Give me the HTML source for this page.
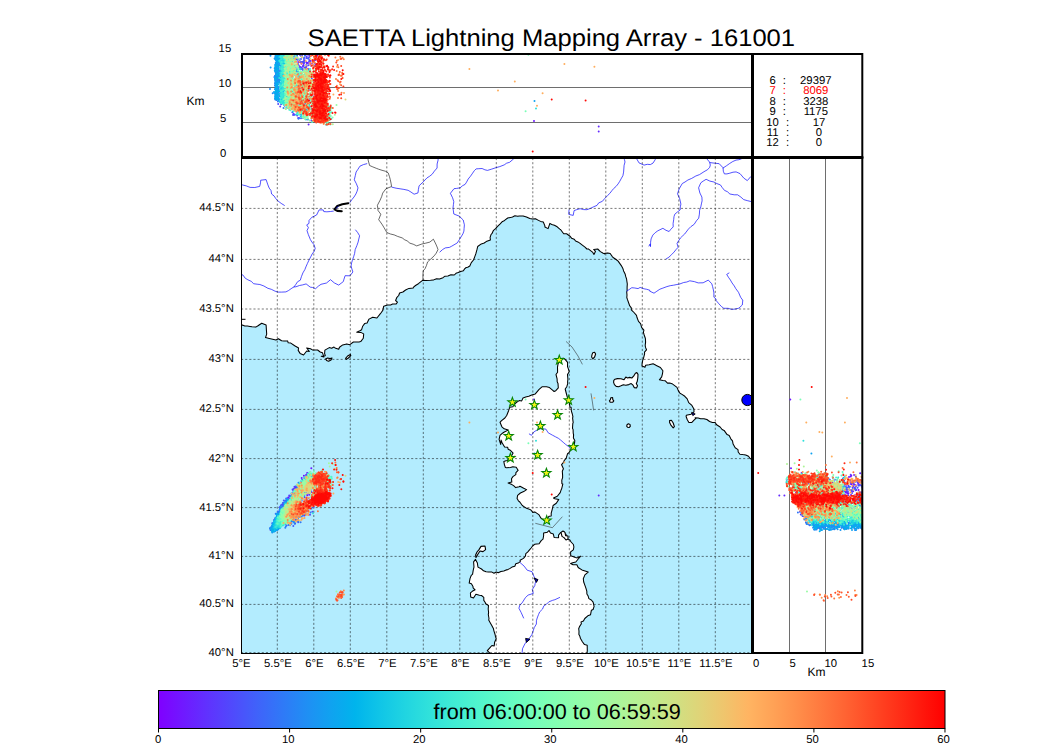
<!DOCTYPE html>
<html><head><meta charset="utf-8"><title>SAETTA Lightning Mapping Array - 161001</title>
<style>html,body{margin:0;padding:0;background:#fff;overflow:hidden}svg{display:block}text{font-family:"Liberation Sans",sans-serif}</style></head>
<body>
<svg width="1050" height="750" viewBox="0 0 1050 750" font-family="Liberation Sans, sans-serif" text-rendering="geometricPrecision">
<defs>
<clipPath id="cm"><rect x="241" y="158" width="511" height="495.5"/></clipPath>
<clipPath id="ct"><rect x="243" y="53.6" width="508" height="103"/></clipPath>
<clipPath id="cr"><rect x="754" y="159" width="108.2" height="493"/></clipPath>
<linearGradient id="rb" x1="0" x2="1" y1="0" y2="0"><stop offset="0" stop-color="#8000ff"/><stop offset="0.03125" stop-color="#7019ff"/><stop offset="0.0625" stop-color="#6032fe"/><stop offset="0.09375" stop-color="#504afc"/><stop offset="0.125" stop-color="#4062fa"/><stop offset="0.15625" stop-color="#3078f7"/><stop offset="0.1875" stop-color="#208ef4"/><stop offset="0.21875" stop-color="#10a2f0"/><stop offset="0.25" stop-color="#00b4ec"/><stop offset="0.28125" stop-color="#10c5e7"/><stop offset="0.3125" stop-color="#20d4e1"/><stop offset="0.34375" stop-color="#30e1db"/><stop offset="0.375" stop-color="#40ecd4"/><stop offset="0.40625" stop-color="#50f4cd"/><stop offset="0.4375" stop-color="#60fac5"/><stop offset="0.46875" stop-color="#70febd"/><stop offset="0.5" stop-color="#80ffb4"/><stop offset="0.53125" stop-color="#8ffeab"/><stop offset="0.5625" stop-color="#9ffaa2"/><stop offset="0.59375" stop-color="#aff498"/><stop offset="0.625" stop-color="#bfec8e"/><stop offset="0.65625" stop-color="#cfe183"/><stop offset="0.6875" stop-color="#dfd478"/><stop offset="0.71875" stop-color="#efc56d"/><stop offset="0.75" stop-color="#ffb462"/><stop offset="0.78125" stop-color="#ffa256"/><stop offset="0.8125" stop-color="#ff8e4a"/><stop offset="0.84375" stop-color="#ff783e"/><stop offset="0.875" stop-color="#ff6232"/><stop offset="0.90625" stop-color="#ff4a25"/><stop offset="0.9375" stop-color="#ff3219"/><stop offset="0.96875" stop-color="#ff190d"/><stop offset="1" stop-color="#ff0000"/></linearGradient>
</defs>
<rect width="1050" height="750" fill="#fff"/>
<g clip-path="url(#cm)">
<rect x="240" y="157" width="513" height="497" fill="#b3ecfe"/>
<g fill="#fff" stroke="#000" stroke-width="1.05" stroke-linejoin="round">
<path d="M238.9 326.2L242.4 325.1L244.8 326L247.4 326.1L250 326.4L252 326.8L255.8 327.1L258 325.8L261.7 323.2L266.1 325L266.4 329.9L266.7 334.1L265.5 337.6L269.3 338.4L271.6 338.9L275.9 340L278.4 338.7L281.6 340.8L284 341L287.6 340.9L288.2 342.8L290.8 343.1L294.7 345.7L298.6 348L298.2 350.4L300.1 353.4L303.6 355L306.7 351L309.4 351.5L306.7 348L310.5 348.7L312.4 349.9L314.7 350.1L317.6 350L320.2 352L322.5 352.8L323.9 356.9L321.2 356.3L325.3 355.7L324.6 353.5L324.9 350.1L329.3 347.6L331.6 348.3L334 347L335 348L338.7 349.3L339.5 347.2L342.7 344.9L346.8 343.9L349.8 344.7L353.4 342L356 341.9L359.1 341.9L360.7 341.6L363.3 338.2L363.7 333.9L360.8 332.4L356.7 332.2L359.9 330.7L361.6 329.7L362.7 326.2L364.6 323.6L367.1 323.1L369 319.1L372.7 317.2L376.9 318L380.4 313.7L381.8 311.8L382.8 310.4L383.7 306.2L387.5 305L390.6 304.9L392.6 304L396.2 303.9L397.4 302.2L395.6 300.5L396.7 297.7L398.7 295.5L399.6 293L402.9 292L405.6 290L408.9 288.4L413.3 288L413.3 287.4L415.5 285.5L418.4 283.7L420.3 282.2L422.9 280.2L425.9 280.4L430.5 280.3L433.4 280.1L434.7 279.4L436.5 278.8L439.5 279.1L443 277.7L445 276.2L447.9 276.1L450.9 274.8L454.3 275L456 273.3L458.2 272.5L460.7 271.4L463.4 270.7L464.6 268.9L466.2 267.5L467.7 267.3L469.8 266L471.3 262.6L473.5 260L474.7 256.9L475.8 253.9L476.2 252.3L476.9 249.9L477.7 246.5L481.3 243.9L484.2 243L486.2 241.6L490.4 240.1L490.1 237.3L491.1 234.4L491.9 233.7L493.5 230.3L495.6 228.7L497.3 226.6L499.9 224.1L502.5 221.4L503.7 221.1L505.5 219.6L507.7 218L511.4 217.3L512.5 216.9L514.9 215.8L517.7 216.3L519.3 216L523.1 215.9L526.5 217L529.8 218.5L532.3 219L535.5 218.8L538 220.1L540.6 221.4L543.3 222L544.9 225.9L544.9 227L548.1 228.6L549.9 223.4L551.7 224.5L554.4 225.2L557.2 226.8L559.8 229.1L560.5 229.5L563.7 233.7L566.6 233.8L570 236.2L571.7 238.3L574.1 239.2L575.6 241L577.9 241.9L580.1 243.4L582 244.9L585 247.2L586.9 249L588.3 248.9L592.8 252.4L594 254.4L595.5 251.3L593.7 249.4L597.7 249L600.4 251.6L603.2 253.2L605 253.9L604.8 253.2L607.8 252.9L610.2 253.5L612.1 256.3L613.5 257.8L616.1 259.5L618.1 261.1L619 262.4L621.3 265.6L623 268.8L623.6 270.9L625.1 273.9L625.7 276.4L626.6 279.2L627 282L627.3 284L627.1 287.1L627.1 290.6L626.7 291.8L627 295.1L626.8 297.5L627.4 299.4L628.8 303.2L629.7 305.8L631.3 307.9L631.3 309.8L634 312.5L636.5 315.3L637 317.5L638.5 321.4L640.6 323.6L641.6 327.4L643.9 330.1L643.4 332.3L644.2 335L645.4 338.5L645.6 342.1L645.2 345.2L645.5 347.4L646.5 349.8L644.5 352.1L644.6 353.8L643.4 358.7L642.8 359.8L642.1 363.6L642 366L645 367.3L645.6 365.2L649.1 364.8L653.1 363.8L655.5 364.9L656.3 365.6L660.4 367.5L662.9 370.8L662.5 373.7L661.7 376.9L659.4 379.8L662.8 380.4L665.1 380.7L667.5 383.1L669.7 383.1L672 383.7L677 387.4L678.3 390.6L680 393.2L682 394.4L684.8 396.3L687.2 398.9L688.7 402.6L691.9 405.4L693.9 409L694 411.9L691.1 414.2L686.3 415.3L686.1 416.5L687.3 419.8L688.9 422.5L691.9 422.4L694 420.2L695.9 418.4L695.1 417.8L698.2 418L700.6 418.7L703.9 418.7L706.9 419.5L709.6 421.5L712.4 422.6L715.2 422.5L716.6 424.7L720.1 427L722.1 429.5L724.1 430.4L727.1 434.6L729.2 435.5L730.8 438.8L732.5 440.8L733.1 444.1L735.2 447.8L738 449.6L738.2 452L739.9 454.2L742.7 454.6L745.7 454.9L748.5 456.2L750.1 458.5L752.5 459.6L756.4 459.3L758.7 459L762 460L770 140L225 140L225 326Z"/>
<path d="M500.7 444.4L499.1 439.4L500 435.4L502.5 433.2L504.3 432L508.2 430.1L504.2 428.8L501.9 426.8L500 422.3L501.3 420.8L504.9 418L506.7 415.5L508.6 410.7L509.3 408.6L509.7 407.3L512.9 406.7L514.5 404L517.3 401.9L519.2 400.6L521.7 400.9L523 398L525.7 397.1L528.8 396.3L531.7 395L535.3 393.9L536.8 392.1L539.1 389.4L542 386.8L546.5 386.7L549.5 387.6L552.8 390.3L554.1 391.5L555.8 390.7L558.3 387.9L558 383.4L557.2 381.8L557.1 378.9L556 374.5L557.6 372.3L557.5 367.2L558.1 363.6L559.6 361.7L560.4 358.5L563.9 358.3L565.3 359.6L567.6 362.4L567.5 366.6L568.2 368.4L569.2 371.7L567.5 374.6L567.7 376.9L567.9 379.2L567.6 381.7L567.7 383.6L566.8 386.7L565.2 389L566.2 393L567.8 398.9L568.4 399.8L569.4 402.9L569.9 407L571.1 407.3L571.4 411.2L572.3 414L572.9 416.7L572.6 418.1L573.2 422.6L572.8 423.5L572.5 428.3L573.1 429.6L573.2 433.1L573.6 434.8L573.4 437.9L574.8 440.6L574.5 443.4L573.8 447.4L573.3 447.3L571.9 448.4L570.1 450.7L568.9 452.8L567.5 453.8L566.2 458.1L563.9 461L563.9 461.9L561.6 464.7L562.3 466.3L563.4 468.7L562.3 471.3L562.6 475.1L562.6 477.6L561.8 480.1L561.9 483.8L562.8 484.1L561.7 488.6L561.2 489.7L560.2 492.6L557.3 496.3L553.5 498L554.8 498.7L558.8 499.4L556.3 503.2L553.1 505.5L552.1 509.8L551.2 513.1L551.2 516.1L549 516.3L545.5 520.4L543.7 520.2L541 518.2L538.8 514.6L534.8 511.9L532.8 512.4L530.9 510L528.6 508.9L526.5 508.3L524.7 507.1L522.3 505.5L519.8 502L518.4 500.8L517.1 498.4L517.6 495.4L520.4 493L523.7 491.6L526.6 489.6L523.7 488.2L520 486.2L519.2 486.7L515.7 487.6L513.6 485.6L511.9 484.6L508.1 483L511.8 482.1L511.5 478.8L512.9 476.6L515.8 474.6L515.9 472.7L518.1 470.3L516.2 467.2L512.8 466.7L510.5 467.4L506.6 467.8L505.4 467.6L504.4 464.6L503.8 461.4L506 460.8L507.6 460.4L509 457.5L511.2 456.4L513.1 453.1L510.2 450.2L508.2 449.3L507.7 447.3L504.6 446.9L502.1 442.8L501.1 440.1Z"/>
<path d="M475.5 559.4L477.4 563L477.5 564.1L478 567.1L481.5 569L483.5 570.8L486.1 571.8L488.4 571.9L491.5 571.9L494 573.2L496.2 572L498.2 572.8L500.9 571.5L503.8 571L506.7 569.7L507.2 569.9L510.1 568.4L512 567.1L514.8 566.2L515.8 563.8L518.2 563.1L520.3 561.6L520.1 560.3L523.5 558.4L525.5 556L525.8 553.6L527.6 552.1L529.5 549.9L531.1 548L532.6 546L534.6 544.3L539.1 543.7L541.2 540.6L543 539.2L543.6 536L543.6 533L547.4 532.2L549 530.5L550.5 533.1L553.3 533.9L554.1 537.4L558.6 537.8L558.5 535.1L560.6 532.6L564.2 531.9L563.8 533.6L566 534.3L566.9 536.9L567.9 539.4L569.7 539.7L571.1 542L573.4 544.5L573.9 547L573.3 549.8L570.6 551.8L570.7 555.7L572.8 556.5L575.4 557.5L577.2 557.9L580.7 556.2L578.2 559L575.8 562L572.7 562.8L570.6 563.6L573 564.7L576.9 564.7L578 567.2L578.5 567.8L581.9 569.9L588.2 572.1L584.9 574.9L583.3 578.7L583.7 582L585.1 585.9L585.9 588.2L586.8 591.1L586.9 594L588 595.7L588.9 598.6L591.3 600L593.1 602.2L594.1 606.3L593.1 609.5L591.4 610.2L590.5 614.8L587.8 615.8L584.8 618.5L583.4 621.1L581 622L581.4 623.8L579.5 626.6L578.7 628.8L579 631.2L578.9 634.5L579.8 636.1L580.5 638.5L581.7 640.6L582.2 641.5L584.5 644.6L587.2 645.2L587.3 650.8L587 652.9L586.1 654L587.3 658.5L586.7 659.8L587 661.7L587 664L584.8 664L582.6 664L580.4 664L578.2 664L576 664L573.8 664L571.6 664L569.4 664L567.2 664L565 664L562.8 664L560.5 664L558.3 664L556.1 664L553.9 664L551.7 664L549.5 664L547.3 664L545.1 664L542.9 664L540.7 664L538.5 664L536.3 664L534.1 664L531.9 664L529.7 664L527.5 664L525.3 664L523.1 664L520.9 664L518.7 664L516.5 664L514.2 664L512 664L509.8 664L507.6 664L505.4 664L503.2 664L501 664L498.8 664L496.6 664L494.4 664L492.2 664L490 664L490 661.7L489.4 660.2L489.7 656.9L488.8 654.6L490.1 653.4L487.3 650.6L489.8 647.8L491.9 645.5L494.2 646L494.6 642.2L496.2 638.7L495.5 636.7L495.1 634.5L493.9 630.8L493.4 628.4L491.5 624.9L490.2 622.7L488.7 620.1L489 618.5L488.3 614.5L488.6 612.5L488.2 609L488.5 605.5L485.7 603.8L485.1 602.2L483.8 600.4L483.8 597.3L481.5 595.5L479.4 595.2L475.9 594.2L473.5 598L470.7 597.1L470.4 592.8L472.3 591.3L475.1 589.8L473.1 587.8L473 586.6L471.4 583.7L469.2 583.1L470 578.6L471.2 575.5L472.6 574.1L473.2 570.4L473.6 568.5L474 567.2L473.6 561.8Z"/>
</g>
<g fill="#fff" stroke="#000" stroke-width="1.1" stroke-linejoin="round">
<path d="M481 546.4L485 546L485.6 549.6L483 551.6L480 551L478 554L476 557.6L475.6 555L477 552L479 549.6Z"/>
<path d="M613.8 380.4L615 379.2L617.4 378.6L621 378.8L624 379.8L625.8 377.1L627.6 378L629.6 377.4L631.8 378L633.6 376.2L635.4 373.2L636.8 372.6L638 374.4L637.8 378L637.2 381.6L636.3 383.4L637.5 385.8L636.6 387.9L634.2 387.6L633 385.2L631.2 383.6L628.8 384.6L625.8 385.2L623.4 384.8L621 385.8L618.6 386.7L616.2 386.4L614.4 384.6L613.6 382.4Z"/>
<path d="M592.8 352.8L594.6 352.2L595.6 354L594.6 357L592.8 358.8L591.6 357L592 354.6Z"/>
<path d="M610.8 397.8L612.6 397.5L612.8 399.6L613.8 400.8L612.6 402.3L610.2 402.3L609.4 400.8L610.4 399.6Z"/>
<path d="M627 424.8L628.4 423.8L630 424.4L630.3 426.3L629.1 427.5L627.5 427.3L626.7 426.1Z"/>
<path d="M669.6 420.6L671.4 420.3L673.2 423L674.4 426.6L673.2 427.8L671.1 425.4L669.6 422.4Z"/>
<path d="M325.6 359L327.6 358L330 358.6L332 358L331 360L328.6 361.2L326.6 360.4Z"/>
<path d="M345.6 358.4L347.6 356L350.4 354.4L350.8 355.6L348.4 358L346.4 359.4Z"/>
<path d="M561 532.4L563 531L565 532.4L565.6 535.6L568 536L568 539L566 540L564 537.6L562 536.4Z"/>
</g>
<g fill="none" stroke="#1010ff" stroke-width="0.72" stroke-linejoin="round" stroke-linecap="round">
<path d="M241 184.3L242.7 185L246.3 185.9L250.1 187.4L254.8 187.5L259.7 186.4L260.5 182.9L260.7 180.2L266.1 179.6L267.9 184.9L269.2 188.1L271 190.5L271.6 194L274 195.9L275.8 198.6L277.9 200.9L281.2 203.4L284.4 205.4"/>
<path d="M366.8 163.7L363.4 164.6L359.9 166.2L358 169.2L356.1 172L355.3 175.6L354.3 179.8L356.4 183.8L358 187.9L357.1 191.2L355.9 194L354 197L351.9 199.6L350 202.4"/>
<path d="M333.4 211.1L330.4 211.5L326.9 211.8L323.8 211.6L323.2 209.9L319.1 209.9L316.6 215L311.8 217.3L309 220.5L309 223.4L306.7 224.9L308.4 227.6L307 230.6L308.3 234.5L310.4 239.6L311.9 242L314 244.7L315.2 248.4L314.1 251.4L312.2 253.9L310.7 256.9L309 260.1L307.4 263.5L305.9 266.9L304.9 269.5L302.9 272.9L301.4 276.7L300.3 280.2L297.6 281.7L295.9 284.3L294 287"/>
<path d="M239.9 273.8L243 275.1L245.2 278.2L247.9 279.8L251.4 281.4L253.5 283.7L257.1 284.2L259.9 284.5L263.9 286L267.9 288.3L271.3 289.3L275.1 291.2L278.2 292.1L281.7 292.1L285.9 291.9L288.6 290.5L291.1 288.7L293.9 286.9L295.9 286.8L299.4 285.5L302.7 284.9L306.1 283.9L310.2 287.1L312.7 287.5L315.6 288.7L318.3 286.2L321 284.3L326.5 283L330.5 279.7L334.3 282.9L338.7 285.1L343.3 281.6L344 279.1L345.1 275.7L349.9 275.8L352.9 272L351.9 269L351.1 265.9L351.6 262.9L352.4 260.3L353.6 256.8L354.6 253.5L355.2 249.6L356.9 245.5L358.1 242.1L358.8 239L359.6 235.8L357.7 232.6L355.6 230"/>
<path d="M391.9 187.2L396.1 188.2L400.1 188.8L403.9 189.4L408.1 190.3L410.9 192L414.1 194.2L418 192.9L418.4 189.5L419.1 185.8L422.9 182.2L427 177.9L429.7 176.2L432.2 174.2L434.4 171.1L437.1 168L437.1 164L438.1 160.1L438 156"/>
<path d="M439.9 252L442.5 249.6L445.3 247.9L449.4 247.4L451.7 246.2L457.3 242.9L459.5 239.4L462.9 233.9L463.9 231.1L464.1 228.4L464.4 224.8L463.2 220L459.2 216.1L453.8 214L453.4 210.9L453 208.1L453.4 204.7L453.8 201.7L452.6 197.8L450.4 193.3L454 188.7L456.7 188.4L460.1 187.8L462.6 185.7L465.1 184.4L466.5 182.2L468.2 179L470.5 176.2L472.1 173.9L474.3 170.7L476.1 168.9L478.8 168.7L482.1 168.5L484.9 169.8L487.5 170.4L491.7 169.1L495.9 167.7L499.8 166.6L504.2 164.9L506.6 163.2L509.6 162.3L513.8 158.7L514.4 156"/>
<path d="M625.5 155.9L624.4 159.3L625 162L624.1 165.3L623.9 168L623.6 172.1L622.9 175.7L621.5 178.1L619.7 181.4L618.1 183.9L616.1 186.4L613.7 188.5L612.1 190.4L609.8 193.4L607.6 195.5L604.8 198.4L602.4 201.3L598.7 202.9L597 205.4L593.8 206.7L590.6 208.3L587 209.7L583.7 209.6L580.1 208.7L576.6 209.7L574.1 210.6L573.2 215.4L568.8 214.4L569 210"/>
<path d="M637.2 156.2L636.8 159L639 162.9L644.1 165.1L647.3 164.3L650.3 164.6L653 163.1L655.2 159.7L655.6 156"/>
<path d="M626.9 291.1L631.8 287.7L634.8 288L638.1 288.6L640.1 287.4L644 288.8L646.8 289.3L649.9 290.3L649.6 291.1L654 293.2L656.9 291.2L659.9 289.2L662.9 288.1L666.9 286.6L670.2 285.7L673.6 285.2L676.9 284.5L679.7 284L683.7 282.5L686.8 282L689.8 280.8L694.3 281.6L698.2 282.9L703.1 282.8L708.3 280.1L711.8 283.8L712.6 286.6L713.4 290L713.9 292.9L713.9 297.2L716.2 299.1L715.8 300.1L718.9 303.8L721.5 306.6L723.8 308.3L728.1 308.3L731.8 309.4L735.4 309L738.8 308.2L742.3 305L742.8 300L742.5 299.9L740.6 297.2L738.5 292.3L735.7 288.5L734.3 286L732.1 283L730.4 280L728.4 277.2L726.7 274.4L729 273"/>
<path d="M707 155.5L706.7 158.7L709.6 162.1L710.3 165.1L709.6 167.6L707.2 169.9L704 171.7L699.5 174.6L695.8 176L691.7 178.4L687.9 180L685 182L682.3 183.5L679.2 188.8L677.5 193.8L679.7 198.7L680.9 204.1L680.3 206.9L680.1 210L677.4 212L674.8 214.2L674 216.6L673.7 219.7L673.1 223.4L673.2 226.9L670.9 229.2L669.1 231.5L666 230.3L662.9 228.3L657.8 230.8L655.2 232.7L652.8 235.1L651.1 238.9L650.6 242.2L650.5 246.6L650 244.1L649 246"/>
<path d="M710 162.6L714.8 163.2L719.2 163.7L723.1 167.8L723.3 171.2L724.4 173.9L726.9 173.9L729.8 173.2L733 172.2L736.1 171.9L740 173.6L743.8 178.1L747.3 180.6L750.7 176.7L754 175"/>
<path d="M723.1 168L726.4 165.8L729.8 163.4L732.8 161.5L736 160.1L738.9 159.7L741.6 158.8L744 156"/>
<path d="M753.6 202.3L750.9 201.5L747.2 200.6L743.7 199.6L740.9 197.1L737.6 194.8L734.2 194.8L729.9 194L727.4 191.7L724.5 190.4L722.2 187.5L720.4 184.9L716.9 183.6L713.9 182L709.9 181.1L706.1 179.3L703.2 181.1L700.8 182.8L698.6 187.8L699.9 193L701.9 197.1L702.1 200.8L701.4 203.9L700.8 206.9L699.6 210.2L699.4 214.1L698.7 218.2L696.4 220.8L694.2 224.3L690.8 226.7L688.4 229.1L684.6 234.1L682.8 235.7L680.4 238L677 243.3L678.1 247.3L676 249.6L674 252.1L671.6 254.6L668.9 257.2L666 259"/>
<path d="M529.3 434L531.5 435.3L533.8 432L537 430L540.9 428.7L545.9 429.1L548.2 432.8L552.7 435.3L555.5 436.8L558.4 438.3L560.7 440.1L563.2 442.3L565.6 444.4L568.7 446.7L570.7 448.4"/>
<path d="M520.1 562.6L524.1 566.1L527.2 570.2L532 571.7L534.2 576.9L536.4 579.9L535.2 583.3L534.8 585.6L532.3 589.6L533.3 593.4L528.1 595.1L525.5 597.5L523.9 600L522.1 602.9L519.9 605L518.9 608.2L521.2 612.6L523.6 618"/>
<path d="M559.6 597.5L554.9 599.7L552.7 600.3L548.9 601.8L546.6 604.1L543.9 605.8L542.5 609.1L539.7 611.9L538.5 614.6L537.2 618L536.4 620.8L536.4 624L534.3 627.5L532.7 632.2L531.9 634.7L529.5 638L527.6 640.2L524.8 644L522.5 648.7L522 654"/>
</g>
<path d="M367.8 155.9L368.1 160L369.6 165.5L372.8 166.9L376.3 168.3L378.6 169.2L382 170.3L385.3 171.2L388.2 172.9L389.4 176.4L390.3 179.7L391 183.1L391.6 186.5L385.9 188.8L382.7 193.1L381.7 196.5L380.1 200.2L377.4 205.3L378.1 210.6L380.8 214.2L378.7 219.7L380.4 222L382.4 224.9L384.2 227.9L386.9 232.6L390.5 234L394.2 234.9L397.6 236.4L402.2 237.9L404.7 239.8L407.2 240.9L409.9 243.2L413.2 244.2L416.7 245.9L421.9 244L425.6 243.2L429.8 242.1L433.4 239.2L435.8 244L437.1 247L438 249.6L436.2 253.2L434.2 255.8L431 258.8L427.6 261.9L426.5 265.4L425.1 268.6L423.2 270.9L423 274.1L422.9 276.4L423 280" fill="none" stroke="#000" stroke-width="0.62" stroke-linejoin="round" opacity="0.95"/>
<g fill="none" stroke="#222" stroke-width="0.55">
<path d="M566 341.4L572 347L578 356L582.4 364.4"/>
<path d="M591 393.4L592.4 402L593.6 410.4"/>
<path d="M535.3 523.3L552.4 527.7L562.4 516.7"/>
</g>
<path d="M348.3 203.2L342.3 204.3L337.3 205.9L334.5 209.3L337.3 210.9L341.7 211.2" fill="none" stroke="#000" stroke-width="2.1" stroke-linejoin="round" stroke-linecap="round"/>
<path d="M335.6 208.6L338.5 206.2" fill="none" stroke="#0000d0" stroke-width="0.9"/>
<path d="M534 578L538 579.6L536.4 582.4Z" fill="#0000c0" stroke="#000" stroke-width="0.9" stroke-linejoin="round"/>
<path d="M525.6 638.4L530 639.2L526.4 642.4Z" fill="#0000c0" stroke="#000" stroke-width="0.9" stroke-linejoin="round"/>
<path d="M691.6 412.4L695.2 414L692.8 415.6Z" fill="#0000c0" stroke="#000" stroke-width="0.9" stroke-linejoin="round"/>
<circle cx="747.4" cy="400" r="5.6" fill="#0000ff" stroke="#000" stroke-width="1"/>
<g stroke="#000" stroke-width="0.7" stroke-dasharray="2.1 2.05" opacity="0.75" fill="none">
<path d="M277.3 158V653.5"/>
<path d="M313.8 158V653.5"/>
<path d="M350.3 158V653.5"/>
<path d="M386.8 158V653.5"/>
<path d="M423.3 158V653.5"/>
<path d="M459.8 158V653.5"/>
<path d="M496.3 158V653.5"/>
<path d="M532.8 158V653.5"/>
<path d="M569.3 158V653.5"/>
<path d="M605.8 158V653.5"/>
<path d="M642.3 158V653.5"/>
<path d="M678.8 158V653.5"/>
<path d="M715.3 158V653.5"/>
<path d="M241 208.4H752"/>
<path d="M241 259.4H752"/>
<path d="M241 309H752"/>
<path d="M241 359.4H752"/>
<path d="M241 409.4H752"/>
<path d="M241 458.6H752"/>
<path d="M241 507.6H752"/>
<path d="M241 556.4H752"/>
<path d="M241 604.4H752"/>
<path d="M241 652.6H752"/>
</g>
<g fill="none" stroke-width="2.0" stroke-linecap="round">
<path stroke="#7a08ff" d="M306.7 483.2h0m-18.4 14.2h0m-6.9 14h0m15.9-23.3h0m-7.2 20.9h0m-1.9-5.7h0m-7.1 15h0m17.5-33.9h0m-7.8 19.6h0m9.5-8.2h0m-10.4 8.6h0m8.3-2.4h0m7.3-19.9h0m-18.7 20.7h0m17.8-9.9h0m3.4-8.6h0m7.7-0.4h0m-40.1 36.7h0m28.3-44.9h0m-22.8 34.5h0m9.9-4h0m14.9-18.9h0m1.3-14.3h0m-7.1 10.7h0m4.2-3.4h0m-11.5 16.2h0m11.6-13.6h0m-19.6 26.8h0m13.6-10.9h0m7.3-20.4h0m-4.7 13.8h0m12.9-9.7h0m-16.2 5.9h0m5.4 0.1h0m9.1-11.9h0m-1.7 13.3h0m-15.3 7.3h0m5.2-13.7h0m3.5 1h0m-11.7 10.9h0m0.5 0.2h0m2.6-2.2h0m0.2 5.9h0m-0.7-7.7h0m-4.9 8h0m2.7-10.1h0m9.1 4.3h0m-14.9 21h0m22-26.4h0m-5.5-5.1h0m-15.8 20.7h0m19.3-24h0m-0.3 4.7h0m-1.3 6.7h0m-22 19.4h0m24.7-23.6h0m-0.6 8.1h0m-22.4 12.7h0m-7.2 14.8h0m13.7-20h0m11.4-13.7h0m7.3-1h0m3.5-5h0m-13.7 0.9h0m-14.3 25.2h0m10.8-13.1h0m13.9-21.7h0"/>
<path stroke="#7019ff" d="M306.7 500.2h0m-0.6-21.7h0m11.1 4.3h0m-18.2 18.1h0m2.9-14.8h0m9.3-10.5h0m-9.4 16h0m-1.4 0.8h0m0-3.6h0m15.7-11.7h0m-4.8 14.8h0m-16.6 8.3h0m6.8-17.9h0m0.2-4.3h0m-7.5 10.4h0m-2.2 18.5h0m17.1-13.4h0m-10.9 1.5h0m-18.7 18.3h0m36.2-28.5h0m-22.2 7.3h0m7-3.8h0m5-4.4h0m-20.7 23.4h0m28.1-19.6h0m-15.3 11.4h0m9.2-18.5h0m3 2.2h0m-8.3 10.3h0m-6.2-0.3h0m8.6-9h0m3.4 1.6h0m4.1 0.6h0m-22.4 22.5h0m0.3-6.7h0m6.4-8.3h0m14.3-11h0m-30.7 38.7h0m17.9-28.7h0m-4.6 7.7h0m-9.3 12.8h0m0.3-6.7h0m16.7-3.7h0m5.2-11h0m5.8-23.4h0m222.7-68.8h0m-247.8 112.5h0m13.4-15.9h0m-5.4 8.8h0m-0.8-3.3h0m11.6-18.5h0m-0.2 4.3h0m-10.8 1.4h0m2.8 4.8h0m-4.9 0.9h0m11.8 0.6h0m-15.2 10h0m12.6-6.6h0m-15.9 7.7h0m18.5-15.9h0m5.8-9.1h0m-11.7 13h0m1.9-5.4h0m-0.9-0.4h0m4.7 5.1h0m-15.5 6.5h0m19.7-17.2h0m7.9-7.8h0m-29.6 32.2h0m20.4-16.2h0m8.4-10.8h0m-5.8 0.2h0m-26.9 35.5h0m20.6-22.3h0m-13 5.9h0m5.5 5h0m3.9-11.7h0m-16.8 14.6h0m13.2-20h0m-8.4 11.2h0m12.3-12h0m7.1 2.9h0m-2.5-8.3h0"/>
<path stroke="#652afe" d="M299.7 494h0m6.2-4.7h0m-3.3 4.2h0m-4.1-0.5h0m4.1-1.4h0m7.1 1h0m3.1-9.4h0m-2.1 8.1h0m-12.2 6.2h0m-10 7.7h0m18.2-22.7h0m-14.1 15.1h0m10.1 0.9h0m-15.3 3.5h0m12.6-9.5h0m1.1-4.1h0m-19 16h0m18.5-18.9h0m6.9-7.1h0m1.8 16.3h0m-13 5.8h0m-2.4-5.7h0m20.9-10.2h0m-16.6 1.4h0m-11.9 16.6h0m2.1-1.7h0m4-5.8h0m3.3-1h0m-3.2 5.9h0m23-15.7h0m-35.3 28.6h0m25.8-37.9h0m292.7 20.6h0m0 0h0m-300.1-6.8h0m-13.5 20.9h0m18.1-18.8h0m-1.7 0.2h0m-23.2 25.7h0m-5.4 6.7h0m26.3-6.8h0m-14.2-14.4h0m10.4 0.3h0m-10.9 1.3h0m7.5-0.7h0m13.4-11.8h0m-1.8-4.7h0m-33 43.4h0m18-23.5h0m13.1-23.2h0m-6.2 34.6h0m9.3-28.4h0m3.1-2.3h0m-6.5 27.2h0m-21.2 0.3h0m10.4-13.9h0m6.5-2.4h0m1.4-13.5h0m-2.3 3.6h0m-1.2 8.5h0m7.9-9.2h0m-28.6 37.5h0m26.5-12.2h0m-7.3 7.4h0m-5.8-21.8h0m-2.1 5.8h0m19.9-17.2h0m2.2-14.1h0m-29 50.5h0m30.6-42.9h0m-17.7 16.6h0m-9 14.8h0m9.6-15.7h0m3.6 23h0m8.7-4.1h0m2.1-21.7h0m-2.1-16h0m-17.8 23h0m9.5-4h0m16.3-11.9h0m-12.9 31.1h0m-0.3-19.8h0m-18.5 10.8h0m15.5 11.4h0m9.3-25.8h0m-8.6-0.3h0m-13.9 22.2h0m7.4 6.3h0m4.7-0.5h0m0.8-25.3h0m12.6-15.2h0m-2.8 5.8h0"/>
<path stroke="#5a3afd" d="M299.7 487.7h0m3-6.6h0m-7.6 42.4h0m-6.7-20.1h0m5.9-9.3h0m2.8 23.2h0m13.2-41.6h0m-13.4 17.8h0m7.5-1h0m-11.2 10.5h0m13.1-13h0m-9.8 11.9h0m2-17.2h0m0.4 4h0m-15.6 17.3h0m10.9-3.8h0m10.3 6h0m-20.3-2.4h0m-5.9 7.4h0m-0.2-1.3h0m23.2-21.9h0m-21.2 18.7h0m25.9-23.2h0m-4 7h0m1.1-5.3h0m-0.8 3.2h0m-17.4 15.7h0m14.5-8.2h0m1.1-4.5h0m-18.6 16h0m-1.5-2.3h0m-6.3 12.9h0m13.4-9.7h0m4.2-16.2h0m-18.9 33.6h0m28.9-46.2h0m-21.5 26.3h0m10.7 15.6h0m14.5-42.2h0m3.8 6.4h0m-25.5 18.8h0m17.2-20.8h0m7.6-0.3h0m-21.3 15.2h0m19.8-25.7h0m-13 25.8h0m1.2 19.4h0m3-32.8h0m8.3 1.7h0m-23 20.8h0m28.4-23.3h0m-30.3 24.3h0m0.1 2.7h0m7.5-17.8h0m8 23.4h0m-17.5-9.4h0m12.1-7.6h0m2.7-15.3h0m2.2 0.8h0m-4.1 11h0m-6.2 6.8h0m20-21.4h0m-19.7 21.2h0m6.8 1.3h0m6.2-19h0m-5.3 7.8h0m-13.8 11.6h0m21.7 7.3h0m-1.4-28.6h0m-23 26.8h0m32.2-19.5h0m-5.8-6.2h0m-22.9 22.1h0m3.2-4.3h0m12.5-10.8h0m-4.5 5.9h0m-5.9 6.7h0m29.1-19.2h0m-33.1 20.9h0m16.8-21.3h0m-13 21.5h0m-5.1 8.7h0m6-16.8h0m15-11.1h0m5.2 21.6h0m-14.3-17.8h0m-7.9 14.4h0m18-17.7h0m-9.1 33.2h0m8.3-8.2h0m-6.7 3.2h0m1.8-1.6h0m-15.5-7.5h0m21.7-17.3h0m-23.9 21.3h0m3.9-5.4h0m16.7-14.5h0m-1.9-6.6h0"/>
<path stroke="#504afc" d="M294.2 496.6h0m-10.7 6.1h0m1.8 4h0m17.5-18.7h0m4.3-0.5h0m-15.9 11.5h0m22.4 7.9h0m-15.4 15.4h0m-9.8-11.5h0m15.2-24.6h0m-6 4.1h0m-16.8 15.1h0m0.8 1.6h0m17.5-15.9h0m4.6-2h0m8.7 22.7h0m-27.1-6.8h0m8.1-6.6h0m12.1-16.3h0m3.5-1.6h0m1 34.3h0m-13-25.7h0m-3.6 8.8h0m8.8-10.3h0m11.1-2.8h0m-3.1-1.9h0m-1.6 4.1h0m-1-1h0m-6 14.4h0m-18.5 13.7h0m-0.6-6.2h0m13.6 11.7h0m-1.7-19.8h0m-6 5.4h0m16.2-7.9h0m-5.6-12.9h0m-10.3 16.5h0m-3.2 1.5h0m12 9.7h0m-12.6-7.2h0m16.4-14.2h0m2.6-3.5h0m-10.3 11.4h0m-12.5 18.3h0m24.1-24.4h0m-9.1-3.2h0m-0.5 12.5h0m-10.8 21h0m11.8-6.6h0m-2.5-1.3h0m0.9-23.3h0m-5.4 4.8h0m15.8-18.3h0m-35.1 49.8h0m30.8-33.9h0m-7 24h0m14.8-9.5h0m-13.1-14.4h0m-8.2 13h0m9.9-19.8h0m5.4 28.2h0m6-37.1h0m-12.9 7.9h0m-2.9 3.8h0m3.9 6h0m-7.4 3.8h0m-5.3 4.5h0m2.5-2.2h0m20.3-16.1h0m-26.5 25.6h0m13.7 7.3h0m-16.1-7.6h0m15-12.9h0m4.3-9.7h0m-2.6 3.6h0m4.8 0.9h0"/>
<path stroke="#455afb" d="M292.3 498.5h0m-11 11.5h0m5.8-0.2h0m-7.7 1.7h0m21.7-18.5h0m-12.2 7.5h0m2.7-5.4h0m12.3-13.4h0m-16.6 24.9h0m18.1-27.8h0m-4 14.3h0m-9.1 1.4h0m16.8-11.2h0m-4.9 12.4h0m-10.9 30.4h0m7.5-40.6h0m-1.3 30.8h0m-17.4-6h0m12.9-20.9h0m-3.8 9.3h0m-12.7 15.7h0m4.4-11.3h0m21.4 9.1h0m-8.5-20.2h0m11.8 17.2h0m-22.6 8.1h0m-2-10.8h0m2.7-5.9h0m22.8-2.6h0m-31.1 15.6h0m25-22.5h0m3.3 0.4h0m3.9-5.7h0m-13.4 15.4h0m7.9-10.9h0m2.9-2.2h0m1.2-6.1h0m-2.6 9.2h0m-26 16.1h0m15.5-15.3h0m-3.8 29.6h0m8.7-36.8h0m-18.6 20.5h0m5.2-0.3h0m9.9 12.1h0m6.3-36.8h0m-15.2 27.7h0m-1 17.6h0m11.9-38.5h0m-4.5 14.6h0m7.8-14h0m-2.8-0.4h0m-18.3 23.9h0m3.6-3.3h0m-0.5-1.9h0m15.1-19.7h0m5.1-5.1h0m-3 11.9h0m-7.4 5.1h0m-16.1 28.5h0m4.1-17.9h0m30.2-29h0m-30 25.6h0m-0.3 11.2h0m16.2-20.2h0m-14.4 11.7h0m20.5-22h0m-14.1 20.9h0m15.5-22.2h0m-15.3 16.3h0m11.9-20.2h0m-1.9 8.3h0m-16.1 11.4h0m17.9-9.9h0m-21.4 17.1h0m19.2-13.6h0m-16 15.7h0m26.5-24h0m-16.2 3.1h0m-14.9 26.2h0m27.3-4.3h0m-5.2-22.7h0m-6.2 3.3h0"/>
<path stroke="#3a69f9" d="M287 499.2h0m18.7-12.8h0m-3.6 6.8h0m-12 32h0m-5.4-22.1h0m29-15.1h0m-34.8 36.7h0m4.5-19h0m11.3-3.1h0m13.5-26.1h0m-8.8 38.9h0m-17.9-3.9h0m-0.2-0.8h0m12.6-4.9h0m5.9-18.9h0m4.1-8h0m1 10.3h0m-10.4 17.8h0m1.7 13h0m-7.7-20.2h0m-2.5 4.1h0m-2.3 0.8h0m17.9-7.9h0m9.3-9.2h0m-13.8 13.4h0m12.7-22h0m-13.1 15.6h0m7.5-9.2h0m-3 30.4h0m-20.5-4h0m8.4-4.9h0m14-18.5h0m2.2-7.5h0m-19.6 21.3h0m9-6.2h0m-14.3 14.4h0m4.5-6.1h0m7.3-1.7h0m7.4-13.1h0m7.5-13.7h0m-15.8 20.2h0m-4.7 6h0m14.5 14.8h0m-9.2-18.9h0m-8.4 5.7h0m-7.8 10.1h0m25.3-28h0m-2.7 2.8h0m-6 15.6h0m8.9-12.9h0m-20.8 18.2h0m-5.3 8.8h0m12-10.5h0m-1.4-2.1h0m1.8 1.6h0m8.7-8.5h0m-13.4 6.9h0m14.9-16.6h0m-5.4 9.4h0m8.7-9.9h0m-18.4 22h0m10.6 9.2h0m9.3-4.3h0m-30.3 7.8h0m22-22.6h0m-13.2 9.5h0m-2.5 3.2h0"/>
<path stroke="#3078f7" d="M299.7 496.8h0m-3.1 24.4h0m11.3-44.3h0m-5.8 2.9h0m-4 7h0m-14.5 23.9h0m24.1-4h0m-21.6-8.2h0m-9.2 15.7h0m33.6-1.6h0m-9.9 9.7h0m-2.1-39.5h0m0.1 7.3h0m-6.2 13.2h0m-16.1 18.6h0m28.6-39.9h0m-14.3 15.9h0m-15.5 31.3h0m-0.7-2.7h0m2.5 1.2h0m-0.1-3.7h0m9-16h0m-7.9 20.2h0m2-5.2h0m0.4-14.1h0m-4.1 19.3h0m1.8-14.7h0m-1.8 9.6h0m0.4 1.7h0m-2.3 4.5h0m-0.2-4.3h0m2.6 2.4h0m-0.9-1.6h0m0.1-0.5h0m5.8-13h0m7.5-10.5h0m-13 23.8h0m0.6 1.7h0m-3 1.6h0m4.5-1.7h0m-3.4 2.1h0m-1.9-1.5h0m11.1-18.1h0m-9.2 15h0m-2 3.2h0m7.6-6.2h0m-4 1.5h0m-0.5-1.7h0m-1.9 3.1h0m8.2-16.8h0m-11.6 21.2h0m6.3-5.7h0m1.7 0.2h0m12.5-17.6h0m-13 18.6h0m-1.9-0.2h0m-1.3 3.9h0m2.3 0.6h0m1.2-0.3h0m-4.7-1.9h0m1.4 0h0m6-13.8h0m-4.6 12.3h0m1.1-11.9h0m4.2-4.8h0m12.8-8.1h0m-17.4 23.2h0m-0.8 2.8h0m-0.1-1.7h0m8.4-14.1h0m-10 16.5h0m0.4-1.3h0m12.2-21.7h0m-8.8 23.8h0m-4.1 0.3h0m1-5.1h0m30.3-16.4h0m-18.4-5h0m-9.6 22.1h0m-1.8 2.8h0m-3.8 0.7h0m3.9-3.4h0m0.1 0.4h0m1.6 0.1h0m-2.4 3.5h0m2.1-1.3h0m-4 1h0m11.7-16.6h0m-8.4 18.5h0m26.4-14.4h0m-25.1 12.1h0m-4.4-2.7h0m19.6-24.7h0m-19 24h0m9.3-12.6h0m-6.8 13.5h0m-1.5-0.3h0m-0.3-0.8h0m1.1 5h0m9.8-19.3h0m-9.7 17.2h0m0.3-0.6h0m7.2-18.3h0m-8.4 20.2h0m-1.8-3h0m1.8 2.8h0m15.3-23.8h0m-17.3 24.3h0m-1.1 1.9h0m0.6-0.1h0m7.1-17h0m-2.3 14.5h0m7-21.2h0m-8.8 21.5h0m2.3-1.4h0m12.1-20.6h0m-4.5 18.4h0m-9.9 4.2h0m1.3-5h0m21.2-1.9h0m-20.7 3.6h0m2.6-0.7h0m-4.5 3h0m-4.1 3h0m13-20.9h0m-10.5 18.2h0m0.2-1.6h0m0.9 0.6h0m1.9-1.1h0m22.6-13.1h0m-22.3 16.9h0m9.8-30.4h0m-14.8 30.6h0m7.4-11.8h0m-3.7 7.2h0m12-24.7h0m3.7 20.5h0m-15.3 6.9h0m0.9 1.1h0m8.6-27.3h0m-2.5 7.4h0m-9.6 21.2h0m-1-0.8h0m3-4.1h0m0.5 0.9h0m0.3 3h0m2.3-10.5h0m-2.1 9.7h0m11.6-3.2h0m-10.6-12.8h0m-1.5 16.4h0m4.9-12.5h0m8.4 8.1h0m-11.9 2h0m16.9-2.4h0m-16.8-1h0m-4.1 6.5h0m1-2.2h0m-1.7-1.5h0m-0.5 3.7h0m4.2-3.6h0m-0.9-0.6h0m1.8-1.1h0m-0.8 0.4h0"/>
<path stroke="#2587f5" d="M270 528.6h0m5.3-2.1h0m-3.5 2.5h0m10.2-12h0m15.9 1.6h0m-18.6 6.5h0m-4.1 1.6h0m-0.4 1.6h0m0.2-0.7h0m0.4-1.1h0m3.6-1.8h0m-3.1-1.3h0m0.6-0.1h0m-2.5 5.6h0m17.9-30.8h0m-3.6 25.1h0m-12.9 2.1h0m3.7-3.7h0m-4.2 4.6h0m0.4 1.7h0m1.1-0.1h0m1.8-4h0m-2.8-0.5h0m2.3 3.6h0m-3.6-2.6h0m14-16.4h0m-12.6 14.9h0m1.6 3.3h0m-1.2 0.4h0m0.7 0.9h0m20.8-7.8h0m-19 6.5h0m-2.8-0.5h0m1.6-0.2h0m0.1-2.4h0m-0.9-0.7h0m-0.6 2.3h0m0.8-1.4h0m1.2 0h0m-2.3 6.5h0m2.8-6.7h0m-1.3 0.6h0m-4.8 2.6h0m6.8-1.9h0m-2.9 2h0m3.7-2.3h0m-5.2 1.7h0m2-0.4h0m-0.3-1.3h0m-2 2.8h0m11.8-23.9h0m-6 18.1h0m-1.6 5.2h0m-4-3h0m2.2-0.5h0m2.1-2.4h0m-1 5.6h0m-6.2 3.7h0m3.6 1.4h0m-3.8-4.1h0m13.9 0.8h0m-11.6-0.1h0m22.1-11h0m-17.8 9.2h0m16.3-29.4h0m-20.1 30.5h0m0.7 0.7h0m22.8-8.1h0m-8.4 4.8h0m-12 1.9h0m-2.6 2.1h0m5.1-4.4h0m-2.3 2.8h0m-1-0.1h0m10.2-24.3h0m-12.8 27.2h0m-0.9 0.8h0m2.3-4.2h0m7.4-13h0m-5.8 12h0m0.8 0.1h0m-0.5 3.1h0m-1.8-4.8h0m7.3-9.9h0m-7.2 15.1h0m1.5-1.2h0m2.7-2.6h0m3.7-12.2h0m19 0.1h0m-27.4 13.3h0m0.5-4.4h0m0.3 3.2h0m21.4-7.4h0m-23.8 8.9h0m1.5-2.8h0m22.1-2.7h0m-22.3 4.3h0m-1.1 1h0m3.3-4.6h0m-1.4 4.9h0m-0.3 1.8h0m16.7-23.1h0m1.9-5.2h0m-18 24.8h0m0.3-2.8h0m1.1 2.5h0m0.8 0.6h0m-4.6 3.3h0m-0.3-2h0m1.1 2.9h0m2.2-5.4h0m-1.9 4.4h0m15.3-29.5h0m-10.6 25h0m-5.9 2.8h0m4.2-3h0m2.9-6.6h0m8.8 5.9h0m-3.3-21.3h0m-7.5 19.8h0m-3.7 4.6h0m1.3-0.3h0m-4.5 2.4h0m29-13.2h0m-27.9 12.7h0m26.9-12.7h0m-24.6 11.7h0m1.1-2.5h0m-0.5 2.5h0m-1.7 0.4h0m2.3-1.9h0m35.4-16.7h0m-34.6 16.9h0m0.3 0h0m-2.9 5.5h0m1.6-5.1h0m2.4-3.9h0m-1.7 2.8h0m14.8-0.9h0m-16.5 4.2h0m15.5-10.2h0m-13.5 7.6h0m-0.2 1.7h0m-0.6 1.1h0m-2.1-0.1h0m3.5-1.8h0m0.2 1h0m18.4-31.2h0m-21.2 30.6h0m10.9-0.2h0m-8.8-0.5h0m-3.2 5.6h0m1-3.7h0m-1.4-1.6h0m4.9-0.3h0m0.5-2.1h0m-1.3 4.8h0m-0.9-5.2h0m-3.2 4.8h0m-0.7-0.7h0m19.6-24.3h0m-16.7 20.9h0m0.4-0.7h0m1.5 1h0m-1.5 1.6h0m-1 4.1h0m3.2-6.8h0m14.9-1.6h0m-20.5 7.8h0m2.6-3.3h0m3.8-6.7h0m8.5-11.3h0m-3.9 2.7h0m2.3-5.9h0m-10.3 24h0m0-10.2h0m0.6 7.6h0m3 0.9h0m-3.6-0.8h0m-1.8 1.4h0m2.2-0.9h0m0 0.3h0m17.9-28.8h0m-18.4 27.2h0m0.2-1.6h0m3.4 0.1h0m-1.6 3.3h0m13.8-28.1h0m-12.9 25.7h0m-2.7 1.2h0m8.3-23.1h0"/>
<path stroke="#1b95f3" d="M276 525.5h0m-0.8 0.6h0m1.6-1.2h0m4-1.6h0m-6.5 4.9h0m12.7-25.7h0m-11.8 24.9h0m1.3-3.4h0m-0.6 0.1h0m2.9 2.3h0m-3.9 1h0m0.7-0.8h0m-0.8-3.2h0m2 4.1h0m-2.3 1.4h0m2.8-3.8h0m16.6-3.5h0m-15.2 4.8h0m-5.7 2h0m15.8-21.2h0m-12.7 13.2h0m1.1 4.4h0m-1.6 0.5h0m1-2.7h0m-5.1 5.3h0m8.5-18.7h0m-5.8 18.9h0m-1.3 0.6h0m5.6-1.9h0m-1.9 0.5h0m0.1-2.7h0m24.3-8.3h0m-25.8 12h0m3.1-5.2h0m-0.2 0.2h0m-2.5 1.6h0m-2.3 3.1h0m2 1.4h0m1-1.3h0m29-13.8h0m-32.6 13.6h0m6.4-6h0m-3.4 5.4h0m-1-0.6h0m2 2.3h0m0.2-7.6h0m10.5-18.1h0m-9.7 23h0m-0.8 0.2h0m16.2-5.4h0m-10.6-3.9h0m-7.1 9.9h0m1.6-2.5h0m3.2-3.8h0m-1.5 5.7h0m-5-0.8h0m3.1 3.9h0m-3-0.5h0m4-7h0m-5.6 10.3h0m6.1-7.4h0m-1.1 0.1h0m0.3-1.7h0m-2.7 4.5h0m3.5-4.1h0m-3 2.3h0m0.3 2h0m5.4-18.3h0m13.6 12.4h0m-16.3 2.8h0m-0.1-2.7h0m28.3-11.3h0m-22.6 2.1h0m-5.7 9.2h0m4.3-8.7h0m-11.4 14h0m6.6-5.5h0m-0.1-0.6h0m-3.7 5h0m-0.1-1.4h0m1.9 2.3h0m4.9-10.9h0m-4.8 8.5h0m-1-0.2h0m24.4-8.3h0m-20.1 8.5h0m-2.1-1h0m15.8-3.1h0m-20.5 10.1h0m4.2-6.6h0m1-0.9h0m-1.7 2.8h0m0.1 1.2h0m-0.1-1.8h0m-0.5 4.2h0m1.1-2.8h0m-0.9-0.4h0m1.5 3.3h0m-6.5-1.7h0m0.1 0.7h0m6.3-6.3h0m-1.9 4.7h0m4.2-3.9h0m0.6-2.4h0m-3.3 3.9h0m1.2-0.4h0m0.5 2h0m-1.6 0.1h0m1.6-1.3h0m-1.2-1h0m-2.3 3.6h0m1.5-4.5h0m-1.5 4.7h0m0.9-5.6h0m1.8 7.4h0m8.6-24.4h0m-10.2 22.5h0m-0.8 0.5h0m-1.3 2.4h0m19-30h0m-18.2 26.8h0m16.4-31.8h0m-15.1 31h0m-2.4 2.1h0m-1.3-3.1h0m2.9-1.3h0m10.1-22.7h0m-8.7 26.6h0m1.9-5.7h0m-1.1 3.4h0m0-2.4h0m2-10.3h0m-1 13.4h0m-1.7 0.9h0m1.2-3.8h0m0.7 2.7h0m-3.3 2.4h0m0.5-3.7h0m2.5 3.8h0m2-12.5h0m-3.4 7.6h0m-3.7 2.5h0m12.4-12.7h0m-8.9 11.9h0m0-3.7h0m-0.1 2.8h0m0.7-3h0m-0.1 2.3h0m1.9-1.6h0m-2 4.4h0m0.7 0h0m-2.6 2.2h0m1.7-4.1h0m0.5-1.4h0m0.1 0.6h0m-4.2 5.2h0m1.6-6h0m-0.3 2.1h0m1.1 1.6h0m-0.4-2.3h0m-0.3-3.1h0m3 3.4h0m-3.2 3.7h0m-0.3 2h0m5.5-14.8h0m-3.1 10.7h0m-1 1.1h0"/>
<path stroke="#10a2f0" d="M275.1 526.6h0m2.1-0.5h0m-3.8-2.1h0m0.4 2.5h0m3.8-2.4h0m-2.2 4.9h0m4.9-4.3h0m-3.9 0.6h0m4.7-18.9h0m5.5 0.3h0m-11.2 22.1h0m-2.4-0.1h0m4.6-6.6h0m20.1-26.4h0m-22.3 32.3h0m-1.8-1.8h0m2.3 3.1h0m1.8-7h0m-0.9 3.9h0m0.4-3.2h0m-3.1 4.9h0m3-4.9h0m11.4-14.6h0m-13.3 18.3h0m-2.6 4h0m1.4-6.5h0m1.4 5.5h0m0.6-6.8h0m-0.5 2.6h0m2.8 0.9h0m-0.2-5.1h0m-0.2 6.5h0m9.1-21.5h0m-13 19.5h0m0.8 1.3h0m3-1.3h0m-4.1 4.4h0m0.3-4.3h0m0.6 2.7h0m-1.4-0.8h0m3.1 2.1h0m-0.3-3.7h0m0.3-2.2h0m-2.7 4.7h0m-1-0.2h0m20.3-31.2h0m-1.6 1.4h0m-15.7 28.8h0m0.1-0.1h0m0.3-0.4h0m-1.9-0.4h0m2.4-3.3h0m1.3-9.7h0m-2.6 12.9h0m3.7-1.9h0m-4.3 3.2h0m6.8-4.7h0m-3.2-0.3h0m-1.8 2.4h0m258.1-71.6h0m-259.7 74.6h0m1.2-1.4h0m1.7-1.2h0m-4.2 1.5h0m2 1.7h0m2.7-1.5h0m-1.7 1.7h0m-2-2h0m2.1 2.9h0m-0.4-7h0m0.7 5.3h0m0.6-6.3h0m-1.5 4.3h0m9-19.6h0m-2.5 8.5h0m-10 13.7h0m6.7-7.9h0m-3.9 6.1h0m-2.6 3.9h0m1.3-1.5h0m2.6 0.5h0m-2.6-1.2h0m16.2-28h0m-13.3 23.5h0m-0.2 4.1h0m0.1-12.4h0m-0.1 9.4h0m2.4-5.5h0m-5.8 9.5h0m1.8-3.1h0m3.6-3.4h0m-2.9-0.2h0m2.1 3.4h0m0.4-3.7h0m-5.4 4.6h0m3.1-2.3h0m2.1 2.2h0m-2-2.9h0m-2.4 2.8h0m2.3-1.2h0m10.7-26.1h0m2.3 2.6h0m-10.4 22.2h0m7.3-17.3h0m-8.7 20h0m-0.9 2h0m0.7-3h0m14-24.6h0m-12.8 13.7h0m-2.6 12.6h0m1.1-11.1h0m1.1 8.2h0m-1.5 0.3h0m4.4-2h0m-2.9 3.5h0m-4.6 3.9h0m2.2-5.5h0m2-1.8h0m3.7 0.5h0m-4.2 2.1h0m-0.6-2.1h0m10.5-16h0m-9.9 6.8h0m5.7-0.6h0m-9.1 10.5h0m22.5-29.2h0m-20 32.8h0m1.6-3.5h0m-3.2 4.3h0m3.6-2.1h0m1.7-15.1h0m-3.5 13.9h0m-0.5 1h0m-2.9 1.9h0m2 0.2h0m2.8-8.5h0m-2.8 5.9h0m-3.1 4.1h0m2.4-6.6h0m-2 1.9h0m5.9 0.3h0m-3.7 2.8h0m8.3-17.3h0m-5.9 13h0m-2.5 3.3h0m-0.3 0.2h0"/>
<path stroke="#05aeed" d="M276.9 525.7h0m-0.8-2.2h0m-0.8 1.3h0m0.8 1h0m-2.6 4h0m0.3-3.1h0m5.9-2.2h0m7.2-15h0m-13.5 18.2h0m0.9-0.5h0m1.8-5.3h0m-1.5 0.6h0m-2.5 9h0m6.2-4.5h0m-4.3-1.1h0m4.6-4.3h0m-2.3 4.8h0m3.4-2.8h0m-4.7 0.5h0m1.9 4.7h0m1.3-6h0m10-21.3h0m-14.8 25.2h0m1.2 0h0m0.6 3.4h0m1.4-5.6h0m1.4 1.8h0m-2.8 2.9h0m-0.2-3.1h0m2.3 2.2h0m-2.8-3.8h0m-1 1.7h0m2.8 0.9h0m-3.3 2.2h0m2.9-3.9h0m-4 4.2h0m12.6-16.7h0m-10.1 14h0m4.3-2.2h0m-5.7-0.9h0m4.6 1h0m-3.4 1.2h0m-0.4 3.1h0m4.1-3.4h0m-4.9 2.7h0m2-3.8h0m4.6-4.9h0m-3.7 5.7h0m-2.7 2.3h0m4.2-3.9h0m1.2-1.8h0m-2.4 2.3h0m-1.9-2.1h0m-0.6 9.3h0m13.1-28.7h0m-4.6 8.4h0m-7.4 15.6h0m9.1-18.4h0m-10.4 18.8h0m0.7-0.5h0m3.3 1.1h0m-2.4-0.6h0m-0.3-0.5h0m5-11.7h0m-7.2 14.1h0m2.2-4.4h0m1.2 1.8h0m6.7-13h0m5.9-9h0m-14.5 20.8h0m3.8 1.7h0m-1.9-2.7h0m-2.6 0.2h0m3.5 2.2h0m16.3-31.2h0m-16.8 18.7h0m1.4 12.8h0m-2.2-2.9h0m-1.9 4.8h0m1.7 0.8h0m0.2-4.7h0m15-21.8h0m-17 26h0m2.1-5.4h0m-1.9 3.8h0m-0.4 0.9h0m3.3-4.2h0m0.7 0h0m-0.6-1h0m0.8 2.9h0m-5.5 5.2h0m1.9-3h0m5.6-7.4h0m1.7 2.7h0m-3.8 4.5h0m-0.2-3.7h0m-2 0.9h0m16.8-24.3h0m-13.6 20.1h0m5.4-9.6h0m-6.3 12.5h0m-1.9-0.2h0m-1.9 0h0m4.9 3.9h0m3.9-8.3h0m-9.1 3.6h0m14.2-23.2h0m-14.1 24.5h0m4.2-1h0m1-5.2h0m-4.8 3.9h0m1.2 7.5h0m1.2-3h0m0.2-2h0m-1 3.8h0m-1.1 0.2h0m3.5-2h0m1.2-1.5h0m-1-8.2h0m-3.2 8h0m2.5 0.8h0m2.6-6h0m-5.9 10.2h0m1.5-7.8h0m1 2.7h0m7.7-3.5h0m0.6-5.3h0m-5.6 3h0m-2.5 6.5h0m9.3-13.5h0m-9.8 17.4h0m-2.1-0.8h0m12.1-14.9h0m-9.7 11.2h0m-0.3 0.6h0m1.7 1.4h0m-0.8-1.3h0m16.4-29.6h0m-16.9 30h0m2.1-3.7h0m-1.5 6.1h0m4.2-5.3h0m-7.7 5.4h0m0.6-7.4h0m2.4 7.1h0m2.3-0.4h0m-2.1-1.6h0m5-4.9h0m1.6-12.6h0m-9.3 18.7h0m0 3.8h0m4.4-8.2h0m1.7-0.5h0m-4.9 2.8h0m0.1 3.7h0m4.8-19.7h0m-3.6 11.8h0m-0.7 5.4h0m-2.2 0h0m2.5-1.8h0m2.2-1.2h0m3.5-0.8h0m-3.9 3h0m-0.3-6.2h0m-3 9h0m3.3-2.6h0m-3.6 0.2h0m5.3-3.7h0m-2.6-1.6h0m0.5 5.4h0m2.2-2.2h0m-5.9-3.6h0m3.7 8.1h0m0.5-3.8h0m-0.7-1.7h0m-0.5-3.3h0m0.1 3.6h0m2.9 0.8h0m-2.4-2.1h0m4.5-5.3h0m1.8 4.2h0m-0.3 3.1h0m-8 2.6h0m3.1-4.6h0m-7.5 6.6h0m4.4-10.8h0m9-8h0m-8.3 12.7h0m2.5 4.2h0m-7.5 3.2h0m11.5-8.8h0m-6.1 4.3h0m6.4-6.8h0m0.8-1.7h0m-6.3 5.6h0m-2.4 3.7h0m-1.7 2.5h0m5.5-5.2h0m-2.6-1.5h0m15.9-21.7h0m-14.8 25h0m0.1-0.8h0m7.7-7h0m-6.6 5.3h0m-3-0.5h0m-0.3-1h0m1 0.6h0m0.1 2.2h0m-1-5.4h0m0.9 8h0m1-4.1h0m-3.1 3.7h0m6.7-2.7h0m-2.6-1h0m-1.4 0.6h0"/>
<path stroke="#05baea" d="M281.6 519.8h0m-2.3 4.8h0m0.5-2.4h0m0.9-7.2h0m-1.2 7.1h0m-1.4 0.2h0m-2.1 3.5h0m5.5-9.8h0m1.1 1h0m-2.8 7.2h0m4.9-7.4h0m-8.9 3.4h0m4.4 1.2h0m2.5-3.3h0m-0.1-1.3h0m2.4-2.8h0m-4.9 5.3h0m3.8-2.4h0m-7.1 7.9h0m7.7-1.6h0m-4.2-0.5h0m1.5 1.1h0m-4.2 2.2h0m5.8-12.3h0m-10.1 11.2h0m1.1-2.1h0m3.6-2.7h0m-3.7 7.7h0m9.2-5.9h0m-5.6 1.2h0m1.4-3.7h0m-3.3 3.3h0m-0.7-2.4h0m8.9 0h0m-2.6 1h0m-6.5 0.9h0m4.1-0.8h0m5.6-5.5h0m-1.5-0.7h0m-4.5 3.4h0m1.1 9h0m0.1-8.7h0m1.2-0.8h0m-2 5.2h0m2.2-0.5h0m-1.5 1.1h0m-2.4-4h0m2.6 2h0m-1.2 2.9h0m-0.2-1h0m1.2-0.3h0m3-5.4h0m-4.8 4h0m8.5-5.5h0m-4.5 3.3h0m-2.5 2.9h0m2.6-3h0m-4.7 3.9h0m1.4 0.8h0m5.6-9.4h0m-7.4 8.4h0m2-2.9h0m-2.9 2.1h0m0.9 3.4h0m-4.2 1.8h0m7.7-3.6h0m-1.5-5.5h0m4.6 3.6h0m-4.6 1h0m0-1.3h0m0.1-0.4h0m3.2 1.6h0m1.8-1.8h0m-4.3-3.2h0m-6.2 5.3h0m10.4-2.9h0m-4.2 4.6h0m-4.5-3.5h0m2.2-2.2h0m0.9 6.3h0m4.5-1.8h0m-3.8-1.2h0m-0.6-6.1h0m6.8-1h0m-11.5 6.5h0m8.5 3h0m-7.1-1.6h0m2.8 1.4h0m0.8-3.9h0m1.1-2.5h0m5.9-1.1h0m-0.9-0.5h0m0.8 4.2h0m-5.3-1.1h0m1.9 3.6h0m-4.6 1.2h0m0.2-2.9h0m6.5-3h0m-1.3 2.2h0m-6.7 0.1h0m5.3-0.3h0m27.2-43.2h0m-24.6 38.2h0m21.5-36.7h0m-24.5 41.1h0m-3.8 3h0m3.4-5.1h0m5.4-0.5h0m-6 7.2h0m-1.8-2.8h0m-0.5 0.2h0m1.8 3.1h0m11.5-27.2h0m0.4-1.2h0m-12.5 24.7h0m-4.1 2.6h0m7.2-5.6h0"/>
<path stroke="#10c5e7" d="M280.8 522.9h0m0.3-2.9h0m5-4.7h0m-7.1 10.1h0m-0.2 1.1h0m3.2-11.5h0m24-32.7h0m-4.9 8.2h0m-21.6 29.7h0m0.3 5.5h0m1.7-5.3h0m0.8-1.4h0m6.1-14.4h0m-8.1 10.4h0m-1.1 6.9h0m18.6-33.2h0m3.7-7.9h0m-14.1 27.6h0m-5.6 12.3h0m1.8-7h0m-4.7 10.3h0m0.3-1.8h0m6.8-5.3h0m-2.3 4.9h0m-1.8 0.2h0m-2.9 3.1h0m6.4-6.7h0m14.1-35.2h0m-21 43.5h0m3.9-4.5h0m-6.4 0.6h0m7.7 0.6h0m16.7-37.3h0m-22 34.1h0m0.5 2.7h0m-4.1 1.7h0m6.1-5.2h0m0.8 0.9h0m-4.9 0.6h0m3.7 0.8h0m-0.2 2.1h0m3.5-5.8h0m6.8-18h0m-10.3 21.5h0m1.6-6.7h0m-1.5 1.7h0m1.4 1.4h0m-1.2 3.3h0m1-3.2h0m0.1 1.4h0m19-31.3h0m-24.8 30.5h0m18.5-22.3h0m-13.4 25.3h0m-0.6 1.6h0m0.8-2.7h0m6.9-15.4h0m-10.4 18.4h0m6.4-4h0m-0.9-0.2h0m16.7-27.3h0m-19.6 28.7h0m0.5 0.4h0m-5.2 0.6h0m23.2-35h0m-19.1 41.5h0m-2.3-7.1h0m6.5-4.2h0m10.4-16.1h0m-20.3 20.9h0m4.3 2.2h0m-2.8 3.9h0m19.7-26.1h0m6.2-16.8h0m-9.2 11.7h0m7.3-0.4h0m-17.3 17.9h0m-6.7 6.3h0m7.4-0.7h0m26.3-38.1h0m-32.5 40.8h0m4.2-2.8h0m-0.1-1.4h0m19.9-27.2h0m-26 39h0m18.1-32h0m6.3-3.4h0m-20.6 29.8h0m1.1 2.3h0m-0.2-5.2h0m1 0.3h0m-0.6-2.7h0m-1.1 1.7h0m-0.4 1.7h0m27.8-46.1h0m-29.7 43h0m8.3-1.7h0m-9.1 7.8h0m2.5-2.6h0m3-6.2h0m-1.3 4.7h0m3.1-0.8h0m-2.9 2.8h0m-2.5-0.5h0m12-18.8h0m-8 11.6h0m-1 5.8h0m0-3.3h0m15.9-18.7h0m-10.9 21.8h0m-3.2-3.2h0m0.7 1.1h0m1.7-3.8h0m-5.1 7.1h0m22.1-32.9h0m-22.6 29.4h0m-1.9 9.1h0m6-8.5h0m16.5-25.7h0m-14.7 25.1h0m-3.8 3.7h0m-3-1.5h0m0.7 4.8h0m-0.1-6.7h0m6.7-4.6h0m-9.9 8.1h0m4.1-0.4h0m-1.5-1.2h0m6.7-4.1h0m23.9-35.8h0m-31 40.3h0m6.7 1.2h0m15.6-35.4h0m-3 8h0m-17.5 27.1h0m-1.5 0.9h0m22.6-35.8h0m-19 33.1h0m1.4 0.7h0m-0.2-4.7h0m-2 8.3h0m2.2-8.5h0m-2.1 7.1h0m-5 1.2h0m20.4-34.4h0m4-4.8h0m-17.4 34.5h0m-8 6h0m4.5-3.1h0m21.6-29.7h0m-19.8 30.5h0"/>
<path stroke="#1bcfe3" d="M279.3 521.6h0m1.4-6.6h0m0 3.3h0m4.5-14.9h0m-2.1 18.6h0m-3.9-0.3h0m4.2-7.1h0m2-0.2h0m0.7 0.4h0m-4.5 4.5h0m16.5-29h0m-13.5 30.8h0m-1-1.1h0m12.2-28.6h0m-16.2 29.5h0m2-3.2h0m1.5-0.3h0m1 0.8h0m3.8-15.1h0m-9.2 18.4h0m4.6-2.8h0m-4.7 1.8h0m0.1 5.3h0m4.9-4.5h0m-2.7-2.9h0m2.3-1.2h0m-3.8 3.8h0m-5.3 4.8h0m9.7-8.2h0m-5.4 8.9h0m4.5-12.1h0m15.7-23h0m-20.3 33.5h0m1.7-1.7h0m17.4-29.5h0m6.8-12.5h0m-19.5 37.9h0m-5.4 0.2h0m0.8 1.7h0m1.5-2.6h0m-3.9 5.8h0m2.3-3.6h0m-1.9 1.1h0m23.2-31.7h0m-0.5-2.2h0m-21.8 32.6h0m0.8 2.5h0m0.2-5h0m25.2-31.7h0m-27.4 40.6h0m0-5.6h0m1.7-1.4h0m3.6-4.7h0m-3.2 5.1h0m1.4-1.9h0m-3-0.9h0m8-4.5h0m-6.8 12.2h0m23.9-43.3h0m-20.6 39.4h0m1.6-7.6h0m-4.7 8.2h0m15.3-22.9h0m-12.8 20.6h0m-3.3-1h0m-4.5 7.7h0m13.3-11.2h0m-5 0.9h0m-8.6 11.8h0m11.5-8.2h0m16-24.3h0m-22.7 24.7h0m-2.3-1.8h0m8.1-5.1h0m-5.6 7.6h0m-1.8 4.1h0m2.6-6.6h0m0.2-3.6h0m12.9-16.8h0m-10.6 18.1h0m4.8-0.3h0m-6.4 1.9h0m22-33.2h0m-22.8 42.7h0m-3.2-6.4h0m4.8-0.1h0m26.9-39.6h0m-25.4 39.8h0m-3.2 0.6h0m2.2 1.5h0m-2.3 0.6h0m1.5-3.7h0m1.8 1.9h0m1-0.5h0m-2.5-3.7h0m2.1 4.5h0m20.7-37.7h0m-26.6 32.2h0m5 4h0m2-5.4h0m-0.2 6.8h0m11.5-31.1h0m-18.6 35.3h0m-2-4.8h0m16-27.8h0m-13.5 30h0m11.6-16.3h0m-5.5 11.3h0m1.1-5.2h0m5.1-6.7h0m-7.4 12.9h0m0.7 1.6h0m15.9-28.8h0m2-4.1h0m-22.6 34h0m23.6-33.5h0m-16.6 28.9h0m13.8-30.6h0m-19 35.8h0m1.3-5.8h0m-3.2-0.9h0m0.4 2.7h0m21.5-24.6h0m-19.7 23.7h0m21.3-29h0m-19.9 32.9h0m-1.5-4.8h0m-1.5 2.9h0m11.7-19h0m-7.1 14.8h0m3.8-11.9h0m-7 17.2h0m6.1-5.8h0m-7.2 3.9h0m17.7-23.2h0m-16.4 27.1h0m-2.7-2.8h0m3.5 0.7h0"/>
<path stroke="#25d9df" d="M277.5 524.9h0m3.6-6.7h0m-2.6 5.3h0m2.4-5.6h0m-1.5 3h0m-0.3 2.4h0m23.9-37.6h0m-18.2 32.6h0m-5.3 0.5h0m6.9-8.3h0m-2.4 6.2h0m-0.6-1.2h0m-0.1 1.1h0m0.8 0.6h0m-0.7 6.6h0m-1.5-4.9h0m6.4-1.7h0m-10.8 4.9h0m3.9-4.5h0m28.5-37.3h0m-30 40.6h0m-1.2 3.3h0m6.1-8h0m-4.8 1.1h0m20.4-30.8h0m-9.2 15h0m-6.5 12.1h0m-6.7 9.6h0m8.1-8h0m-2.9 6.4h0m-1.2-0.1h0m-0.9-3.1h0m-1.7-2h0m-2.9 11.9h0m3.2-8.9h0m1-0.9h0m3.7-0.9h0m-4.4 2.5h0m2-4.6h0m9.1-11.5h0m-12.7 20.8h0m4.9-7.2h0m-4.9 2.8h0m2.3-1h0m1.6 0.6h0m-2.5-3.8h0m-0.7 10h0m2.7-11h0m-1.2 2.7h0m17.9-23.7h0m-18.4 27.5h0m1.3-1.1h0m-1.1-0.5h0m7.3-13.7h0m9.9-17.8h0m10.9-12.7h0m-25.1 41.6h0m-2.9-0.4h0m-0.3 3.3h0m11.7-19.8h0m-12.5 18.1h0m16.9-16.1h0m-6.8 3.6h0m-6.2 13.6h0m-5.9 5.4h0m22.8-36h0m-14.2 28.8h0m-6.3 1.1h0m5.6-4.1h0m0.6 0.2h0m3.5-10.2h0m-10.6 22h0m2.1-6h0m-2.2-1.7h0m6.9-2.6h0m-5.3 4h0m3.9-4.2h0m-2.2 3.1h0m0.9-0.7h0m-3.1 3.7h0m6.5-4.4h0m-6.5 6.4h0m3-9.1h0m-2.2 4h0m4.8-2.3h0m0.1-1.5h0m-8.4 8.4h0m27.6-38.9h0m-25.1 30.8h0m20.3-25.6h0m-15.6 30.8h0m12.2-29.9h0m-15.3 26.8h0m2 3.3h0m-6.9 1.7h0m21.5-37.1h0m-7.4 16.5h0m13.2-17.8h0m-20.2 34h0m10-15.3h0m-11.2 17h0m-1.7-3.4h0m-0.2-3.2h0m0.6 6.5h0m1.2-0.5h0m1.5-6.8h0m-0.6 5h0m-3.4 1h0m-0.3 2.3h0m1.3-4.4h0m0.7 6.6h0m-0.5-6.5h0m6.5-3.1h0m-11.6 11.1h0m4.7-1.7h0m3.2-2.4h0m-3.3 3.2h0m1.2-4.3h0m1.3 3h0m8.2-21.6h0m-10.8 19.5h0m-0.6 2.9h0m2.7-3.7h0m-2.2-4.9h0m1.7 1.3h0m-1.2 2.1h0m23-28.8h0m-19.4 29.2h0m2.3 0.8h0m-4-3.3h0m0.2 2.3h0m-3 3h0m3.7-1.9h0m0.5-0.5h0m-4.2 3.6h0m5.5-5.9h0m-1.4-1.9h0m1.2 0.5h0m15.1-23.1h0m5.9-14.9h0m-15.7 28.4h0m-6.6 8.1h0m-6.6 10.2h0m4.7-7.2h0m-4 7.6h0m20.7-35.4h0m-12.9 21.7h0m-7.1 10.8h0m4.9-6.6h0m1.8-10.7h0m-4.1 20.1h0m-0.1-5.2h0m4.8-4.1h0"/>
<path stroke="#30e1db" d="M313 513.2h0m223-72.4h0m-230.1 46.2h0m-26.3 32.8h0m7.7-0.9h0m-8.3 2.1h0m3.3-3.4h0m8.2-15.8h0m-8.8 18.2h0m-0.2 0.7h0m17.4-33.5h0m-18 32.8h0m5.6-14.3h0m-5.4 17.3h0m0.9 1.2h0m4.9-9.6h0m6.7-12.2h0m36.8-23.1h0m-53 44.2h0m10-8.6h0m-3.1-2.3h0m9.4-21h0m-10.6 26.1h0m-3.3 2.3h0m3.6 1.1h0m1.9-3.2h0m-0.8 0.9h0m-7.1 2.5h0m7.9-2.5h0m-3.2 3h0m11.1-21.8h0m-14.9 21.8h0m1.6-5.7h0m14-19h0m-10.8 22.4h0m-2.1-0.7h0m-3.2 4.7h0m4.7-4.3h0m-3.6-1.7h0m18.7-24.3h0m32.1-13.3h0m-14.2 4.3h0m-32.4 33.8h0m-4.5 4.6h0m25.7-40.4h0m-27.8 44.6h0m2.1-5.7h0m0.4 4.6h0m3-5.9h0m11-24.7h0m-14.1 24.8h0m4.7-2.5h0m-3 1.4h0m35.7-31.4h0m-39.9 39.1h0m6.1-10.9h0m37.9-39.2h0m4 3h0m-43.6 42.6h0m1-7.1h0m1.1 7.5h0m-2.8 0.4h0m-1.2-2.4h0m2.6 1.5h0m-2.6-3h0m0.8 6.2h0m0.6-0.9h0m3.5-6.1h0m-2 3.9h0m17.8-36.5h0m-18.8 35.5h0m2.5-4.8h0m0 7h0m0.8-11h0m6.6-13.3h0m-7.9 18.7h0m2.7 1h0m-4.3 6h0m-0.7-6.7h0m47.4-41h0m-50.3 42.2h0m17.4-15.4h0m-9.2 13h0m-5.8 6.1h0m46.1-40.3h0m-48.9 42.4h0m5.7-8.5h0m-4.2 8h0m1.3-5.2h0m0.5 3.5h0m23-33h0m-20.3 30.7h0m-4.9 4.4h0m2.1-8.3h0m-2.6 5.2h0m4.4-4.5h0m47.2-34.4h0m-0.3-4.2h0m-28.2 11.6h0m-15 30.4h0m-10.2 3.2h0m5.5-2.5h0m0.5-0.6h0m1-0.9h0m-0.4-3.7h0m-3.4 4.8h0m-0.5 3.4h0m5.6-5.6h0m19.7-27.4h0m-18 24.8h0m-8.8 3.1h0m8.8 1.1h0m-4.2-3h0m3.2 0.4h0m-4.6 6.3h0m4.1-7.7h0m1.5-5.5h0m18.7-23.4h0m-22.5 32.8h0m0.1-1.6h0m45.4-36.9h0m-45 32.4h0m2.7 3.9h0m-2.3 4.5h0m-4.1 0.9h0m50.7-42.4h0m-49.1 39.1h0m5.9-1.4h0m-5.5 5.9h0m0.7-8.3h0m39.6-37.2h0m-26.3 11.3h0m2.4 1.6h0m-18 27.4h0m5.1-0.4h0m25.8-42.6h0m-27.5 45.3h0m44.4-40.4h0m-7-3.6h0m-14.5 5.3h0m-28.6 40.5h0m4.7-8.4h0m0.1 5.9h0m13.4-20.6h0m-16.3 18.4h0m29.2-45h0m-24.8 45.5h0m-1 0.8h0m-0.4-1h0m-3.3 3.5h0m0.9-3h0m5.6-6.4h0m-5.5 4.5h0m1.1-0.8h0m34.1-30.7h0m-33.4 35.1h0m23.3-44.1h0m-22.6 39.8h0m23.3-32.3h0m-23.5 32.2h0m1.4 6.1h0m46.1-43.8h0m-51 41.1h0m1.4 3.1h0m-0.3-2.7h0m33.1-43.2h0"/>
<path stroke="#3ae8d6" d="M282.3 520.8h0m-1.2 1.4h0m-0.8-1.4h0m-0.5-1.2h0m1.3 1.6h0m3.1 1.7h0m-4.9-1.6h0m6.8-6.4h0m-2.7 6.4h0m8.8-24.9h0m-12.8 21.6h0m39.2-39.8h0m-39.2 37.8h0m2.9 2.3h0m6.4-0.8h0m-7.6 7.2h0m4.8-12.4h0m-2.3 9.8h0m-6.6 0.8h0m6.4-8.5h0m-3.7 7h0m2.7-1.2h0m4.1-8.6h0m-1.2 6.3h0m-4.2 2.5h0m1.6 0.9h0m6-20.5h0m-7.5 22.2h0m0.3-3.1h0m-1.6 1.6h0m-0.9-1.2h0m2.1-1.8h0m4.9 0.3h0m-3.6 0.9h0m47-39.7h0m-43.7 34.5h0m-4.4 5h0m-4.6 6.5h0m6.4-6.1h0m-0.6 2.2h0m-1.5-0.3h0m1.8-1.8h0m-2.7-5.4h0m2.7 2.2h0m-0.2 1.9h0m44-39.1h0m-43.8 34.8h0m0 3.3h0m-3-1.2h0m7-2.3h0m-4.8 4h0m-2.3-1.1h0m1.3 3.1h0m14.4-27.3h0m-13.3 25.7h0m-3.1 3.8h0m2-4.3h0m-0.1-0.9h0m-3.4 7.2h0m0.6-4.8h0m3.8 1.6h0m1.8-5.8h0m22.5-35.2h0m-22.1 41.7h0m-2.1-1.5h0m48.1-38.2h0m-45.3 34.7h0m-4.1 6.2h0m0-1h0m22.9-36.9h0m-19.2 26.7h0m-6.2 8.4h0m9.4-15.5h0m24.3-30h0m-18.4 22.8h0m-11.8 24.4h0m1.5-3.1h0m-1.8-3.3h0m20.7-29.7h0m-20.8 33.5h0m0.9-1.2h0m-2.2 4.8h0m5.5-5.8h0m-0.9 4.7h0m-9.3 5.2h0m7.9-9.6h0m-4 6.4h0m38-44.1h0m-35.8 42.7h0m1.6-8h0m5-9.9h0m-8 15.8h0m2.6-5.1h0m3-6.1h0m2.9 6.5h0m-1.8 0.1h0m0.4-0.3h0m-2.1-0.3h0m0.8-2.1h0m-1.4-3.3h0m0.3 8.2h0m-5.4 0.4h0m3.5-2h0m-1.9 5.4h0m0.3-2.2h0m-0.9-1.5h0m3.5-0.6h0m1.7 2.1h0m-4.7-3.1h0m1.3 5.5h0m3.7-6.6h0m-4.1 2.4h0m9.7-4.9h0m-10.7 6.2h0m3.8 0.7h0m-4.6-0.7h0m1.5 4h0m-2-1.6h0m5.1-1.5h0m8.9-10.5h0m15.7-27.2h0m-16 26.5h0m-8 4.8h0m-2.2 4.9h0m18-28.7h0m-11.7 27.2h0m-2.3-0.6h0m-4.6 4.8h0m1.8-6.8h0m-5.9 1.8h0m0.9 3.8h0m-2.4 1h0m49-44.3h0m-42.9 47h0m8.9-17.9h0m-4.9 12h0m8.5-23.5h0m-12.9 28h0m5.3-10.4h0m2.4 1.9h0m-3.7-3.5h0m7.4-7.8h0m-5.7 19.5h0m-4.4-2.2h0m14.5-25.7h0m-15 26.4h0m15.2-31.8h0m-11.2 14.9h0m-8.3 16.9h0m1.5 3.1h0m1.3-5.2h0m12.7-13.6h0m-7.2 6.6h0m-7 10.6h0m6.6-9.4h0m-6.2 11.5h0m3.6-4.9h0m6.9-13.7h0m-0.3 8.9h0m-12.8 9.2h0m16.5-24.8h0m32.3-13.2h0m-32.2 12h0m-14.2 22.8h0m8.2-6.3h0m-1-4.8h0m-9.3 12h0m4.1-0.9h0m3-3h0m-1.4-4.3h0m-3.8 3.7h0m3.1 1.8h0m3-2.8h0m-3.3-0.1h0m12.2-19.2h0m-16.1 23.7h0m14.3-20.6h0m4.4-0.5h0m-15.3 17.5h0m-0.6 6.5h0m-2-0.6h0m9.1-8h0"/>
<path stroke="#45efd2" d="M280.1 517.2h0m5.1-1.6h0m11.4-20.9h0m-7.5 16.8h0m0.2 7.3h0m-10-1.7h0m4.3 1.4h0m-5.4 5.7h0m13.1-10.4h0m-6.4 6.2h0m-3.2-4.1h0m-0.1-1.9h0m0.2-0.8h0m7.5-9.7h0m-6.6 10.8h0m2.2 6.5h0m4.8-6.1h0m-6 8.7h0m14.5-25.8h0m-16.5 25.1h0m6.4-16.2h0m-6.9 10.2h0m0.7 3h0m8.6-5.5h0m-3.6-3.9h0m-0.7 7.5h0m-1.6-2.8h0m15.6-21.7h0m-16.9 22.6h0m-5.8 4.5h0m8.2-8.6h0m2.2 1.9h0m7-14.8h0m-11.5 16.9h0m-1.7 5.4h0m8.6-4.7h0m-5.3-0.5h0m-0.6-3h0m-1.2 5.2h0m5.1-5h0m-6.1 7.3h0m0.6-4.7h0m3-3.8h0m-6.7 10.5h0m4.7-8.8h0m39.7-36.5h0m-37.1 35.1h0m-6.1 6.4h0m14.4-12.2h0m-6.8 11.3h0m-8.4 3.9h0m2.5 0.2h0m20.8-38.9h0m-8.9 25.1h0m-16.1 15.8h0m1.2-1.5h0m1.7-3.2h0m5.3-7.5h0m-5.7 13.5h0m3.1-4.8h0m0.2 0.4h0m35.2-38.7h0m8.2 1.6h0m-41.2 30.5h0m12.2-18.4h0m-14 23.3h0m-2.8-4.9h0m5.4-1h0m0.5-2.6h0m-3.9 5.9h0m-1.6 5.1h0m2.7-6.1h0m3.8-8.5h0m-9.8 15.4h0m1.6 1.1h0m8.1-15h0m4.6 7.1h0m-9.8-1.1h0m-0.9 2.9h0m-4.2 2.3h0m5.5-8.8h0m-0.5 7.5h0m-1 4.6h0m2.2-3.3h0m-3.3-1.1h0m0.9-2.6h0m7.5-1.1h0m1.4-4.9h0m-7.1 3.6h0m4-2.5h0m-0.7 1.2h0m-5.7 8.8h0m2.6-5.1h0m10-5.6h0m-8 6.3h0m4.9-16.1h0m-5.4 15.2h0m7.9-7.7h0m-6.8 10.6h0m-4.2-3.5h0m5.1-5.6h0m-8.6 12.9h0m10.8-6.9h0m11.2-31.2h0m-11.3 30.6h0m2.8 1.1h0m-11.4 2.6h0m5.6-9.5h0m13.2-16h0m-15 21.9h0m3.4-2.7h0m-6.6-1.7h0m4.4 1.8h0m5.1-3.7h0m-10.1 14.5h0m3.8-9.4h0m-4 13.1h0m21.5-35.2h0m-12.4 21h0m-4.8-5.4h0m1.4 11.2h0m5.7-7.7h0m4.5-8h0m-5.9 16.3h0m-5.4-2.5h0m5.4-5.3h0m-1.7 1.1h0m6.8-10.5h0m2.7-8.9h0m-7.4 18.5h0m-8.5 8.9h0m11.5-8.1h0m-9.4-0.5h0m-1.6 11h0m6.6-9.4h0m7.2-19.8h0m4.5-4.1h0m7.5-14.9h0m-26.5 40.3h0m1.3 10.3h0m7.9-8.5h0m-2.8-7.1h0m4.6 3.3h0m-5.6 3.5h0m8.1-16.1h0m4.4-18h0m-17 33.5h0m13.8-22h0m-9.6 21.6h0m-0.1-2.4h0m4 1.7h0m1.1-14.9h0m-4.3 13.9h0m-2.4 7.2h0m23.7-40.3h0m-25 37.1h0m6 0.9h0m1-12.1h0m-5.4 12.9h0m4.5-10.5h0m-0.6 3.8h0m4.8-17.1h0m-9.2 16.1h0m8.3 2.5h0m-7.8-5.2h0m4.6 5h0m-4.5 1h0m2.1 0.3h0m21.6-35.6h0m-20.4 30.9h0m-2.2 0.7h0m-0.7 6h0m-2.4 3.4h0m8.4-17.1h0m-7.5 12.9h0m3.9 4h0m-4.8-0.4h0m-1.6-0.9h0m0.3 0.2h0m22.5-32.5h0m-19.8 22.6h0m5.6 1.4h0m-7.9 7.3h0m9.2-5.4h0m-2.3-9.5h0m-5.8 11h0"/>
<path stroke="#50f4cd" d="M279.9 518.8h0m1.4-5h0m4.1 3.2h0m-0.6-11.3h0m4 10.1h0m-1.3-7h0m-5.8 10h0m0.3 0h0m8.1-7.8h0m2.8-12.2h0m-11.9 20.3h0m4.6-1.1h0m-3.3-7.7h0m8.1-3.5h0m-5.9 11.3h0m1.3-9.9h0m3.7 2.1h0m-0.7-2.1h0m23.3-30.1h0m-27 38.6h0m1.6-1.5h0m-1 0.1h0m0.6-4h0m-4.8 2.1h0m2.1-4.2h0m6.5-0.1h0m-0.5 0h0m-2 1.5h0m-3.7 9.1h0m-0.4-2.2h0m8.7-10.1h0m-12.7 12.5h0m21.4-30h0m-8.7 7.4h0m-7.7 20.7h0m16-17.4h0m2.9-18.1h0m-7.5 13.7h0m-10.6 17.7h0m-4.4 12.4h0m20-37.7h0m-18.1 29.5h0m19.6-23h0m-17.3 17.4h0m9.8-17.4h0m-11 18.6h0m7-15.9h0m1.3 15.5h0m-0.9-6h0m38.1-30.8h0m-0.6 1h0m-39.8 44.5h0m5.2-18.6h0m25.4-25h0m-0.6-3.9h0m-41.5 46.1h0m5.3-1.5h0m0.9-0.5h0m0.3-3h0m13.4-24.5h0m-11.2 15.2h0m-0.2 12h0m7.5-15.9h0m-2.7-4.4h0m-1.8 11.4h0m-6.5 3h0m1.9 2.8h0m15.8-21.1h0m27.7-16.5h0m-42.9 34.2h0m46.4-35h0m-24.4 7.3h0m0.1-0.9h0m-2.7 3h0m-18.6 25.5h0m2.9 2h0m-1.9-2.9h0m-1.2 2.6h0m-2.4 5.5h0m2.9-12.8h0m-2.4 13.9h0m17.2-29h0m-13.5 18.4h0m13.7-18h0m-10.3 16.6h0m2.3-2.2h0m-2.6-1.1h0m-9.6 12.5h0m13.2-22h0m-4.4 11.8h0m-2.2 3.2h0m2.9 1.1h0m-4.6 3.4h0m3.7-0.5h0m-3.8-3.8h0m7.4-11.4h0m1.6 6.2h0m2.1-9.7h0m1 3.1h0m4.7-4h0m-3.9-2.5h0m-7.4 25.7h0m-3.8-9.8h0m-10.7 15.6h0m6-5h0m8.2-12.4h0m4.4-11.1h0m32.3-16.5h0m-37.9 34.5h0m20.5-32.2h0m-21.3 31.2h0m7.8-18.8h0m-1.7 14.2h0m-5.7 4.2h0m-7.8 4.8h0m3.3 3.4h0m9.3-21.8h0m18.5-19.3h0m-27.4 41.3h0m2.2-8.6h0m1.7 2h0m1-8.3h0m-9.4 8.5h0m13.2-15.4h0m-4.1 3.4h0m11.2-10.2h0m-12.9 19h0m3.8 0.9h0m-12 7.6h0m10.5-5.1h0m-6.6 2.3h0m21.5-33.7h0m-18.5 31.4h0m21.3-31.6h0m-19 28.2h0m11-21.5h0m-19.5 26.9h0m2.5-2.1h0m9.7 2h0m-8.9 2.3h0m15.2-29.6h0m-15.4 27.5h0m1.9 0.6h0m-2.9 3.5h0m2.2-11.9h0m1.9 5.2h0m0.1-0.9h0m-2.1 6.8h0m7.7-16.5h0m9.1-16.3h0m26.2-2.9h0m-23.4 0.9h0m-21.3 27.5h0m4.5-0.3h0m-4.9 8.9h0m14-35.3h0m8.7 0h0m-3 4.9h0m6.5-14h0m-7 8.6h0m7.8-7.4h0m-20 43h0m11.6-34.7h0m-6.4 11.6h0m10-13.8h0m-15.5 29.8h0m2.8 5.8h0m-5.4-5.9h0m13.8-20.8h0m-12 18.5h0m3.3-7.2h0m-4.3 8.2h0m12-26.1h0m-8.7 28.6h0"/>
<path stroke="#5af8c8" d="M285 510.2h0m5.8 4.2h0m-2.2 1.9h0m0.9-7h0m-5.9 1.8h0m11.2-10h0m-10.8 14.8h0m2.8-4.8h0m6.5 0.7h0m-12 14.6h0m26.8-44.7h0m-15 28.8h0m-1.7 2.6h0m-2.1 0.2h0m9.1-19.8h0m-11.5 18.9h0m2 6.1h0m-7.7-2.7h0m6.8-3.9h0m-4.2 2.8h0m13.1-21.3h0m15.8-16.6h0m-22.2 29.2h0m2.5 1h0m5.5-13.2h0m0-6.9h0m-5.8 15h0m-12.6 18.7h0m20.3-28.5h0m-15.2 23.5h0m-0.4-0.7h0m5.4-1.9h0m-5.9 8.3h0m4-15.6h0m15.6-25.8h0m-20.1 30.3h0m5.4-1.6h0m11.5-20.7h0m26.5-8.2h0m-42.5 35.7h0m6.3-0.5h0m14.3-27.9h0m-5.1 5.9h0m8.3-11.8h0m-18.2 34.5h0m-8.7-4.2h0m5.5 4.9h0m18.3-25.2h0m-17.9 24.5h0m-3.5-2h0m1.7-0.6h0m4.5-5.1h0m6-17.2h0m-14.9 24.8h0m6.6-13.6h0m11.6-13.9h0m-15.3 34.6h0m6.4-15.4h0m-11.5 14h0m11.1-8h0m-1.9 6.3h0m-2.3-10.5h0m-0.1 3.4h0m1.4 1.6h0m-1.3 6h0m11.5-19.8h0m0.2-4.4h0m-11 21.7h0m0.7-5.2h0m4.2 1.1h0m22.5-32.4h0m-20.1 21.1h0m-6.2 8.7h0m14.1-18.3h0m4.6-13.6h0m-1.4 8.3h0m-20.8 37.4h0m9.3-11.9h0m36.5-32.4h0m-41.9 28.4h0m8.8-11.4h0m17.9-21.1h0m-26.9 43h0m34.3-39.8h0m-28.2 24.1h0m-10 18.4h0m16.4-32.6h0m4 0.9h0m-11.7 12.4h0m-4.2 19.5h0m-6.9-4.4h0m2.8-3.5h0m4-3.4h0m22.8-32.9h0m-28.6 36.7h0m7.5-4.7h0m-7.8 7.9h0m7.5-8.7h0m18.2-23.8h0m18.9-3.6h0m-42.8 32.3h0m14.6-23.1h0m-3.8 8.3h0m3.5-8.4h0m-4.8 22.6h0m-9.5 1.4h0m2.2-5.9h0m-4.9 6.4h0m29.6-41.9h0m-27.7 39.9h0m20.2-29h0m-21 33.5h0m3.8-2.8h0m42.6-35.1h0m-18.7-8h0m-32.5 51.8h0m35.4-48.1h0m-27.7 32.5h0m23.8-26.3h0m-15.1 21.4h0m-0.5-11.3h0m14.5-3.9h0m-20.4 27.3h0m16.3-27.5h0m-16.3 30.8h0m-3.6-5.1h0m-1.7 4h0m9.5-4h0m3-2.6h0m-8.5-1.8h0m3.9 3.7h0m-4.9 0.9h0m5.4-9.1h0m37.8-22.5h0m-35.9 17.4h0m-6.1 8h0m-2.8 9.4h0m2.8 3.2h0m-4-11.9h0m14.3-8.8h0m-7.9 16.8h0m-1.1-13.7h0m11-11.4h0m-12.3 22.2h0m15.1-23h0m14.2 1.3h0m-31.6 15.7h0m0.6 13.9h0m-0.5-9.8h0m23.9-36h0m-26.2 46h0m4.4-7.7h0m21.6-31.7h0m-14.1 14h0m-4.3 9.6h0m-1.6 10.7h0m-5.1-4.4h0m2 4.8h0m34-28h0m-40 32.2h0m47.9-43.3h0m-21 10.1h0m-22 32.3h0m4.7-5.4h0m-4.6 1.3h0m5.5-5.3h0m13.5-17.8h0m-1.2-2.3h0m29.9-11.7h0m-48 36.9h0m7.4-0.9h0m10.4-24.4h0m-17.5 28.4h0m-2.3-4.9h0m7.5 4.5h0m2.9 1.5h0m11-34.9h0m28.2-7.5h0m-50.1 32.7h0m17.3-15.9h0"/>
<path stroke="#65fcc2" d="M328.3 482.6h0m-39.8 26h0m6.1-0.5h0m-4.4 0.9h0m1.3-6.3h0m7.5-5.5h0m-16 15.6h0m35.6-19h0m-34.4 27.9h0m0.4-3.5h0m1.3-3.3h0m7.9-4.7h0m-7.2-0.6h0m-8.9 8h0m23.8-26.1h0m-24.1 31.9h0m5.8-7.8h0m-0.5 0.8h0m-1.2 8.9h0m44.8-47h0m-36.9 27.3h0m11.8-18.8h0m-17.5 30.8h0m23.5-32.4h0m0.7 0.7h0m-3.9-0.8h0m-3 9.3h0m-9.3 18.8h0m13.3-22.7h0m-19.5 28.2h0m25-36.8h0m-20.9 24.4h0m-2.7 5.5h0m5.7 0.4h0m0.2-10h0m22.4-11h0m15.4-8.9h0m-46.9 33.2h0m-0.1 5.6h0m19.7-37.7h0m-17.8 25.3h0m-6.6 9.2h0m24.4-34.9h0m-15.5 28.4h0m1.2 2.7h0m11.6-19.7h0m-12.3 16.2h0m7.5-3.8h0m10.4-21.8h0m-17.5 27.9h0m3.2-5.2h0m-5.7 7.3h0m3.2-0.3h0m7.9-19.8h0m6.9-7.8h0m-13.9 22.6h0m12.1-18.5h0m17.1-4.1h0m-29.4 29.2h0m17.7-32.3h0m-20.5 23.9h0m0.9 0.5h0m23.2-33.4h0m-23.3 39.4h0m13.7-33.7h0m-1.1 7.6h0m18.4-4.8h0m-37.7 33.3h0m16.4-19.9h0m6.3-12.5h0m-18.9 38.3h0m2.6-10.4h0m6.9 2.1h0m9.6-25.8h0m-12.8 21.6h0m9.1-17.1h0m-15 22.7h0m19.3-34.9h0m22.1-5.9h0m-48.6 45.8h0m7.6 0.1h0m0.3-11h0m22.2-24.2h0m-21.6 24.6h0m2.8 3.7h0m40.7-34.9h0m-21.2-0.7h0m-2.5 8.1h0m-7.3 1.6h0m-5.6 27.5h0m17.4-35.5h0m-15.9 29.8h0m-11.4 3.1h0m29.5-30.9h0m-8 2.9h0m-17.9 29.2h0m-0.8 3.3h0m10.7-19.5h0m-13.6 19.9h0m22.7-29.6h0m-20.4 27.8h0m-2.5 1h0m36-38.6h0m-37.9 44.2h0m6.3-7.7h0m4.3-7.5h0m1 2.5h0m-1.9-1.4h0m-0.9 9.9h0m19.1-45.8h0m-22.6 39.9h0m19-26.5h0m4.8-6.7h0m-16.1 25.6h0m-5.1 5.9h0m-5.5 4.5h0m-4.3 3.5h0m7.3-7.2h0m0.7 5.5h0m8.7-11.4h0m-12.4 7.7h0m24.6-34.2h0m-23.2 35.4h0m17.7-32.7h0m-16.5 38h0m4.2-8.8h0m-4-1.7h0m0.8 1.9h0m0.6-1.1h0m-4.6 4h0m6.9 4.7h0m4.8-10.1h0m-8.6 8h0m7.3-10.1h0m-10.1 9h0m3.6-4.5h0m5.2-8.2h0m13.6-18.6h0m-14.8 20.4h0m-3.5 7.3h0m-1.3 5.2h0m-2.7-0.9h0m-0.6-3.1h0m9-6.4h0m35.3-29.7h0m-28.1 17h0m-8.7 15.9h0m0.6-12.4h0m12.2-10.6h0m-16.7 29h0m4.6 0.3h0m-10-0.5h0m8.7-6h0m1.2-5.7h0m-5.6 11.5h0m8.7-25.5h0m-13.4 25.9h0m14-16h0m25.7-28h0m-34.6 40.2h0m7.1 0.7h0m-10.5 1.5h0m15.8-22.2h0"/>
<path stroke="#70febd" d="M287.8 521.6h0m-0.8-11.8h0m4 2.5h0m6.9-5.9h0m-13.1 8.3h0m0.6-4.9h0m3.1 8.2h0m0.8-12.7h0m18.2-28.4h0m-22.4 43.7h0m-1.4-8.3h0m-1.3 1.8h0m3.9 3.3h0m7.2-4.4h0m-3.5-0.5h0m-5.6-3.6h0m1.3 8.5h0m1.7-3.7h0m-5.3 6h0m1.5-0.2h0m18.1-31.3h0m-14.1 25.7h0m-5 6.3h0m22.4-36.9h0m-16.4 30.5h0m-6.1 8.5h0m22.6-27.6h0m23.9-17.9h0m-44 41.2h0m13.7-28.4h0m-7.9 15.5h0m-1.2 1.2h0m15-21.5h0m-10.6 31.4h0m-0.1-9.3h0m13.1-26.6h0m-17.5 31.3h0m5.5 1.4h0m-3.3 4.6h0m-1.8-8h0m30.9-19.5h0m-37.6 26h0m1.7 2.2h0m19.6-24.6h0m-22.8 15.6h0m13.4-7.8h0m-7.7 9.5h0m-3.5 8.1h0m-1.6-7h0m6.2 0.7h0m-5.2 4.2h0m-1.6 1.8h0m6.2-2.7h0m7.3-20.8h0m-13.5 20.9h0m14.4-14.4h0m15.5-19h0m-20.4 22h0m19.3-27.6h0m-16.9 34.8h0m-5.5-0.8h0m5.3-0.2h0m-6.7 1.9h0m29.9-21.8h0m-24.3 20.2h0m-9.6 11.3h0m7-7h0m6.2-19.1h0m-6 8.8h0m2.4 6.9h0m-1.3 1.8h0m0.9-12.1h0m35.6-25.6h0m-40.4 35h0m2.6-4.7h0m0.2 7.3h0m3.2-7h0m-7.2 6.2h0m2.2-5.6h0m12.7-19.3h0m-11.6 27.5h0m24.8-39.1h0m-32 47.1h0m4.5-14.2h0m-2.5 7.7h0m31.9-27.2h0m-30.3 21.5h0m7.4-4h0m-10.2 3.2h0m6.6 9.4h0m-2 2.9h0m17.6-38.2h0m16.7-9.4h0m-39.2 45.5h0m2-8.6h0m7.4 4.5h0m2.7-8.4h0m-6.2-2.5h0m15.1-16.5h0m-9.4 15.8h0m-7.7 8.1h0m-0.4-1.7h0m-2.9 5.5h0m27-37.8h0m-2.9 5.9h0m-23.4 32.8h0m-4.3 2.8h0m10.9-9h0m-3.7 0.9h0m-0.6 8.8h0m25.1-40.6h0m-8 2h0m-14.4 35.8h0m16.3-33.8h0m-14.3 27.6h0m4.2-4h0m-4.7-2.3h0m11.8-18.6h0m-13.7 26.8h0m15-29.2h0m4.7-5h0m5.5-5.6h0m-33.5 42.2h0m12.1-7.3h0m-7.9 7.8h0m-0.8-1h0m23.6-37.8h0m-13.9 23.3h0m-3.8 7.5h0m1.3 0.8h0m3.9 1.1h0m3-8.1h0m-13.5 19.8h0m40.7-41.8h0m-24.8 11.1h0m-13 26.4h0m7.4-12.9h0m0.7 0.7h0m-13.8 12.2h0m7.9-5.4h0m16.5-25.7h0m5.7-12.2h0m-11.4 16.7h0m-9.4 20.7h0m-1.1-3.7h0m0.1 4.2h0m-0.3 2.5h0m0.1 3.8h0m-4.9-5.3h0m6.6-7.8h0m36.3-27.2h0m-35.6 27.1h0"/>
<path stroke="#7affb7" d="M292.3 509.5h0m-3.1 10.2h0m8.7-28.8h0m-8.3 24.5h0m3.9-10.1h0m-4.1 13.1h0m31.4-42.8h0m-12.4 7.9h0m-22.8 25.4h0m11.1-0.2h0m-9.7 7.4h0m19.2-30.7h0m-15.4 30.8h0m-8.8-1h0m31.1-42h0m-17.4 32h0m-8.2 8.3h0m10.9-15.7h0m-7.7 13.8h0m-0.4 4.2h0m10.9-21.8h0m-12.2 24.3h0m7.6-26.1h0m6.3-1.1h0m222.7-91.5h0m2.8 43.7h0m-235.7 67.4h0m11.7-19.4h0m-18 19.5h0m6.4-3.7h0m-2.2 3.8h0m-4.9 6.9h0m-0.8 0.9h0m9.2-21.4h0m13.4-13.6h0m-0.6 6.8h0m-16.9 20.9h0m-1.8-5.7h0m8.3-9.2h0m-9.7 10h0m-0.3 3.1h0m-0.9 0.2h0m6.1 4.3h0m1.2-5.6h0m1.4 0.8h0m-0.5-3.1h0m-8.3 12.4h0m5.8-9.8h0m-6.3 11.6h0m8.4-13.3h0m-7.9 8.6h0m7.5-20.4h0m9.6-10.2h0m-18.7 30.6h0m17.8-23.6h0m-6.3 16.9h0m1.8-11.8h0m-4 13.7h0m-5.9-6.1h0m6.9 2.4h0m-8.5 13.7h0m0.4-4.2h0m-3.6 7h0m28.1-38.8h0m-19.9 22.5h0m-9.3 8.1h0m5.9-0.3h0m0.5-4.9h0m16.3-20h0m-4.7 6.7h0m-8.4 15.7h0m-5.8 3.8h0m25.4-38h0m-5.4 9.9h0m-18.1 18.4h0m1.5 8.2h0m28.2-24.6h0m-12.2-10.5h0m-4.3 9.1h0m-5.3 15.7h0m-3.6 2.8h0m25.3-13.7h0m-14.4-10.4h0m-1.9 2.9h0m-5.3 17.1h0m5.7-13.9h0m-10.2 20.3h0m-0.3-3.1h0m17.3-24.2h0m-5.9 7.3h0m2.1-5.8h0m-18.5 30.7h0m2.2-1.3h0m12.6-27.3h0m16.4-4.2h0m-28.9 32.4h0m13.3-24.2h0m-6.1 1.5h0m-1 22.5h0m-5.7 6.1h0m-4.1-3.7h0m2.4-2h0m19.9-29.9h0m-25.1 29.3h0m11.8-0.8h0m-5.7-3h0m32.3-26.1h0m-5.7-12.8h0m-25.6 34.5h0m2.2 4.6h0m-0.5-3.8h0m-5.5 5.7h0m44.1-31.3h0m-37.5 36.4h0m-3.4-5.3h0m-2.4-2.3h0m4.6-1.9h0m15.8-23h0m-18.1 19.6h0m14.7-8.5h0m3.3-9.2h0m-21 27h0m6-9.5h0m-1.1 3.4h0m23.8-18.5h0m-23.8 27.9h0m-5.7-6.2h0m-3.2 2.3h0m6.2-5.1h0m4.5-5h0m-3.4 6.4h0m-2.4-0.3h0m2.4 0.3h0m27.6-36.2h0m-32.4 42.4h0m7.6-13.5h0m8.4-12h0m-0.1 6.2h0m-2.4 0.4h0m20.8-4.8h0m-29.9 18.5h0m2.9 3.8h0m-0.2-1h0m2.8-9.3h0m-7.2 15.1h0m7.8-7.9h0m-4.5-2.2h0m-4.6 3.9h0m10.4-11.4h0m-5.7 8.8h0m4.8 1.3h0m0.9 1.9h0m-1.5-6.9h0"/>
<path stroke="#85ffb1" d="M322 470.6h0m-32.2 47.1h0m32.2-31.1h0m-38 24.4h0m3.1-0.8h0m26.6-35.2h0m-34 41.2h0m9.3-1.3h0m0.8 6.6h0m1.4-9.7h0m-3.4-1.3h0m40.5-35.6h0m-45.4 44.8h0m6.7-6h0m3.6-6.4h0m0.7 4.4h0m0.8-5.7h0m-7 7.5h0m4-9.2h0m-8.8 7.4h0m3.7 3.2h0m-0.7-5.8h0m15.4-24.2h0m20.6 4.9h0m-34 20.1h0m16.2-24.8h0m-12.5 21.2h0m-0.2 9.1h0m4-12h0m6.9-11.3h0m-14.2 22.9h0m0.5-2h0m8.7-21.5h0m-7.2 20.5h0m-7.2-1h0m1.4 3.7h0m48.3-32.6h0m-37.6 23.5h0m1.4-8.1h0m-2.6 12.6h0m-6.1 1.3h0m-6.3 6h0m7.6-6.5h0m-4 2.7h0m4.2-7.5h0m2.6 7.3h0m39.6-29h0m-44.9 25.1h0m16.2-21.4h0m-11.4 19.5h0m-0.6 5.6h0m-0.8-3.4h0m-0.7 6.6h0m17.5-29.8h0m-18.7 24.3h0m6 2.4h0m-3.2-2.8h0m1.9-4h0m-3 6.1h0m-4.8-0.9h0m11.1-6.7h0m-7.3 6.1h0m32.4-18.4h0m-35.1 24.3h0m18.9-34.6h0m-19.5 36h0m-2.9-2.2h0m3.6-6.3h0m3.8 4.8h0m10.9-25.8h0m-13.1 26.1h0m34.8-25.3h0m-26 12.4h0m-6.1 4.7h0m3.1 7.1h0m-1.5-0.9h0m12.7-26h0m-17.4 24.6h0m4.9 1.8h0m-4.4-7.1h0m26.5-28h0m-28.6 28.8h0m-1.3 5.7h0m19.3-31.2h0m-10.9 24.2h0m10.6-21.5h0m12.2 1.6h0m-21.8 25.5h0m-9.5 2.7h0m-1.5-2.7h0m-1.5 0h0m10.5 7h0m1.6-13.3h0m-8.3 4.4h0m10.4-9.3h0m0.7 14.2h0m-6.6 4.8h0m-1.3-6.9h0m3.7-1h0m-0.6-2.8h0m-5.9 4.4h0m20.4-31.1h0m-16.5 31.4h0m5.3-12.1h0m-5.6 5.6h0m-0.9 6.9h0m1-3.6h0m-1.5 0.6h0m5.4 3.2h0m-10 3.6h0m5.6 0h0m-1.5-3.9h0m18.3-28.5h0m-10.9 22.9h0m-7.8 3.2h0m3.8 0.8h0m-5 9.8h0m0.1-5h0m3.9-1.1h0m5.5-9.8h0m-9.9 2h0m6.1 6.9h0m0.7-4.6h0m38.8-24.6h0m-39.3 19.7h0m-9.3 9.9h0m8.4-13.4h0m-8.4 21.6h0m5.3-13.5h0m-5.8 0.3h0m6.2 4.4h0m4.4-6.7h0m-3.2 3.5h0m1.6 3h0m-4.8-2.9h0m-0.6 4.4h0m2-3.9h0m11-4.1h0m-10.8 0.9h0m-0.1-2.3h0m1 7.3h0m9.2-8.4h0m-8.7 3.7h0m-2.8 4.4h0m4.7-8.3h0m16.8-20.6h0m-14.2 29h0m-6.3 2.1h0m5.3-7.2h0m-7.1 11h0m1.2-1.7h0m-1.5-3.9h0m35.4-38.9h0m-26.4 37.6h0m-2.4-8.2h0m6.2-1.3h0"/>
<path stroke="#8ffeab" d="M287 512h0m14.3-27.9h0m-14.9 39.4h0m3.7-7.6h0m-3.2-5.6h0m4.7 0.5h0m38.2-25.2h0m-38.1 29.5h0m-7.2-2.1h0m19.1-26.6h0m-16.8 23.7h0m4.5-7.8h0m9.3-16.7h0m-9.9 21.2h0m2.4 5.2h0m-3.1 8h0m3.9-12.6h0m9.5-14h0m-8.7 6.2h0m22.9-21.1h0m-28.3 28.8h0m-6.3 8.1h0m15.4-11h0m6.1-20.8h0m-20.3 35.4h0m5.2-8.6h0m3.1-1.8h0m1.6 1.2h0m6.8-13.6h0m-12.1 21.6h0m22.9-22.8h0m-23.5 21.1h0m12.4-19.6h0m-7.2 4.2h0m-12.5 16.6h0m36.4-26h0m-32.3 27.7h0m6.4-11.1h0m-4.6 12.8h0m27.7-36.2h0m-9.8 1.2h0m-14.4 25.4h0m-0.2-9.9h0m13.1-11.2h0m3-5.3h0m-4.9 5.1h0m-10.1 15.7h0m14-20.1h0m-11.4 20.2h0m-3.3 4.5h0m-4.7 0.2h0m3.5 7h0m2.1-2.4h0m35-24h0m-38.4 24.8h0m8.2-21.2h0m-4.5 8.9h0m1 8.8h0m-6.1 2.9h0m-1.6 3h0m1.9-5.9h0m8.2-9.6h0m-9 7.6h0m19.7-27.1h0m-13.5 28.4h0m-0.8-5.4h0m9.7-16.9h0m11.9-7.9h0m-20.8 22.5h0m-4.6 5.4h0m4.9 6.2h0m-8.3-1.6h0m7.4 2h0m3.9-15.3h0m15.5-18.3h0m-19 16.3h0m-7.6 17.4h0m-0.5-0.5h0m-2.9 4.8h0m46.7-43.9h0m-27.3 14h0m-8.5 24.7h0m-3.7 2.9h0m10.5-33.3h0m-8.5 25.9h0m-1.5 6.5h0m4-1.8h0m14.9-31.9h0m-25.9 34.2h0m1.9-0.4h0m6.3 1.4h0m-3.3-5.9h0m6.2-3.3h0m9.3-20.3h0m-8.2 19.2h0m-7.2 0.6h0m0.5 3.7h0m2-3.3h0m6.4-3h0m-6.7 3.1h0m19.8-29.8h0m-20.6 30.6h0m0.3 4.2h0m22.1-30.8h0m-26.9 30.7h0m21.7-25.6h0m-18.9 30.6h0m-4.9-4.6h0m45.6-28.2h0m-40.1 29h0m-0.5-1.4h0m4.8 3.8h0m10.3-31.6h0m-12.3 26.7h0m34-26.3h0m-31.7 23h0m0.2 5.8h0m29.5-38.8h0m-6 1.3h0m-26.4 30.3h0m11.7-13.1h0m-19.5 18.3h0m20.5-19.9h0m5.3-14h0m0.5 11.6h0m-16.6 13.8h0m28.1-23.8h0m-30 30.5h0m-0.5 3.3h0m5.2-7.1h0m-8.3 10.2h0m5.1-10.8h0m-1.7 11.4h0m11.7-23.6h0m-10.2 8.2h0m7.8-6.2h0m-12.5 23.9h0m5.9-12h0m1.4-4.7h0m-5.8 2.4h0m-3 7.6h0m1.2 7.8h0m25.5-26h0m-17.8 4h0m-10.1 18.7h0m10.2-13.2h0m-9.4 13.3h0m-2.1-3.5h0m21.2-32.5h0m-9 23.9h0m16.7-34.4h0m-16.5 39.7h0m8-26h0m6.1-1.3h0m13.4 1.9h0m-31.4 22.8h0m2.9 1.6h0m13.1-30.4h0m-0.9 4.6h0m-18 26.2h0m4.1-8.2h0m18.4-26.3h0m-17.1 40.1h0m-1.8-6.4h0m-6.8 10.7h0m21.9-30.5h0m-17.3 22.9h0m0.7-4h0m9.1-4.8h0m-12.1 11.7h0m7.2-2.6h0m-9.4-0.6h0m12.9 0.3h0m-1.2-12.3h0m2.8-16.7h0m12.5-1h0m-20.7 28.3h0m-1.3-1.4h0m3.2-0.1h0m2.3-3.9h0"/>
<path stroke="#9afca5" d="M290.2 504.8h0m-4.9 13.5h0m30.7-27.6h0m10.4-16.6h0m-36 37.4h0m-0.5 5.2h0m3.1-7.8h0m6.4-17.1h0m19.2-14.3h0m-29.4 40.7h0m3.3-15.7h0m-6.7 12.8h0m19.1-32.5h0m-14.9 23.5h0m-4.7 2.5h0m-2.3 1.4h0m2.1 5h0m12.4-22.5h0m23.1-3.6h0m-34.2 20.9h0m0.4-1.2h0m17.7-18.5h0m-20.5 24.5h0m5.4-6.2h0m10.7-12.6h0m-14.2 23.3h0m23.6-35h0m-13.6 16.9h0m-3.3 8.3h0m-7.5 1.9h0m3.6-0.9h0m3.2-2.5h0m-5.1 5.2h0m4.3-2.8h0m-2.1 1.4h0m3.5-12.7h0m-5.2 14.8h0m4 4.5h0m-7.9-1.6h0m2.1-1.5h0m-1.1-0.6h0m29.9-40.8h0m-25.9 41.3h0m6.2-5.6h0m-2.8 1.7h0m8.7-23.6h0m8.6-3.7h0m-15.2 17.7h0m-3.4 16h0m14.1-36.5h0m-15.7 34h0m2.6-0.8h0m8.1-27.4h0m36.9 104.4h0m-48.2-74.7h0m16.9-29.1h0m-10.3 19.4h0m-1.5 0.2h0m12.4-20.3h0m-18.8 22.2h0m3.4-5.7h0m-2.7 1.1h0m31.9-17.5h0m-17.8-1.4h0m4.8 0.3h0m-15.2 27.7h0m9.5-26.6h0m0.5-1h0m-14.3 27.8h0m12-13.1h0m4.7-21.4h0m-4.1 14.8h0m3.5-10.1h0m6.2-5.3h0m-6.3 6.4h0m2 2.5h0m-16.7 22.2h0m15.8-24.8h0m-15.9 24.2h0m13.2-17.8h0m-11.8 20.1h0m-2.8-4.1h0m19-20.6h0m-10.4 19.8h0m-6.5 8.8h0m33.2-25.9h0m-22.5 5.8h0m7.5-10.2h0m-4.1 3.7h0m-12.1 19.3h0m2-1.4h0m7.9-7.9h0m-10.3 4.8h0m20.3-25.9h0m-19.2 36h0m16.7-26.7h0m-3.9 2.2h0m-14.3 15.7h0m1 5.5h0m7.8-18.7h0m3.9 1.4h0m-11.8 21.4h0m0.8-9.8h0m18-25.6h0m-21.4 29.8h0m2 1.3h0m2.2 2.7h0m-3.7 2.3h0m19.3-40.3h0"/>
<path stroke="#a5f89f" d="M305.4 493.6h0m-7.5 14.2h0m16-19.9h0m-21.4 22h0m1.9-11.3h0m-3.4 12.6h0m17.1-26.4h0m-8 13.1h0m-6.5 13.4h0m-5-0.6h0m0.9 2.1h0m2.1-5.1h0m9.4-10.2h0m-16.1 17.1h0m25.3-36.4h0m18.7-14.9h0m-39.5 52.9h0m4.8-2.9h0m11.7-27.3h0m-18 23.4h0m32.1-21.6h0m-13.9-9.6h0m-18.3 30.4h0m10-18h0m2.1 2.7h0m4.2-4.1h0m15.2-0.4h0m-16.8 3.4h0m-10.3 10.2h0m-6.4 8.9h0m6 5.2h0m20.7-28.2h0m-2 2.5h0m-7.8 5.5h0m-3.3 1.8h0m0.6-1.6h0m-14.1 8.2h0m17.3-9.5h0m-1-3.4h0m-4.7-0.8h0m-6.9 16.7h0m8.8-14.6h0m3.6-10.4h0m-6 30.5h0m-2.9-16.5h0m-2.9 7.3h0m0 4.2h0m8.8-21.2h0m-6.2 22.4h0m13.6-21.1h0m5.3-9.8h0m-24.2 31.4h0m14.3-12.9h0m-12.4 14.4h0m4.9-11.9h0m2.3 2.2h0m8.7-24.1h0m2.7 8.4h0m-10.8 20.3h0m-1.5-9.9h0m1.4 5h0m-3.9 5.5h0m-5.4 1.2h0m9.9-14.7h0m-1.9 0.1h0m8-5.5h0m1.8-4.3h0m-9.6 19.5h0m-3.1 2.8h0m-2.7 7.2h0m0.7-6.3h0m14.9-19.5h0m-10.1 2.5h0m0.8 4.3h0"/>
<path stroke="#aff498" d="M332.8 463.9h0m2.1 4.9h0m-45.7 44.3h0m-2-3.9h0m-1.7 4.6h0m9.7-3.3h0m-6.2-1.8h0m5.5-6.3h0m27.2-16.8h0m-30.7 22.7h0m-2.8 2.1h0m6.3-7.8h0m-2.1 6.6h0m-6.9 4.3h0m2-2.9h0m2 2.1h0m0.7-4.2h0m-2 0.6h0m0.3 4.7h0m36.4-27.8h0m-33.2 23.7h0m22.6-15.8h0m-21.2 11.4h0m-6.2 5.9h0m0.6 4.8h0m5.6-9.4h0m-6.6-0.7h0m4 4.6h0m4.7 2.3h0m-5.6-3.9h0m2.8 0.5h0m0.9 2.3h0m2.8-7.5h0m-4.8 0.5h0m29.9-18.3h0m-31.8 24.5h0m-0.7-5.5h0m-0.6 6.1h0m0.9-3.8h0m-1 5h0m4.2-7.6h0m37.5-38.6h0m-36.8 39.2h0m33.2-16.7h0m-16.3 4.1h0m6.8-1.9h0m-5.4-8h0m-23.9 30.5h0m25.3-29.2h0m-28.2 31h0m24.2-28.1h0m-19.4 14.4h0m21.1-15.5h0m-0.5-0.8h0"/>
<path stroke="#baef91" d="M288.8 505h0m20.4-16h0m-13.6 9.9h0m-4.4 12.1h0m14.1-24.1h0m-1.9 3.1h0m-7.4 13.6h0m9.8-12h0m2.1-3h0m-21.8 22.4h0m25.4-25.1h0m-16.6 16.3h0m-1 8.3h0m-5.1 4.5h0m21.9-27.8h0m-20.7 21.1h0m35.2-20.6h0m-32.4 25h0m0.7-4.5h0m-3.6 0.3h0m-3.5 9.1h0m11.5-16h0m-1.7 4.4h0m14.8-20.6h0m-21 24.2h0m6.1-2.5h0m-2.9 0.6h0m27.6-20.7h0m-7.2-4.7h0m-23.7 17.8h0m15.8-12.8h0m-11.7 19.5h0m15.2-22.4h0m-18.8 25.5h0m19.1-25.4h0m-15.2 29.1h0m-3.3-0.6h0m5.2-11h0m-5 9.7h0m-6.7 5.6h0m26.8-36.1h0m-2.5 6.6h0m-24.4 21.4h0m23.7-23.4h0m-15.1 14.4h0m4.2-1.2h0m12.3-11.7h0m-20.4 25.3h0m20.8-30.1h0m-2.6 5.9h0m-0.4 0.4h0m-13.1 16.4h0m-1.5 1.6h0m-0.5 1.5h0m27.2-20.6h0m-28.8 17.3h0m-1.9 10.9h0m1.6-7.5h0m1.2-0.8h0m-3.9 5.5h0m4.5-1.9h0m-6.4-5.3h0m0.6 12.1h0m2.5-7.3h0m8.1-4h0m-6.1 1.1h0m-1 3.5h0m18.5-23.2h0m3.9-3.5h0m-1.6 7.3h0m-21.6 14.6h0m19.4-18.3h0m4.6 7.1h0"/>
<path stroke="#c5e88a" d="M288 510.1h0m-1.9-1.4h0m27.8-13.3h0m-24.2 14.9h0m20-23.9h0m-2.7-0.3h0m14.3-1.1h0m-13.2-1.6h0m3.7-2.7h0m-8.3 9.9h0m1.2-4h0m12.9 4.6h0m-8.9-8.2h0m-17.9 28.9h0m1.4-5.5h0m5.1 1.7h0m18.4-19.9h0m6.3-3.4h0m-33 28h0m1.7-4.1h0m4.7-10.7h0m-3.2 9.7h0m3.4 3.7h0m13.4-23.5h0m-0.8-4.1h0m-16.9 27.2h0m-2.8-1.1h0m-0.7 3.6h0m25.1-27.2h0m9.1 2.9h0m-11.7-2.4h0m-14.8 15.7h0m-7.9 11.1h0m-2.4 5.1h0m25.6-32.6h0m-24 31h0m-2.2-7.8h0m24.3-24.9h0m-11.2 21.4h0m9.8-17.9h0m-18.5 21.9h0m6.6 2.5h0m-6.8-4.1h0m19.4-18h0m-15.6 19.6h0m1.5 1.2h0m14.2-26.8h0m-19.9 34.4h0"/>
<path stroke="#cfe183" d="M289.9 508.9h0m17.5-23.1h0m0.5-0.9h0m4.1-0.2h0m-26.1 27.6h0m-0.7 3.8h0m5.8-4.5h0m2.3-6.2h0m10.8-14.2h0m-10.1 16.4h0m-2.8-1.2h0m16.7-19.7h0m6.4 2.3h0m-30 18.4h0m12.8 0.6h0m17.2-19.2h0m-20.2 18.3h0m16-14.1h0m8.1-5.3h0m-26.5 16.6h0m20.3-17.5h0m10.6-0.3h0m-13.1 1.4h0m-4.2 3.4h0m5.1-4.3h0m1.8 7.4h0m-20.7 7h0m19.2-12.9h0m-0.7 3.1h0m8.6-3.6h0m-10.7-2.9h0m1.5-1.1h0m2.1-0.4h0m1.4 4.3h0m-17.4 20.3h0m-3.8 3.1h0m15.4-22.7h0m3 1h0m17.3-1.8h0m-36.1 19.3h0m20.6-26.6h0m2.4 1.6h0m-24.8 23.8h0m23.8-19.8h0m2.2 5.7h0m-17.2 8.3h0m-6.2 11.3h0m-7 4.2h0m7.3-12h0m20.2-17.9h0m-19.1 21.6h0m33.2-25.3h0m-12.9 3.1h0m-24.9 20.7h0m23.4-22.3h0m-19 31.9h0m1.8-14.7h0m-0.8 3.2h0m16.6-18.8h0m1.5-4.1h0m-1.6 3.5h0m-14.8 24.8h0m-9.7 4.6h0m25.2-32.9h0m-17.3 21.5h0m9.3-8.5h0m-12.9 19.2h0m3.2-4.6h0m-2-1.4h0m14.6-20h0m4.5-0.9h0m-18.1 26.5h0m34.2-27.4h0"/>
<path stroke="#dad97c" d="M301.3 485.2h0m10-0.4h0m0.4 0.7h0m-0.9-6.7h0m-10.4 8h0m9.3 3.6h0m-2.8-6.3h0m0.3 5.1h0m2.9-5.8h0m-3.7 10h0m5-9h0m-3.9-2.1h0m-19.7 23.3h0m23.1-17h0m-1.6 0.5h0m-2.7 0.4h0m2.2-0.4h0m-3.9-2.2h0m-2.5 8h0m-0.6-7.3h0m3.9 1.2h0m8.5-7.9h0m-5.1 7.4h0m36.4-12.5h0m-37.3 8.8h0m-3.6 3.7h0m1.9 2.2h0m-0.1-9.6h0m0.5 6.3h0"/>
<path stroke="#e4cf75" d="M306.2 485.6h0m1.5 0.9h0m-10 6.9h0m11.4-3h0m0.5-5.3h0m4.4-3.7h0m-4.8 2.9h0m-2.6 5.8h0m1.5 2.9h0m-12 10.1h0m10.8-17.5h0m1.1 5.7h0m-16.7 14.5h0m22.1-18.7h0m-5.9 3.5h0m-10.2-6.2h0m8.6 3h0m4.1-7.3h0m2.9 6.4h0m-3.4-1h0m-2.2-1.8h0m0.3-6.3h0m6.8 5.4h0m-13 9.6h0m10-8.2h0m-23.2 39h0m18.8-13.5h0m-3.7-18.9h0m-12.4 27.8h0m10.3-3.5h0m9.1-40.1h0m-6.2 35.7h0m-5.2 4.3h0m-10.5-6.2h0m9.8-2.6h0m-7.5 12.4h0m17.6-9.8h0"/>
<path stroke="#efc56d" d="M306.8 485h0m-2.6 23.1h0m-1-9.1h0m-8.1 16.1h0m2.7-4.4h0m2.9-10.3h0m-6.8 17h0m12.7-38.8h0m-9.2 12.1h0m-0.1 17.3h0m-3.1-5.8h0m-1.2 5.2h0m-5.3 8.8h0m9.2-5.3h0m-7.2-2.7h0m1 3.1h0m3-4.4h0m4.1 4.9h0m-4.6-2.3h0m-1.1 2h0m-0.5 2.4h0m5.9-17h0m0.9 17.6h0m-7.8 1.2h0m1.9-20.1h0m2.1 20.3h0m0.3-7.4h0m0.5-1.3h0m1.2 0.8h0m9.2-1.3h0m-2.9-16.7h0m-5.1 21.1h0m-7.7 13.6h0m21.1-24.5h0m-19.8 17.8h0m12.5-15h0m-4.2 17.5h0"/>
<path stroke="#faba65" d="M309.1 511.4h0m-12.5 6.8h0m1.6-16.2h0m-1 16.2h0m-5.5-0.1h0m9.5-7.4h0m-6.2 7.2h0m0.8-12.1h0m2-0.1h0m16.1-22.3h0m-8.1 6.3h0m-3.2 22.2h0m1.4-9.8h0m18.2-23.1h0m-4.4-0.5h0m-4.2 2.9h0m0.5-1.9h0m6.3 2.6h0m-25.8 32.1h0m0.8-0.3h0m-3.2-5.7h0m3.2-18.8h0m11.4 16.7h0m7.2-25.4h0m-22.3 12.7h0m4 18.7h0m2.4-6.3h0m20.1-21.7h0m-22.2 28.5h0m6-25.2h0m16.5-9.3h0m-21.5 36h0m2.2-26.7h0m0 23.8h0m-2.2-3.9h0m1.3 2.2h0m4.6 9.1h0m10.8-38.8h0m-17.7 41.6h0m8.6-8.3h0m6.4-32.2h0m-12.9 5.2h0m23-5.2h0"/>
<path stroke="#ffae5e" d="M333.4 493.4h0m261-95.4h0m-125 24.4h0m28.6 10h0m39-9.8h0m5.6 9.4h0m21.8 30.5h0m-49.6-5.9h0m-216.7 38.9h0m10.4-12.6h0m-19 29.5h0m1.6-0.2h0m13.7-1.8h0m-3.2 3.5h0m-12.3-4.2h0m12.6 8.2h0m-18.4 5.2h0m15.6-34.1h0m-1.7 6.1h0m-0.3-6h0m0.5 23.7h0m-2.3-20.1h0m5 4.3h0m-10.9 25.9h0m6.8-12.4h0m10.7-4.6h0m-16.5 12h0m4.9-5.1h0m7.6-0.9h0m1-2.9h0m12.7-30.3h0m-21.8 17.9h0m-0.9 16.8h0m7.8-3.2h0m-5.7-3.9h0m-3.1 0h0m21.6-27.8h0m-14.6 24.3h0m19.2-22.2h0m-12.9-3.8h0m-14.3 21.1h0m24-14.8h0m4.7-6.6h0m-27.3 29.2h0m43.7-27.7h0m1.2 4h0m1.8 0.6h0m-42.7 10.9h0m-3.2 22.9h0m4.7-7h0m-4.8 0.8h0m13.3-7h0m-11.2 0.6h0m-3.8 9.3h0m9.8-22.2h0m27.4-3.7h0m-10.7 6.4h0m-14.4 16h0m-7.1-7.3h0m18.9-19.5h0m-22.4 36.9h0m5.4-13.7h0m-4.7 1.1h0m7.7-1.3h0m-3.8 0.8h0m3.5-1.9h0m17.9-14.3h0"/>
<path stroke="#ffa256" d="M294.1 515.5h0m8.4-6.2h0m-3.2-2.4h0m-2-16.6h0m1.3 24.8h0m3.2-17h0m8.6 6.4h0m3-0.6h0m7.5-12.7h0m-14.7 15.5h0m-5.4-24h0m1.9 7.7h0m17.5-4.8h0m-20.7 16.3h0m17.3-26.4h0m-28.6 38.5h0m18.6-25.6h0m-12.4 24h0m23-33.6h0m-11.6 31.9h0m13.9-22.8h0m-24.5 7.4h0m22.5-13.4h0m4.1 10.4h0m0.2-1h0m-30.2 17.8h0m8.9-5.6h0m17.8-14.2h0m-2.2-2.4h0m-19.3 33.5h0m17.6-19.1h0m-7.8-11h0m-12.4 30h0m29-40.4h0m-20.5 23.8h0m-12.2 8.4h0m4.9 2.6h0m10.7-5.6h0m-10.2-7.8h0m5.4 18.4h0m5.6-17.4h0m2.4 4.7h0m-13.5 3.6h0m7.5-8.7h0m13-8h0m3.2-3.9h0m-6.8-10.7h0m-4.1 18.5h0m4.7 7.3h0m-13.7 5.2h0m-8.5 7.2h0m18.2-9.5h0m3.6-33.7h0m7 11.3h0m0-13h0m2.1 6.2h0m-22.8 27.5h0m-7.3 5.6h0m1.7 1.7h0m1.3-6.2h0m4.6 4.7h0m21.7-32h0m-16.8 27.7h0m-3.5 4.3h0m4.8-3.1h0m11.1-31.5h0m0.9-0.9h0m6.7-1.8h0m-8.6 5.6h0m-16.7 25.9h0m0.8-1.5h0m-2.5-13.3h0m18.4-9.9h0m-21.2 27.9h0m19.3-31.6h0m-23.6 34.6h0m29.3-30.3h0m2.9-4.7h0m-7.5 16.7h0m-15.4 17.4h0m17.1-31.6h0m-23.3 14.1h0m11.3 11.4h0m-0.1-5.9h0m13.1-20.7h0m-13.4 39h0m8.2-38.4h0m5.4-0.2h0m4.8 0.1h0m-2.5 1.9h0m-11.6 19.8h0m-10.3 4h0m8.5 8.7h0m-8.8 6.2h0m18.7-35.7h0m-1.3-3.6h0m-24.4 29.3h0m-1.6 3.4h0m18.7-0.4h0m18.5-37.4h0m-9.9 7.7h0m-22.3 25.7h0m9.8-1.1h0m-8.7 2.2h0m5.3-19.9h0m43 104.3h0m-47.1-81.4h0m1.8 1.2h0m16-29.6h0m7.8 5.3h0m-34.8 32.2h0m22.7-15.2h0m-1.1-3.5h0m7.7-21.5h0m1.8-0.5h0"/>
<path stroke="#ff954e" d="M324.2 479.8h0m-16.6 23.6h0m15-28.5h0m-6.3 7h0m4.5-0.1h0m-4.7-3.6h0m9-2.5h0m-1.5 0.7h0m-24.6 28.4h0m26.6-25.7h0m-28 36.8h0m23.7-43h0m-21 37h0m-14.1 6.9h0m6-1.2h0m32.5-31.1h0m-23.6 19.6h0m23.9-32.3h0m-26.2 21.7h0m40.4 104.3h0m-38.9-88h0m3.5-1.6h0m9.3-28.6h0m-1.2 26.5h0m5.3-30.1h0m-0.6 14.6h0m-15.1 1.8h0m19.5-18.7h0m0.5 1.8h0m1.5 3.7h0m-23.6 6.8h0m-8.4 36.9h0m31.7-48.5h0m-0.8 0.4h0m-23.3 31.6h0m21.5-16.6h0m-0.4-7.3h0m-0.8-3.4h0m3.8 11.7h0m-2-15.4h0m-14 21.9h0m15.3-17.1h0m-20.2 5.2h0m20.9 4.2h0m-1.7-13.9h0m7 10.5h0m-5 0.4h0m-14.5 18.6h0m11.7-27.9h0m0 3.2h0m-3.3-4.9h0m-29.3 27.7h0m16.8 1.3h0m-12.9 0.7h0m3.8 11.7h0m29.2-41h0m1.7-4.1h0m11.9 125.9h0m-19.4-105.3h0m0.4-15.4h0m-0.2-2.9h0m-14.3 38.4h0m-7.5-3h0m20.6-33h0m-3.3-0.9h0m-19.5 38.9h0m-3.3 2h0m30.6-37.7h0m-7.2 4.1h0m2.9 8.4h0m0.4-8.8h0m4.6-3.2h0m0.9-2.5h0m-1.4 4.2h0m-28.2 26.2h0m5.5 2.1h0m21.7-35.7h0m-20.5 32.4h0m18.4-28.7h0m-3 1h0m7.4 2.2h0m-2.9-3.7h0m-12.6 38.1h0m-11.8 2.4h0m25-38.2h0m-3.3 13.3h0m-2.5-11h0m-17.6 34.5h0m19.2-26.3h0m4.4-10.5h0m-0.5-0.3h0m1.7 7.9h0m1-11.3h0m-9.4 14.9h0m4-11.4h0m1.8 16.6h0m-24.7 17.4h0m20.2-17.8h0m6.9-18.9h0m-23.1 33.3h0m15.8-30.5h0m-15.8 24.3h0m-9.7 8.3h0m21.9-28.3h0m-3.3 20.1h0m10.5-23h0m-0.6-5h0m2.2 6.9h0m1.9 6.5h0m1.3-3.2h0m-17.1 12.7h0m6.1 4.5h0m5.3-21.6h0m0.2-1.3h0m-12 23h0m13.9-23.7h0m-32.9 35.6h0m30.1-35.9h0m-17.3 37.3h0m19-35.8h0m2.1-2.1h0m-13.3 28.2h0"/>
<path stroke="#ff8746" d="M311.7 504.8h0m-12.2 7.1h0m23.6-24.4h0m-2.1 3.3h0m-0.5-10.7h0m-28.7 29.1h0m30-21.1h0m-5.8-4.9h0m9.8 3.6h0m-7.5-10.5h0m-3.8 5.1h0m2.5-1.9h0m-0.8-2.2h0m-23.3 42.5h0m24.5-38.3h0m-21.7 25.9h0m14.9-6.1h0m-4.8 11h0m12.6-33.7h0m-24.1 26.4h0m17.8-2.8h0m7.1-12.7h0m24.6 101.1h0m-28.9-90h0m9.4-24.7h0m-24.2 25.8h0m3.2 7.6h0m-1.7 0.4h0m22.7-28.5h0m-28.7 35.9h0m28-29.6h0m13.3 108.8h0m-10.6-106.2h0m-31.2 20.4h0m9.3-2.8h0m-13 1.4h0m26.6-29.2h0m2.6-2.5h0m3.1 14.5h0m-9.4 1.7h0m7.5-19.6h0m0.1 4.1h0m-18.7 36.2h0m-3.7-6.4h0m22.5-32.2h0m-23.1 32.2h0m-11.2 12.2h0m21.5-13.4h0m33.4 88.2h0m-39.3-88.3h0m17.5-26.7h0m-15 35h0m35 76.3h0m-19.8-112.2h0m-14 25h0m5.5-23h0m3.3 3.3h0m4.7-9.3h0m-1.2 2.9h0m2.8-6.1h0m2.6 8.7h0m-24.3 24.5h0m-4.1 9h0m6.8-5.2h0m-1.2-10.6h0m11.1-10.1h0m1.8-6h0m-21.7 35h0m4.2-15.4h0m1.9 15.4h0m22.3-39h0m-5-0.7h0m3.3 2.1h0m-28.6 32.1h0m-1.4 4.1h0m27.5-33.6h0m2.2-3.9h0m-23.1 32.6h0m28.5-25.3h0m-30 24.8h0m24.2-32.6h0m0.7 0.9h0m3.9 11.5h0m0.1-14.2h0m-13.5 6.3h0m-13.3 32.5h0m41.7 80.4h0m-16.7-120h0m-24.7 33.1h0m19-32.5h0m2.6 1.5h0m-1.3 6h0m-21.4 31.1h0m1.6-0.5h0m-1.6-10.7h0m18.3-26.6h0"/>
<path stroke="#ff783e" d="M317.9 511.3h0m11-25.5h0m7.8-17.9h0m-18.1 14.5h0m17.4 116.2h0m-18.8-120h0m-21.2 27.3h0m13.3 0.4h0m8.8-13.9h0m2.4-10.8h0m0.8 0.6h0m0.9 10.2h0m-3.7-19.8h0m-1.4 11h0m1.9-6.4h0m-0.5 1.7h0m-3-1.5h0m-4.5 28h0m11.9-23.7h0m-8.6-2.6h0m12.3 10.2h0m-4.9-8.4h0m1.7-2.1h0m-4.9 3.2h0m-1.8-5.2h0m-1.8 4.7h0m2.9 12h0m0.8-2.9h0m0.5-9.5h0m-21 25.3h0m21-15.5h0m2.6-5.6h0m-2.7 0.4h0m0.3-4.6h0m18.7 113.2h0m-18.3-113.6h0m0.4 0.8h0m3.9-2.6h0m-4.5 1.4h0m-8.8 0.7h0m-5.9 31.2h0m-4.7 2h0m15.3-32.1h0m3.3 6.4h0m-14.3 16h0m19.7-24.4h0m-2 0.2h0m-6.9 0.6h0m20.6-15.9h0m-13.9 12.3h0m-2.3 2.7h0m0.1 8h0m3.2 1.4h0m-21.4 19.2h0m-0.6 1.8h0m17.2-32.5h0m0.4 1.7h0m-17.5 28.7h0m17.4-33.4h0m-0.2 8.1h0m-7.9-2.6h0m9.8-1.9h0m-20.1 24.2h0m18-21.5h0m1.9-2h0m15.5-16.6h0m2.2 14.9h0m-25.9 4.3h0m28.8 113.2h0m-15.1-104.6h0m-6.4 3.9h0m-5.1-15.5h0m11.8 2.5h0m-7.9-7.8h0m-18.9 30.9h0m22.7-26.5h0m1.7 0.3h0m-1.1-1.7h0m-2.7 16.7h0m-5.8-16.2h0m-15.8 34.1h0m22.5-26.8h0m-6.3 9h0m5.9-15.5h0m21.5 117h0m-19.8-118.5h0m-21.2 33.6h0m2.9-2.1h0m21.1-33.5h0m-3.9 9.4h0m1.5 2.1h0m6.5-10.2h0m-21 30.6h0m13.5-29h0m0.5 0.6h0"/>
<path stroke="#ff6936" d="M314.9 480.4h0m4.8-1.3h0m-5.1 5.6h0m8.5-4.8h0m-19.1 26.5h0m14.5-22.2h0m0 5.1h0m3.9-7.7h0m-3.4-3h0m2.3-3h0m-0.9 4.9h0m3.9 9.5h0m-8.4-9.4h0m-10.1 23.5h0m13.3-22.7h0m-20.5 25.2h0m22.2-28.7h0m-2.1 6.4h0m1-3.6h0m-16.3 28.5h0m22.7-23.5h0m-8-7.5h0m-1-4.8h0m-1 4.4h0m5.8-1.8h0m-1.6 2.2h0m6.5 1.2h0m-5.8 0.9h0m21.2 116.7h0m-34.9-88.2h0m15.4-30.3h0m-6.3 2.5h0m1.7-2h0m20.2 115.9h0m-18.8-103.5h0m20.8-12.1h0m-20.3-0.4h0m2.6 2.9h0m-2.6-8.3h0m-15 37.6h0m15.9-28.3h0m-18.4 31.1h0m12.2-32.2h0m5.4 1.2h0m-0.1 6h0m0.1-10.4h0m-2.7 1.5h0m-11.9 26.6h0m19.7-29.1h0m-11.3 5.2h0m1.4 16.3h0m0.2 3.2h0m3.5-25.1h0m-2.2 4.3h0m-3.7-5.7h0m-10.5 29.9h0m21.2-14.3h0m-16 10.7h0m14.5-27.1h0m0.4 9.4h0m-4 0.8h0m4.8-9.9h0m-2.1 4.4h0m-1.3 1.6h0m-2.2-3.6h0m-10.8 23.5h0m4.8-6.1h0m27.3 99.4h0m-11.5-109.5h0m-9.7-8.5h0m18.9-4.2h0m-28.8 32.6h0m12.1-15.8h0m-20.5 15.7h0m14.3-22.7h0m-18.9 31.6h0m25.3-30.5h0m0.2 2.4h0m-5.1-3.8h0m26.3 112.9h0m-24.7-111.9h0m2.2-5.3h0m3.2-1.2h0"/>
<path stroke="#ff5a2e" d="M318.5 481.5h0m0.7 17.4h0m-2.9-2.5h0m-17.2 15.4h0m23.7-35.5h0m7.3 12.5h0m-6.6 7.9h0m-0.6 0.8h0m-9.4 3h0m3.9-19.6h0m3.5 8.4h0m-4-14.4h0m12.8 18.2h0m-8.7 4.7h0m-6.9 4.1h0m9.4-4.3h0m-2.2 3.4h0m15.8 99.7h0m-15.1-100.6h0m-15.9 3.8h0m15.8-9.1h0m0.3-1.3h0m-3.5-10.2h0m8.9 13.3h0m-12.5 3.6h0m-1.8-20.2h0m4.7-4.9h0m-0.3 25.2h0m22.1 92.3h0m-23-114.6h0m-1.3 1.2h0m-10.4 25.3h0m17.4-8h0m-4.9 4.1h0m-0.9-15.8h0m8.1-6.9h0m-2.1 17h0m0.1-17.8h0m-24.3 30.6h0m23.2-12h0m-3.2 9.2h0m-0.6-25.2h0m-14.5 30.8h0m14.5-11h0m5.1-1.1h0m-0.7-1.7h0m-4-19.5h0m7.3 11.3h0m-3.8 13.1h0m0.5-17.3h0m-2.3-3.1h0m0.9 14.2h0m1.6 3.1h0m-0.1-21h0m-3.9 18.9h0m5.7 0.5h0m-6.1 0h0m4.8-2h0m-2.8-13.5h0m0.1 16.9h0m-0.6-5.5h0m-1.6 1.7h0m4.8 0.1h0m-4.7 0.9h0m8-2.4h0m-5.1-10.9h0m-2.3 19.7h0m-1.7-4.7h0m5.1 3.1h0m-2.9-16.9h0m21.4 113h0m-17.3-116.9h0m-0.2 15.3h0m1.4-13.6h0m-3.5 20.4h0m0.1-29.9h0m-0.8 24.2h0m0.6-13.1h0m2 12.2h0m-20.4 12h0m12.7-29.6h0m1.9 4.1h0m-0.2 19.7h0m-2.4 1.7h0m5.9-6.1h0m0.2-0.1h0m-0.4-0.6h0m2.1 1.9h0m-3.4 1.7h0m10.7-5.3h0m-10.2 3.6h0m-1.4 5.3h0m-5.2-10.5h0m24.7 107.5h0m-38.9-93.3h0m19.5-27.6h0m0.3 14h0m-0.6 7.2h0m6.1-21.2h0m-23.6 34.4h0m13.3-10.9h0m-12.9 10.6h0m21.8-17.9h0m-3.2 5.3h0m3.4-2.5h0m-1.1-6.7h0m-2.9-15.3h0m-13.2 30.3h0m13.9-7.8h0m1-24.2h0m-1.6 26.3h0m3.2-3.3h0m-3 2.1h0m-8.5 2.6h0m-3.9 4.6h0m16.3-28.5h0m-3.4 13.6h0m4.5-17.7h0m-0.2 21.7h0m-6.7 5.6h0m6.8-21.6h0m6.6 6.2h0m-14.4 13h0m-13 10.5h0m20.7-15.5h0m9-9.4h0m-13.9 13.9h0m5.2-0.2h0m-3-19.1h0m-2.3-5.1h0m7.1 20.4h0m-4.7 4.1h0m1.6-20.1h0m-9.7 2.7h0m6.8 15h0m-11.3 7h0m8.4-1.3h0m-1.9-2.5h0m-8.6 0.5h0m11.8-20.1h0m7.2 19h0m15.7 98.8h0m-18.2-101.9h0m0.4 6.1h0m-3.6-4.5h0m5.5-4.3h0m-1.5 3.4h0m-1.8-16.2h0m4.9 2.2h0m-8.7-6.6h0m-17.7 37.6h0m18.3-19.2h0m0.3-10.7h0m-2.4 12.9h0m5.7 2.8h0m-6.7-2.2h0m1.3 5.9h0m9.9-10.7h0m-3.6 3.7h0m6.5 0.4h0m-24.2 13.7h0m11.4-32.5h0m0-1.3h0m2.7 20.6h0m1.1 3.9h0m1.8 2.1h0m-2.7-4.2h0m3.6-19.2h0m-6.2-3.6h0m0.8 22.1h0m4.2-3.4h0m-20 14.7h0m5.8-1.7h0m14.4-29.2h0m17.5 116.2h0m-11.6-110.7h0m-10-7h0m2.8 18.8h0m-5.6 7.3h0m3.3-3.5h0m1.1-25.6h0m-21.8 31h0m6.9 0.9h0m8.5-3.1h0m7.8-1.8h0m-1.7-1.2h0m-1.6-23.5h0m-19.6 32.5h0m39.8-36.3h0m-17.3 28.1h0m3.2-19.5h0m-0.3 19.1h0m-2.5-2.3h0m1.7 0.9h0m1.6-2.6h0m0.3 3.4h0m-7.8-17.4h0m-4.7 21h0m1.4-19.2h0m-2.4 16.2h0m10.2-1.4h0m0.6-18.7h0m-10.3 18.3h0m10.6-6.8h0m-3.6-13.8h0m-11.1 29.5h0m16-10.9h0m-6 5.2h0m0.2-4h0m0.3-23.1h0m6.5 21.8h0m-22.7 16.1h0m13.7-36.7h0m2.7 20.8h0m5.6-17.7h0m0.6 19.1h0m-25.1 11.4h0m27.5-30.7h0m-0.1 19.8h0m-4.5-1.7h0m-31 17.3h0m14.8-3.4h0m16.8-33h0m2.1 21.9h0m-17.4 9h0m17.6-34.6h0m12.1 122.7h0m-22.7-115.7h0m27.5 111h0m-14.7-97.2h0m-3.1-13.8h0m-4.3 15h0m-1.5-19.7h0m0.1 21.9h0m2.2 0.7h0m-5.4-20.3h0m3.2 8.5h0m7.4 11.5h0m-1.6-21.7h0m-7.4 23.1h0m11.9-3.3h0m-13.8 4.8h0m4.8-21.5h0m3.8 0.8h0m-15.7 30.2h0m8.6-11.7h0m2.3-10.8h0m5.3-7.7h0"/>
<path stroke="#ff4a25" d="M319.7 480.7h0m0.7 18.4h0m0.6-22.4h0m1 13h0m-28.8 24.8h0m24.8-13h0m3.7 1.9h0m-15.3-5.3h0m17.1 3.2h0m-2.3-1.9h0m-0.9 1h0m7.2-9.8h0m-3.3 6.2h0m-9.8-13.8h0m8.1-8h0m-15.6 25.3h0m13.2-4h0m-13.7 4h0m16-2.2h0m3.5-2.1h0m-7.2-19.2h0m-1.6 23.8h0m10.5-3.1h0m-10.7-17.4h0m13 14.5h0m-7.4-20.1h0m-3.3 25.4h0m-1.4-0.3h0m5.8-4.1h0m-4.7 1.6h0m-2.9-16.5h0m-0.7 19.2h0m4.5-4.5h0m-3 5.5h0m4.1 1.3h0m3.1-1.8h0m-2.1-4.8h0m4.7-11.8h0m-11.5 16h0m9.8-2h0m-15.3 2.8h0m13.1-4.3h0m-5.7-7.4h0m9.7 4.4h0m-6.2-16.3h0m-0.6 23.8h0m5.3-5.8h0m-6.8 5.8h0m-5.4 3.5h0m5.3-24.1h0m3.2 17.9h0m0.1-0.2h0m-2.4 2.3h0m-20.3 8.2h0m25.8-28.8h0m-4.1 23.5h0m-0.3-2.8h0m-0.2-1h0m-11.4 6.9h0m3.9-25h0m15.2 2.5h0m-14.3 18.2h0m8.8-2.6h0m-15.4 7h0m6.4-4.3h0m-0.9 0.4h0m3.1-2.6h0m4.4-4.2h0m-4.8-19.3h0m3.2 21.8h0m-2.2-15.9h0m-7 20.7h0m16 0.3h0m-2.3-3.3h0m-4.9-3.4h0m-17.7 7.6h0m22.7-22.2h0m-1.5 16.9h0m3.3-1.2h0m-1.3-2.5h0m-3.7 0.2h0m-5.2 7.7h0m10.6-1.4h0m-11.2 0.7h0m5.8-4.2h0m-0.9 1.3h0m-2.1 1.6h0m1.6-1.1h0m-22.7 9.2h0m26.1-10.7h0m-9.4 2.5h0m-11.1 12.4h0m14.9-29.5h0m2.8 14.4h0m-0.4-23h0m4.1 25.2h0m18.8 95.8h0m-27.3-94.2h0m6.8-4.5h0m-20.1 11.2h0m9.8-5.9h0m10.3-7.6h0m-22 16.3h0m24.7-9.8h0m2-8.7h0m-10.9 2.8h0m1.6 6h0m-9.8 3.1h0m9.4-4.7h0m-9.4 0.3h0m15.7-1h0m-1.3-25.4h0m1.8 23.9h0m0.1 0.8h0m-0.8 0.7h0m-6.4-23.7h0m0.9 2.7h0m6.2 17.2h0m-5.9-16.8h0m8.2 18.6h0m-5.3-0.7h0m1.6 5.9h0m-6.3-0.2h0m12.7-15.7h0m-14.7 13h0m7.9-2.7h0m4.1 0.2h0m-25.6 10h0m39.4 89.4h0m-22.9-105.5h0m6.1 2.3h0m-0.8 12.1h0m17.3-33.2h0m-12.4 9.5h0m-3 19.2h0m13.2 98.8h0m-13-100h0m1.3-20.6h0m0 24.4h0m-13-2.3h0m6.3-3.9h0m2.3 1.3h0m1.6-3.9h0m-8.9 7.6h0m4-25.6h0m12.4 4.7h0m-10.8 21.3h0m1.1-24.7h0m-22.3 35.8h0m27.9-38.1h0m-4.2 25.3h0m-2-19.1h0m6.3 7.3h0m-6.6-9.2h0m-2.5 16.3h0m5.5-1.3h0m2.6-0.8h0m-3 6.5h0m-3.2 5.4h0m-12.7-2.8h0m21.6-26.5h0m-6.4 4.1h0m-1 21.3h0m5.4-10.1h0m-5.6 4.2h0m-4 5.4h0m-0.5 1.6h0m12.2-16.4h0m15.5 105.7h0m-20.1-117.6h0m-0.1 21.9h0m-5 3.6h0m3.5-6.7h0m-2.5-12.2h0m1.1 17.8h0m3.9-0.7h0m-2.6 0.1h0m-3.4-3h0m2.5-22.4h0m-1.9 24.8h0m3.8-3h0m-8.2 10.7h0m6.7-4.4h0m-1.1-18.7h0m-4.6 19h0m3.4-4.5h0m0.7-0.7h0m1.3 0.8h0m-5.3 2.4h0m3.9-23.8h0m-2.2 4.8h0m0.9 18.9h0m4.7-27.8h0m0.9 7.9h0m0.1 19.1h0m-4.6 1.1h0m3.5-2.6h0m-3.5 2.4h0m2.8-1h0m3-1.2h0m-7 0.1h0m5.4 0.4h0m-3.6-21.2h0m-13 26.8h0m35.2 88.4h0m-21.2-95.2h0m-2.3 1.4h0m-21.4 6.4h0m18.8-27.3h0m-14.2 25.5h0m23.6-10.8h0m2 2.1h0m-9.5 6.2h0m6.8-24.3h0m4 7.8h0m-5.9 16.9h0m3.8-6.1h0m-24.1 13.3h0m14.6-26.4h0m4.4 14.3h0m2-3.6h0m4.9-0.1h0m-17.5 9.5h0m10.4-4.1h0m-0.6 0.5h0m-4.9 1.1h0m-1.4 2.4h0m15.3-4.6h0m-25.4 7.6h0m22.3-26.9h0m-10.1 23.2h0m1.5-2.6h0m10.7-5h0m-8.5-12.3h0m4.4 15.3h0m-23.8 9.3h0m22.7-7.7h0m1.1-2.5h0m-5.4-20.1h0m2.2 23.2h0m-13.3 3.4h0m14.6-3.8h0m-5 3.8h0m-2.6-5h0m5.1-16.8h0m1 19.4h0m4.1-25.7h0m1.9 22.3h0m-7.8-0.5h0m6-14.4h0m0.1 17.7h0m-7.3-5.9h0m8.6 3.5h0m-4.5-0.7h0m-2.8 5.6h0m0.2-2.1h0m6.1-0.6h0m-3.9-0.5h0m-3.1-21.5h0m5.5-1.9h0m-1.2 23.1h0m-4-7.8h0m-22.4 16.4h0m26.7-8h0m18.7 96.5h0m-17.6-100.7h0m-6.2 4.8h0m6.8-24.9h0m-7.5 14.6h0m5.4 9.1h0m-2-1h0m6.7-2.9h0"/>
<path stroke="#ff3a1d" d="M322.5 476.6h0m-7.4 22.3h0m2.3-0.4h0m3.8-1.6h0m0.6 0.2h0m4-9.2h0m-0.1 8.8h0m-2.1 4h0m1.8-21.6h0m-1.5 15h0m-8.4 5h0m7.3-2.1h0m-8.8 3.1h0m-0.8-0.7h0m10.1-6.1h0m-2.3 7.2h0m-4.4-24.1h0m9.3 17.9h0m-10-13.1h0m-13.7 29.9h0m15.5-9.1h0m0-23.2h0m0.8 15.2h0m-0.1 5.2h0m0.3-3.1h0m-5.2 7.1h0m1.1 0.4h0m4.5-3.9h0m4.7-19.4h0m-3.9-6.7h0m-4.4 25.6h0m3.7-17.6h0m5.3 19.1h0m-20.3 0.6h0m16.8-2.2h0m-2.8 2.4h0m-6-4.8h0m5.6-17.5h0m4.4 21.6h0m4.4-3.9h0m-5.7-8h0m2.5 13.1h0m-1-6.2h0m-0.4-5.5h0m-6.9-14.1h0m10.8 19.6h0m-5.3-3.4h0m1.6 8.8h0m2.1-14h0m-1.7-3.3h0m-7.9 19.7h0m10-23.9h0m-8.8 19h0m6-1.1h0m3.6-3.6h0m-2.5 4.2h0m2.9-3.8h0m-6.4-0.4h0m-0.7-21.4h0m4.8 23.7h0m-0.8-4.1h0m5.9 7.1h0m-2-26.1h0m-9.8 28.2h0m3.2 4.3h0m-2-4.6h0m-2.6-1.7h0m10.3-3.6h0m-2.4 1.1h0m-0.8 3.2h0m-0.6-4.8h0m6.7-10.9h0m-8.8 12.5h0m-0.4-6.3h0m8.9-7.8h0m-3.9 13.9h0m-8.5-17h0m12.1 0.3h0m-7.8-2.8h0m4 22.2h0m-6.9 3.2h0m-2.5-0.6h0m3-4.2h0m3.1-1h0m0.8-1.4h0m0-13.9h0m-2.1 15.6h0m-1.5 2.8h0m8.5-0.1h0m16.7-18.6h0m-26.4-1.7h0m0.4 20.3h0m3.4-9.1h0m2.3 11.1h0m-8.8-0.8h0m0-2.8h0m12.5-3.1h0m-5.3 3.1h0m3.2 2.1h0m-8.5-0.2h0m14.2-17.5h0m-12.3 8.3h0m1 9.2h0m0.3-1.8h0m9.7-13.3h0m-8.2 10.7h0m4.9-18.1h0m-9.2 21h0m4.4-0.4h0m-3.1 2.8h0m1.7-5.2h0m3.8 0.4h0m2.7 2.6h0m-7.5 2.3h0m0.7-1.7h0m0.4 1h0m-2.9-0.7h0m7-0.1h0m0-2.2h0m-4.7 3.6h0m11.3-13h0m-9.2 7.8h0m-2.8 4.1h0m-0.7 0.3h0m0.7-20.1h0m3.9 18.3h0m4.7 1.6h0m-3-7.6h0m-0.6-12.8h0m-3.6 20.9h0m5.7-18.1h0m-2.4 1.1h0m-9.4 14.7h0m2.4 3.3h0m-1.8 1.1h0m4.8-6.1h0m4.7-16.8h0m1 17.7h0m-6.6-1.5h0m0-14.8h0m1.5 19.9h0m10.5-20.9h0m-4.2 16.1h0m-9.1 2.8h0m2-18.9h0m1.2 22.7h0m-2.9 2.8h0m5.7-7.4h0m-1.6-6.2h0m2.3 3.7h0m-5.3-19.8h0m5.8 2.3h0m-2.7 14.8h0m1.6-12.2h0m4.2 12.8h0m-8 7.1h0m-2.9-4.2h0m-0.5 6.9h0m7.4-7.7h0m-1.6 3.3h0m-7.7 4.9h0m4.5-3.1h0m8.4-4.1h0m3.1-6.2h0m-7.9 6.6h0m-0.4 1.2h0m8.1 0.3h0m-4.4-0.1h0m-10.7 1h0m10.8-16.3h0m-3.7 20.2h0m9-7.3h0m-14.4 1.4h0m4.7 4.2h0m1.2-4.4h0m-8.4-14.5h0m8 15.9h0m0.4-19.6h0m-2.7 17.8h0m2.9 2.8h0m-4.2-18.5h0m-2.1 20.9h0m1.6-0.2h0m-1.8-20.3h0m0.6-5.8h0m1.8 20.5h0m1.6 4h0m3 0.6h0m-3.4-8.9h0m-21.4 16.7h0m25.4-10h0m-5.2 1h0m-3.8-22.7h0m5.9 22.1h0m-0.3-3.9h0m2.4 5.8h0m-4.8-1.3h0m-3.9-1.2h0m3.7 4.2h0m3.2-3.8h0m-4.6 0.5h0m1.2 2h0m0.7-20.7h0m-0.9 19.6h0m-1.9-24.8h0m3.9 24.9h0m1.8-9.9h0m8.9 5.4h0m-18.1 1.6h0m11.8 2h0m1.8-0.4h0m-9.1 5.8h0m8.9-15h0m-0.2 6.3h0m0-17.1h0m0.6 21.2h0m-8.5-2.1h0m8.3-1.5h0m-11 1.4h0m0.6 5.9h0m5.9-5.6h0m2.6 0.6h0m-8.7 1.2h0m5-0.8h0m4.9-2.3h0m-4.2-2.8h0m0.3 6.3h0m-1.6-3.3h0m1.6 5.2h0m-0.3-1.4h0m0.2-0.5h0m2.8-3.2h0m-5 4.3h0m0.2-0.7h0m10.2-14.8h0m-7 12.9h0m0.5-4.1h0m-2.2 1.6h0m1.1-6.9h0m-5.7 9.9h0m5.5-6.3h0m1.6 2.1h0m-1.3 1h0m0.1-12.5h0m-4.2-2.6h0m3.5 16.5h0m3.8-10.8h0m3.7 6.5h0m-23 8.7h0m14.1-22.8h0m1.4 18.3h0m-3.5-16h0m2 17.6h0m4-25.6h0m-1.1 22.4h0m1.1-12.8h0m-3.2 15.5h0m-4.1 3.8h0m0.7 1.6h0m-0.4-5h0m4.4 4.6h0"/>
<path stroke="#ff2a15" d="M319.1 477.2h0m4.6 2.1h0m0.3 21.9h0m-3.3-23.8h0m-2.4 20.7h0m6.8-1.7h0m-0.4-0.1h0m-5.5-20.2h0m-0.4 23.1h0m0.5 1.6h0m6.5-3.1h0m-6.9-1.2h0m9.7-2.3h0m-12-14.8h0m-1.9 24.9h0m6.9-8.1h0m-1.2-13.4h0m0.7-5.3h0m5.4 17h0m-4.6 5.7h0m3.1-11.1h0m-3.2-9.8h0m-0.5-1.6h0m-3 20.5h0m-3.7 2h0m5.9-23.5h0m-16.6 35.3h0m17.6-15h0m-15.2 9.1h0m11.6-5.4h0m1.6-1.5h0m0.9 1.2h0m-8.6 1.1h0m21.3-19.5h0m-20.9 15.3h0m14.2-1.6h0m-4.5 1.2h0m-2.9-17h0m11.5 15.2h0m-13.8-13.9h0m6.2 11.3h0m-12.1 8.3h0m8.3 4.2h0m0.9-5.2h0m2.1-1h0m-0.7-7.1h0m0.3-16.9h0m-3.2 7.2h0m4.9-2.8h0m4.1 16.3h0m-2.1-10.6h0m-3.3 16.7h0m2.6-6.9h0m-6 0.5h0m-1.3 2h0m-4.3 3.3h0m10.4-4.3h0m-5.9 2.8h0m-0.6-1.7h0m11.2 3.1h0m0.9-13.6h0m-14.7 3.1h0m2 9.5h0m4 0.5h0m-1.8-8.6h0m6.1 9.7h0m-6.7-0.9h0m6.2-3.8h0m-13.3 3.8h0m1.2 0.3h0m29-21.4h0m-16.5 11.6h0m-6.1 8.7h0m2.7-20.5h0m-7.6 0.5h0m5.3 16.6h0m0.8 2.8h0m3.5 0.7h0m-3.3-0.5h0m3.8 4h0m2-16h0m-5.3-1.7h0m-0.1 13.9h0m4.2-0.2h0m-1.9 0.2h0m-3.2-18.9h0m-4.2 10.3h0m-0.8 8h0m6.7-3.2h0m2 2.9h0m0 0.8h0m-2.1 0h0m2.1 0.2h0m-3.9-8h0m9.8-3.6h0m-5.8 11.3h0m2.9-10h0m-7 7.6h0m0 0.9h0m0.9-3.4h0m0.9 3.3h0m-4.5-14.1h0m-1-4.8h0m12.4-2.2h0m-4.9 21.7h0m-8.3 5.4h0m2.7-4.3h0m5-2.7h0m-9.4-17h0m4.9 13.4h0m-1.4 6.5h0m1.6-22.5h0m-1.6 23.9h0m6.9-1.4h0m-5.7-21.5h0m2.3 14.8h0m-5-9.4h0m2.3 12.8h0m10.7 1.2h0m-4.6-17.7h0m-4.7-2.3h0m4.9 20.3h0m1.6 4.9h0m2.1-8.2h0m1 0.4h0m-15.1 5.6h0m9.4-3h0m-6.5 2.8h0m6.2-24.1h0m-0.7 23.2h0m-7.4 1.9h0m14.3-3.2h0m-9.1-1.6h0m-0.7 1.9h0m4.8-0.7h0m-6.9-15.2h0m5.1 15.2h0m0.1-20.8h0m-7.8 22.7h0m4.3-8h0m3 6.2h0m-3.1-15.5h0m-8.1 19.1h0m-2.8 1h0m11.7-24.3h0m6.6 15.7h0m-1.2 7.3h0m-6.8-0.3h0m7.4-7.2h0m-9.5-11.2h0m-5.9 18.4h0m2.8 4.4h0m9.3-1.8h0m5.3-23h0m-6.1 17.5h0m-8.1 4.2h0m7.3-2.4h0m-2.4-0.8h0m-1.5-0.8h0m10.2-6.1h0m-4.8 4.6h0m0.1 3.3h0m5.1 1.5h0m-6-13.8h0m-3.7 13.5h0m-2.3-3.8h0m2.7 2.7h0m-6.1 1.5h0m3.9-3.5h0m10.7-5.2h0m-4.3 9.7h0m10.5-38.8h0m-13.2 30.2h0m-3.3 9.2h0m-2-2.7h0m1.7 0.8h0m1.9 1.2h0m5-2.3h0m-6-5.3h0m6 2.2h0m-7.8 3.5h0m8.7-6.7h0m-6.1-2.7h0m1.7 8.7h0m2.4 4.9h0m3.4-6.8h0m-1.5-2.8h0m-10.3 4.1h0m3.5-2.3h0m7 1.8h0m-1.6-3.2h0m-0.6 4.4h0m4-3h0m-2.8 0.6h0m-4.1 5.5h0m3.6-1.5h0m-2.9 1.9h0m-1.6-3.9h0m-2.4-0.9h0m15.2-15.6h0m-9.1 16.6h0m-3.2-1.1h0m1.7-0.9h0m1.9-1.5h0m-5.6 1.2h0m8.8 2.5h0m-4.2 0.4h0m-19.2 5.2h0m23-10h0m-3.4 6.3h0m2.7-6.9h0m0.4 6.1h0m0.2-4h0m-10.9 6.1h0m5.5 0.6h0m3.5-8h0m-1.5 3.2h0m5.5-0.4h0m-9 2.6h0m3.8-4.7h0m-4.3-5.9h0m10.3 10.5h0m-18.3 6.3h0m15.7-13.5h0m-6.7 6.9h0m0.7-1.3h0m1.5-3.1h0m-7.5 5.5h0m8.3-11.4h0m-0.6 8.5h0m1.4-1.4h0m2.6 0.8h0m-3.4-2.9h0m0.5 2.8h0m1.8-2.7h0m-1.9 0.7h0m-7 2.6h0m11.4-7.9h0m0.1 5.1h0m-2.6 5.5h0m-2.3-1.3h0m-4.8-0.2h0m6.6-2.6h0m-2.5 2.8h0m4.5-3.3h0m-7.6 7.6h0m6.7-9h0m-4 2.8h0m3.5-1.8h0m-3.8 4.5h0m0.9-7.3h0m4.3 2h0"/>
<path stroke="#ff190d" d="M316.1 500.9h0m-5.9 5.2h0m10.5-11.3h0m3.2 2.6h0m-0.1-1.6h0m-8.3 5.1h0m6.1-1.5h0m-9.3 1.5h0m3-2.3h0m0.9 2.1h0m6.9-3.9h0m-0.8 3.4h0m-3-2.4h0m0.1-0.5h0m5.2 3.2h0m-0.9-4.2h0m-5.2 3.6h0m3.1-0.8h0m5.4-2.4h0m-9.2-1.8h0m-3.3-1.9h0m8.2 5.7h0m3.1-2.7h0m-4.1-2.2h0m2.2 3.9h0m-4.1 1.3h0m5.1-4.9h0m-2.2 8.3h0m-2.9-9.3h0m1.4 9.3h0m-6.9-1.4h0m9.6-5.4h0m-3.3 6.6h0m2 0h0m-7.1-4.2h0m8.7 1.5h0m-3-5.5h0m5.2 3.6h0m0.9-1.1h0m-12.4 4.6h0m0.5-9.6h0m5.8 6.3h0m6.1-0.1h0m-9.1 1.8h0m-2.6 2.7h0m4.7-1.7h0m5.3-3.3h0m-18.2 8.1h0m15.3-3.6h0m-2.9-4.1h0m8.1-0.5h0m-2.6 3.4h0m-3.7-4.6h0m-8.1 10.2h0m1.3-8.6h0m3.3 6.4h0m6.8-9.3h0m-21.7 9.9h0m30.9-35.1h0m-16.5 28.2h0m-1.5 1.6h0m-1.9 4.5h0m8-7.3h0m-1.7 2.1h0m-0.5 1.3h0m1.7-1.8h0m2.8-2.3h0m-10.5 8.6h0m3.7-3.5h0m2.4-0.8h0m0.3-1.6h0m-7.5 1.3h0m6.1-0.3h0m-0.6-5.2h0m5.5 3.6h0m0.4 4.5h0m-5.4-3.4h0m10.7-18.4h0m-14.2 17.4h0m0.8-1.9h0m11-1.6h0m-6.4 2.1h0m-3.4-4h0m6.9 6h0m-4 0.2h0m-2.8 5.5h0m4-6.4h0m-1.2 1.4h0m-3.6-0.3h0m8.6-2.6h0m-9.4 1.9h0m5.2 3.3h0m0.6-1.5h0m-0.1 0.7h0m-2.2-4.1h0m1.5 3.2h0m-0.9-1h0m-1.4-0.1h0m1.6-0.4h0m-4.6 4h0m9.5-3.4h0m-9.4 2.4h0m5.3-3h0m-0.4 3.9h0m2.7-4.3h0m-4.9-2.9h0m2 4h0m-1.2 4.1h0m-3.8-6.6h0m-2.2 7.9h0m2.9 0.4h0m4.6-6.2h0m2-3.7h0m-2.1 0.8h0m-4.6 6.9h0m4.4-5.9h0m9.8-2.6h0m-4.9 1.1h0m-0.4 4.8h0m-2.2-1.6h0m-4.8 2.5h0m-0.6-4.1h0m4.3 3.9h0m1.5 0.7h0m2.7-6.8h0m3.4 1.4h0m-10.6 3.3h0m9-1.2h0m0.7 0.3h0m-13.7-1.3h0m5.8-0.9h0m-2.1 1.4h0m-0.1 6.6h0m-2.4-4.9h0m3.4 2.8h0m4.7-1.4h0m-13.3 7.9h0m13.7-10.5h0m-1.4-0.8h0m13.6-27.6h0m-9.9 29.5h0m-12.6 0.7h0m1.7 1.6h0m1.7-5.5h0m3.8-0.2h0m-1.5 4h0m2.3-4.7h0m3.6-11.3h0m-7.2 18.3h0m-2.7-0.1h0m3.7-1.8h0m-7.9 3.9h0m9.8-5.1h0m3.7-2.3h0m-9.2 1.3h0m4.2-0.1h0m4.6 4.7h0m-2.2-5.5h0m-0.8-2.2h0m2.2 3.7h0m-10.1 1.9h0m5 0.3h0m-0.4-0.9h0m8.6-2h0m-6.9-1.1h0m4.8 0h0m-6.4 2.5h0m7.8-5.7h0m-17.4 14.2h0m11.2-10.8h0m-3.5 2.5h0m2.7-2.4h0m-6.3 3h0m9.1-4.9h0m-1.8 2.8h0m1.7-2.1h0m-11.5 6.7h0m12.5-9.3h0m-3.6 5.8h0m22-9.8h0m-25.3 7.9h0m5.7 2.6h0m-1.2 2h0m3-4.6h0m-8.5 1.3h0m1.9 3.1h0m0.7 0.3h0m1-5.2h0m4 2.3h0m-6.9 2.2h0m23.6-16.2h0m-17.8 10.2h0m2.7 6.6h0m-0.5-7.3h0m-1.7 3.8h0m-3.7-0.3h0m4.1 2.9h0m10.1-12.6h0m-10.7 10.8h0m7.3-6.3h0m-11.9 5.4h0m-16.9 10.5h0m24.3-7.3h0m0.6-2.8h0m-9.4 2.5h0m4.8-1.9h0m2.7-1.2h0m-1.7-2.9h0m-21.2 9.5h0m18.7-6.8h0m6.8-5.7h0m-9.4 9.2h0m2.4-1.5h0m-12.4 5.9h0m12.8-7h0m2.6 0.1h0m1.5 2.6h0m-5.6 0.1h0m-1.7-4.1h0m2 2.3h0"/>
<path stroke="#ff0804" d="M319.7 502.9h0m-10.7 3.6h0m8.4-4.9h0m1.1-3.5h0m1.9-2h0m-4.4-0.8h0m-7 7.9h0m15.8-6.9h0m-5.2 2.5h0m3.5 3.1h0m-7.3-3.1h0m9.1-2.6h0m-2.8 0h0m-1.9-0.7h0m-1.8 6.2h0m2.7 1.2h0m0.6-8.8h0m-18.4 9.7h0m17.5-7.4h0m-3.3 2.3h0m8.5-3.6h0m-6.2 4.3h0m-7.5 3.2h0m9.1-6.8h0m1.8 2.4h0m6.1-2.8h0m-8.5 4.9h0m4.9-4.9h0m-7.1 8.7h0m5.6-7.4h0m-6.7 0.9h0m2.5-2.2h0m15.1-35.4h0m0.4 5h0m-12.5 4.6h0m19.7 5.4h0m242.9-88h0m-52.9 85.9h0m19 21.5h0m-233.1 5.1h0m6.9-2.3h0m-5.6-1.6h0m-3.2 1h0m-4.9 1.9h0m3.1 4.2h0m1.8-6.7h0m-1.1 5h0m4.3-2.8h0m-3.2 0h0m9.2-2h0m-5.6-0.6h0m-1.7 1.2h0m-4.1 5.9h0m4.3-2.7h0m2.4-0.1h0m1.9-2.1h0m-7.9-1.4h0m6.8 2.1h0m5 1h0m-4.6 1.9h0m-2.8-3.8h0m4.1-1h0m-6.1 5.7h0m5.3-2.2h0m-4.2 0.4h0m-2.2 1.6h0m-1-1.4h0m8.4-3.5h0m-6.7 2.9h0m3.8-2.9h0m-3.7-0.1h0m1.1 2.9h0m3.7 2.2h0m7.4-22.3h0m-8.2 15.4h0m-4.3 4.7h0m12.1-5.1h0m-10.8 9.8h0m-2.3-8.3h0m11.9-3.5h0m-16.5 11.7h0m9.1-6h0m-3.8 1.7h0m2.6-4.8h0m4.2 5.3h0m19.9-19.1h0m-21.9 20.1h0m-8.3-2.4h0m2-1.5h0m14.5-3.9h0m-15.5 4.3h0m6.1-3h0m-0.7 4.6h0m-5.1-2.7h0m10.3-1.3h0m5.6-0.3h0m-12.7 4.5h0m8.8-2.6h0m-7.9-0.7h0m1 2.1h0m2.1 0.8h0m1.4-2.7h0m-7 2.7h0m12.5-2.1h0m-9.5 5.6h0m4.5-6h0m-6.4 3.9h0m9.1-9.3h0m1.5 2.8h0m-8.4 0.5h0m-6.3 5h0m-9.5 8.2h0m27-14.9h0m-10.4 1.8h0m4.2 0.5h0m-8.9 7.6h0m9.3-2.5h0m-9-1.8h0m3.4-0.3h0m-10.5 2.7h0m12.1-7h0m0.7 2h0m1.7-2.1h0m0 3.6h0m2.2 0h0m0.6-4.5h0m4.2-12.1h0m-13.1 18.8h0m5.5-4.5h0m4.4 2.3h0m-0.9 0h0m1-18.5h0m-5.4 19.7h0m-1.6-4.5h0m5.4 1.9h0m-8.1 0.1h0m-2 4.1h0m9.6-1.5h0m-10-0.3h0m3.7 2.8h0m1.6-1.4h0m5.2-7.5h0m-8.9 6.2h0m10.7-15.4h0m-10.6 16.7h0m2.9-5.3h0m-2.4 6.1h0m6.4-5.2h0m-7.2 4h0m-4.8-0.1h0m9.5-1.1h0m-0.5-0.7h0m3.3-2.1h0m4.1 5.6h0m-2.3-3.8h0m-3.2 0.2h0m5.7-3.6h0m-12.7 8.4h0m7.8-1.6h0m-4.7-1.8h0m1.4-0.3h0m-5.3 2.9h0m9.1-5.4h0m-6.3 4.9h0m0.2-3.1h0m4.2-1.3h0m-2.2 0.7h0m-2.2-2.6h0m4.2 0h0m-0.5 0.8h0m0.5 0.8h0m-8 3.8h0m7.5 1.5h0m-2.4-3.3h0m-0.1-0.6h0m5.6-2h0m-7.1 2.3h0m4.8 0.1h0m0.6-2.6h0m2.9 1.2h0m-1 2h0m-6.3 3.3h0m0.4-8.3h0m2 2.2h0m-4.1 4.4h0m3.9 1.4h0m0.7-2.8h0m1.5-4.2h0m-0.5 1h0m-0.1-1.8h0m1.9 0.6h0m-8.1 4.9h0m0.7 0.7h0m-2.6-2.2h0m11.2-5h0m-0.8 3.2h0"/>
</g>
<g fill="#f5f514" stroke="#078507" stroke-width="1.05" stroke-linejoin="miter">
<path d="M559.3 355.15L560.45 358.42L563.91 358.5L561.15 360.6L562.15 363.92L559.3 361.95L556.45 363.92L557.45 360.6L554.69 358.5L558.15 358.42Z"/>
<path d="M512.4 397.45L513.55 400.72L517.01 400.8L514.25 402.9L515.25 406.22L512.4 404.25L509.55 406.22L510.55 402.9L507.79 400.8L511.25 400.72Z"/>
<path d="M534.4 400.05L535.55 403.32L539.01 403.4L536.25 405.5L537.25 408.82L534.4 406.85L531.55 408.82L532.55 405.5L529.79 403.4L533.25 403.32Z"/>
<path d="M568.7 395.45L569.85 398.72L573.31 398.8L570.55 400.9L571.55 404.22L568.7 402.25L565.85 404.22L566.85 400.9L564.09 398.8L567.55 398.72Z"/>
<path d="M557.6 410.15L558.75 413.42L562.21 413.5L559.45 415.6L560.45 418.92L557.6 416.95L554.75 418.92L555.75 415.6L552.99 413.5L556.45 413.42Z"/>
<path d="M540.4 421.15L541.55 424.42L545.01 424.5L542.25 426.6L543.25 429.92L540.4 427.95L537.55 429.92L538.55 426.6L535.79 424.5L539.25 424.42Z"/>
<path d="M508.7 431.15L509.85 434.42L513.31 434.5L510.55 436.6L511.55 439.92L508.7 437.95L505.85 439.92L506.85 436.6L504.09 434.5L507.55 434.42Z"/>
<path d="M573.3 442.05L574.45 445.32L577.91 445.4L575.15 447.5L576.15 450.82L573.3 448.85L570.45 450.82L571.45 447.5L568.69 445.4L572.15 445.32Z"/>
<path d="M510.4 453.15L511.55 456.42L515.01 456.5L512.25 458.6L513.25 461.92L510.4 459.95L507.55 461.92L508.55 458.6L505.79 456.5L509.25 456.42Z"/>
<path d="M537.6 450.25L538.75 453.52L542.21 453.6L539.45 455.7L540.45 459.02L537.6 457.05L534.75 459.02L535.75 455.7L532.99 453.6L536.45 453.52Z"/>
<path d="M546.4 468.25L547.55 471.52L551.01 471.6L548.25 473.7L549.25 477.02L546.4 475.05L543.55 477.02L544.55 473.7L541.79 471.6L545.25 471.52Z"/>
<path d="M546.7 515.55L547.85 518.82L551.31 518.9L548.55 521L549.55 524.32L546.7 522.35L543.85 524.32L544.85 521L542.09 518.9L545.55 518.82Z"/>
</g>
</g>
<path d="M241.5 158V653.5M241 653.5H752M241 319.3H245.5" stroke="#000" stroke-width="1" fill="none"/>
<g stroke="#6e6e6e" stroke-width="1"><path d="M243 87.5H751M243 122.5H751"/></g>
<g clip-path="url(#ct)"><g fill="none" stroke-width="2.0" stroke-linecap="round">
<path stroke="#7a08ff" d="M306.7 62.8h0m-18.4 31h0m-6.9-1.2h0m15.9-33.2h0m-7.2-9.4h0m-1.9 26.2h0m-7.1 2.4h0m17.5-34.6h0m-7.8 47.7h0m9.5-4.6h0m-10.4 15.6h0m8.3-40.8h0m7.3 24.1h0m-18.7 11.1h0m17.8-14.4h0m3.4-19.7h0m7.7-6.8h0m-40.1 11.7h0m28.3-5.1h0m-22.8 26.4h0m9.9 5.5h0m14.9-27.3h0m1.3 42.8h0m-7.1-48.1h0m4.2 14.3h0m-11.5-8.5h0m11.6 0.2h0m-19.6 37.4h0m13.6-19.7h0m7.3 12.1h0m-4.7-30.3h0m12.9 13.2h0m-16.2-3h0m5.4 8.7h0m9.1-22.9h0m-1.7-7.8h0m-15.3-1.7h0m5.2-4.5h0m3.5 2.1h0m-11.7 2.8h0m0.5-7h0m2.6 9.4h0m0.2 18.2h0m-0.7 15.8h0m-4.9-32.8h0m2.7 29.7h0m9.1-38.2h0m-14.9 30.4h0m22-9.7h0m-5.5-20.7h0m-15.8 16.3h0m19.3 40.8h0m-0.3-7h0m-1.3-48.6h0m-22 14.2h0m24.7 3.5h0m-0.6 13.1h0m-22.4 18.7h0m-7.2-11.1h0m13.7 14.1h0m11.4-51.7h0m7.3 36.4h0m3.5-26.4h0m-13.7 24.5h0m-14.3-0.3h0m10.8-27h0m13.9 30.8h0"/>
<path stroke="#7019ff" d="M306.7 52.1h0m-0.6 38.1h0m11.1-34.4h0m-18.2 29.3h0m2.9 15.3h0m9.3-0.7h0m-9.4-31.1h0m-1.4-0.2h0m0 9h0m15.7-12.4h0m-4.8 1.1h0m-16.6-18.9h0m6.8 16.5h0m0.2 30.1h0m-7.5 20.8h0m-2.2-33.3h0m17.1 0.1h0m-10.9-22.4h0m-18.7-2.2h0m36.2 28.7h0m-22.2 28.6h0m7-27.3h0m5-5h0m-20.7-22.9h0m28.1 21.4h0m-15.3-5.2h0m9.2-5.4h0m3 14.8h0m-8.3 5.7h0m-6.2-4.6h0m8.6 5.2h0m3.4-5.9h0m4.1-4.1h0m-22.4 26.6h0m0.3-64.5h0m6.4 8.7h0m14.3 2.2h0m-30.7 25.4h0m17.9 36.3h0m-4.6-23.9h0m-9.3-49h0m0.3 28.4h0m16.7-2.2h0m5.2 7.4h0m5.8 44.2h0m222.7 0.7h0m-247.8-62.9h0m13.4 3.5h0m-5.4 29.2h0m-0.8-16.3h0m11.6-14.1h0m-0.2-11.7h0m-10.8 44.3h0m2.8-15.8h0m-4.9 0.1h0m11.8-14.3h0m-15.2 37h0m12.6-48.1h0m-15.9 45.6h0m18.5-33.8h0m5.8-2.7h0m-11.7 10.1h0m1.9-20.7h0m-0.9 15h0m4.7-0.1h0m-15.5 4.2h0m19.7 16.2h0m7.9-25.7h0m-29.6 19.3h0m20.4-17.2h0m8.4 1.4h0m-5.8-9.7h0m-26.9 5h0m20.6 7.6h0m-13 35h0m5.5-7.2h0m3.9-6.1h0m-16.8-12.3h0m13.2-7.6h0m-8.4 14.3h0m12.3-30.5h0m7.1 13.9h0m-2.5 4.4h0"/>
<path stroke="#652afe" d="M299.7 73h0m6.2 17.5h0m-3.3-5.4h0m-4.1-32.6h0m4.1-2.4h0m7.1 36.4h0m3.1-10.8h0m-2.1-14.7h0m-12.2 36h0m-10-2.8h0m18.2-37.5h0m-14.1 22.9h0m10.1 11.1h0m-15.3-37.3h0m12.6 13.4h0m1.1 47.7h0m-19-26.6h0m18.5-7.6h0m6.9 32h0m1.8-57.3h0m-13 13.7h0m-2.4 13.6h0m20.9-22.1h0m-16.6 57.7h0m-11.9-71.5h0m2.1 32.7h0m4-3.8h0m3.3-1.5h0m-3.2-15.5h0m23 7.6h0m-35.3 6.1h0m25.8 22.6h0m292.7 32h0m0 4.9h0m-300.1-72.1h0m-13.5 3.2h0m18.1 16.1h0m-1.7 21.6h0m-23.2-39h0m-5.4-17.9h0m26.3 59h0m-14.2-4.2h0m10.4 7.4h0m-10.9-9.2h0m7.5 12h0m13.4-41h0m-1.8 17h0m-33-41.5h0m18 32.2h0m13.1 29h0m-6.2-8.4h0m9.3-28h0m3.1 7.5h0m-6.5 29.3h0m-21.2-17.1h0m10.4-33.5h0m6.5 36.2h0m1.4-31.3h0m-2.3 51.4h0m-1.2-28.8h0m7.9 3.9h0m-28.6-35.7h0m26.5 45.9h0m-7.3 0h0m-5.8-0.6h0m-2.1-15.1h0m19.9-33.9h0m2.2 8.5h0m-29 44h0m30.6-38.8h0m-17.7 26.1h0m-9-19.3h0m9.6 18.1h0m3.6 21.1h0m8.7-1.7h0m2.1-27.6h0m-2.1 4h0m-17.8-9h0m9.5-24.3h0m16.3 7.4h0m-12.9 54.8h0m-0.3-57.2h0m-18.5 32.9h0m15.5 22.7h0m9.3-28.2h0m-8.6 9.8h0m-13.9-12.2h0m7.4 19h0m4.7 6.8h0m0.8-34.2h0m12.6 55.8h0m-2.8-58.8h0"/>
<path stroke="#5a3afd" d="M299.7 61.5h0m3 8.3h0m-7.6 35.4h0m-6.7-56.1h0m5.9 41.7h0m2.8 11.5h0m13.2-53.7h0m-13.4 23.4h0m7.5 31.3h0m-11.2-2.9h0m13.1-42.5h0m-9.8 16.3h0m2-23.5h0m0.4 47.9h0m-15.6-10.7h0m10.9-32.4h0m10.3 55.4h0m-20.3-58.9h0m-5.9-0.3h0m-0.2-4.6h0m23.2 48.1h0m-21.2 5.8h0m25.9-31h0m-4-14.5h0m1.1 56.9h0m-0.8-50.3h0m-17.4-3.1h0m14.5-5.1h0m1.1 34.4h0m-18.6-3.4h0m-1.5-16.6h0m-6.3-23.6h0m13.4 28.7h0m4.2-16.1h0m-18.9-13.1h0m28.9 38.9h0m-21.5 23.3h0m10.7-6.5h0m14.5-44.6h0m3.8 28.6h0m-25.5-29.2h0m17.2 36.1h0m7.6-6.5h0m-21.3 4.9h0m19.8-25.8h0m-13 16.5h0m1.2 19.9h0m3-9.1h0m8.3-25.1h0m-23 35.6h0m28.4-28.1h0m-30.3-7.9h0m0.1 33.4h0m7.5-15.9h0m8 13.5h0m-17.5-31.7h0m12.1-8.9h0m2.7 15.4h0m2.2-19.7h0m-4.1-5.2h0m-6.2 4.3h0m20 35.7h0m-19.7 12.6h0m6.8-23.3h0m6.2-23.1h0m-5.3 13.5h0m-13.8 4.4h0m21.7 32.5h0m-1.4-46.7h0m-23-4.8h0m32.2 5h0m-5.8 4.5h0m-22.9 1.8h0m3.2-7.1h0m12.5 30.2h0m-4.5-35.3h0m-5.9 28.8h0m29.1-13.8h0m-33.1 27.8h0m16.8-18h0m-13-28.7h0m-5.1 51.6h0m6-54.6h0m15 25.8h0m5.2 33.1h0m-14.3-26.8h0m-7.9-30.2h0m18 42.3h0m-9.1 10h0m8.3 13.4h0m-6.7-8.7h0m1.8 6.8h0m-15.5-23.6h0m21.7-2.5h0m-23.9-4.3h0m3.9 14.2h0m16.7-39.6h0m-1.9 40.5h0"/>
<path stroke="#504afc" d="M294.2 44.8h0m-10.7 0.5h0m1.8 51.9h0m17.5-31h0m4.3 3.3h0m-15.9-12.9h0m22.4 39.9h0m-15.4 0.6h0m-9.8-11.5h0m15.2-24.3h0m-6-2.6h0m-16.8 35.1h0m0.8-48.2h0m17.5 72.3h0m4.6-42.4h0m8.7 36.4h0m-27.1-34.4h0m8.1 20.1h0m12.1-45.3h0m3.5 5h0m1 49.8h0m-13 4.4h0m-3.6-1.9h0m8.8-17.4h0m11.1-42.4h0m-3.1 13.1h0m-1.6 2.3h0m-1 5h0m-6 4.5h0m-18.5-1.3h0m-0.6-23h0m13.6 48.8h0m-1.7-18.5h0m-6 25.8h0m16.2-24.8h0m-5.6-13.6h0m-10.3-10.5h0m-3.2 8.8h0m12 41.6h0m-12.6-38.4h0m16.4-18.1h0m2.6 27.1h0m-10.3 11.6h0m-12.5 14h0m24.1-50.6h0m-9.1 16.8h0m-0.5-10.7h0m-10.8 40.6h0m11.8 4.9h0m-2.5-4.3h0m0.9-56.1h0m-5.4 10.9h0m15.8 14.4h0m-35.1-23.1h0m30.8 59.8h0m-7-2.6h0m14.8-4.2h0m-13.1 6.8h0m-8.2-43.7h0m9.9 45.6h0m5.4-0.3h0m6-23.8h0m-12.9-26.3h0m-2.9 56.7h0m3.9-45.7h0m-7.4-8.7h0m-5.3 38.3h0m2.5 5.5h0m20.3-46.2h0m-26.5 6.2h0m13.7 33h0m-16.1 6.6h0m15-47.5h0m4.3-9h0m-2.6 3.6h0m4.8 38.8h0"/>
<path stroke="#455afb" d="M292.3 90.4h0m-11-10.2h0m5.8 18.1h0m-7.7-39.7h0m21.7 40.4h0m-12.2-7.1h0m2.7 0.3h0m12.3-33.3h0m-16.6-4.6h0m18.1 16.6h0m-4-8.9h0m-9.1 42.4h0m16.8-42.9h0m-4.9-3.6h0m-10.9 39.7h0m7.5-42.3h0m-1.3 49.2h0m-17.4-13.2h0m12.9 18.1h0m-3.8-58.7h0m-12.7 27.4h0m4.4-6.2h0m21.4 35.4h0m-8.5-12.8h0m11.8 14.3h0m-22.6-9.6h0m-2-9.1h0m2.7 10.7h0m22.8-19.8h0m-31.1-4.9h0m25-6.5h0m3.3 20h0m3.9-36.4h0m-13.4-5.1h0m7.9 14.6h0m2.9 36h0m1.2-47.8h0m-2.6 15.3h0m-26-2.3h0m15.5 21.7h0m-3.8 15.9h0m8.7-46.4h0m-18.6-11.5h0m5.2 23.7h0m9.9 34.3h0m6.3 16.5h0m-15.2-59.2h0m-1 39.3h0m11.9-16.7h0m-4.5-29.9h0m7.8 5.1h0m-2.8 34.2h0m-18.3-12.5h0m3.6-11.3h0m-0.5 32.7h0m15.1-26.5h0m5.1-15.5h0m-3 27.2h0m-7.4 13.4h0m-16.1-18.4h0m4.1-30h0m30.2 28.5h0m-30 23.4h0m-0.3-32.5h0m16.2 11.8h0m-14.4-17.4h0m20.5 25.2h0m-14.1-28.4h0m15.5 7h0m-15.3-6h0m11.9-11.1h0m-1.9 10.7h0m-16.1 10.8h0m17.9 15.1h0m-21.4-0.9h0m19.2 20.9h0m-16-55.4h0m26.5 22.1h0m-16.2-6.3h0m-14.9 24.5h0m27.3 4.2h0m-5.2-37.3h0m-6.2 55.9h0"/>
<path stroke="#3a69f9" d="M287 103h0m18.7-16.7h0m-3.6-12.1h0m-12 28.5h0m-5.4-42.5h0m29 5.2h0m-34.8 15.2h0m4.5-17.3h0m11.3 17.3h0m13.5-22.1h0m-8.8 43.3h0m-17.9-42.2h0m-0.2 7.6h0m12.6 16.4h0m5.9-8.7h0m4.1 23.1h0m1-46.5h0m-10.4 45.8h0m1.7 3.6h0m-7.7-45.1h0m-2.5 20.5h0m-2.3-6.6h0m17.9 11.1h0m9.3 3.8h0m-13.8-28.9h0m12.7 43.2h0m-13.1-14.9h0m7.5-9.1h0m-3 32.1h0m-20.5-10.8h0m8.4-38.9h0m14 22.5h0m2.2-8.5h0m-19.6 28.5h0m9-45.2h0m-14.3 21.7h0m4.5 12.5h0m7.3-31.7h0m7.4 16.1h0m7.5-30.5h0m-15.8 65.4h0m-4.7-6.4h0m14.5 2.1h0m-9.2-14h0m-8.4-13h0m-7.8 9.9h0m25.3 31.6h0m-2.7-32.6h0m-6 26.5h0m8.9-65.4h0m-20.8 10.6h0m-5.3-13.5h0m12 40.2h0m-1.4 24.3h0m1.8-33.7h0m8.7 31.9h0m-13.4-16.7h0m14.9-30.5h0m-5.4 20h0m8.7 19.8h0m-18.4-17.9h0m10.6 15.7h0m9.3 12.2h0m-30.3-62.3h0m22 48.8h0m-13.2-44.7h0m-2.5 23.9h0"/>
<path stroke="#3078f7" d="M299.7 96.3h0m-3.1 2.2h0m11.3 20.9h0m-5.8-36.2h0m-4-19.1h0m-14.5 24.1h0m24.1 23.9h0m-21.6-8.2h0m-9.2-60.9h0m33.6 70.8h0m-9.9-7.7h0m-2.1 12.6h0m0.1-11.3h0m-6.2-11.7h0m-16.1-35.1h0m28.6-4.9h0m-14.3 0h0m-15.5-7.4h0m-0.7 28.6h0m2.5-4.8h0m-0.1 8h0m9-36.4h0m-7.9 22h0m2 30.3h0m0.4-49.6h0m-4.1 41.6h0m1.8-8.2h0m-1.8 1.9h0m0.4 18.2h0m-2.3-60.8h0m-0.2 7h0m2.6-1.9h0m-0.9 4.3h0m0.1 19.4h0m5.8-8.8h0m7.5 4.8h0m-13 20.4h0m0.6-22.4h0m-3-20.4h0m4.5 41h0m-3.4-41.3h0m-1.9-1.6h0m11.1 27.6h0m-9.2-21.7h0m-2 2.3h0m7.6 47.2h0m-4-44.9h0m-0.5 7.9h0m-1.9-17.6h0m8.2 31.7h0m-11.6-30h0m6.3 17.6h0m1.7-4.2h0m12.5 40.9h0m-13-5.7h0m-1.9 9.3h0m-1.3-51.6h0m2.3 31.5h0m1.2-9.9h0m-4.7-25h0m1.4-4.8h0m6 32h0m-4.6-12.6h0m1.1-9.4h0m4.2-1.2h0m12.8 59.9h0m-17.4-20.5h0m-0.8-43.5h0m-0.1 29.4h0m8.4-18.4h0m-10-12h0m0.4-2.1h0m12.2 13.7h0m-8.8 26.6h0m-4.1-37.8h0m1 13.3h0m30.3 53.2h0m-18.4-40.6h0m-9.6 8h0m-1.8 5.5h0m-3.8-42.9h0m3.9 58.5h0m0.1-45.4h0m1.6 40.5h0m-2.4-46.6h0m2.1 43.6h0m-4-50.7h0m11.7 52.3h0m-8.4 2.9h0m26.4 13.4h0m-25.1-59.1h0m-4.4-11h0m19.6 45.3h0m-19-44.2h0m9.3 17.4h0m-6.8 18.9h0m-1.5 22.8h0m-0.3-53.9h0m1.1 47.4h0m9.8-5.5h0m-9.7-17.6h0m0.3-0.1h0m7.2 7.3h0m-8.4-30.5h0m-1.8-7h0m1.8 17.6h0m15.3-3.9h0m-17.3-6.9h0m-1.1-5.6h0m0.6 3.5h0m7.1 14.3h0m-2.3 37.2h0m7-42.5h0m-8.8 40.8h0m2.3-41.9h0m12.1 47.6h0m-4.5-0.6h0m-9.9-2.3h0m1.3-24.8h0m21.2 26.5h0m-20.7-16.2h0m2.6-17.1h0m-4.5 18.1h0m-4.1-39h0m13-2.9h0m-10.5-0.4h0m0.2-0.5h0m0.9 35.7h0m1.9-25h0m22.6 57h0m-22.3-29.5h0m9.8-0.2h0m-14.8-36.2h0m7.4 40.4h0m-3.7-8h0m12-0.7h0m3.7 27.5h0m-15.3-52h0m0.9 19.2h0m8.6 0.2h0m-2.5 39h0m-9.6-68.7h0m-1 9.3h0m3 16h0m0.5 15.8h0m0.3 12h0m2.3-21.4h0m-2.1 24.3h0m11.6 6.8h0m-10.6-0.6h0m-1.5-34.5h0m4.9 5.6h0m8.4 24.1h0m-11.9-18.3h0m16.9 27.3h0m-16.8-54.7h0m-4.1-10.6h0m1 13.5h0m-1.7-10.5h0m-0.5 5.2h0m4.2-6.1h0m-0.9 13.6h0m1.8-15.8h0m-0.8 18.6h0"/>
<path stroke="#2587f5" d="M270 89.1h0m5.3-37.7h0m-3.5-7.4h0m10.2-4.2h0m15.9 66.2h0m-18.6-6.3h0m-4.1-15.4h0m-0.4-39.3h0m0.2 0.6h0m0.4 52.9h0m3.6-52h0m-3.1 6.6h0m0.6 11h0m-2.5-17.7h0m17.9 8.7h0m-3.6 48.7h0m-12.9-8.2h0m3.7-36.8h0m-4.2 26.6h0m0.4 9.3h0m1.1-4.9h0m1.8-11.2h0m-2.8-27.9h0m2.3 42.7h0m-3.6-51.6h0m14 65.7h0m-12.6-65.8h0m1.6 10.8h0m-1.2 43.5h0m0.7-49.6h0m20.8 61.1h0m-19-25.6h0m-2.8-9.4h0m1.6 16.3h0m0.1-36.4h0m-0.9 20.3h0m-0.6 1.5h0m0.8 25h0m1.2-25.1h0m-2.3 23.3h0m2.8 2h0m-1.3-41.8h0m-4.8-18.4h0m6.8 6h0m-2.9 49.5h0m3.7-23.4h0m-5.2-26h0m2 25.4h0m-0.3-5.4h0m-2-18.5h0m11.8 40.3h0m-6-29.8h0m-1.6 33.3h0m-4-46.3h0m2.2 21.2h0m2.1 21.7h0m-1-8.3h0m-6.2-38h0m3.6 3.6h0m-3.8-1.2h0m13.9 55.9h0m-11.6-55.7h0m22.1 62h0m-17.8-37.3h0m16.3 29.1h0m-20.1-57.8h0m0.7 36.5h0m22.8 31.7h0m-8.4-3.7h0m-12-28.7h0m-2.6-28.1h0m5.1 48.8h0m-2.3-7.5h0m-1-28.6h0m10.2-0.1h0m-12.8-18.9h0m-0.9 6.2h0m2.3 0.2h0m7.4 32.3h0m-5.8-38.8h0m0.8 28.4h0m-0.5 27.8h0m-1.8-52.5h0m7.3 13.3h0m-7.2-5.1h0m1.5 28.5h0m2.7-1.2h0m3.7 20.8h0m19 9.7h0m-27.4-21.3h0m0.5-49.1h0m0.3 23.3h0m21.4 37.6h0m-23.8-61.4h0m1.5 0.4h0m22.1 58.6h0m-22.3-51.9h0m-1.1 0.6h0m3.3 7.8h0m-1.4-13.3h0m-0.3 6.6h0m16.7 16.1h0m1.9-14.3h0m-18 30.3h0m0.3-29.6h0m1.1-3.2h0m0.8-5.4h0m-4.6 4h0m-0.3-3.9h0m1.1 0.9h0m2.2 28.1h0m-1.9-27.3h0m15.3 35h0m-10.6-26.2h0m-5.9-12.2h0m4.2 34.3h0m2.9 23.7h0m8.8-0.9h0m-3.3-10.5h0m-7.5 1.2h0m-3.7-48h0m1.3 55.2h0m-4.5-49.2h0m29 54.2h0m-27.9-57.9h0m26.9 64.9h0m-24.6-28.8h0m1.1-10.5h0m-0.5-20.7h0m-1.7-4.4h0m2.3 40.4h0m35.4 25.6h0m-34.6-21h0m0.3-3.9h0m-2.9-41.9h0m1.6 10h0m2.4 14.2h0m-1.7-9.7h0m14.8 48.3h0m-16.5-65.6h0m15.5 57.9h0m-13.5-39.7h0m-0.2 16.1h0m-0.6-23.8h0m-2.1-10.5h0m3.5 51.4h0m0.2-19.7h0m18.4-15.4h0m-21.2-15.5h0m10.9 57.9h0m-8.8-2.2h0m-3.2-55.8h0m1 0.6h0m-1.4 3h0m4.9 4.5h0m0.5 14h0m-1.3-2.6h0m-0.9 15h0m-3.2-31.3h0m-0.7 49.7h0m19.6-32.1h0m-16.7-10.4h0m0.4 27.3h0m1.5-6.3h0m-1.5 19h0m-1-7h0m3.2-6h0m14.9 23.9h0m-20.5-53.7h0m2.6-0.7h0m3.8-0.7h0m8.5 6.7h0m-3.9 42.2h0m2.3-43.7h0m-10.3-6.1h0m0 6.7h0m0.6 36.3h0m3-39.6h0m-3.6 19.3h0m-1.8-27.7h0m2.2 6.3h0m0 43.9h0m17.9-32h0m-18.4-16.1h0m0.2-2.3h0m3.4-1.4h0m-1.6 5.1h0m13.8 58.4h0m-12.9-44.4h0m-2.7-17.8h0m8.3-1h0"/>
<path stroke="#1b95f3" d="M276 78.1h0m-0.8-10.1h0m1.6-19.6h0m4 22.9h0m-6.5-27.6h0m12.7-2.6h0m-11.8-1.5h0m1.3 33.9h0m-0.6-4.7h0m2.9 11.9h0m-3.9-34.1h0m0.7 8h0m-0.8 23.1h0m2 0.9h0m-2.3-32.2h0m2.8 12.7h0m16.6 44.2h0m-15.2-60.1h0m-5.7 3.6h0m15.8 12.1h0m-12.7 23.9h0m1.1-27.2h0m-1.6 13.2h0m1 27h0m-5.1-48.2h0m8.5 26.4h0m-5.8-26.6h0m-1.3-7.6h0m5.6 16.6h0m-1.9 39.9h0m0.1-9.5h0m24.3 11.9h0m-25.8-54.5h0m3.1 12.3h0m-0.2 24.9h0m-2.5-36.4h0m-2.3-5.5h0m2 43.1h0m1-38.7h0m29 59.7h0m-32.6-57.3h0m6.4 15.8h0m-3.4 5.6h0m-1-23.5h0m2 4.6h0m0.2 24.2h0m10.5 11h0m-9.7-43.2h0m-0.8 0.4h0m16.2 61.1h0m-10.6-46.5h0m-7.1 42.9h0m1.6-20.7h0m3.2-2.8h0m-1.5 12.2h0m-5-48.3h0m3.1 59.3h0m-3-56h0m4 21.8h0m-5.6-17.6h0m6.1 14h0m-1.1 38h0m0.3-35.7h0m-2.7-17.7h0m3.5 46h0m-3-44.7h0m0.3 30.8h0m5.4-37.7h0m13.6 64.8h0m-16.3-35.2h0m-0.1 22.2h0m28.3 18.1h0m-22.6-36.3h0m-5.7-27.2h0m4.3 48h0m-11.4-54h0m6.6 46.7h0m-0.1-11h0m-3.7-36h0m-0.1 2.5h0m1.9 29.6h0m4.9 5h0m-4.8 4.2h0m-1-38.7h0m24.4 60.5h0m-20.1-21.4h0m-2.1-26.9h0m15.8 47.9h0m-20.5-57.6h0m4.2 20h0m1 28.9h0m-1.7-39.3h0m0.1 15.3h0m-0.1-7h0m-0.5-3.4h0m1.1 39.6h0m-0.9-58.2h0m1.5 32.4h0m-6.5-17.4h0m0.1 11.8h0m6.3 15h0m-1.9-40.2h0m4.2 21.7h0m0.6 9.6h0m-3.3 6.1h0m1.2 1.8h0m0.5 13.3h0m-1.6 2.9h0m1.6-37.8h0m-1.2-14.9h0m-2.3-0.3h0m1.5 14.8h0m-1.5 8.7h0m0.9 25.7h0m1.8-35.7h0m8.6-3.4h0m-10.2-1.2h0m-0.8-11.1h0m-1.3 3.3h0m19-3.4h0m-18.2 3.7h0m16.4 8.5h0m-15.1-8.3h0m-2.4-4.2h0m-1.3-2.3h0m2.9 5.6h0m10.1 39.7h0m-8.7-19.8h0m1.9 26.1h0m-1.1-45.9h0m0-1.1h0m2 56h0m-1-48.6h0m-1.7-1.7h0m1.2 39.7h0m0.7-36.5h0m-3.3 27.1h0m0.5-25.2h0m2.5 20.7h0m2-34.6h0m-3.4 16.8h0m-3.7-11.8h0m12.4 32.5h0m-8.9-26h0m0 24.2h0m-0.1 6.5h0m0.7-33.4h0m-0.1 4.3h0m1.9 4h0m-2-17.9h0m0.7 20.8h0m-2.6-15.4h0m1.7 16.3h0m0.5-20.1h0m0.1 51.3h0m-4.2-54h0m1.6 13.7h0m-0.3-13h0m1.1 36.4h0m-0.4-26.5h0m-0.3 20.5h0m3-26.4h0m-3.2-0.3h0m-0.3 0.1h0m5.5 34.3h0m-3.1 14h0m-1-51.4h0"/>
<path stroke="#10a2f0" d="M275.1 98.3h0m2.1-12.3h0m-3.8-38.3h0m0.4-6h0m3.8 19.9h0m-2.2-14.1h0m4.9 48.9h0m-3.9-6.4h0m4.7-10.7h0m5.5 18.1h0m-11.2-9h0m-2.4-48.3h0m4.6 58.9h0m20.1-14.9h0m-22.3-43.2h0m-1.8-0.4h0m2.3 28.8h0m1.8-10.7h0m-0.9 19.3h0m0.4-38.3h0m-3.1 1.9h0m3 30.2h0m11.4 17.5h0m-13.3 7.4h0m-2.6-56.4h0m1.4 6.2h0m1.4 35.7h0m0.6-23.2h0m-0.5 29.7h0m2.8 9.1h0m-0.2-30.4h0m-0.2-1.8h0m9.1-24.8h0m-13 2.4h0m0.8-2.9h0m3 32.1h0m-4.1-31h0m0.3 4h0m0.6 13.2h0m-1.4-12.6h0m3.1 45.6h0m-0.3-49.9h0m0.3 16.3h0m-2.7-10h0m-1-3.9h0m20.3 57.3h0m-1.6-19h0m-15.7 14.2h0m0.1-11.6h0m0.3-14.7h0m-1.9-30.2h0m2.4 39.6h0m1.3 16.3h0m-2.6 2.1h0m3.7-52.6h0m-4.3-2.6h0m6.8 33.8h0m-3.2 21h0m-1.8-49.8h0m258.1 53.1h0m-259.7-48.4h0m1.2 2.6h0m1.7 39.1h0m-4.2-54.9h0m2 18.4h0m2.7 8.7h0m-1.7 22.2h0m-2-46.8h0m2.1 48.9h0m-0.4-19.3h0m0.7 26.3h0m0.6-11.2h0m-1.5-15.7h0m9 32.2h0m-2.5-45.2h0m-10-14h0m6.7 29.1h0m-3.9-7.8h0m-2.6-26h0m1.3 53h0m2.6-30h0m-2.6-22.2h0m16.2 31.2h0m-13.3-23.1h0m-0.2 31.1h0m0.1 19.8h0m-0.1-27.9h0m2.4 29.4h0m-5.8-59h0m1.8-0.5h0m3.6 4.9h0m-2.9 14.1h0m2.1-19.9h0m0.4 21.4h0m-5.4-14.2h0m3.1 35.4h0m2.1-14.4h0m-2 24.4h0m-2.4-49.8h0m2.3 8h0m10.7 45h0m2.3-44.5h0m-10.4 10h0m7.3 28.3h0m-8.7-44.7h0m-0.9 40.5h0m0.7-16.3h0m14 3.9h0m-12.8 3.3h0m-2.6-19.1h0m1.1-5.3h0m1.1 21.9h0m-1.5 12.8h0m4.4-43.7h0m-2.9 12h0m-4.6-15.3h0m2.2 4h0m2 50.6h0m3.7-37.2h0m-4.2 31.2h0m-0.6-32.1h0m10.5 3.3h0m-9.9-11.3h0m5.7 12.8h0m-9.1-14.9h0m22.5-2.9h0m-20 25.2h0m1.6-3.7h0m-3.2-25.4h0m3.6 0.7h0m1.7 25h0m-3.5-19h0m-0.5-4.2h0m-2.9 0.7h0m2-2.9h0m2.8 26h0m-2.8-18.5h0m-3.1 1h0m2.4-0.5h0m-2-4.6h0m5.9 41.5h0m-3.7-42.5h0m8.3 39.8h0m-5.9 2.1h0m-2.5-41.8h0m-0.3-2.2h0"/>
<path stroke="#05aeed" d="M276.9 74.7h0m-0.8 24.3h0m-0.8-58.6h0m0.8 9.8h0m-2.6-7.4h0m0.3-0.6h0m5.9 3h0m7.2 11h0m-13.5-16.2h0m0.9 0.1h0m1.8 7.2h0m-1.5-7.3h0m-2.5 1h0m6.2 57h0m-4.3-55.5h0m4.6 49.1h0m-2.3 3.6h0m3.4-48.8h0m-4.7 24.6h0m1.9 20.7h0m1.3-49h0m10 44.4h0m-14.8-44.9h0m1.2-0.1h0m0.6 1h0m1.4 11.7h0m1.4 3.5h0m-2.8 10.7h0m-0.2 23.8h0m2.3-30.3h0m-2.8-20.2h0m-1 5.9h0m2.8 26.7h0m-3.3-34.1h0m2.9 2.2h0m-4 5.3h0m12.6 57.3h0m-10.1-62.8h0m4.3 11.8h0m-5.7-6.5h0m4.6 44.9h0m-3.4-48.7h0m-0.4-5h0m4.1 13.4h0m-4.9-10.5h0m2 35.8h0m4.6 13.1h0m-3.7-41.8h0m-2.7-3.1h0m4.2 0.9h0m1.2 22.1h0m-2.4-25.8h0m-1.9-1.5h0m-0.6-0.3h0m13.1 13.4h0m-4.6 19.6h0m-7.4-28.6h0m9.1 11.3h0m-10.4-15.2h0m0.7 0.5h0m3.3 40.9h0m-2.4-16.5h0m-0.3-24.4h0m5 51.3h0m-7.2-51.3h0m2.2 0.9h0m1.2 4.5h0m6.7 10.3h0m5.9 16.1h0m-14.5-26h0m3.8-0.6h0m-1.9 1.9h0m-2.6-7.7h0m3.5 18.6h0m16.3 50.9h0m-16.8-20.6h0m1.4-28.6h0m-2.2 33.7h0m-1.9-52.7h0m1.7-1.8h0m0.2 48.3h0m15-45.8h0m-17-0.2h0m2.1 4.3h0m-1.9-0.6h0m-0.4-7.9h0m3.3 59.6h0m0.7-42.2h0m-0.6 30.2h0m0.8-17.9h0m-5.5-28.3h0m1.9 7.5h0m5.6 7.5h0m1.7 12.3h0m-3.8-2.2h0m-0.2-9.2h0m-2 8.1h0m16.8 23.9h0m-13.6-11h0m5.4-0.3h0m-6.3 7.1h0m-1.9 10.8h0m-1.9-48.8h0m4.9 35.7h0m3.9-27.5h0m-9.1-11.5h0m14.2 22h0m-14.1-20.2h0m4.2 45.3h0m1-48h0m-4.8 3.9h0m1.2 45.6h0m1.2 5.5h0m0.2-1.2h0m-1 0.8h0m-1.1-50.1h0m3.5 47.4h0m1.2-54.1h0m-1 3.7h0m-3.2 2.1h0m2.5 45.9h0m2.6-41.4h0m-5.9-4.9h0m1.5 3h0m1-2.8h0m7.7 4.9h0m0.6 20.7h0m-5.6-24.4h0m-2.5 42.8h0m9.3-44.1h0m-9.8 38.4h0m-2.1-41.7h0m12.1 35.4h0m-9.7-29.1h0m-0.3 17.6h0m1.7-6.4h0m-0.8 15h0m16.4-5.4h0m-16.9-21h0m2.1-4.8h0m-1.5 52.2h0m4.2-38.9h0m-7.7-11.1h0m0.6 1.1h0m2.4 16.1h0m2.3 13.7h0m-2.1 18.7h0m5-50.3h0m1.6 51.2h0m-9.3-57h0m0 53.5h0m4.4-47.5h0m1.7 45h0m-4.9-0.8h0m0.1-3.3h0m4.8-13.7h0m-3.6-27.1h0m-0.7 7.2h0m-2.2-5.9h0m2.5 13h0m2.2-17.8h0m3.5 11.1h0m-3.9-9.9h0m-0.3 5h0m-3-3.2h0m3.3 3.9h0m-3.6-0.4h0m5.3-1.5h0m-2.6-0.7h0m0.5 11.9h0m2.2-12.3h0m-5.9-6.7h0m3.7 57.9h0m0.5-52.7h0m-0.7 0.9h0m-0.5-2.6h0m0.1 31h0m2.9-25.5h0m-2.4 0.3h0m4.5 9.5h0m1.8 32.4h0m-0.3-9.2h0m-8-25.3h0m3.1 17.6h0m-7.5-28.4h0m4.4 51.7h0m9-52.3h0m-8.3 10.5h0m2.5 5.7h0m-7.5-14.6h0m11.5 47h0m-6.1-38.3h0m6.4 3h0m0.8 4.1h0m-6.3-8.4h0m-2.4-13.9h0m-1.7 2.4h0m5.5 57.9h0m-2.6-57h0m15.9 49.3h0m-14.8-32.3h0m0.1-17h0m7.7 51.7h0m-6.6-37.4h0m-3 33.9h0m-0.3-11.5h0m1-35h0m0.1-3.5h0m-1 6.9h0m0.9 4.4h0m1 18.2h0m-3.1-31h0m6.7 44.2h0m-2.6-44h0m-1.4 0h0"/>
<path stroke="#05baea" d="M281.6 83.9h0m-2.3-44.6h0m0.5-0.1h0m0.9 40.9h0m-1.2-37.8h0m-1.4 1.8h0m-2.1 2.8h0m5.5 55.8h0m1.1 0.5h0m-2.8-57.2h0m4.9 56.3h0m-8.9-56.6h0m4.4 30.6h0m2.5 19.5h0m-0.1-0.5h0m2.4-24.3h0m-4.9 31h0m3.8 2.2h0m-7.1-56.9h0m7.7 30.1h0m-4.2-38.1h0m1.5 40.2h0m-4.2-31.7h0m5.8 2h0m-10.1-6.1h0m1.1-3.5h0m3.6 8.6h0m-3.7-1.7h0m9.2 13.1h0m-5.6-14.8h0m1.4-4.7h0m-3.3 4.1h0m-0.7 2.4h0m8.9 21.3h0m-2.6-19.9h0m-6.5-7.1h0m4.1 3.5h0m5.6 53h0m-1.5-2.5h0m-4.5-55.8h0m1.1 5.4h0m0.1-1.6h0m1.2 51.3h0m-2-53.2h0m2.2 46.6h0m-1.5-49.1h0m-2.4 0.6h0m2.6 50.6h0m-1.2-47.6h0m-0.2-2.4h0m1.2 5.5h0m3-4.8h0m-4.8 1.1h0m8.5 58h0m-4.5 2.2h0m-2.5-54.4h0m2.6 22.7h0m-4.7-23h0m1.4-3.2h0m5.6 18.7h0m-7.4-16.2h0m2-7.7h0m-2.9 0.7h0m0.9 1.1h0m-4.2 1.2h0m7.7 42.1h0m-1.5-41.2h0m4.6 25.8h0m-4.6-24.4h0m0-4.8h0m0.1 7.4h0m3.2 34h0m1.8 12.7h0m-4.3-47.2h0m-6.2 1.3h0m10.4-8.3h0m-4.2 0.3h0m-4.5-0.5h0m2.2 2.5h0m0.9 3h0m4.5 46.6h0m-3.8-44.1h0m-0.6-1.1h0m6.8-6.7h0m-11.5 6h0m8.5-5.3h0m-7.1 0.6h0m2.8 7.6h0m0.8-1.1h0m1.1-0.5h0m5.9 8.7h0m-0.9 4.4h0m0.8 8.8h0m-5.3-24.3h0m1.9 35.5h0m-4.6-32.2h0m0.2-6.5h0m6.5 5.1h0m-1.3 38.2h0m-6.7-35.9h0m5.3 42.5h0m27.2-21.1h0m-24.6 34.6h0m21.5-5h0m-24.5-41.4h0m-3.8-13.5h0m3.4 22.3h0m5.4-7.4h0m-6-15.4h0m-1.8 3.7h0m-0.5-1.5h0m1.8-7.4h0m11.5 31.5h0m0.4 35.6h0m-12.5-60.8h0m-4.1-5h0m7.2 7.8h0"/>
<path stroke="#10c5e7" d="M280.8 83.5h0m0.3 1.1h0m5 8.4h0m-7.1-47.4h0m-0.2-1.3h0m3.2 46.1h0m24 29.1h0m-4.9-24.3h0m-21.6-51.2h0m0.3-0.7h0m1.7 56.1h0m0.8-57.2h0m6.1 52.8h0m-8.1-1.1h0m-1.1-45.4h0m18.6 21.5h0m3.7 14.2h0m-14.1 7.4h0m-5.6-29.7h0m1.8-14h0m-4.7-2.9h0m0.3 0.7h0m6.8 24.5h0m-2.3-20.8h0m-1.8 32.3h0m-2.9-33.9h0m6.4 21.1h0m14.1 25.4h0m-21-54.4h0m3.9 5.3h0m-6.4-6h0m7.7 3.4h0m16.7 36h0m-22-32.7h0m0.5-6.3h0m-4.1 2.5h0m6.1 38.7h0m0.8-7.9h0m-4.9-31.4h0m3.7 25.2h0m-0.2-5.5h0m3.5 18.9h0m6.8-11.7h0m-10.3 6h0m1.6 5.3h0m-1.5-32.1h0m1.4 7.8h0m-1.2-4.2h0m1-10.9h0m0.1 20.8h0m19 44.5h0m-24.8-65.3h0m18.5 61.7h0m-13.4-39.4h0m-0.6 9.8h0m0.8-12.4h0m6.9 25.7h0m-10.4-39.7h0m6.4 51.3h0m-0.9-16.3h0m16.7 13.2h0m-19.6-51.2h0m0.5 56.9h0m-5.2-53.1h0m23.2 43.9h0m-19.1-48.3h0m-2.3-2.6h0m6.5 33.3h0m10.4 8.5h0m-20.3-37.5h0m4.3-1.8h0m-2.8 2.7h0m19.7 33.4h0m6.2 36h0m-9.2-35h0m7.3 33.7h0m-17.3-42h0m-6.7-24.1h0m7.4 16.8h0m26.3 41.2h0m-32.5-59.3h0m4.2 40.5h0m-0.1-41.9h0m19.9 54.2h0m-26-50h0m18.1 54h0m6.3-12.9h0m-20.6-45.3h0m1.1-0.5h0m-0.2 0.3h0m1 13.4h0m-0.6-12.2h0m-1.1 0.1h0m-0.4 1.2h0m27.8 39.5h0m-29.7-39.4h0m8.3 52h0m-9.1-58.3h0m2.5 0.4h0m3 59.8h0m-1.3-61.4h0m3.1 15.4h0m-2.9-14.6h0m-2.5 7.8h0m12 23.9h0m-8-13.1h0m-1 16.3h0m0-33.4h0m15.9 57.3h0m-10.9-4.7h0m-3.2-51.8h0m0.7 9h0m1.7-1.6h0m-5.1-3.1h0m22.1 27.7h0m-22.6-33.4h0m-1.9-1.1h0m6 40.6h0m16.5 21.5h0m-14.7-19.4h0m-3.8-13.6h0m-3-29.5h0m0.7 0.1h0m-0.1 5h0m6.7 41.2h0m-9.9-42.3h0m4.1 4.4h0m-1.5 0.5h0m6.7 39.3h0m23.9 19.1h0m-31-61.3h0m6.7 48.5h0m15.6-3.9h0m-3 17.2h0m-17.5-64.5h0m-1.5-1.9h0m22.6 75.4h0m-19-42.7h0m1.4 25.7h0m-0.2-55.7h0m-2 20.4h0m2.2 14h0m-2.1-20.6h0m-5-10.5h0m20.4 67.8h0m4-38.7h0m-17.4-16.8h0m-8-18.3h0m4.5 6.4h0m21.6 37.1h0m-19.8-13h0"/>
<path stroke="#1bcfe3" d="M279.3 47.4h0m1.4 8h0m0 47.2h0m4.5-16.6h0m-2.1-34.7h0m-3.9-6.2h0m4.2 56h0m2-17.5h0m0.7 7.8h0m-4.5-23.9h0m16.5 3.6h0m-13.5 31.4h0m-1-58.5h0m12.2 27h0m-16.2-29.6h0m2 37.3h0m1.5-3.5h0m1 26.5h0m3.8 6.1h0m-9.2-66.8h0m4.6 52.2h0m-4.7-46.4h0m0.1 1.7h0m4.9 13.5h0m-2.7-7.5h0m2.3 14.6h0m-3.8-29h0m-5.3 2.2h0m9.7 26.8h0m-5.4-26.5h0m4.5 0.1h0m15.7 49.3h0m-20.3-49.9h0m1.7 0.7h0m17.4 70.4h0m6.8-1.6h0m-19.5-12.1h0m-5.4-54.2h0m0.8 1.5h0m1.5-4.4h0m-3.9 5.6h0m2.3-0.5h0m-1.9-0.8h0m23.2 52.8h0m-0.5-31.1h0m-21.8-22.6h0m0.8 14.5h0m0.2-18.7h0m25.2 49.8h0m-27.4-48.4h0m0 3.5h0m1.7-3.7h0m3.6 10.1h0m-3.2-5.8h0m1.4 27.1h0m-3-28.9h0m8-4.5h0m-6.8 0.7h0m23.9 66.8h0m-20.6-10.5h0m1.6-25.5h0m-4.7-24.1h0m15.3 22.6h0m-12.8-28.5h0m-3.3 2.9h0m-4.5 3.2h0m13.3 53.2h0m-5-34.2h0m-8.6-27.5h0m11.5 61.7h0m16-9.8h0m-22.7-52.6h0m-2.3 1.5h0m8.1 8h0m-5.6-4.5h0m-1.8-2.4h0m2.6 6.4h0m0.2-4.3h0m12.9 28.3h0m-10.6 3.2h0m4.8 20.2h0m-6.4 1h0m22-17.4h0m-22.8-35.6h0m-3.2-1.9h0m4.8 52.1h0m26.9-5.6h0m-25.4-39.3h0m-3.2-2.7h0m2.2 8.4h0m-2.3-14.7h0m1.5 20.2h0m1.8 42.3h0m1-42.1h0m-2.5-17.5h0m2.1 60h0m20.7-10.4h0m-26.6-53h0m5 17.1h0m2 3.4h0m-0.2 34h0m11.5-5.3h0m-18.6-48.4h0m-2 5.6h0m16 46h0m-13.5-47.5h0m11.6 53.4h0m-5.5 1.5h0m1.1-52.4h0m5.1 36.7h0m-7.4-12.6h0m0.7 30.6h0m15.9 10.2h0m2 5h0m-22.6-72.3h0m23.6 33.1h0m-16.6 2.1h0m13.8-10.3h0m-19-7.4h0m1.3-4.1h0m-3.2-13.7h0m0.4 12.9h0m21.5 16.3h0m-19.7 16.6h0m21.3-4.2h0m-19.9-24.1h0m-1.5 29.7h0m-1.5-52.1h0m11.7 59.6h0m-7.1-38.5h0m3.8 13h0m-7 15.4h0m6.1-46.8h0m-7.2 19.1h0m17.7 28h0m-16.4-30.8h0m-2.7-18.4h0m3.5 57.1h0"/>
<path stroke="#25d9df" d="M277.5 40.2h0m3.6 23.5h0m-2.6-16.5h0m2.4 27.5h0m-1.5-35.1h0m-0.3-0.2h0m23.9 36.1h0m-18.2 21.6h0m-5.3-57.7h0m6.9 30.9h0m-2.4 6.8h0m-0.6 12.4h0m-0.1-6.3h0m0.8-35.1h0m-0.7 5.8h0m-1.5 35.3h0m6.4 14.3h0m-10.8-55h0m3.9 38h0m28.5-15.3h0m-30 18.2h0m-1.2-49.5h0m6.1 29.8h0m-4.8-25.7h0m20.4 50.4h0m-9.2 8.7h0m-6.5-41.2h0m-6.7-19.9h0m8.1 43.4h0m-2.9-4.2h0m-1.2-9h0m-0.9-19.2h0m-1.7-13.3h0m-2.9 0.4h0m3.2 5.3h0m1 37.6h0m3.7 0.4h0m-4.4-38.8h0m2-3.4h0m9.1 55.1h0m-12.7-54.7h0m4.9 15.8h0m-4.9-17.8h0m2.3 61.8h0m1.6-15.7h0m-2.5-39.4h0m-0.7 1.9h0m2.7 37.5h0m-1.2-24.2h0m17.9 46.1h0m-18.4-60.5h0m1.3 2.1h0m-1.1-5h0m7.3 57.7h0m9.9-20.1h0m10.9 7.5h0m-25.1-45.8h0m-2.9-3.7h0m-0.3 5h0m11.7 39.8h0m-12.5-43h0m16.9 43.8h0m-6.8-14.3h0m-6.2-14.5h0m-5.9-9h0m22.8 63h0m-14.2-13.4h0m-6.3-50h0m5.6 41.5h0m0.6-22.1h0m3.5 18h0m-10.6-38.7h0m2.1 2.3h0m-2.2-3.3h0m6.9 46.7h0m-5.3-50.4h0m3.9 28.4h0m-2.2-13.4h0m0.9 42.6h0m-3.1-59.6h0m6.5 21h0m-6.5-12.4h0m3-5.9h0m-2.2 0.4h0m4.8 52.9h0m0.1-0.2h0m-8.4-52.2h0m27.6 55.4h0m-25.1-52.8h0m20.3 59.9h0m-15.6-24.2h0m12.2 20.7h0m-15.3-53.5h0m2 1.2h0m-6.9-5h0m21.5 64h0m-7.4-17.9h0m13.2-3.6h0m-20.2-11.9h0m10 31.9h0m-11.2-13.5h0m-1.7-49.9h0m-0.2-0.7h0m0.6 50h0m1.2-37.9h0m1.5 14h0m-0.6-9.1h0m-3.4-6.9h0m-0.3-8.3h0m1.3 17.8h0m0.7 20.5h0m-0.5 12h0m6.5-27.9h0m-11.6-25.3h0m4.7 47.5h0m3.2 10.6h0m-3.3-55h0m1.2-5.2h0m1.3 5.1h0m8.2 52h0m-10.8-48.4h0m-0.6-8.2h0m2.7 16.8h0m-2.2-12.6h0m1.7 17.1h0m-1.2 25.8h0m23 8.2h0m-19.4-14.4h0m2.3 22.1h0m-4-27.5h0m0.2-27.5h0m-3 12.7h0m3.7 39.8h0m0.5-51h0m-4.2-8h0m5.5 9.3h0m-1.4 31h0m1.2-27.7h0m15.1 44.6h0m5.9-23.6h0m-15.7 1h0m-6.6-15.6h0m-6.6-13h0m4.7 14.6h0m-4-16h0m20.7 22.9h0m-12.9 18.3h0m-7.1-48.2h0m4.9 29.9h0m1.8 13.4h0m-4.1-8.8h0m-0.1 2.2h0m4.8-0.3h0"/>
<path stroke="#30e1db" d="M313 105.1h0m223 3.4h0m-230.1-14.1h0m-26.3-49.2h0m7.7 14.6h0m-8.3-12.1h0m3.3 47h0m8.2 0.6h0m-8.8-0.4h0m-0.2-30.3h0m17.4 15.7h0m-18 13.7h0m5.6 13.2h0m-5.4-53.2h0m0.9 38.6h0m4.9-45.5h0m6.7 33.4h0m36.8 26.3h0m-53-60.8h0m10 11.5h0m-3.1 1.8h0m9.4 32.9h0m-10.6-4.7h0m-3.3-20.3h0m3.6 25.6h0m1.9 6.4h0m-0.8-19.2h0m-7.1-37.2h0m7.9 7.5h0m-3.2 50.6h0m11.1-30.1h0m-14.9-26.4h0m1.6 2.6h0m14 63.6h0m-10.8-66.5h0m-2.1 2.3h0m-3.2-4.9h0m4.7 21h0m-3.6-17.4h0m18.7 69.3h0m32.1 1.5h0m-14.2-7.2h0m-32.4-46.8h0m-4.5-16h0m25.7 23.3h0m-27.8-23.2h0m2.1-2.3h0m0.4 4.8h0m3 17.1h0m11 9.6h0m-14.1-35.4h0m4.7 13.8h0m-3-7.4h0m35.7 63.4h0m-39.9-68.9h0m6.1 4.6h0m37.9 50.9h0m4 4.6h0m-43.6-57.6h0m1-4.1h0m1.1 62.4h0m-2.8-56.9h0m-1.2-0.4h0m2.6 35.8h0m-2.6-32.9h0m0.8-2.7h0m0.6 28.1h0m3.5 4.8h0m-2 9.2h0m17.8-8.2h0m-18.8-31.8h0m2.5 47.6h0m0-45.2h0m0.8 39h0m6.6 19.4h0m-7.9-18.7h0m2.7-28.9h0m-4.3-12.4h0m-0.7 43.2h0m47.4 25.6h0m-50.3-71.7h0m17.4 27.7h0m-9.2 13h0m-5.8-39.5h0m46.1 79.1h0m-48.9-78.1h0m5.7 39h0m-4.2-44.2h0m1.3 6.8h0m0.5 52.1h0m23 15.6h0m-20.3-20.5h0m-4.9-49.5h0m2.1 40.9h0m-2.6-45.1h0m4.4 38.3h0m47.2 37.3h0m-0.3-9.8h0m-28.2-11.3h0m-15-53.9h0m-10.2-2.3h0m5.5 17.5h0m0.5 0.4h0m1 4.9h0m-0.4 15.2h0m-3.4-37.6h0m-0.5-0.1h0m5.6 61.9h0m19.7-26.1h0m-18 15.6h0m-8.8-47.7h0m8.8 0.9h0m-4.2 1.7h0m3.2 33.4h0m-4.6-37.5h0m4.1 36.2h0m1.5-37.5h0m18.7 75.8h0m-22.5-50.6h0m0.1 10.7h0m45.4 41.3h0m-45-61.6h0m2.7 45.7h0m-2.3-51.3h0m-4.1-3.2h0m50.7 67.9h0m-49.1-71.6h0m5.9 22.1h0m-5.5-2.4h0m0.7-18.3h0m39.6 55h0m-26.3-27.1h0m2.4 27.3h0m-18-52.5h0m5.1 5h0m25.8 15.7h0m-27.5 33.2h0m44.4 22.2h0m-7-3.4h0m-14.5-31.3h0m-28.6-43.5h0m4.7 28.4h0m0.1-7.9h0m13.4 24.9h0m-16.3-44h0m29.2 62h0m-24.8-13h0m-1 4.7h0m-0.4-35.5h0m-3.3-19.1h0m0.9 0.5h0m5.6-6h0m-5.5 6h0m1.1-3.5h0m34.1 54.4h0m-33.4-21.5h0m23.3 25.1h0m-22.6-16.3h0m23.3 21.4h0m-23.5-60.4h0m1.4 26.3h0m46.1 41.7h0m-51-75.1h0m1.4 6.1h0m-0.3 32.4h0m33.1 13.8h0"/>
<path stroke="#3ae8d6" d="M282.3 50.4h0m-1.2 24.3h0m-0.8-25h0m-0.5-8.9h0m1.3 18.6h0m3.1-8.6h0m-4.9-7.9h0m6.8 50.9h0m-2.7-22h0m8.8-2.2h0m-12.8-8.9h0m39.2 41.5h0m-39.2-60.9h0m2.9-1.8h0m6.4 60.2h0m-7.6-30h0m4.8 32.9h0m-2.3-32h0m-6.6-28.9h0m6.4 17.4h0m-3.7-17.4h0m2.7 29h0m4.1 14.3h0m-1.2-9h0m-4.2 21.8h0m1.6-2.1h0m6-25.1h0m-7.5-13.4h0m0.3 15.7h0m-1.6-31.9h0m-0.9 4.7h0m2.1 22.5h0m4.9-14.9h0m-3.6 15.2h0m47 51.5h0m-43.7-79h0m-4.4 6.8h0m-4.6-4h0m6.4 21.7h0m-0.6-11.4h0m-1.5 0.4h0m1.8 44.5h0m-2.7-11.8h0m2.7-2.7h0m-0.2 1h0m44 30.4h0m-43.8-36.9h0m0 17h0m-3-53.4h0m7 39.6h0m-4.8 11.4h0m-2.3-52.3h0m1.3 37.4h0m14.4-8.3h0m-13.3 11.4h0m-3.1-38.2h0m2 25.2h0m-0.1 29.1h0m-3.4-54.8h0m0.6 4.2h0m3.8 20.5h0m1.8-10.5h0m22.5 38.2h0m-22.1-6.7h0m-2.1-31.4h0m48.1 49.9h0m-45.3-3.6h0m-4.1-8.7h0m0-54.2h0m22.9 73.7h0m-19.2-20.4h0m-6.2-45.7h0m9.4 56.1h0m24.3-9.8h0m-18.4 0.1h0m-11.8 6.3h0m1.5-31.5h0m-1.8 20.7h0m20.7 5.3h0m-20.8 7.3h0m0.9-30h0m-2.2 12.2h0m5.5-3.3h0m-0.9-10.4h0m-9.3-29.1h0m7.9 55.6h0m-4-49.6h0m38 58.1h0m-35.8-20.1h0m1.6-45.3h0m5 31.5h0m-8-20.5h0m2.6-7.1h0m3 28.3h0m2.9-33.6h0m-1.8 0.5h0m0.4 3.4h0m-2.1 18.4h0m0.8-7.7h0m-1.4-5.5h0m0.3-5.6h0m-5.4 0.9h0m3.5 23h0m-1.9-3.2h0m0.3 32h0m-0.9-47.9h0m3.5-0.1h0m1.7 5.8h0m-4.7-0.5h0m1.3-6h0m3.7 16.3h0m-4.1 32.3h0m9.7-11.6h0m-10.7-41.7h0m3.8 34.7h0m-4.6-30.8h0m1.5 51h0m-2-52.9h0m5.1 42.2h0m8.9 10.7h0m15.7-18.3h0m-16 5.8h0m-8-33.2h0m-2.2 42.4h0m18 1.4h0m-11.7-22.1h0m-2.3 4h0m-4.6-21h0m1.8-2.7h0m-5.9-5.6h0m0.9-0.8h0m-2.4-3.7h0m49 75h0m-42.9-38.1h0m8.9-39.4h0m-4.9 57.7h0m8.5-5.1h0m-12.9-1.1h0m5.3-36.8h0m2.4 29h0m-3.7-20.4h0m7.4 24.2h0m-5.7-12.7h0m-4.4-33.7h0m14.5 33.8h0m-15-32.3h0m15.2 58.9h0m-11.2-51.4h0m-8.3-5.9h0m1.5-3.8h0m1.3 55h0m12.7 0.9h0m-7.2-34.7h0m-7-21.3h0m6.6 25.7h0m-6.2-4.7h0m3.6 2.6h0m6.9 9.5h0m-0.3 5.6h0m-12.8-36.7h0m16.5 36.9h0m32.3 37.3h0m-32.2-20h0m-14.2-53.6h0m8.2 26.5h0m-1 12.4h0m-9.3-40.2h0m4.1 51.1h0m3-12h0m-1.4 3.3h0m-3.8-39.2h0m3.1 2.3h0m3 8.1h0m-3.3 10.4h0m12.2 16.3h0m-16.1-38.4h0m14.3 64.4h0m4.4-19.4h0m-15.3-11.8h0m-0.6-4.5h0m-2-28.1h0m9.1 9h0"/>
<path stroke="#45efd2" d="M280.1 40h0m5.1 43.2h0m11.4 13.5h0m-7.5-29.4h0m0.2 5.9h0m-10-27.8h0m4.3 5.3h0m-5.4-6.9h0m13.1 16.7h0m-6.4 19.3h0m-3.2-17.9h0m-0.1-17.5h0m0.2 46.6h0m7.5 18.8h0m-6.6-63.3h0m2.2 5.3h0m4.8 6.6h0m-6-11.5h0m14.5 56.4h0m-16.5-50.6h0m6.4-7.9h0m-6.9 58.4h0m0.7-17.6h0m8.6 16.1h0m-3.6 4.7h0m-0.7-23.9h0m-1.6-40.8h0m15.6 67.5h0m-16.9-57.6h0m-5.8-12.2h0m8.2 15.2h0m2.2-11.9h0m7 45.2h0m-11.5-4.6h0m-1.7-37.9h0m8.6 36h0m-5.3-16.7h0m-0.6-5.4h0m-1.2 30.8h0m5.1 3.7h0m-6.1-49.7h0m0.6-1.5h0m3 11.3h0m-6.7-6.5h0m4.7 0h0m39.7 47.3h0m-37.1-33.4h0m-6.1-4.6h0m14.4-10.2h0m-6.8 54.9h0m-8.4-55.6h0m2.5 26.7h0m20.8 34.4h0m-8.9-35.4h0m-16.1-28.3h0m1.2 4.5h0m1.7-1.2h0m5.3 6.3h0m-5.7 47.9h0m3.1-29.6h0m0.2 1.9h0m35.2 30.6h0m8.2 14.3h0m-41.2-73.7h0m12.2 39.7h0m-14-19h0m-2.8-20.9h0m5.4 0.6h0m0.5 43.4h0m-3.9-8.6h0m-1.6-37.1h0m2.7 24.7h0m3.8 25.1h0m-9.8-47.7h0m1.6 4.2h0m8.1 38.2h0m4.6-35.8h0m-9.8 48.9h0m-0.9-31h0m-4.2-29.7h0m5.5 7.4h0m-0.5 18.2h0m-1-18.8h0m2.2 25.8h0m-3.3 26.5h0m0.9-58.6h0m7.5 56h0m1.4-42.1h0m-7.1 50.4h0m4-53.7h0m-0.7 42h0m-5.7-1.1h0m2.6-45.8h0m10 50h0m-8-33.3h0m4.9 15.4h0m-5.4-35.6h0m7.9 27.8h0m-6.8 8.1h0m-4.2-33.1h0m5.1 16.8h0m-8.6-18.7h0m10.8 51.6h0m11.2 0.4h0m-11.3-27.6h0m2.8 30.2h0m-11.4-55.2h0m5.6 48.6h0m13.2 18.4h0m-15-62.3h0m3.4 9h0m-6.6-8.9h0m4.4-0.2h0m5.1 42.8h0m-10.1-50.4h0m3.8-0.1h0m-4 0.9h0m21.5 73.6h0m-12.4-72.8h0m-4.8 2h0m1.4 51.4h0m5.7-47.8h0m4.5 22h0m-5.9 30.4h0m-5.4-58.4h0m5.4 62h0m-1.7-4.8h0m6.8-9.6h0m2.7-8.5h0m-7.4-33.2h0m-8.5-5.6h0m11.5 41.9h0m-9.4-37.8h0m-1.6-4.9h0m6.6 25.6h0m7.2 23.2h0m4.5 9.6h0m7.5 1h0m-26.5-59.4h0m1.3 0.4h0m7.9 52.7h0m-2.8-18.2h0m4.6 28.6h0m-5.6-22.1h0m8.1 14.9h0m4.4-22.4h0m-17-25.7h0m13.8 31.5h0m-9.6 21.7h0m-0.1-46.3h0m4 43.5h0m1.1-4.6h0m-4.3-11.8h0m-2.4-22.5h0m23.7 49h0m-25-65.3h0m6 10.3h0m1 31.7h0m-5.4 8.6h0m4.5-46.4h0m-0.6 27.2h0m4.8 8.9h0m-9.2-0.9h0m8.3-28.3h0m-7.8-11.9h0m4.6 27.5h0m-4.5 8.6h0m2.1-35.7h0m21.6 28h0m-20.4 8.5h0m-2.2-4.2h0m-0.7 29.4h0m-2.4-60.4h0m8.4 27.2h0m-7.5-24.3h0m3.9-2.1h0m-4.8 2.4h0m-1.6-2.2h0m0.3-1.7h0m22.5 68.6h0m-19.8-63.6h0m5.6 9.7h0m-7.9-10.2h0m9.2 19.1h0m-2.3 14h0m-5.8-40.4h0"/>
<path stroke="#50f4cd" d="M279.9 42.8h0m1.4-3.2h0m4.1 4.4h0m-0.6 48.8h0m4-19.5h0m-1.3 24.7h0m-5.8-49.5h0m0.3 0h0m8.1 48.1h0m2.8 1.7h0m-11.9-53.1h0m4.6 49.5h0m-3.3-50.9h0m8.1 24.6h0m-5.9-28.3h0m1.3 38.7h0m3.7-22h0m-0.7 12.7h0m23.3 52.4h0m-27-79.5h0m1.6 34.7h0m-1-31.7h0m0.6-3.3h0m-4.8-0.4h0m2.1 0.6h0m6.5 0.7h0m-0.5 16.8h0m-2 1.3h0m-3.7-21.4h0m-0.4 4.5h0m8.7 21.8h0m-12.7-19.7h0m21.4 62.7h0m-8.7-26.5h0m-7.7-34.5h0m16 24.4h0m2.9 35.7h0m-7.5 0.2h0m-10.6-42h0m-4.4-26.8h0m20 54.3h0m-18.1-47.3h0m19.6 37.2h0m-17.3-38.7h0m9.8 52.1h0m-11-50.7h0m7 59.9h0m1.3-52.3h0m-0.9 46.7h0m38.1 11.8h0m-0.6-4.8h0m-39.8-35.2h0m5.2 37h0m25.4-20.6h0m-0.6 8.7h0m-41.5-51.4h0m5.3-6.3h0m0.9 7.8h0m0.3-4.3h0m13.4 70.7h0m-11.2-51.8h0m-0.2 15.2h0m7.5 11.1h0m-2.7-1.1h0m-1.8 2.7h0m-6.5-41.4h0m1.9 7.5h0m15.8 42.6h0m27.7 25.1h0m-42.9-79.1h0m46.4 73.9h0m-24.4-21.7h0m0.1 15.2h0m-2.7-2.9h0m-18.6-53.7h0m2.9-0.2h0m-1.9 2.8h0m-1.2 23.1h0m-2.4-40.5h0m2.9 49h0m-2.4-48.8h0m17.2 68.4h0m-13.5-34.3h0m13.7 10h0m-10.3-1.3h0m2.3-33.5h0m-2.6 59.8h0m-9.6-64.9h0m13.2 53.3h0m-4.4-4.2h0m-2.2 5.2h0m2.9 0.9h0m-4.6-30.7h0m3.7-11.9h0m-3.8 40.8h0m7.4 5.4h0m1.6-17.6h0m2.1-2h0m1 23.3h0m4.7-12.2h0m-3.9-5.7h0m-7.4-35.8h0m-3.8 37.9h0m-10.7-51.5h0m6 4.7h0m8.2 51.1h0m4.4 9.1h0m32.3 14.1h0m-37.9-75.4h0m20.5 36.9h0m-21.3 1.5h0m7.8 0.5h0m-1.7 1.9h0m-5.7 12.9h0m-7.8-49h0m3.3-5.7h0m9.3 52.7h0m18.5 5.9h0m-27.4-58.9h0m2.2 12.7h0m1.7-15h0m1 40.1h0m-9.4-32.3h0m13.2 48h0m-4.1-17h0m11.2 1h0m-12.9-28h0m3.8 15.4h0m-12-21.2h0m10.5-2.3h0m-6.6-0.3h0m21.5 35h0m-18.5-7.2h0m21.3 32.7h0m-19-31h0m11 33.3h0m-19.5-65.4h0m2.5 0.6h0m9.7 13.4h0m-8.9-7.3h0m15.2 66.7h0m-15.4-67.3h0m1.9 34.5h0m-2.9-39.7h0m2.2-1.1h0m1.9 34.6h0m0.1 0.6h0m-2.1-1.7h0m7.7 15.7h0m9.1 1h0m26.2 32.3h0m-23.4-44.3h0m-21.3-39.7h0m4.5 12h0m-4.9-11.3h0m14 57.4h0m8.7 1.3h0m-3-26.5h0m6.5 37.1h0m-7-14.4h0m7.8-17.9h0m-20-21.1h0m11.6 55.1h0m-6.4-41.5h0m10 46.6h0m-15.5-25.6h0m2.8-43.6h0m-5.4 21.4h0m13.8 16.9h0m-12 10.3h0m3.3-55.2h0m-4.3 6.4h0m12 25.6h0m-8.7 2.9h0"/>
<path stroke="#5af8c8" d="M285 61.9h0m5.8 26.7h0m-2.2-20.9h0m0.9-26.5h0m-5.9 6h0m11.2 43.9h0m-10.8-44.8h0m2.8 37.7h0m6.5 10.2h0m-12-52.2h0m26.8 42h0m-15-21.5h0m-1.7 22.1h0m-2.1-16.3h0m9.1 34.2h0m-11.5-52.8h0m2 18.6h0m-7.7-28.5h0m6.8 6.4h0m-4.2-6.2h0m13.1 70.4h0m15.8 10.7h0m-22.2-59.6h0m2.5 41.2h0m5.5-32.9h0m0 37.6h0m-5.8-34.7h0m-12.6-27.8h0m20.3 60.9h0m-15.2-62.8h0m-0.4 0.2h0m5.4 24.7h0m-5.9-27.1h0m4 33.7h0m15.6 14.5h0m-20.1-42.6h0m5.4 42.5h0m11.5-2.5h0m26.5 31.7h0m-42.5-70.6h0m6.3 59h0m14.3 6.6h0m-5.1-36.1h0m8.3-3.2h0m-18.2-11h0m-8.7-16.2h0m5.5 12h0m18.3 15.8h0m-17.9-33.3h0m-3.5 3h0m1.7 18.8h0m4.5 38.8h0m6 5.6h0m-14.9-66.2h0m6.6 34.9h0m11.6 4.8h0m-15.3-32.5h0m6.4 48.7h0m-11.5-54.2h0m11.1 34.4h0m-1.9 4.4h0m-2.3 10.3h0m-0.1-14.4h0m1.4-35.9h0m-1.3 38.3h0m11.5 7.6h0m0.2 23.6h0m-11-37.1h0m0.7 10.2h0m4.2-38.9h0m22.5 70.5h0m-20.1-7.9h0m-6.2-10.3h0m14.1 11.5h0m4.6-4.4h0m-1.4-33.7h0m-20.8-28.2h0m9.3 4h0m36.5 65.4h0m-41.9-20.1h0m8.8-19.2h0m17.9 37.5h0m-26.9-46.9h0m34.3 25.2h0m-28.2 6.5h0m-10-52.1h0m16.4 56.4h0m4 14.5h0m-11.7-7.5h0m-4.2-17h0m-6.9-45.7h0m2.8-3.4h0m4 40h0m22.8 6h0m-28.6-44.7h0m7.5 52.5h0m-7.8-49.7h0m7.5 56.1h0m18.2-23.4h0m18.9 46.2h0m-42.8-83.1h0m14.6 44.6h0m-3.8 21.1h0m3.5 0.2h0m-4.8-4.5h0m-9.5-58h0m2.2 35.9h0m-4.9-31.5h0m29.6 65.5h0m-27.7-74.4h0m20.2 46.2h0m-21-39.6h0m3.8 18.7h0m42.6 46.6h0m-18.7-40h0m-32.5-28.3h0m35.4 46.7h0m-27.7-41.4h0m23.8 39.5h0m-15.1-36.8h0m-0.5 60.3h0m14.5-14.1h0m-20.4-32.8h0m16.3 48.4h0m-16.3-72.5h0m-3.6 0.2h0m-1.7-1h0m9.5 12.7h0m3 13.9h0m-8.5-23.4h0m3.9 31.8h0m-4.9 5.7h0m5.4 17h0m37.8 18.9h0m-35.9-7.5h0m-6.1-37.6h0m-2.8-13.5h0m2.8-1.7h0m-4 29.2h0m14.3-6.4h0m-7.9-16.2h0m-1.1 6.5h0m11 39.9h0m-12.3-19.8h0m15.1-9.5h0m14.2 23.7h0m-31.6-58.3h0m0.6 49.7h0m-0.5-48.6h0m23.9 26.4h0m-26.2-33h0m4.4 40.7h0m21.6 22.6h0m-14.1-10.1h0m-4.3 1h0m-1.6-12.5h0m-5.1-36.4h0m2 42.3h0m34 21h0m-40-68.2h0m47.9 83.7h0m-21-30.8h0m-22-53.2h0m4.7 47.3h0m-4.6-38h0m5.5-6.6h0m13.5 55.6h0m-1.2-0.7h0m29.9 15.4h0m-48-68h0m7.4 35.2h0m10.4 11h0m-17.5-48.6h0m-2.3-0.5h0m7.5 26.4h0m2.9-11.2h0m11 25.8h0m28.2 25.5h0m-50.1-64.3h0m17.3 59.2h0"/>
<path stroke="#65fcc2" d="M328.3 106.3h0m-39.8-5.7h0m6.1-46.4h0m-4.4-6.6h0m1.3 52.9h0m7.5-6.2h0m-16-53.2h0m35.6 74h0m-34.4-67h0m0.4 22.2h0m1.3-5.2h0m7.9-13.2h0m-7.2-5.3h0m-8.9-6.7h0m23.8 35.9h0m-24.1-32.3h0m5.8 1.5h0m-0.5 3.5h0m-1.2-1.9h0m44.8 74.2h0m-36.9-56.5h0m11.8 45.9h0m-17.5-68h0m23.5 72.5h0m0.7-6.4h0m-3.9-37.5h0m-3 22.1h0m-9.3-10h0m13.3 1.2h0m-19.5-23.9h0m25 27.4h0m-20.9-5.8h0m-2.7-24.1h0m5.7 41.3h0m0.2-42.1h0m22.4 28h0m15.4 25h0m-46.9-69h0m-0.1 5h0m19.7 30.1h0m-17.8 27h0m-6.6-61.2h0m24.4 50.9h0m-15.5 6.8h0m1.2-6.3h0m11.6 0.3h0m-12.3-8.5h0m7.5-9.1h0m10.4 5.1h0m-17.5 24.8h0m3.2-65.1h0m-5.7 15h0m3.2 9.6h0m7.9 19.2h0m6.9 25.1h0m-13.9-36.6h0m12.1 21.5h0m17.1 19.9h0m-29.4-67.9h0m17.7 43.5h0m-20.5-48.5h0m0.9 40.6h0m23.2 32.8h0m-23.3-38.4h0m13.7 7h0m-1.1-6.1h0m18.4 20.5h0m-37.7-52.7h0m16.4 33.1h0m6.3 0.9h0m-18.9-5.8h0m2.6-28.7h0m6.9 55.7h0m9.6 10.5h0m-12.8-28.2h0m9.1-11.4h0m-15-13.5h0m19.3 35.4h0m22.1 22h0m-48.6-76.1h0m7.6 0.3h0m0.3 7h0m22.2 59.8h0m-21.6-53.5h0m2.8 38.2h0m40.7 33.7h0m-21.2-28.4h0m-2.5 15h0m-7.3-36.8h0m-5.6-33.5h0m17.4 35.7h0m-15.9-36.2h0m-11.4 3.8h0m29.5 43.2h0m-8-14.8h0m-17.9 25.8h0m-0.8-19.5h0m10.7 19.2h0m-13.6-52.4h0m22.7 66.2h0m-20.4-49h0m-2.5-19.6h0m36 60.5h0m-37.9-61.4h0m6.3 50.5h0m4.3-32.9h0m1 14.6h0m-1.9-5.7h0m-0.9-7.3h0m19.1 32.3h0m-22.6-30.2h0m19 15.5h0m4.8 18h0m-16.1-8.7h0m-5.1-4.6h0m-5.5-42.3h0m-4.3-2.3h0m7.3 0.9h0m0.7 64.7h0m8.7-56.7h0m-12.4-2.3h0m24.6 68.8h0m-23.2-28.4h0m17.7 14h0m-16.5-21.7h0m4.2-19.4h0m-4 10.4h0m0.8-30h0m0.6 31.2h0m-4.6-30.7h0m6.9 13.1h0m4.8-6.4h0m-8.6 35.9h0m7.3-2h0m-10.1-37.5h0m3.6 60h0m5.2-21.6h0m13.6 10.9h0m-14.8 6.7h0m-3.5-27.1h0m-1.3 21h0m-2.7-44.4h0m-0.6-2.6h0m9 53.2h0m35.3 19h0m-28.1-13h0m-8.7-57h0m0.6 21.6h0m12.2 8.6h0m-16.7-25.7h0m4.6 22.7h0m-10-28.2h0m8.7 14.3h0m1.2 46.1h0m-5.6-4.8h0m8.7-11.6h0m-13.4-43.4h0m14 50.2h0m25.7 18.7h0m-34.6-59.6h0m7.1 44.4h0m-10.5-60h0m15.8 57.1h0"/>
<path stroke="#70febd" d="M287.8 100.9h0m-0.8 2.7h0m4-18.9h0m6.9-17.7h0m-13.1 8.7h0m0.6-6.6h0m3.1 10.2h0m0.8-29.7h0m18.2 31.1h0m-22.4-0.6h0m-1.4-35.7h0m-1.3-1.7h0m3.9 35.6h0m7.2-35.4h0m-3.5 2.1h0m-5.6-0.7h0m1.3 27.6h0m1.7-19.3h0m-5.3-9.9h0m1.5-2.3h0m18.1 72.6h0m-14.1-14.6h0m-5-52h0m22.4 47.9h0m-16.4-40.8h0m-6.1-6.4h0m22.6 66.1h0m23.9 6h0m-44-36.7h0m13.7 11.7h0m-7.9-31.4h0m-1.2-5.7h0m15 37.1h0m-10.6-14.1h0m-0.1-30.7h0m13.1 21.7h0m-17.5-3.7h0m5.5-12.9h0m-3.3-4.9h0m-1.8 7.6h0m30.9 52.8h0m-37.6-68.7h0m1.7 7.2h0m19.6 65h0m-22.8-72.3h0m13.4 46.5h0m-7.7-12.4h0m-3.5-34h0m-1.6 0.8h0m6.2 4.4h0m-5.2 0.2h0m-1.6-3.2h0m6.2 18h0m7.3 22.1h0m-13.5-43.9h0m14.4 22.6h0m15.5 39.8h0m-20.4 4.6h0m19.3 1h0m-16.9-38.1h0m-5.5 26.2h0m5.3 0h0m-6.7-31.7h0m29.9 49.8h0m-24.3-42.8h0m-9.6-29.7h0m7 52.9h0m6.2-13.8h0m-6-22h0m2.4-7.8h0m-1.3 19.3h0m0.9 31.2h0m35.6 21.2h0m-40.4-20.8h0m2.6-59h0m0.2 13.6h0m3.2-3.4h0m-7.2 4.7h0m2.2-15.5h0m12.7 30.5h0m-11.6 33.2h0m24.8 12h0m-32-77.5h0m4.5 5.1h0m-2.5-0.3h0m31.9 49h0m-30.3-23.6h0m7.4-25.6h0m-10.2-4.9h0m6.6 29.7h0m-2-2.5h0m17.6 35.3h0m16.7-14.3h0m-39.2-40.4h0m2-1.4h0m7.4 52.4h0m2.7-0.2h0m-6.2-46.2h0m15.1 62h0m-9.4-9.2h0m-7.7-11.1h0m-0.4-35.7h0m-2.9-13.1h0m27 24.7h0m-2.9 14.4h0m-23.4-36.4h0m-4.3 0.8h0m10.9 28.6h0m-3.7 4.6h0m-0.6-36.1h0m25.1 56h0m-8-18.8h0m-14.4-5.5h0m16.3-5h0m-14.3-17.9h0m4.2 52.2h0m-4.7-27.1h0m11.8 13.3h0m-13.7-8.9h0m15 2h0m4.7-14.9h0m5.5 39.7h0m-33.5-62.5h0m12.1 17.1h0m-7.9-19.9h0m-0.8 0.7h0m23.6 41.7h0m-13.9 21.2h0m-3.8-59.9h0m1.3 47.9h0m3.9-45.3h0m3 2.2h0m-13.5-6h0m40.7 74.4h0m-24.8-41.9h0m-13-0.5h0m7.4 18h0m0.7-6.5h0m-13.8-43.5h0m7.9 58.6h0m16.5-28.5h0m5.7 17.8h0m-11.4-8.9h0m-9.4-34.1h0m-1.1 14.2h0m0.1 29.9h0m-0.3-46h0m0.1 46.2h0m-4.9-55.4h0m6.6 47.3h0m36.3 17h0m-35.6-39.4h0"/>
<path stroke="#7affb7" d="M292.3 73.8h0m-3.1 17.7h0m8.7-9h0m-8.3 8.3h0m3.9-39.2h0m-4.1 50.9h0m31.4-3.8h0m-12.4 7.1h0m-22.8-55.9h0m11.1 31h0m-9.7-24.1h0m19.2 25.7h0m-15.4-32.5h0m-8.8-3.1h0m31.1 67.9h0m-17.4-58.5h0m-8.2-4.4h0m10.9 59.2h0m-7.7-6.7h0m-0.4-44.4h0m10.9 26.8h0m-12.2-19.5h0m7.6 27.5h0m6.3-16.1h0m222.7 32.6h0m2.8-56.6h0m-235.7-12.3h0m11.7 38.9h0m-18 6h0m6.4-12.4h0m-2.2-5.6h0m-4.9 29.4h0m-0.8-47h0m9.2 44.5h0m13.4-9.9h0m-0.6-12h0m-16.9 9.5h0m-1.8 23.5h0m8.3-30.3h0m-9.7-27.7h0m-0.3-7.8h0m-0.9 45.1h0m6.1-24.5h0m1.2 46.9h0m1.4-67h0m-0.5 52.7h0m-8.3 9.2h0m5.8-29.1h0m-6.3-28.9h0m8.4-0.2h0m-7.9 2.9h0m7.5 44.1h0m9.6 24.1h0m-18.7-75.4h0m17.8 54.7h0m-6.3-38.2h0m1.8 25.9h0m-4-32.6h0m-5.9 38h0m6.9 15h0m-8.5-36.4h0m0.4 0.3h0m-3.6-21.2h0m28.1 53.2h0m-19.9-11.8h0m-9.3-41.2h0m5.9-5.8h0m0.5 26h0m16.3 11.8h0m-4.7 10.8h0m-8.4-10.8h0m-5.8-20.6h0m25.4 17.1h0m-5.4 12.9h0m-18.1-3.4h0m1.5 9.7h0m28.2 24.1h0m-12.2-26.1h0m-4.3 15h0m-5.3-8h0m-3.6-32.2h0m25.3 39.2h0m-14.4-21.8h0m-1.9 5.1h0m-5.3 18.2h0m5.7-22h0m-10.2-7.8h0m-0.3-38.3h0m17.3 76.2h0m-5.9-43.8h0m2.1 25.7h0m-18.5 3h0m2.2-46.3h0m12.6 55.1h0m16.4-13.9h0m-28.9-55h0m13.3 41.3h0m-6.1 20h0m-1-1.4h0m-5.7-46.3h0m-4.1-7.3h0m2.4 33.2h0m19.9 32.9h0m-25.1-71.9h0m11.8 3.6h0m-5.7 56.2h0m32.3-13h0m-5.7-13.7h0m-25.6 20.5h0m2.2-25.9h0m-0.5-7.8h0m-5.5-21.7h0m44.1 69.5h0m-37.5-67.8h0m-3.4 36.6h0m-2.4-34h0m4.6 38.6h0m15.8-3.4h0m-18.1-2.1h0m14.7-4.3h0m3.3 14.7h0m-21-42.8h0m6 18.6h0m-1.1 15.1h0m23.8 37.7h0m-23.8-22.6h0m-5.7-48.2h0m-3.2-5.1h0m6.2 61.2h0m4.5-48.9h0m-3.4 36.1h0m-2.4-7.3h0m2.4-23.7h0m27.6 48.9h0m-32.4-66.9h0m7.6 31.2h0m8.4 1.8h0m-0.1 40.2h0m-2.4-37.3h0m20.8 32.4h0m-29.9-16.7h0m2.9-3.2h0m-0.2-44.9h0m2.8 33.8h0m-7.2-6.3h0m7.8-2.7h0m-4.5 22.6h0m-4.6-46h0m10.4 47.1h0m-5.7 2.5h0m4.8-44.8h0m0.9 48.9h0m-1.5 4.8h0"/>
<path stroke="#85ffb1" d="M322 95.7h0m-32.2-41.2h0m32.2 61.4h0m-38-73.7h0m3.1 43.8h0m26.6-6.1h0m-34-35.5h0m9.3 17.3h0m0.8 42.2h0m1.4-49.1h0m-3.4 49.7h0m40.5 12.4h0m-45.4-72.3h0m6.7 1.3h0m3.6 44.7h0m0.7 0.9h0m0.8-12.3h0m-7 19.2h0m4 7.9h0m-8.8-65.1h0m3.7 24.8h0m-0.7 16.8h0m15.4 25.9h0m20.6-4.1h0m-34-60.1h0m16.2 57.3h0m-12.5-54.1h0m-0.2 38.5h0m4 9.6h0m6.9-13.8h0m-14.2-30.7h0m0.5 30.2h0m8.7-8.1h0m-7.2-21.6h0m-7.2-4.9h0m1.4-1.1h0m48.3 71.8h0m-37.6-50.5h0m1.4 6.4h0m-2.6 20.6h0m-6.1-9.7h0m-6.3-37h0m7.6-4.5h0m-4 4.8h0m4.2 32.6h0m2.6 14.4h0m39.6 12.8h0m-44.9-27.8h0m16.2-5.1h0m-11.4 3.9h0m-0.6-25h0m-0.8-6.3h0m-0.7 40.4h0m17.5 28.6h0m-18.7-70.9h0m6 50h0m-3.2-30h0m1.9-13.5h0m-3 34.9h0m-4.8-1.8h0m11.1-28.2h0m-7.3-11.4h0m32.4 45.9h0m-35.1-4.7h0m18.9-12.7h0m-19.5 16.3h0m-2.9-46.6h0m3.6 38.8h0m3.8-39.4h0m10.9 53.7h0m-13.1-45.2h0m34.8 46.2h0m-26-4.8h0m-6.1-9.8h0m3.1 16.8h0m-1.5-10h0m12.7 8.7h0m-17.4 8.1h0m4.9-11.6h0m-4.4-31.7h0m26.5 33.7h0m-28.6-42.2h0m-1.3-11.2h0m19.3 33.1h0m-10.9 26.8h0m10.6-31.9h0m12.2 29h0m-21.8-55.9h0m-9.5-4.7h0m-1.5 7.4h0m-1.5 0.8h0m10.5 6h0m1.6-6h0m-8.3 48.1h0m10.4-21.9h0m0.7 16h0m-6.6-25.1h0m-1.3 24.8h0m3.7-40.2h0m-0.6 16.4h0m-5.9 8.4h0m20.4-2h0m-16.5-3h0m5.3 14.1h0m-5.6 15h0m-0.9-29.1h0m1 0.5h0m-1.5-12.1h0m5.4 8.3h0m-10-21.7h0m5.6 33.7h0m-1.5 3.5h0m18.3 27.2h0m-10.9-27.6h0m-7.8 8.3h0m3.8-32.7h0m-5-16.6h0m0.1 40.6h0m3.9-39.8h0m5.5 28.9h0m-9.9-30.5h0m6.1 51.8h0m0.7 2h0m38.8 22.5h0m-39.3-49.5h0m-9.3-23h0m8.4 54.1h0m-8.4-52.1h0m5.3 22.8h0m-5.8-25.3h0m6.2 44.4h0m4.4-37.9h0m-3.2 7.4h0m1.6 28.5h0m-4.8-23.5h0m-0.6 7.2h0m2 7.8h0m11-18.2h0m-10.8 33.8h0m-0.1-50.5h0m1 38.3h0m9.2-0.3h0m-8.7-25.4h0m-2.8 0.3h0m4.7 15.5h0m16.8 47.9h0m-14.2-58h0m-6.3 16.6h0m5.3 18.1h0m-7.1 6.6h0m1.2-43.6h0m-1.5-18.6h0m35.4 82.2h0m-26.4-67.8h0m-2.4 0.6h0m6.2 43.1h0"/>
<path stroke="#8ffeab" d="M287 55.3h0m14.3 30.2h0m-14.9-3h0m3.7 16.1h0m-3.2-52.1h0m4.7 19.1h0m38.2 48.5h0m-38.1-20.8h0m-7.2-52.1h0m19.1 58.2h0m-16.8-10.7h0m4.5 19h0m9.3-35.8h0m-9.9-5.1h0m2.4 36.5h0m-3.1-17.2h0m3.9-31.6h0m9.5 44.9h0m-8.7-39.4h0m22.9 38h0m-28.3-31.2h0m-6.3-25.1h0m15.4 26.8h0m6.1 48.3h0m-20.3-68.2h0m5.2-4h0m3.1 52.8h0m1.6-22.5h0m6.8 2.9h0m-12.1-31.4h0m22.9 58h0m-23.5-16.6h0m12.4 16h0m-7.2 4.5h0m-12.5-66.3h0m36.4 75.9h0m-32.3-45.3h0m6.4 0.5h0m-4.6 17h0m27.7 26.1h0m-9.8-43.6h0m-14.4-27.4h0m-0.2 55.7h0m13.1-25.2h0m3 24h0m-4.9-18.6h0m-10.1 6.2h0m14 7.6h0m-11.4-9.5h0m-3.3 2.8h0m-4.7 16.3h0m3.5-46.7h0m2.1 49h0m35-14.9h0m-38.4-7.9h0m8.2 14.1h0m-4.5-23.4h0m1-24.1h0m-6.1 43.4h0m-1.6-7h0m1.9 17.2h0m8.2-45.6h0m-9-3.7h0m19.7 58.2h0m-13.5-10.9h0m-0.8-53.7h0m9.7 58.6h0m11.9 2.4h0m-20.8-25.8h0m-4.6 4.9h0m4.9-14.4h0m-8.3 2.4h0m7.4-23.8h0m3.9-10.9h0m15.5 43.4h0m-19-15.5h0m-7.6-22.2h0m-0.5-0.5h0m-2.9-6.9h0m46.7 81h0m-27.3-44h0m-8.5-0.4h0m-3.7-8.9h0m10.5 30.2h0m-8.5 10.1h0m-1.5-61.9h0m4 35.1h0m14.9 32h0m-25.9-69.3h0m1.9-3.2h0m6.3 39.4h0m-3.3-32.7h0m6.2 20.2h0m9.3 41.1h0m-8.2-9.1h0m-7.2-34.6h0m0.5-5h0m2-16.1h0m6.4 1h0m-6.7 38.5h0m19.8 31.2h0m-20.6-52.8h0m0.3 1.4h0m22.1 22.1h0m-26.9-45.7h0m21.7 45.9h0m-18.9-26.6h0m-4.9-14.5h0m45.6 64.8h0m-40.1-65.3h0m-0.5-4.2h0m4.8 7.9h0m10.3 50.3h0m-12.3 7.5h0m34 17.1h0m-31.7-59.3h0m0.2-18.9h0m29.5 54.8h0m-6-6.2h0m-26.4-10.3h0m11.7 10.1h0m-19.5-47.3h0m20.5 26.4h0m5.3 23.4h0m0.5-6.5h0m-16.6 20.2h0m28.1-19.6h0m-30-19.6h0m-0.5-8.6h0m5.2 41.1h0m-8.3-13h0m5.1 1.5h0m-1.7-21.4h0m11.7 42.9h0m-10.2-22.9h0m7.8-19.1h0m-12.5 5.4h0m5.9 10.3h0m1.4 11.8h0m-5.8-11.3h0m-3-40.4h0m1.2 8.1h0m25.5 42.4h0m-17.8-12.4h0m-10.1-42.9h0m10.2 35.7h0m-9.4-36.4h0m-2.1-0.7h0m21.2 77.8h0m-9-55.2h0m16.7 31.7h0m-16.5-27.1h0m8 16.8h0m6.1 29.2h0m13.4-5.3h0m-31.4-38.2h0m2.9-4.6h0m13.1 47.7h0m-0.9-41.9h0m-18-26.5h0m4.1 1.5h0m18.4 74.6h0m-17.1-80.3h0m-1.8 26.4h0m-6.8-22h0m21.9 29.2h0m-17.3-4.9h0m0.7 6.9h0m9.1 25.5h0m-12.1-3.5h0m7.2-3.6h0m-9.4-53.4h0m12.9 2.6h0m-1.2 38.7h0m2.8 11.5h0m12.5 18.1h0m-20.7-70.6h0m-1.3 45.8h0m3.2-0.8h0m2.3-14.3h0"/>
<path stroke="#9afca5" d="M290.2 43h0m-4.9 2.9h0m30.7 68.1h0m10.4-7.6h0m-36-3.4h0m-0.5-47.8h0m3.1 32.5h0m6.4 13.3h0m19.2 18h0m-29.4-17.7h0m3.3-41.2h0m-6.7 17.2h0m19.1 41.7h0m-14.9-39.2h0m-4.7 12.8h0m-2.3-47.1h0m2.1 52.2h0m12.4-5.5h0m23.1-5.1h0m-34.2-2.7h0m0.4-30.3h0m17.7 36.1h0m-20.5 9h0m5.4-49.2h0m10.7 26.1h0m-14.2 24.6h0m23.6-14h0m-13.6-9h0m-3.3-4.4h0m-7.5-31.6h0m3.6 49h0m3.2-39.3h0m-5.1 49.3h0m4.3-54.1h0m-2.1 60h0m3.5-3.7h0m-5.2-19.4h0m4-44.4h0m-7.9 3.7h0m2.1 13.1h0m-1.1-14.3h0m29.9 29h0m-25.9-6.7h0m6.2-14.5h0m-2.8 21.4h0m8.7 29.3h0m8.6-16.7h0m-15.2 26h0m-3.4-24h0m14.1-9.7h0m-15.7-7.6h0m2.6 39.1h0m8.1-24h0m36.9 21.9h0m-48.2-19.3h0m16.9 27.8h0m-10.3-18.9h0m-1.5-44.7h0m12.4 24.8h0m-18.8 26.5h0m3.4-22.2h0m-2.7 25.2h0m31.9-20.2h0m-17.8 21.3h0m4.8-20.4h0m-15.2 11h0m9.5 12.3h0m0.5-31h0m-14.3-18.4h0m12 34h0m4.7-13.4h0m-4.1 2.2h0m3.5 6.9h0m6.2-1.4h0m-6.3 17.3h0m2-13.4h0m-16.7-27.7h0m15.8 37.8h0m-15.9 3.2h0m13.2-22.7h0m-11.8-30.4h0m-2.8 44.1h0m19 21.9h0m-10.4-56.5h0m-6.5-5.8h0m33.2 66h0m-22.5-19.8h0m7.5 4.9h0m-4.1-34h0m-12.1 33.9h0m2-6.5h0m7.9-25.6h0m-10.3-21.8h0m20.3 66.1h0m-19.2-28.4h0m16.7 19.9h0m-3.9-12.7h0m-14.3 2.6h0m1-43.5h0m7.8 46.3h0m3.9-24h0m-11.8 20.3h0m0.8 1.2h0m18 2.9h0m-21.4-7.3h0m2-20.2h0m2.2-17h0m-3.7 7.4h0m19.3 20h0"/>
<path stroke="#a5f89f" d="M305.4 70.6h0m-7.5-4.7h0m16 46.6h0m-21.4-30.3h0m1.9 19.9h0m-3.4-53.7h0m17.1 70.2h0m-8-5.3h0m-6.5-66.6h0m-5 27.2h0m0.9-23.5h0m2.1 16.2h0m9.4 38.1h0m-16.1-20.9h0m25.3 8.7h0m18.7 24.4h0m-39.5-25.8h0m4.8-18.5h0m11.7 6.3h0m-18 27.5h0m32.1-14.8h0m-13.9 13.5h0m-18.3-37.6h0m10 15.2h0m2.1 28.4h0m4.2-35h0m15.2 39.6h0m-16.8-20.8h0m-10.3-15.7h0m-6.4-8.1h0m6-23.1h0m20.7 53.7h0m-2 7.8h0m-7.8-0.4h0m-3.3 3.8h0m0.6-33.6h0m-14.1 29.7h0m17.3-1.3h0m-1-8.9h0m-4.7 10.5h0m-6.9-42.5h0m8.8 36.5h0m3.6-8.8h0m-6 12.9h0m-2.9-25.1h0m-2.9-22.1h0m0 32.3h0m8.8-2.6h0m-6.2-37.4h0m13.6 45h0m5.3 6h0m-24.2-35.2h0m14.3 25.6h0m-12.4-29.4h0m4.9 18.4h0m2.3-4.7h0m8.7 35h0m2.7-32.9h0m-10.8 4.3h0m-1.5-3.5h0m1.4-29.2h0m-3.9 26.9h0m-5.4 9.3h0m9.9-5.1h0m-1.9-4.6h0m8 19.7h0m1.8-13.5h0m-9.6-19.3h0m-3.1 3.5h0m-2.7-5.5h0m0.7 42h0m14.9-14.9h0m-10.1-7.4h0m0.8-2.5h0"/>
<path stroke="#aff498" d="M332.8 124.2h0m2.1-9.4h0m-45.7-55.5h0m-2 6h0m-1.7 16.4h0m9.7 22.9h0m-6.2-46.9h0m5.5 32.7h0m27.2 17h0m-30.7-50.6h0m-2.8 19.4h0m6.3 4.4h0m-2.1 6.7h0m-6.9-22.2h0m2-2.4h0m2 32.8h0m0.7-4.7h0m-2 13.2h0m0.3-8.2h0m36.4 21.8h0m-33.2-16.2h0m22.6 14.5h0m-21.2-42.5h0m-6.2 5.3h0m0.6-1.8h0m5.6 3.9h0m-6.6-10.3h0m4-14.9h0m4.7 40.9h0m-5.6-6h0m2.8 13.5h0m0.9-49.8h0m2.8 35.1h0m-4.8-16.3h0m29.9 36.3h0m-31.8-27.4h0m-0.7-32.1h0m-0.6 21.2h0m0.9 30.7h0m-1-22.5h0m4.2-4.9h0m37.5 33.8h0m-36.8-9.8h0m33.2-7.8h0m-16.3-6.5h0m6.8 34.1h0m-5.4-29.2h0m-23.9 4.7h0m25.3-10.1h0m-28.2-15.1h0m24.2 17.1h0m-19.4-29h0m21.1 17.6h0m-0.5 3.1h0"/>
<path stroke="#baef91" d="M288.8 80.9h0m20.4-1.5h0m-13.6-27.3h0m-4.4 4.5h0m14.1 32.1h0m-1.9-8.3h0m-7.4-14.1h0m9.8 7.6h0m2.1 0h0m-21.8 1.5h0m25.4 6h0m-16.6 22h0m-1-39.4h0m-5.1-1.2h0m21.9 23h0m-20.7-22.5h0m35.2 41h0m-32.4-49.4h0m0.7 41.9h0m-3.6-36.2h0m-3.5 29.1h0m11.5-7.5h0m-1.7-3.1h0m14.8 7.2h0m-21-2.1h0m6.1-35.7h0m-2.9 35.9h0m27.6 12.6h0m-7.2-8.7h0m-23.7-34.8h0m15.8 34.4h0m-11.7-23.3h0m15.2 22.2h0m-18.8-26.7h0m19.1 26.7h0m-15.2-22.5h0m-3.3-11.4h0m5.2 57.9h0m-5-47.8h0m-6.7 23.7h0m26.8-13.8h0m-2.5 14.4h0m-24.4-14.5h0m23.7 6.2h0m-15.1-9.4h0m4.2 36.1h0m12.3-30.6h0m-20.4 27.2h0m20.8-28.3h0m-2.6 4.7h0m-0.4 0.2h0m-13.1-19h0m-1.5 8.5h0m-0.5 1.1h0m27.2 49.1h0m-28.8-33.6h0m-1.9-12.9h0m1.6 16h0m1.2 0.2h0m-3.9-29.8h0m4.5 24.5h0m-6.4 25.4h0m0.6-9.6h0m2.5-28.4h0m8.1 24.4h0m-6.1 14.2h0m-1-14.5h0m18.5-12.6h0m3.9-6.2h0m-1.6 11.2h0m-21.6-2.9h0m19.4-0.2h0m4.6 15.2h0"/>
<path stroke="#c5e88a" d="M288 86.7h0m-1.9-32.7h0m27.8 35.4h0m-24.2-42.5h0m20 36.5h0m-2.7-8.3h0m14.3 14.2h0m-13.2-4.5h0m3.7 0h0m-8.3 1.5h0m1.2-7.9h0m12.9 13.8h0m-8.9-10.1h0m-17.9-25h0m1.4-0.4h0m5.1 41.8h0m18.4-12.8h0m6.3 25h0m-33-43.5h0m1.7 14.5h0m4.7-9.2h0m-3.2 26.4h0m3.4-19.6h0m13.4-5.9h0m-0.8 3.6h0m-16.9 16.6h0m-2.8-24.1h0m-0.7-0.9h0m25.1 16.5h0m9.1 20.6h0m-11.7-25.5h0m-14.8-16h0m-7.9 39.7h0m-2.4-30.6h0m25.6 1h0m-24-13.8h0m-2.2 5.3h0m24.3 11.9h0m-11.2-25.2h0m9.8 20.2h0m-18.5 5.7h0m6.6-20.1h0m-6.8 37h0m19.4-16.8h0m-15.6 16.3h0m1.5-26.4h0m14.2 7.8h0m-19.9-19.3h0"/>
<path stroke="#cfe183" d="M289.9 81.6h0m17.5-6.9h0m0.5 11.9h0m4.1-9.9h0m-26.1-19.2h0m-0.7-10h0m5.8 31.9h0m2.3-10.9h0m10.8 4h0m-10.1-24h0m-2.8 27.1h0m16.7 11.2h0m6.4 22.3h0m-30-51.7h0m12.8 0.3h0m17.2 27h0m-20.2 24.9h0m16-26.8h0m8.1 25.6h0m-26.5-49.1h0m20.3 14.5h0m10.6 26.4h0m-13.1-14.1h0m-4.2-8.5h0m5.1 10.4h0m1.8 12h0m-20.7-35.2h0m19.2 15.8h0m-0.7 2.6h0m8.6 25.6h0m-10.7-31.7h0m1.5 3.9h0m2.1 3.4h0m1.4 0.6h0m-17.4-15.9h0m-3.8 30.5h0m15.4-22h0m3-3.9h0m17.3 10.5h0m-36.1 0.6h0m20.6-4.5h0m2.4-3.6h0m-24.8 26.2h0m23.8-17.3h0m2.2 24.7h0m-17.2-14.9h0m-6.2-33h0m-7 42.8h0m7.3-9h0m20.2-23.6h0m-19.1-25.5h0m33.2 46.4h0m-12.9-18.6h0m-24.9 17.9h0m23.4-8.2h0m-19-2.6h0m1.8 2.5h0m-0.8-12.7h0m16.6 0.7h0m1.5 8.3h0m-1.6 2.6h0m-14.8 19.3h0m-9.7-27h0m25.2 11.2h0m-17.3 8.1h0m9.3-17.2h0m-12.9 8.5h0m3.2-40.1h0m-2 46.9h0m14.6-16.6h0m4.5 3.4h0m-18.1 21.6h0m34.2-13.7h0"/>
<path stroke="#dad97c" d="M301.3 107.5h0m10-32.6h0m0.4 12h0m-0.9 1h0m-10.4 20.1h0m9.3-20h0m-2.8-9h0m0.3-8.9h0m2.9 7.4h0m-3.7-4.7h0m5 14.8h0m-3.9-0.2h0m-19.7 7.3h0m23.1-11.3h0m-1.6-6.3h0m-2.7 4.4h0m2.2-1.7h0m-3.9-0.1h0m-2.5-22.5h0m-0.6 19.6h0m3.9-11.3h0m8.5 17.2h0m-5.1-6.4h0m36.4 23.2h0m-37.3-12.5h0m-3.6-17.8h0m1.9 16.6h0m-0.1-4.7h0m0.5 3.4h0"/>
<path stroke="#e4cf75" d="M306.2 73.9h0m1.5 9.5h0m-10-2.4h0m11.4 6.8h0m0.5-3.2h0m4.4 0.1h0m-4.8-9.3h0m-2.6 12.8h0m1.5-7.4h0m-12 20.1h0m10.8-18.5h0m1.1 31.7h0m-16.7-15.1h0m22.1-15.4h0m-5.9-2.7h0m-10.2 9.3h0m8.6-17.6h0m4.1 1.2h0m2.9 6.8h0m-3.4 1.5h0m-2.2-6.9h0m0.3 22.8h0m6.8-18.9h0m-13-22.5h0m10 18.6h0m-23.2 7.8h0m18.8 20.6h0m-3.7-28.4h0m-12.4 7.6h0m10.3 20.7h0m9.1-44.8h0m-6.2 29.3h0m-5.2 20.6h0m-10.5-0.5h0m9.8-7.3h0m-7.5 1h0m17.6 1.9h0"/>
<path stroke="#efc56d" d="M306.8 97.5h0m-2.6 5.3h0m-1 11.9h0m-8.1-7h0m2.7 1.5h0m2.9-15.9h0m-6.8-18.8h0m12.7 32.3h0m-9.2-24.9h0m-0.1 5.5h0m-3.1 8.7h0m-1.2-1.4h0m-5.3-15.3h0m9.2 29.2h0m-7.2-5.1h0m1-19.2h0m3 22.5h0m4.1-9h0m-4.6-3.6h0m-1.1 8.5h0m-0.5 3.8h0m5.9-0.9h0m0.9 1.2h0m-7.8-21.5h0m1.9-32h0m2.1 29.8h0m0.3 1.7h0m0.5 14.8h0m1.2 9.8h0m9.2-11.4h0m-2.9 13.7h0m-5.1-8.4h0m-7.7-25.7h0m21.1-0.6h0m-19.8 20.8h0m12.5-19h0m-4.2 22.4h0"/>
<path stroke="#faba65" d="M309.1 84.9h0m-12.5-7.4h0m1.6 22.2h0m-1-24.6h0m-5.5 12h0m9.5 22h0m-6.2-27.9h0m0.8 17.9h0m2-20.1h0m16.1-11.4h0m-8.1-6.7h0m-3.2 30.8h0m1.4-0.6h0m18.2-29.4h0m-4.4 0.8h0m-4.2-11.4h0m0.5 11.4h0m6.3 2.4h0m-25.8 26.2h0m0.8-11.9h0m-3.2 5.8h0m3.2-9.3h0m11.4 26.7h0m7.2-40.3h0m-22.3-7.1h0m4 25.5h0m2.4 26.9h0m20.1-42.3h0m-22.2 15.1h0m6 26h0m16.5-37.7h0m-21.5 18.3h0m2.2-36.3h0m0 57.5h0m-2.2 2.3h0m1.3-26h0m4.6 23.9h0m10.8-52.9h0m-17.7 36.1h0m8.6 14.9h0m6.4-51.3h0m-12.9 25.3h0m23-21.7h0"/>
<path stroke="#ffae5e" d="M333.4 94.6h0m261-27.8h0m-125 2.1h0m28.6 21.6h0m39 15.3h0m5.6-12.5h0m21.8-29.2h0m-49.6 17.3h0m-216.7 5.1h0m10.4 15h0m-19 4.3h0m1.6-10.5h0m13.7 6.1h0m-3.2-25.1h0m-12.3 24.7h0m12.6-5.3h0m-18.4-19.9h0m15.6 21.2h0m-1.7 4.2h0m-0.3-22.7h0m0.5 28h0m-2.3-18.9h0m5 2.7h0m-10.9 13.5h0m6.8-26.3h0m10.7 9.1h0m-16.5-11.2h0m4.9 23.6h0m7.6-22.3h0m1 6.4h0m12.7-26.7h0m-21.8 5.6h0m-0.9 40.6h0m7.8-13.3h0m-5.7 17.8h0m-3.1 0.6h0m21.6-49.4h0m-14.6 54.4h0m19.2-57.8h0m-12.9-1.8h0m-14.3 11.1h0m24-10.6h0m4.7-1.5h0m-27.3 0.7h0m43.7 14h0m1.2-6.9h0m1.8 24.3h0m-42.7-2.5h0m-3.2 25.5h0m4.7-7.6h0m-4.8 9.3h0m13.3-14.7h0m-11.2 6.5h0m-3.8-26.1h0m9.8 13.1h0m27.4 20h0m-10.7 11.6h0m-14.4-38.2h0m-7.1 6.5h0m18.9-39.3h0m-22.4 56.7h0m5.4 6.1h0m-4.7-0.9h0m7.7-8.4h0m-3.8 0.9h0m3.5-10.5h0m17.9-3h0"/>
<path stroke="#ffa256" d="M294.1 88h0m8.4 19.2h0m-3.2-23h0m-2-20.1h0m1.3 39.2h0m3.2 3.4h0m8.6-8.4h0m3-8.8h0m7.5 3.3h0m-14.7 14.4h0m-5.4-25.4h0m1.9 26.4h0m17.5-49.7h0m-20.7 29.1h0m17.3-19.8h0m-28.6 25.7h0m18.6-14.6h0m-12.4 15.8h0m23-43.8h0m-11.6 60.5h0m13.9-24.3h0m-24.5-28.3h0m22.5-8.5h0m4.1 52.8h0m0.2 5.9h0m-30.2 0h0m8.9-21.6h0m17.8-1.5h0m-2.2 0.7h0m-19.3 19.7h0m17.6 8h0m-7.8-45.5h0m-12.4 21h0m29-24.5h0m-20.5 15.8h0m-12.2 7h0m4.9 1.6h0m10.7 17.7h0m-10.2-45.8h0m5.4 32.8h0m5.6 19.5h0m2.4-4.6h0m-13.5-6.9h0m7.5 5.5h0m13 4.1h0m3.2-4.4h0m-6.8-39.1h0m-4.1 42.2h0m4.7-12.9h0m-13.7 9.4h0m-8.5-23.1h0m18.2 26.9h0m3.6-13.2h0m7-11.7h0m0 30.1h0m2.1-9.6h0m-22.8-17.4h0m-7.3-13.2h0m1.7 29.2h0m1.3-3.2h0m4.6 6.4h0m21.7-46.9h0m-16.8 31.9h0m-3.5 10.5h0m4.8-19.8h0m11.1 18.5h0m0.9 16.9h0m6.7-32.4h0m-8.6 28.7h0m-16.7-25.5h0m0.8 20.4h0m-2.5-27.9h0m18.4 33.9h0m-21.2-8.2h0m19.3-22.4h0m-23.6 13.3h0m29.3 1.8h0m2.9 7.9h0m-7.5 10.2h0m-15.4-27.9h0m17.1 12.6h0m-23.3-54.8h0m11.3 64.2h0m-0.1-7.6h0m13.1-4.3h0m-13.4-8.3h0m8.2-30.5h0m5.4 37.9h0m4.8 8h0m-2.5 3.5h0m-11.6-8.8h0m-10.3-20.2h0m8.5 9.8h0m-8.8 1.4h0m18.7 25h0m-1.3-53h0m-24.4 39.7h0m-1.6-31.3h0m18.7 24.9h0m18.5-4.5h0m-9.9 18.4h0m-22.3-32.6h0m9.8 30h0m-8.7-18h0m5.3-19.7h0m43 19.7h0m-47.1 1.7h0m1.8 4.1h0m16 13.2h0m7.8-4.5h0m-34.8-14.8h0m22.7 21.5h0m-1.1-32.1h0m7.7 13.9h0m1.8 18.2h0"/>
<path stroke="#ff954e" d="M324.2 92.8h0m-16.6-1.2h0m15 0.7h0m-6.3 10.3h0m4.5 0.2h0m-4.7-9.6h0m9-7.1h0m-1.5 20.1h0m-24.6-27.5h0m26.6 16.1h0m-28-7.5h0m23.7 1.2h0m-21-2.3h0m-14.1 18.9h0m6-28.6h0m32.5 29h0m-23.6 3.4h0m23.9 11h0m-26.2-24.3h0m40.4-21.3h0m-38.9 36.5h0m3.5-21.6h0m9.3-24.2h0m-1.2 21.7h0m5.3 25.2h0m-0.6-14.5h0m-15.1-33.9h0m19.5 28.5h0m0.5 21.8h0m1.5-24.2h0m-23.6-27.8h0m-8.4 18.8h0m31.7 32.4h0m-0.8-4h0m-23.3-17.9h0m21.5 17.5h0m-0.4 11.2h0m-0.8-6.7h0m3.8-22.9h0m-2 15h0m-14-15.2h0m15.3 19.7h0m-20.2-13.1h0m20.9 23.1h0m-1.7-22.4h0m7-9.8h0m-5 0.4h0m-14.5 26.6h0m11.7 3.6h0m0-13.9h0m-3.3-11.7h0m-29.3-0.9h0m16.8 16.7h0m-12.9-8h0m3.8-3.5h0m29.2 8.7h0m1.7 3.7h0m11.9-18.2h0m-19.4-4.8h0m0.4 35.7h0m-0.2-4.4h0m-14.3-29.7h0m-7.5 14.2h0m20.6 4.1h0m-3.3 3.3h0m-19.5-9.3h0m-3.3-5.1h0m30.6 18.4h0m-7.2-1.9h0m2.9-19.7h0m0.4-1.1h0m4.6 4.8h0m0.9-6.9h0m-1.4 28h0m-28.2-26.9h0m5.5 0.6h0m21.7 23h0m-20.5-35.9h0m18.4 34.5h0m-3-62.9h0m7.4 41.6h0m-2.9 28.9h0m-12.6-31.5h0m-11.8 16h0m25 15.5h0m-3.3 0.2h0m-2.5-70.1h0m-17.6 53.1h0m19.2 7.7h0m4.4-7.9h0m-0.5-12.5h0m1.7 18.1h0m1 8.7h0m-9.4 4.1h0m4 0.5h0m1.8-30.2h0m-24.7 17.5h0m20.2 6.3h0m6.9-24.5h0m-23.1 6.9h0m15.8 4.4h0m-15.8-7.9h0m-9.7 10h0m21.9-38h0m-3.3 44.5h0m10.5 0.8h0m-0.6-0.2h0m2.2 7.3h0m1.9 2.7h0m1.3 3h0m-17.1-28.6h0m6.1 20.1h0m5.3-9.6h0m0.2-41.2h0m-12 21.6h0m13.9 35.8h0m-32.9-34.6h0m30.1 7.8h0m-17.3 2.5h0m19 15.1h0m2.1-24.9h0m-13.3 23.7h0"/>
<path stroke="#ff8746" d="M311.7 99.1h0m-12.2 1.6h0m23.6-2.3h0m-2.1 16.8h0m-0.5-16.6h0m-28.7-11.4h0m30 8.6h0m-5.8 0.5h0m9.8-8.3h0m-7.5 10.8h0m-3.8-12.6h0m2.5 22.7h0m-0.8 2.8h0m-23.3-11.5h0m24.5 7h0m-21.7-14.7h0m14.9-11.6h0m-4.8 19.8h0m12.6 1.2h0m-24.1 3.5h0m17.8-13.4h0m7.1 14.8h0m24.6-47.5h0m-28.9 54.8h0m9.4 0.9h0m-24.2-32.8h0m3.2 25h0m-1.7-22.3h0m22.7 26.1h0m-28.7-4.6h0m28-3.2h0m13.3-17.4h0m-10.6 16.3h0m-31.2-22.5h0m9.3 6.5h0m-13 14h0m26.6 12.4h0m2.6-8.2h0m3.1-3.1h0m-9.4 4.3h0m7.5-13.8h0m0.1 28.2h0m-18.7-29.1h0m-3.7-14.1h0m22.5 23.5h0m-23.1-10.5h0m-11.2-10.6h0m21.5-3.1h0m33.4-18.3h0m-39.3 54.7h0m17.5-10.1h0m-15-19.2h0m35-7.4h0m-19.8 23.6h0m-14-14.5h0m5.5 15.2h0m3.3 4.5h0m4.7 11.6h0m-1.2 2.4h0m2.8-14.7h0m2.6 15h0m-24.3-11.9h0m-4.1-2.5h0m6.8-22.5h0m-1.2 14.1h0m11.1 24.8h0m1.8-58h0m-21.7 31h0m4.2-0.7h0m1.9 3.7h0m22.3 5h0m-5-49.2h0m3.3 54.8h0m-28.6-15.9h0m-1.4 10.7h0m27.5-5.1h0m2.2 4h0m-23.1-8.7h0m28.5-3.4h0m-30 20.3h0m24.2-12.5h0m0.7 22.7h0m3.9-1.7h0m0.1-9.4h0m-13.5-45.6h0m-13.3 34.3h0m41.7-9.4h0m-16.7 2.5h0m-24.7 16.4h0m19-16.2h0m2.6 19.9h0m-1.3-14.6h0m-21.4 0.9h0m1.6-22.4h0m-1.6 37.4h0m18.3 4h0"/>
<path stroke="#ff783e" d="M317.9 108.5h0m11-26.5h0m7.8-10.9h0m-18.1 46.6h0m17.4-38.6h0m-18.8 6.7h0m-21.2 10.4h0m13.3 0.4h0m8.8-8.6h0m2.4 17h0m0.8-49.9h0m0.9 29.8h0m-3.7 20h0m-1.4-3h0m1.9-10.4h0m-0.5 23.7h0m-3-57.1h0m-4.5 32h0m11.9 3.9h0m-8.6-37h0m12.3 63.7h0m-4.9-20.9h0m1.7-9.4h0m-4.9 27.4h0m-1.8 3.8h0m-1.8-31.2h0m2.9 8.8h0m0.8-3.8h0m0.5-34.1h0m-21 49.3h0m21-4.9h0m2.6 4.7h0m-2.7-8h0m0.3 6.8h0m18.7-11.3h0m-18.3 4.8h0m0.4 18.6h0m3.9 0.6h0m-4.5-63.2h0m-8.8-2.4h0m-5.9 45.9h0m-4.7-18.4h0m15.3 8.5h0m3.3 16.7h0m-14.3-24.1h0m19.7 25.3h0m-2-13.2h0m-6.9 20h0m20.6-30h0m-13.9 1.3h0m-2.3-33.1h0m0.1 63.4h0m3.2 1h0m-21.4-27.7h0m-0.6 7.7h0m17.2 20.6h0m0.4-54.2h0m-17.5 32.3h0m17.4-12.3h0m-0.2 11.7h0m-7.9-33.4h0m9.8 35.2h0m-20.1-18.4h0m18 9.6h0m1.9-3.5h0m15.5-29.6h0m2.2 22.7h0m-25.9 38h0m28.8-59.3h0m-15.1 44.1h0m-6.4 13.6h0m-5.1-9.6h0m11.8-1.4h0m-7.9 9.5h0m-18.9-11.6h0m22.7-18.1h0m1.7 0.4h0m-1.1 27.7h0m-2.7 7.6h0m-5.8-30.4h0m-15.8 18.7h0m22.5-42.6h0m-6.3 30.7h0m5.9 18.5h0m21.5-23.4h0m-19.8-3.5h0m-21.2-5.6h0m2.9 20.6h0m21.1-15.7h0m-3.9 25.1h0m1.5-7.1h0m6.5 13.8h0m-21-19h0m13.5 21.1h0m0.5 0h0"/>
<path stroke="#ff6936" d="M314.9 109.3h0m4.8-4.8h0m-5.1 4.5h0m8.5 12.4h0m-19.1-9.3h0m14.5-60.2h0m0 40.2h0m3.9-39.2h0m-3.4 56.2h0m2.3-3.5h0m-0.9-18.9h0m3.9 35.5h0m-8.4-62.6h0m-10.1 51.8h0m13.3 9.9h0m-20.5-31.4h0m22.2 18.7h0m-2.1-7.1h0m1-2.8h0m-16.3 1.5h0m22.7-12.4h0m-8 18.6h0m-1-18.2h0m-1-2.8h0m5.8 14h0m-1.6 6h0m6.5-19.9h0m-5.8 33.5h0m21.2-46.3h0m-34.9 40.3h0m15.4-13.1h0m-6.3 6.7h0m1.7-3.7h0m20.2-35.6h0m-18.8 26.8h0m20.8-37.3h0m-20.3 46.1h0m2.6-17.7h0m-2.6 29.7h0m-15-4.3h0m15.9-16.8h0m-18.4-12.1h0m12.2 29.9h0m5.4 10.2h0m-0.1-24.1h0m0.1 18.8h0m-2.7-62.8h0m-11.9 45h0m19.7 18.2h0m-11.3-55.3h0m1.4 52.3h0m0.2-19.7h0m3.5-2.5h0m-2.2 10.6h0m-3.7 15.2h0m-10.5-8.4h0m21.2-13.2h0m-16 7.7h0m14.5 2.8h0m0.4-1.3h0m-4 12.6h0m4.8-12.4h0m-2.1-1.2h0m-1.3-16.3h0m-2.2-0.1h0m-10.8 19.9h0m4.8 10.2h0m27.3-43.1h0m-11.5 49.7h0m-9.7-11.7h0m18.9-51.9h0m-28.8 47.3h0m12.1-0.4h0m-20.5 0.8h0m14.3-9.6h0m-18.9-15.9h0m25.3 8.9h0m0.2 8h0m-5.1-5.9h0m26.3-18.2h0m-24.7 17.4h0m2.2 12.3h0m3.2 2h0"/>
<path stroke="#ff5a2e" d="M318.5 118.2h0m0.7-12.6h0m-2.9 7.1h0m-17.2-24.4h0m23.7 1.4h0m7.3 7.2h0m-6.6-4.3h0m-0.6 7.7h0m-9.4-15.3h0m3.9 24.4h0m3.5 2.5h0m-4-14.4h0m12.8 1.3h0m-8.7-2.6h0m-6.9-10.4h0m9.4 21.3h0m-2.2-11.3h0m15.8-6.9h0m-15.1 13.4h0m-15.9 11.6h0m15.8-30.1h0m0.3 24.1h0m-3.5-1.3h0m8.9-19h0m-12.5-5.2h0m-1.8 28.1h0m4.7-3.2h0m-0.3-1.1h0m22.1-34.2h0m-23 15.2h0m-1.3 18.6h0m-10.4 3.4h0m17.4-2.5h0m-4.9-32.5h0m-0.9 18.2h0m8.1 18.4h0m-2.1-29.4h0m0.1 38.6h0m-24.3-9.4h0m23.2-9.5h0m-3.2 6.5h0m-0.6 7h0m-14.5-6.4h0m14.5-10.6h0m5.1 16.3h0m-0.7-30.2h0m-4 26.3h0m7.3 10h0m-3.8-12.4h0m0.5 12.4h0m-2.3-6.9h0m0.9-19.2h0m1.6 22.7h0m-0.1-14.4h0m-3.9-18.4h0m5.7 33.3h0m-6.1-40.3h0m4.8 20.9h0m-2.8-5.9h0m0.1-17.2h0m-0.6 30.9h0m-1.6 7h0m4.8-30.1h0m-4.7 8.4h0m8 15.8h0m-5.1 1.1h0m-2.3 6.7h0m-1.7-29.3h0m5.1 3.1h0m-2.9 10.7h0m21.4-17.1h0m-17.3 16h0m-0.2 2.9h0m1.4 11.8h0m-3.5-27.8h0m0.1 6.9h0m-0.8-13.3h0m0.6 36.4h0m2-38h0m-20.4 20.2h0m12.7 1.4h0m1.9 21.4h0m-0.2-16h0m-2.4 8.8h0m5.9-26.8h0m0.2 23.4h0m-0.4 5.9h0m2.1-25h0m-3.4 5.1h0m10.7 1.4h0m-10.2-17.3h0m-1.4 36h0m-5.2-22.2h0m24.7-3.8h0m-38.9-3.2h0m19.5 31.3h0m0.3-10.3h0m-0.6-18.4h0m6.1 24h0m-23.6-30.1h0m13.3-5.6h0m-12.9 32.8h0m21.8-1.3h0m-3.2-6.8h0m3.4-10.3h0m-1.1 18.7h0m-2.9-12.8h0m-13.2 14.2h0m13.9-33.2h0m1 39.7h0m-1.6-37.4h0m3.2 23.5h0m-3-21.8h0m-8.5 31.8h0m-3.9-1h0m16.3-21.9h0m-3.4 13.8h0m4.5-15.9h0m-0.2 30.5h0m-6.7-27.8h0m6.8 18.1h0m6.6 14.3h0m-14.4-41.3h0m-13 0.6h0m20.7-5.7h0m9 30.2h0m-13.9-30.5h0m5.2 35.4h0m-3-5h0m-2.3-14.3h0m7.1 3.7h0m-4.7 5.7h0m1.6 19.3h0m-9.7-16.6h0m6.8-12h0m-11.3-2.9h0m8.4 15h0m-1.9 10.7h0m-8.6-19.4h0m11.8 1.9h0m7.2-24.2h0m15.7 10.6h0m-18.2 7.6h0m0.4-16.9h0m-3.6 5.7h0m5.5 6.4h0m-1.5-0.8h0m-1.8 16h0m4.9-20.6h0m-8.7 12.6h0m-17.7 7h0m18.3 1.5h0m0.3 17.3h0m-2.4-24.3h0m5.7-10.8h0m-6.7 20.1h0m1.3-25.1h0m9.9 28.2h0m-3.6-8.8h0m6.5-16.1h0m-24.2 17.5h0m11.4-11.8h0m0 1.5h0m2.7 21.9h0m1.1 0.1h0m1.8 0.5h0m-2.7-34.7h0m3.6 26.3h0m-6.2 8.6h0m0.8 2.3h0m4.2-11.2h0m-20-2h0m5.8-2.7h0m14.4-12.4h0m17.5-5.9h0m-11.6 9.1h0m-10 27.9h0m2.8-16.6h0m-5.6 1.5h0m3.3-29.1h0m1.1 10.8h0m-21.8-4.2h0m6.9 29.4h0m8.5-26h0m7.8-1.3h0m-1.7 32.9h0m-1.6-12.3h0m-19.6-23.3h0m39.8 0.2h0m-17.3 5h0m3.2 8.5h0m-0.3 15h0m-2.5-26.5h0m1.7 8.6h0m1.6 8.3h0m0.3-19h0m-7.8 36.7h0m-4.7-6.8h0m1.4-4.8h0m-2.4-0.5h0m10.2-22.4h0m0.6 30.7h0m-10.3-1.4h0m10.6-24.4h0m-3.6-3.2h0m-11.1 9.1h0m16-12.6h0m-6 3.9h0m0.2 9.2h0m0.3-1.8h0m6.5-15.7h0m-22.7 32.5h0m13.7 12h0m2.7-32.3h0m5.6 25.4h0m0.6 0.7h0m-25.1-34.4h0m27.5 23.6h0m-0.1-22.7h0m-4.5 26.7h0m-31-4.2h0m14.8 0.8h0m16.8 13.1h0m2.1 0.3h0m-17.4-24.8h0m17.6 5.9h0m12.1-34.7h0m-22.7 39.2h0m27.5-30.2h0m-14.7 25.7h0m-3.1 11.2h0m-4.3-11.6h0m-1.5 15.7h0m0.1-14.7h0m2.2-17.8h0m-5.4 23.4h0m3.2 8h0m7.4-0.2h0m-1.6-9h0m-7.4 10h0m11.9 3.2h0m-13.8-13.6h0m4.8 10h0m3.8-25.2h0m-15.7-8h0m8.6 36.4h0m2.3 4.3h0m5.3-8.1h0"/>
<path stroke="#ff4a25" d="M319.7 105.4h0m0.7-15.8h0m0.6 8.2h0m1-16.1h0m-28.8 18.8h0m24.8-3.2h0m3.7-7.9h0m-15.3 6.9h0m17.1 20h0m-2.3-6.9h0m-0.9-2.5h0m7.2 9.7h0m-3.3-8.8h0m-9.8-20.2h0m8.1 33.2h0m-15.6-19.2h0m13.2-2.9h0m-13.7 2.1h0m16-21.6h0m3.5 17.9h0m-7.2 2.6h0m-1.6 8.1h0m10.5-2.1h0m-10.7 13.6h0m13-41.9h0m-7.4 43.9h0m-3.3-11.5h0m-1.4-5.6h0m5.8-23.5h0m-4.7 21.4h0m-2.9 14.7h0m-0.7-30.9h0m4.5 3.4h0m-3-14h0m4.1 37.7h0m3.1-14h0m-2.1 14.7h0m4.7 10.8h0m-11.5-42.5h0m9.8 18.3h0m-15.3-14h0m13.1-2.9h0m-5.7 22.1h0m9.7 9.8h0m-6.2 7.1h0m-0.6-6.5h0m5.3-17.9h0m-6.8 20h0m-5.4-2.2h0m5.3-9.3h0m3.2-3.2h0m0.1 8.1h0m-2.4-31.7h0m-20.3 27.7h0m25.8-21.3h0m-4.1 23.7h0m-0.3-12.8h0m-0.2-32.7h0m-11.4 43.2h0m3.9-13.3h0m15.2 20.5h0m-14.3-1.4h0m8.8-21.3h0m-15.4-9.8h0m6.4-10.8h0m-0.9-11.3h0m3.1-1.3h0m4.4 38.3h0m-4.8 13.1h0m3.2 6.6h0m-2.2-26.8h0m-7 24.3h0m16-64.8h0m-2.3 67.8h0m-4.9-52.9h0m-17.7 39.6h0m22.7 12.2h0m-1.5-46.3h0m3.3 49.2h0m-1.3-44.4h0m-3.7 3.9h0m-5.2 5.1h0m10.6-8.5h0m-11.2 35.1h0m5.8-56.5h0m-0.9 60.2h0m-2.1-60.7h0m1.6 12h0m-22.7 41.6h0m26.1 7.7h0m-9.4-2.4h0m-11.1-2.9h0m14.9-19.7h0m2.8-6.9h0m-0.4 26h0m4.1 5.2h0m18.8-55.1h0m-27.3-2h0m6.8 57.9h0m-20.1-11.1h0m9.8-9.3h0m10.3-5.9h0m-22 9.3h0m24.7-12.1h0m2 20.5h0m-10.9-52.9h0m1.6 26.9h0m-9.8 20.3h0m9.4 10h0m-9.4 4.9h0m15.7-7.1h0m-1.3-9.2h0m1.8-48h0m0.1 32h0m-0.8 32.6h0m-6.4-18.6h0m0.9 4.3h0m6.2 6.8h0m-5.9 10.8h0m8.2-31.1h0m-5.3 9.1h0m1.6 16.5h0m-6.3 2.4h0m12.7-21.7h0m-14.7-9.2h0m7.9-37.4h0m4.1 29h0m-25.6 22.6h0m39.4-11h0m-22.9 31.1h0m6.1-71.3h0m-0.8 19.1h0m17.3 7.9h0m-12.4 24.4h0m-3-49.2h0m13.2 12.5h0m-13 19.7h0m1.3 10.1h0m0-22.9h0m-13 47.3h0m6.3-12.2h0m2.3-41.4h0m1.6 33.7h0m-8.9-35.3h0m4 60.1h0m12.4-51.2h0m-10.8 30.6h0m1.1 8.8h0m-22.3-6.3h0m27.9 7.1h0m-4.2-40.7h0m-2 42.1h0m6.3-0.9h0m-6.6-8.1h0m-2.5-12.5h0m5.5 28.9h0m2.6-36.5h0m-3 9.5h0m-3.2-26.4h0m-12.7 36.2h0m21.6 18.4h0m-6.4-10.8h0m-1-27.6h0m5.4-27.6h0m-5.6 64.3h0m-4-5.2h0m-0.5-61h0m12.2 28h0m15.5-2.7h0m-20.1 19.4h0m-0.1-11.7h0m-5 25.4h0m3.5-30.3h0m-2.5 11.9h0m1.1-18.9h0m3.9 40.9h0m-2.6-35.5h0m-3.4 7.7h0m2.5-0.7h0m-1.9 21.3h0m3.8-18.9h0m-8.2-14h0m6.7 2.6h0m-1.1 45h0m-4.6-25.7h0m3.4 5.7h0m0.7-10.7h0m1.3-12.6h0m-5.3 5.1h0m3.9 18.5h0m-2.2 17.7h0m0.9-45.6h0m4.7 44h0m0.9-19h0m0.1 5h0m-4.6-35h0m3.5 8.2h0m-3.5 3.7h0m2.8 12.1h0m3 5.7h0m-7-14.4h0m5.4 4h0m-3.6 4.1h0m-13 18.7h0m35.2-45.8h0m-21.2 47.8h0m-2.3-23h0m-21.4 11.8h0m18.8 7.9h0m-14.2-25.8h0m23.6 21.8h0m2-2.3h0m-9.5-20.4h0m6.8 38.6h0m4-53.5h0m-5.9 25h0m3.8-14.2h0m-24.1 21.5h0m14.6 21.2h0m4.4-2.9h0m2-41.4h0m4.9-2.2h0m-17.5 39.3h0m10.4-38h0m-0.6 40.4h0m-4.9-0.4h0m-1.4-37.3h0m15.3-24.1h0m-25.4 49.3h0m22.3 15.4h0m-10.1-34.7h0m1.5-8.3h0m10.7 30.4h0m-8.5-12h0m4.4 14.5h0m-23.8-17.8h0m22.7-34h0m1.1 24.3h0m-5.4 26.4h0m2.2-20.8h0m-13.3 18.4h0m14.6-26.9h0m-5 4.5h0m-2.6 34.9h0m5.1-4h0m1-38.8h0m4.1 8.7h0m1.9 15.9h0m-7.8-11.5h0m6-2.1h0m0.1-21.2h0m-7.3 48h0m8.6-54.1h0m-4.5 11.7h0m-2.8-5.4h0m0.2 26.5h0m6.1-15.2h0m-3.9-3.8h0m-3.1 17.3h0m5.5 21h0m-1.2-9.9h0m-4-3.9h0m-22.4-2h0m26.7-19.5h0m18.7 21.2h0m-17.6-7.8h0m-6.2-24.5h0m6.8 24h0m-7.5-4.3h0m5.4 16.1h0m-2-50.3h0m6.7 60.6h0"/>
<path stroke="#ff3a1d" d="M322.5 111.1h0m-7.4-5.2h0m2.3-0.2h0m3.8-23h0m0.6-8.8h0m4 13.3h0m-0.1 14.6h0m-2.1-26.2h0m1.8 15.3h0m-1.5 5.1h0m-8.4-24.5h0m7.3 19.8h0m-8.8-8.7h0m-0.8-14.1h0m10.1 4.1h0m-2.3 3.4h0m-4.4 24.1h0m9.3-53.5h0m-10 39.8h0m-13.7 1.4h0m15.5-36.4h0m0 60.1h0m0.8-28.5h0m-0.1 11.8h0m0.3 10.2h0m-5.2 8h0m1.1-18.6h0m4.5 12.2h0m4.7 3.9h0m-3.9-9.6h0m-4.4-50.4h0m3.7 54.8h0m5.3-17.3h0m-20.3 23.4h0m16.8-30.4h0m-2.8 24.7h0m-6-4.3h0m5.6 0.9h0m4.4-2.1h0m4.4 1.3h0m-5.7-3.6h0m2.5 9h0m-1-30.5h0m-0.4 8.6h0m-6.9 13.7h0m10.8-17.1h0m-5.3-4.1h0m1.6-0.1h0m2.1 41.3h0m-1.7 3.4h0m-7.9-25.3h0m10 15.6h0m-8.8-33.7h0m6 15.4h0m3.6-13.8h0m-2.5 8.9h0m2.9 16.1h0m-6.4-51.8h0m-0.7 65.6h0m4.8-33.3h0m-0.8-12.1h0m5.9 8h0m-2 16.2h0m-9.8 18.4h0m3.2-14.2h0m-2 3.2h0m-2.6-56.8h0m10.3 32.8h0m-2.4 17.8h0m-0.8-12.4h0m-0.6 5h0m6.7 16.2h0m-8.8-17.2h0m-0.4 15.4h0m8.9-36.8h0m-3.9 34.3h0m-8.5-14h0m12.1-3.8h0m-7.8 18.2h0m4-56.3h0m-6.9 59.8h0m-2.5-2.7h0m3-7.8h0m3.1 6.8h0m0.8-6.4h0m0-3.2h0m-2.1-6.7h0m-1.5 15.3h0m8.5-43.3h0m16.7 27h0m-26.4 11.8h0m0.4-3.4h0m3.4 16.9h0m2.3-0.4h0m-8.8-23.2h0m0 9.8h0m12.5 11.8h0m-5.3 3.9h0m3.2-33.9h0m-8.5-13.6h0m14.2 4.4h0m-12.3 26.2h0m1 5.6h0m0.3 2.5h0m9.7 4.2h0m-8.2 6.7h0m4.9 2.1h0m-9.2-52.7h0m4.4 39.7h0m-3.1-1.6h0m1.7-12.7h0m3.8-29.8h0m2.7-9.8h0m-7.5 58h0m0.7-18h0m0.4 8.9h0m-2.9-35.3h0m7 31.5h0m0 7.6h0m-4.7-21.8h0m11.3 2.1h0m-9.2 10.7h0m-2.8 2.4h0m-0.7-43.6h0m0.7 34.2h0m3.9-2.9h0m4.7-7.8h0m-3 43.4h0m-0.6-5.5h0m-3.6-34.1h0m5.7 40.4h0m-2.4-21.8h0m-9.4 4.2h0m2.4-17h0m-1.8 32h0m4.8-31.6h0m4.7 12.9h0m1-10.7h0m-6.6 18.5h0m0-14.3h0m1.5-20h0m10.5-2.8h0m-4.2 31.9h0m-9.1-25.5h0m2 40h0m1.2-42.6h0m-2.9 37.2h0m5.7-37.9h0m-1.6 23.9h0m2.3-20.2h0m-5.3 43.8h0m5.8-12.6h0m-2.7 10.9h0m1.6-18.6h0m4.2-16h0m-8-7.3h0m-2.9-2h0m-0.5 35.2h0m7.4-2.6h0m-1.6-15.8h0m-7.7 23.7h0m4.5-11.8h0m8.4-29.8h0m3.1 34.1h0m-7.9-21.3h0m-0.4 2h0m8.1-8.3h0m-4.4-4.9h0m-10.7 38.6h0m10.8-31.8h0m-3.7-5.5h0m9 28.2h0m-14.4 8.2h0m4.7-2.7h0m1.2-34.6h0m-8.4 32.7h0m8-11.2h0m0.4-6.1h0m-2.7-15.9h0m2.9 32.8h0m-4.2 5h0m-2.1-30.3h0m1.6 29h0m-1.8-8.5h0m0.6 14.6h0m1.8-40.8h0m1.6 37.2h0m3-24.8h0m-3.4-1.2h0m-21.4 3.1h0m25.4 10h0m-5.2 6.5h0m-3.8 11.4h0m5.9-50.3h0m-0.3 7.7h0m2.4-2.7h0m-4.8 11.2h0m-3.9 17.7h0m3.7 14.6h0m3.2-67.8h0m-4.6 26.8h0m1.2 26.3h0m0.7 14.1h0m-0.9-50h0m-1.9 35.5h0m3.9 13.8h0m1.8-3.1h0m8.9-3.5h0m-18.1-35.9h0m11.8 9.2h0m1.8-13.3h0m-9.1 28.9h0m8.9-18.2h0m-0.2 15.6h0m0 10.1h0m0.6-10.6h0m-8.5-18.8h0m8.3 10.3h0m-11 25.8h0m0.6-7.7h0m5.9-14h0m2.6 12h0m-8.7 8.7h0m5 4.9h0m4.9-35.9h0m-4.2 29.7h0m0.3-37.6h0m-1.6 4.8h0m1.6 33.3h0m-0.3-40.4h0m0.2 42.5h0m2.8-50.3h0m-5 42.1h0m0.2-25.9h0m10.2 44.5h0m-7-32.3h0m0.5 10.2h0m-2.2 16.7h0m1.1 2.5h0m-5.7-25.7h0m5.5-37.9h0m1.6 47.3h0m-1.3-34.3h0m0.1 43.5h0m-4.2 0.3h0m3.5-57.3h0m3.8 46.2h0m3.7-28.7h0m-23 7.9h0m14.1 10.8h0m1.4 22.8h0m-3.5-13.2h0m2 16.1h0m4-20.6h0m-1.1-19.5h0m1.1 27.6h0m-3.2-12.1h0m-4.1-0.5h0m0.7 20.4h0m-0.4-59.2h0m4.4 40.5h0"/>
<path stroke="#ff2a15" d="M319.1 93.2h0m4.6 27.1h0m0.3-61h0m-3.3 31.8h0m-2.4-10.2h0m6.8 1.1h0m-0.4 35.2h0m-5.5-17.3h0m-0.4 12h0m0.5 4.9h0m6.5-37.3h0m-6.9-8.1h0m9.7 15.6h0m-12 21.4h0m-1.9-18.7h0m6.9 4.9h0m-1.2 1.7h0m0.7 20.3h0m5.4-22.9h0m-4.6-12.8h0m3.1 5.8h0m-3.2 2.2h0m-0.5 12.2h0m-3-20.1h0m-3.7-21.8h0m5.9 62.9h0m-16.6-16.3h0m17.6-9h0m-15.2 16.8h0m11.6-6.1h0m1.6 2.5h0m0.9 6.6h0m-8.6-51.1h0m21.3 0.9h0m-20.9-11.5h0m14.2 42.2h0m-4.5-13.8h0m-2.9 38.3h0m11.5-14.5h0m-13.8 1h0m6.2-11.9h0m-12.1-1.2h0m8.3-19.1h0m0.9 23.6h0m2.1 3.5h0m-0.7 11.7h0m0.3-28.9h0m-3.2 18.1h0m4.9 9.1h0m4.1-2h0m-2.1 2h0m-3.3 6.4h0m2.6-20.5h0m-6 3.1h0m-1.3-19.6h0m-4.3 21.2h0m10.4 13h0m-5.9-39.4h0m-0.6 38.6h0m11.2-62.5h0m0.9 28.3h0m-14.7 19.8h0m2-44.4h0m4 43.7h0m-1.8-14.5h0m6.1-7.8h0m-6.7-25.8h0m6.2 24.5h0m-13.3 36.2h0m1.2-18.6h0m29-0.1h0m-16.5-4.5h0m-6.1 19.7h0m2.7 7.8h0m-7.6-17.9h0m5.3 14.7h0m0.8-18.1h0m3.5-9.8h0m-3.3 16.1h0m3.8 0.6h0m2-18.8h0m-5.3 27.7h0m-0.1-33.9h0m4.2 11.8h0m-1.9 12.6h0m-3.2-12.1h0m-4.2 29.5h0m-0.8-29.2h0m6.7 22.8h0m2-8.7h0m0 3.5h0m-2.1-13.6h0m2.1-22.7h0m-3.9 39.1h0m9.8-22.2h0m-5.8-13.3h0m2.9 27.5h0m-7 14h0m0-8.2h0m0.9-1.2h0m0.9-20.1h0m-4.5-1.2h0m-1 16.9h0m12.4 0.9h0m-4.9-4h0m-8.3 12.6h0m2.7-24h0m5-4.9h0m-9.4 24.8h0m4.9-16h0m-1.4 22h0m1.6-3.4h0m-1.6 3.3h0m6.9-41.6h0m-5.7 18.4h0m2.3 17.7h0m-5 11.7h0m2.3-52.5h0m10.7 28.5h0m-4.6-2.8h0m-4.7 15.7h0m4.9 0.9h0m1.6-15.8h0m2.1-12.4h0m1 2.2h0m-15.1-0.3h0m9.4-16.5h0m-6.5 2.7h0m6.2 16.2h0m-0.7 19.9h0m-7.4-9.3h0m14.3 11h0m-9.1-15.5h0m-0.7 3.9h0m4.8-29.7h0m-6.9 34.6h0m5.1 1.8h0m0.1-2.6h0m-7.8-1.4h0m4.3-8.8h0m3-18.3h0m-3.1 48.7h0m-8.1-49.5h0m-2.8 43.4h0m11.7-12.9h0m6.6-12.7h0m-1.2 12.7h0m-6.8 5h0m7.4-27.8h0m-9.5 28.3h0m-5.9-21.3h0m2.8 24.8h0m9.3-48.3h0m5.3 45.6h0m-6.1-33.5h0m-8.1 15.5h0m7.3-4.1h0m-2.4-26.7h0m-1.5 10.2h0m10.2 1.8h0m-4.8 12h0m0.1-6.1h0m5.1 6.7h0m-6 33.4h0m-3.7-70.9h0m-2.3 44h0m2.7 8.2h0m-6.1-44.7h0m3.9 12.1h0m10.7 14.6h0m-4.3 8.1h0m10.5-19.7h0m-13.2 39.8h0m-3.3-53.4h0m-2 19.1h0m1.7 9.9h0m1.9 34.3h0m5-7.7h0m-6-13.1h0m6 19h0m-7.8-42.6h0m8.7 4.4h0m-6.1 32.9h0m1.7-16.9h0m2.4-24.8h0m3.4 22.7h0m-1.5 5.7h0m-10.3 12.1h0m3.5-33.8h0m7 35h0m-1.6 6.5h0m-0.6-42.1h0m4 21.4h0m-2.8-14.2h0m-4.1 16.6h0m3.6-18.8h0m-2.9 9.7h0m-1.6-15.8h0m-2.4-0.4h0m15.2 16.2h0m-9.1-11h0m-3.2-2.7h0m1.7 23.3h0m1.9-33.6h0m-5.6 11.7h0m8.8 32.2h0m-4.2-24.1h0m-19.2 6h0m23-6.8h0m-3.4 4.8h0m2.7-8.8h0m0.4 26.8h0m0.2-22.1h0m-10.9 29.6h0m5.5-17.5h0m3.5-21.6h0m-1.5 14.9h0m5.5 15h0m-9-23.1h0m3.8 22.3h0m-4.3 9.8h0m10.3-19.4h0m-18.3 12h0m15.7-32.4h0m-6.7-10h0m0.7 9.6h0m1.5-15h0m-7.5 47.8h0m8.3-3.4h0m-0.6-23.5h0m1.4-22.4h0m2.6 40.7h0m-3.4-18.9h0m0.5 10.6h0m1.8 15.5h0m-1.9 0.8h0m-7-0.8h0m11.4-7.4h0m0.1-13.7h0m-2.6-8.9h0m-2.3 0.9h0m-4.8 14.5h0m6.6 13.9h0m-2.5-28.2h0m4.5 3.7h0m-7.6 26.6h0m6.7-7.1h0m-4-25.6h0m3.5 28.8h0m-3.8-8.5h0m0.9 7.3h0m4.3-18.1h0"/>
<path stroke="#ff190d" d="M316.1 80.4h0m-5.9 33h0m10.5-39.1h0m3.2 43.6h0m-0.1-44.3h0m-8.3 6.2h0m6.1-29.6h0m-9.3 66h0m3-12.6h0m0.9 2.1h0m6.9-28.8h0m-0.8 2.5h0m-3 18.4h0m0.1 6.1h0m5.2-16.2h0m-0.9 27.8h0m-5.2-32.7h0m3.1 2.6h0m5.4-37.6h0m-9.2 3.4h0m-3.3 58.4h0m8.2-18.5h0m3.1 24.8h0m-4.1-9.1h0m2.2-25.2h0m-4.1 31.2h0m5.1-12h0m-2.2 0.7h0m-2.9 7.1h0m1.4-19.6h0m-6.9 13h0m9.6 8h0m-3.3-14h0m2 7.6h0m-7.1-26.3h0m8.7 3.4h0m-3 24.7h0m5.2-5.8h0m0.9-3.9h0m-12.4 5.5h0m0.5-6.6h0m5.8-47.8h0m6.1 72.7h0m-9.1-32.9h0m-2.6 4.5h0m4.7 8.7h0m5.3-17.9h0m-18.2 17.6h0m15.3-29.1h0m-2.9 6.7h0m8.1-7.6h0m-2.6 5.1h0m-3.7 17.6h0m-8.1-24.8h0m1.3 48.9h0m3.3-57.8h0m6.8 42.6h0m-21.7 12.3h0m30.9-43.4h0m-16.5 4.6h0m-1.5 10.7h0m-1.9-37.4h0m8 44h0m-1.7-19.1h0m-0.5-5.4h0m1.7 17.3h0m2.8 21.5h0m-10.5-4.5h0m3.7-9.9h0m2.4 2.4h0m0.3 7.4h0m-7.5-41.3h0m6.1 49.4h0m-0.6-27.8h0m5.5 1.4h0m0.4 28.5h0m-5.4-3.7h0m10.7-18.8h0m-14.2-0.6h0m0.8 28.3h0m11-30.2h0m-6.4-5.2h0m-3.4 25.3h0m6.9-10.3h0m-4 17h0m-2.8-45.5h0m4 22.8h0m-1.2 0.2h0m-3.6 15.1h0m8.6 3.5h0m-9.4-23.4h0m5.2-36.3h0m0.6 29.9h0m-0.1 6.1h0m-2.2-6.2h0m1.5 8.4h0m-0.9 23.3h0m-1.4-21.9h0m1.6 6.6h0m-4.6 21.5h0m9.5-37.7h0m-9.4 22.8h0m5.3 13.2h0m-0.4-33.2h0m2.7 35.1h0m-4.9-39.2h0m2 32.6h0m-1.2-54.7h0m-3.8 42h0m-2.2 13.5h0m2.9-39.3h0m4.6 7.2h0m2 35.9h0m-2.1-4.8h0m-4.6-57.1h0m4.4 37.5h0m9.8-16h0m-4.9 35.9h0m-0.4-2.7h0m-2.2-21.1h0m-4.8 2.8h0m-0.6 26.1h0m4.3-25.1h0m1.5 3h0m2.7 6.2h0m3.4 17.4h0m-10.6-41.4h0m9 26.9h0m0.7-36.3h0m-13.7 49.7h0m5.8-22h0m-2.1-6.7h0m-0.1 6.2h0m-2.4-25.8h0m3.4 7.8h0m4.7 34.4h0m-13.3-27.9h0m13.7 31.4h0m-1.4-41.4h0m13.6 14h0m-9.9 2.1h0m-12.6-8.8h0m1.7-4.6h0m1.7 34.7h0m3.8-47.9h0m-1.5 25.8h0m2.3-31h0m3.6 41.7h0m-7.2-21.9h0m-2.7 37h0m3.7 2.8h0m-7.9-40.1h0m9.8-1.5h0m3.7 17.6h0m-9.2-18.2h0m4.2 21.1h0m4.6-18.2h0m-2.2 24.7h0m-0.8-4.3h0m2.2-22.2h0m-10.1 34.5h0m5-25.1h0m-0.4-4.5h0m8.6 7.9h0m-6.9 3.3h0m4.8-2.7h0m-6.4-19.8h0m7.8 7.7h0m-17.4 6.3h0m11.2 4.7h0m-3.5 7.8h0m2.7 21.8h0m-6.3-30.8h0m9.1-17.1h0m-1.8 13.7h0m1.7-6.6h0m-11.5 26h0m12.5-18h0m-3.6-9.8h0m22 4.1h0m-25.3-22.9h0m5.7 22.9h0m-1.2 16.2h0m3 17.5h0m-8.5-19.9h0m1.9-41h0m0.7 33.5h0m1 18.1h0m4 12.4h0m-6.9-25.1h0m23.6 4h0m-17.8-42.3h0m2.7 7.3h0m-0.5 38.3h0m-1.7-18.5h0m-3.7-3.6h0m4.1 26.8h0m10.1 10.2h0m-10.7-28.6h0m7.3-8.3h0m-11.9 38.3h0m-16.9-4.6h0m24.3 0.5h0m0.6-36.2h0m-9.4-15h0m4.8 2.1h0m2.7 2.3h0m-1.7 24.3h0m-21.2 3.4h0m18.7-7h0m6.8 22.9h0m-9.4 6.3h0m2.4-3.6h0m-12.4-27.1h0m12.8-15.9h0m2.6 9.9h0m1.5 16.2h0m-5.6-29.4h0m-1.7-10.7h0m2 40.1h0"/>
<path stroke="#ff0804" d="M319.7 66.5h0m-10.7 20.1h0m8.4 23.6h0m1.1-34h0m1.9 8.7h0m-4.4 11.5h0m-7 4.3h0m15.8-2.1h0m-5.2 13.4h0m3.5-13.6h0m-7.3-22.2h0m9.1-2h0m-2.8 9h0m-1.9 10.7h0m-1.8-41.6h0m2.7 27h0m0.6 2.5h0m-18.4 7.8h0m17.5-3.4h0m-3.3-13h0m8.5 7.1h0m-6.2 31.2h0m-7.5 2.2h0m9.1-33.1h0m1.8 19.9h0m6.1-6.8h0m-8.5-39.2h0m4.9 45.8h0m-7.1-47.4h0m5.6 25h0m-6.7 1.8h0m2.5 34.7h0m15.1-2h0m0.4 0.3h0m-12.5 0h0m19.7-42.4h0m242.9 30.3h0m-52.9 51h0m19-52.1h0m-233.1-8.9h0m6.9 26.5h0m-5.6-16.2h0m-3.2-2.3h0m-4.9-9.8h0m3.1 28.1h0m1.8-33.5h0m-1.1 20.5h0m4.3-43.2h0m-3.2 49.9h0m9.2 3.2h0m-5.6-39.2h0m-1.7 0.7h0m-4.1 0.9h0m4.3 14h0m2.4-40.8h0m1.9 23.6h0m-7.9 4.1h0m6.8 36.6h0m5 5.3h0m-4.6-27.2h0m-2.8 26.5h0m4.1-2.8h0m-6.1-66.7h0m5.3 57.5h0m-4.2-21.4h0m-2.2 21.3h0m-1-2h0m8.4-26.8h0m-6.7 17.9h0m3.8 2.8h0m-3.7 1.9h0m1.1-17.9h0m3.7 18.8h0m7.4-28.9h0m-8.2 15.9h0m-4.3 23.5h0m12.1-21.6h0m-10.8-3h0m-2.3-31.5h0m11.9 55.5h0m-16.5-15.3h0m9.1-11.7h0m-3.8-34.7h0m2.6 28.7h0m4.2 27.9h0m19.9-31.8h0m-21.9-8.9h0m-8.3 33.8h0m2-19.2h0m14.5 1.2h0m-15.5 24.2h0m6.1 1.5h0m-0.7-42.6h0m-5.1 11.2h0m10.3 27.5h0m5.6-27.2h0m-12.7-14.3h0m8.8 4.8h0m-7.9 34.7h0m1 12.5h0m2.1-25.6h0m1.4 8h0m-7 19.9h0m12.5-1.4h0m-9.5-54.5h0m4.5 20.9h0m-6.4 34.7h0m9.1-38.1h0m1.5 11.7h0m-8.4 23.4h0m-6.3-2h0m-9.5-26.7h0m27 35.8h0m-10.4-44.5h0m4.2-7.2h0m-8.9 42.9h0m9.3 7.9h0m-9-13.6h0m3.4-51.3h0m-10.5 35.2h0m12.1-14.9h0m0.7-15.5h0m1.7 42.6h0m0 9.7h0m2.2-28.3h0m0.6-6h0m4.2 14.8h0m-13.1-16.2h0m5.5 12.1h0m4.4 4h0m-0.9 2h0m1-27.2h0m-5.4 25.6h0m-1.6 26.6h0m5.4-40.7h0m-8.1-1.1h0m-2 30.7h0m9.6-30.2h0m-10 11.3h0m3.7-20h0m1.6 31.1h0m5.2 20.5h0m-8.9-43.9h0m10.7-9h0m-10.6 22.8h0m2.9-35.1h0m-2.4 20.9h0m6.4-4.3h0m-7.2 26.4h0m-4.8 9.2h0m9.5 11.4h0m-0.5-39.4h0m3.3 14.4h0m4.1-43.9h0m-2.3 26.4h0m-3.2 13.8h0m5.7-34h0m-12.7 25.8h0m7.8 9.4h0m-4.7 11.4h0m1.4 9.8h0m-5.3-20.5h0m9.1-8.8h0m-6.3 18.4h0m0.2 1.9h0m4.2 13.2h0m-2.2-69.7h0m-2.2 39.8h0m4.2 15h0m-0.5-2.5h0m0.5 5.8h0m-8-16.2h0m7.5-12.5h0m-2.4-13.6h0m-0.1 25.9h0m5.6 11.5h0m-7.1-23.5h0m4.8 39.5h0m0.6-6.7h0m2.9-26.9h0m-1-2.5h0m-6.3-33.1h0m0.4 11.3h0m2 22.9h0m-4.1-16.4h0m3.9 15.9h0m0.7 33.5h0m1.5-38.9h0m-0.5 30.4h0m-0.1 3.4h0m1.9-58.9h0m-8.1-2.7h0m0.7 41.4h0m-2.6-16.6h0m11.2 39.2h0m-0.8 0.4h0"/>
</g></g>
<g stroke="#6e6e6e" stroke-width="1"><path d="M789.5 159V652M825.5 159V652"/></g>
<g clip-path="url(#cr)"><g fill="none" stroke-width="2.0" stroke-linecap="round">
<path stroke="#7a08ff" d="M851.2 483.2h0m-32.4 14.2h0m1.2 14h0m34.8-23.3h0m9.9 20.9h0m-27.4-5.7h0m-2.6 15h0m36.3-33.9h0m-50 19.6h0m4.8-8.2h0m-16.3 8.6h0m42.7-2.4h0m-25.2-19.9h0m-11.6 20.7h0m15.1-9.9h0m20.6-8.6h0m7.1-0.4h0m-12.2 36.7h0m5.3-44.9h0m-27.7 34.5h0m-5.7-4h0m28.6-18.9h0m-44.9-14.3h0m50.4 10.7h0m-14.9-3.4h0m8.9 16.2h0m-0.2-13.6h0m-39.2 26.8h0m20.6-10.9h0m-12.7-20.4h0m31.7 13.8h0m-13.7-9.7h0m3 5.9h0m-9.1 0.1h0m24.1-11.9h0m8.1 13.3h0m1.8 7.3h0m4.7-13.7h0m-2.2 1h0m-3 10.9h0m7.4 0.2h0m-9.9-2.2h0m-19 5.9h0m-16.5-7.7h0m34.3 8h0m-31.1-10.1h0m40 4.3h0m-31.8 21h0m10.1-26.4h0m21.7-5.1h0m-17.1 20.7h0m-42.7-24h0m7.3 4.7h0m50.9 6.7h0m-14.8 19.4h0m-3.7-23.6h0m-13.7 8.1h0m-19.6 12.7h0m11.6 14.8h0m-14.7-20h0m54.1-13.7h0m-38.2-1h0m27.8-5h0m-25.8 0.9h0m0.4 25.2h0m28.2-13.1h0m-32.2-21.7h0"/>
<path stroke="#7019ff" d="M862.5 500.2h0m-39.9-21.7h0m36 4.3h0m-30.6 18.1h0m-16.1-14.8h0m0.8-10.5h0m32.5 16h0m0.3 0.8h0m-9.6-3.6h0m13.1-11.7h0m-1.2 14.8h0m19.8 8.3h0m-17.2-17.9h0m-31.6-4.3h0m-21.8 10.4h0m34.9 18.5h0m-0.1-13.4h0m23.4 1.5h0m2.3 18.3h0m-30-28.5h0m-30 7.3h0m28.7-3.8h0m5.2-4.4h0m24 23.4h0m-22.5-19.6h0m5.5 11.4h0m5.6-18.5h0m-15.4 2.2h0m-6 10.3h0m4.8-0.3h0m-5.5-9h0m6.2 1.6h0m4.3 0.6h0m-27.8 22.5h0m67.6-6.7h0m-9.2-8.3h0m-2.3-11h0m-26.6 38.7h0m-38.1-28.7h0m25.2 7.7h0m51.3 12.8h0m-29.8-6.7h0m2.3-3.7h0m-7.7-11h0m-46.3-23.4h0m-0.7-68.8h0m65.8 112.5h0m-3.6-15.9h0m-30.7 8.8h0m17.2-3.3h0m14.7-18.5h0m12.2 4.3h0m-46.4 1.4h0m16.5 4.8h0m0 0.9h0m15 0.6h0m-38.8 10h0m50.4-6.6h0m-47.8 7.7h0m35.4-15.9h0m2.8-9.1h0m-10.5 13h0m21.6-5.4h0m-15.6-0.4h0m0 5.1h0m-4.3 6.5h0m-17-17.2h0m26.9-7.8h0m-20.2 32.2h0m18-16.2h0m-1.4-10.8h0m10.1 0.2h0m-5.2 35.5h0m-8-22.3h0m-36.6 5.9h0m7.5 5h0m6.3-11.7h0m12.9 14.6h0m8-20h0m-14.9 11.2h0m31.9-12h0m-14.6 2.9h0m-4.6-8.3h0"/>
<path stroke="#652afe" d="M840.6 494h0m-18.3-4.7h0m5.6 4.2h0m34.2-0.5h0m2.5-1.4h0m-38.1 1h0m11.2-9.4h0m15.5 8.1h0m-37.8 6.2h0m3 7.7h0m39.3-22.7h0m-24 15.1h0m-11.6 0.9h0m39.1 3.5h0m-14.1-9.5h0m-50-4.1h0m27.9 16h0m8-18.9h0m-33.6-7.1h0m60.1 16.3h0m-14.4 5.8h0m-14.2-5.7h0m23.1-10.2h0m-60.5 1.4h0m74.9 16.6h0m-34.2-1.7h0m4-5.8h0m1.6-1h0m16.2 5.9h0m-8-15.7h0m-6.4 28.6h0m-23.7-37.9h0m-33.5 20.6h0m-5.1 0h0m75.5-6.8h0m-3.3 20.9h0m-16.9-18.8h0m-22.6 0.2h0m40.8 25.7h0m18.8 6.7h0m-61.8-6.8h0m4.4-14.4h0m-7.7 0.3h0m9.6 1.3h0m-12.6-0.7h0m42.9-11.8h0m-17.8-4.7h0m43.6 43.4h0m-33.8-23.5h0m-30.4-23.2h0m8.8 34.6h0m29.4-28.4h0m-7.9-2.3h0m-30.7 27.2h0m17.9 0.3h0m35.1-13.9h0m-38-2.4h0m32.9-13.5h0m-53.9 3.6h0m30.2 8.5h0m-4.1-9.2h0m37.4 37.5h0m-48.1-12.2h0m0 7.4h0m0.7-21.8h0m15.7 5.8h0m35.6-17.2h0m-8.9-14.1h0m-46.1 50.5h0m40.6-42.9h0m-27.3 16.6h0m20.2 14.8h0m-19-15.7h0m-22.1 23h0m1.8-4.1h0m28.9-21.7h0m-4.2-16h0m9.4 23h0m25.5-4h0m-7.8-11.9h0m-57.3 31.1h0m59.9-19.8h0m-34.5 10.8h0m-23.8 11.4h0m29.6-25.8h0m-10.3-0.3h0m12.8 22.2h0m-19.8 6.3h0m-7.3-0.5h0m35.9-25.3h0m-58.4-15.2h0m61.6 5.8h0"/>
<path stroke="#5a3afd" d="M852.6 487.7h0m-8.7-6.6h0m-37.1 42.4h0m58.9-20.1h0m-43.7-9.3h0m-12.1 23.2h0m56.3-41.6h0m-24.5 17.8h0m-32.9-1h0m3.1 10.5h0m44.5-13h0m-17 11.9h0m24.6-17.2h0m-50.2 4h0m11.2 17.3h0m33.9-3.8h0m-58 6h0m61.7-2.4h0m0.3 7.4h0m4.9-1.3h0m-50.4-21.9h0m-6.1 18.7h0m32.4-23.2h0m15.2 7h0m-59.6-5.3h0m52.7 3.2h0m3.2 15.7h0m5.4-8.2h0m-36-4.5h0m3.6 16h0m17.3-2.3h0m24.8 12.9h0m-30.1-9.7h0m16.8-16.2h0m13.7 33.6h0m-40.7-46.2h0m-24.4 26.3h0m6.8 15.6h0m46.7-42.2h0m-29.9 6.4h0m30.6 18.8h0m-37.9-20.8h0m6.9-0.3h0m-5.1 15.2h0m27-25.7h0m-17.3 25.8h0m-20.9 19.4h0m9.5-32.8h0m26.4 1.7h0m-37.3 20.8h0m29.4-23.3h0m8.3 24.3h0m-35 2.7h0m16.6-17.8h0m-14.1 23.4h0m33.2-9.4h0m9.3-7.6h0m-16.1-15.3h0m20.6 0.8h0m5.5 11h0m-4.5 6.8h0m-37.4-21.4h0m-13.2 21.2h0m24.4 1.3h0m24.2-19h0m-14.1 7.8h0m-4.7 11.6h0m-34 7.3h0m48.9-28.6h0m5.1 26.8h0m-5.3-19.5h0m-4.7-6.2h0m-1.9 22.1h0m7.4-4.3h0m-31.6-10.8h0m37 5.9h0m-30.2 6.7h0m14.4-19.2h0m-29 20.9h0m18.8-21.3h0m30 21.5h0m-54 8.7h0m57.2-16.8h0m-27-11.1h0m-34.7 21.6h0m28-17.8h0m31.7 14.4h0m-44.3-17.7h0m-10.4 33.2h0m-14.1-8.2h0m9.1 3.2h0m-7.1-1.6h0m24.7-7.5h0m2.6-17.3h0m4.6 21.3h0m-14.9-5.4h0m41.4-14.5h0m-42.4-6.6h0"/>
<path stroke="#504afc" d="M870.2 496.6h0m-0.6 6.1h0m-54.4 4h0m32.5-18.7h0m-3.4-0.5h0m13.5 11.5h0m-41.9 7.9h0m-0.5 15.4h0m12-11.5h0m25.5-24.6h0m2.7 4.1h0m-36.8 15.1h0m50.5 1.6h0m-75.7-15.9h0m44.4-2h0m-38.1 22.7h0m36-6.8h0m-21.1-6.6h0m47.5-16.3h0m-5.2-1.6h0m-52.2 34.3h0m-4.7-25.7h0m2 8.8h0m18.3-10.3h0m44.4-2.8h0m-13.7-1.9h0m-2.5 4.1h0m-5.1-1h0m-4.8 14.4h0m1.3 13.7h0m24.2-6.2h0m-51.1 11.7h0m19.3-19.8h0m-27 5.4h0m26-7.9h0m14.2-12.9h0m11.1 16.5h0m-9.3 1.5h0m-43.5 9.7h0m40.1-7.2h0m19-14.2h0m-28.3-3.5h0m-12.2 11.4h0m-14.7 18.3h0m53.1-24.4h0m-17.7-3.2h0m11.3 12.5h0m-42.6 21h0m-5.1-6.6h0m4.4-1.3h0m58.8-23.3h0m-11.4 4.8h0m-15-18.3h0m24.1 49.8h0m-62.6-33.9h0m2.7 24h0m4.5-9.5h0m-7.2-14.4h0m45.8 13h0m-47.8-19.8h0m0.3 28.2h0m25-37.1h0m27.4 7.9h0m-59.3 3.8h0m47.9 6h0m9.1 3.8h0m-40.1 4.5h0m-5.8-2.2h0m48.4-16.1h0m-6.5 25.6h0m-34.6 7.3h0m-6.9-7.6h0m49.8-12.9h0m9.4-9.7h0m-3.8 3.6h0m-40.6 0.9h0"/>
<path stroke="#455afb" d="M822.3 498.5h0m10.8 11.5h0m-19-0.2h0m41.6 1.7h0m-42.3-18.5h0m7.4 7.5h0m-0.3-5.4h0m34.9-13.4h0m4.8 24.9h0m-17.4-27.8h0m9.3 14.3h0m-44.4 1.4h0m45-11.2h0m3.7 12.4h0m-41.6 30.4h0m44.3-40.6h0m-51.5 30.8h0m13.9-6h0m-19-20.9h0m61.4 9.3h0m-28.6 15.7h0m6.4-11.3h0m-37 9.1h0m13.4-20.2h0m-15 17.2h0m10.1 8.1h0m9.5-10.8h0m-11.2-5.9h0m20.7-2.6h0m5.1 15.6h0m6.8-22.5h0m-20.9 0.4h0m38.2-5.7h0m5.3 15.4h0m-15.3-10.9h0m-37.7-2.2h0m50.1-6.1h0m-16.1 9.2h0m2.5 16.1h0m-22.8-15.3h0m-16.7 29.6h0m48.7-36.8h0m12 20.5h0m-24.8-0.3h0m-36 12.1h0m-17.3-36.8h0m62 27.7h0m-41.1 17.6h0m17.5-38.5h0m31.3 14.6h0m-5.4-14h0m-35.7-0.4h0m13.1 23.9h0m11.7-3.3h0m-34.2-1.9h0m27.8-19.7h0m16.2-5.1h0m-28.5 11.9h0m-14 5.1h0m19.3 28.5h0m31.4-17.9h0m-29.8-29h0m-24.6 25.6h0m34.1 11.2h0m-12.4-20.2h0m18.3 11.7h0m-26.5-22h0m29.7 20.9h0m-7.3-22.2h0m6.3 16.3h0m11.7-20.2h0m-11.3 8.3h0m-11.2 11.4h0m-15.9-9.9h0m0.9 17.1h0m-21.8-13.6h0m58 15.7h0m-23.2-24h0m6.6 3.1h0m-25.6 26.2h0m-4.4-4.3h0m39.1-22.7h0m-58.6 3.3h0"/>
<path stroke="#3a69f9" d="M809.2 499.2h0m17.5-12.8h0m12.7 6.8h0m-29.9 32h0m44.5-22.1h0m-5.4-15.1h0m-15.9 36.7h0m18.1-19h0m-18.1-3.1h0m23.1-26.1h0m-45.4 38.9h0m44.2-3.9h0m-7.9-0.8h0m-17.2-4.9h0m9.1-18.9h0m-24.2-8h0m48.7 10.3h0m-48 17.8h0m-3.8 13h0m47.4-20.2h0m-21.5 4.1h0m6.9 0.8h0m-11.6-7.9h0m-4-9.2h0m30.2 13.4h0m-45.2-22h0m15.6 15.6h0m9.5-9.2h0m-33.7 30.4h0m11.3-4h0m40.8-4.9h0m-23.6-18.5h0m9-7.5h0m-29.9 21.3h0m47.4-6.2h0m-22.8 14.4h0m-13.1-6.1h0m33.3-1.7h0m-16.9-13.1h0m31.9-13.7h0m-68.5 20.2h0m6.8 6h0m-2.3 14.8h0m14.7-18.9h0m13.6 5.7h0m-10.3 10.1h0m-33.1-28h0m34.1 2.8h0m-27.7 15.6h0m68.4-12.9h0m-11.1 18.2h0m14.2 8.8h0m-42.1-10.5h0m-25.5-2.1h0m35.3 1.6h0m-33.4-8.5h0m17.5 6.9h0m31.9-16.6h0m-20.9 9.4h0m-20.7-9.9h0m18.7 22h0m-16.4 9.2h0m-12.9-4.3h0m65.4 7.8h0m-51.1-22.6h0m46.8 9.5h0m-25.1 3.2h0"/>
<path stroke="#3078f7" d="M816.2 496.8h0m-2.3 24.4h0m-21.9-44.3h0m37.9 2.9h0m20 7h0m-25.2 23.9h0m-25-4h0m8.5-8.2h0m63.9 15.7h0m-74.2-1.6h0m8 9.7h0m-13.1-39.5h0m11.8 7.3h0m12.2 13.2h0m36.8 18.6h0m5.2-39.9h0m-0.1 15.9h0m7.8 31.3h0m-30-2.7h0m5 1.2h0m-8.3-3.7h0m38.1-16h0m-23.1 20.2h0m-31.7-5.2h0m51.9-14.1h0m-43.5 19.3h0m8.6-14.7h0m-2 9.6h0m-19.1 1.7h0m63.7 4.5h0m-7.3-4.3h0m2 2.4h0m-4.5-1.6h0m-20.3-0.5h0m9.2-13h0m-5-10.5h0m-21.4 23.8h0m23.5 1.7h0m21.2 1.6h0m-42.9-1.7h0m43.3 2.1h0m1.7-1.5h0m-28.9-18.1h0m22.7 15h0m-2.4 3.2h0m-49.5-6.2h0m47.1 1.5h0m-8.3-1.7h0m18.4 3.1h0m-33.2-16.8h0m31.5 21.2h0m-18.5-5.7h0m4.4 0.2h0m-42.8-17.6h0m5.9 18.6h0m-9.7-0.2h0m54 3.9h0m-32.9 0.6h0m10.3-0.3h0m26.2-1.9h0m5.1 0h0m-33.6-13.8h0m13.2 12.3h0m9.9-11.9h0m1.2-4.8h0m-62.7-8.1h0m21.5 23.2h0m45.5 2.8h0m-30.8-1.7h0m19.3-14.1h0m12.6 16.5h0m2.2-1.3h0m-14.3-21.7h0m-27.9 23.8h0m39.6 0.3h0m-14-5.1h0m-55.7-16.4h0m42.6-5h0m-8.4 22.1h0m-5.8 2.8h0m44.9 0.7h0m-61.2-3.4h0m47.5 0.4h0m-42.4 0.1h0m48.8 3.5h0m-45.6-1.3h0m53 1h0m-54.7-16.6h0m-3.1 18.5h0m-14.1-14.4h0m61.9 12.1h0m11.6-2.7h0m-47.4-24.7h0m46.3 24h0m-18.3-12.6h0m-19.7 13.5h0m-24-0.3h0m56.5-0.8h0m-49.6 5h0m5.7-19.3h0m18.4 17.2h0m0.2-0.6h0m-7.7-18.3h0m31.9 20.2h0m7.4-3h0m-18.4 2.8h0m4-23.8h0m7.2 24.3h0m6 1.9h0m-3.8-0.1h0m-14.9-17h0m-39 14.5h0m44.5-21.2h0m-42.7 21.5h0m43.9-1.4h0m-49.9-20.6h0m0.6 18.4h0m2.5 4.2h0m26-5h0m-27.8-1.9h0m17 3.6h0m17.9-0.7h0m-19 3h0m40.9 3h0m3-20.9h0m0.4 18.2h0m0.6-1.6h0m-37.5 0.6h0m26.2-1.1h0m-59.7-13.1h0m30.9 16.9h0m0.3-30.4h0m37.9 30.6h0m-42.4-11.8h0m8.4 7.2h0m0.8-24.7h0m-28.8 20.5h0m54.4 6.9h0m-20.1 1.1h0m-0.2-27.3h0m-40.9 7.4h0m72 21.2h0m-9.7-0.8h0m-16.8-4.1h0m-16.5 0.9h0m-12.6 3h0m22.3-10.5h0m-25.3 9.7h0m-7.2-3.2h0m0.6-12.8h0m36.2 16.4h0m-5.9-12.5h0m-25.2 8.1h0m19.2 2h0m-28.6-2.4h0m57.3-1h0m11.1 6.5h0m-14.2-2.2h0m11-1.5h0m-5.4 3.7h0m6.4-3.6h0m-14.3-0.6h0m16.5-1.1h0m-19.5 0.4h0"/>
<path stroke="#2587f5" d="M823.7 528.6h0m39.5-2.1h0m7.8 2.5h0m4.4-12h0m-69.3 1.6h0m6.6 6.5h0m16 1.6h0m41.2 1.6h0m-0.6-0.7h0m-55.4-1.1h0m54.4-1.8h0m-6.8-1.3h0m-11.6-0.1h0m18.5 5.6h0m-9-30.8h0m-51 25.1h0m8.5 2.1h0m38.6-3.7h0m-27.9 4.6h0m-9.7 1.7h0m5.1-0.1h0m11.8-4h0m29.2-0.5h0m-44.8 3.6h0m54.1-2.6h0m-68.8-16.4h0m68.9 14.9h0m-11.4 3.3h0m-45.5 0.4h0m52 0.9h0m-64.1-7.8h0m26.9 6.5h0m9.8-0.5h0m-17.1-0.2h0m38.2-2.4h0m-21.3-0.7h0m-1.6 2.3h0m-26.2-1.4h0m26.4 0h0m-24.5 6.5h0m-2-6.7h0m43.7 0.6h0m19.3 2.6h0m-6.3-1.9h0m-51.8 2h0m24.5-2.3h0m27.3 1.7h0m-26.7-0.4h0m5.6-1.3h0m19.4 2.8h0m-42.2-23.9h0m31.3 18.1h0m-35 5.2h0m48.5-3h0m-22.1-0.5h0m-22.8-2.4h0m8.7 5.6h0m39.9 3.7h0m-3.8 1.4h0m1.2-4.1h0m-58.6 0.8h0m58.4-0.1h0m-64.9-11h0m39 9.2h0m-30.5-29.4h0m60.6 30.5h0m-38.2 0.7h0m-33.2-8.1h0m3.9 4.8h0m30 1.9h0m29.5 2.1h0m-51.1-4.4h0m7.8 2.8h0m29.9-0.1h0m0.1-24.3h0m19.8 27.2h0m-6.4 0.8h0m-0.3-4.2h0m-33.8-13h0m40.6 12h0m-29.7 0.1h0m-29.2 3.1h0m55-4.8h0m-13.8-9.9h0m5.3 15.1h0m-29.9-1.2h0m1.3-2.6h0m-21.8-12.2h0m-10.1 0.1h0m22.2 13.3h0m51.4-4.4h0m-24.3 3.2h0m-39.4-7.4h0m64.3 8.9h0m-0.5-2.8h0m-61.3-2.7h0m54.3 4.3h0m-0.6 1h0m-8.2-4.6h0m14 4.9h0m-6.9 1.8h0m-16.9-23.1h0m14.9-5.2h0m-31.7 24.8h0m31.1-2.8h0m3.3 2.5h0m5.7 0.6h0m-4.3 3.3h0m4.1-2h0m-0.9 2.9h0m-29.4-5.4h0m28.5 4.4h0m-36.6-29.5h0m27.4 25h0m12.8 2.8h0m-35.9-3h0m-24.8-6.6h0m0.9 5.9h0m11-21.3h0m-1.3 19.8h0m50.3 4.6h0m-57.8-0.3h0m51.6 2.4h0m-56.8-13.2h0m60.7 12.7h0m-68.1-12.7h0m30.2 11.7h0m11-2.5h0m21.8 2.5h0m4.5 0.4h0m-42.3-1.9h0m-26.8-16.7h0m22 16.9h0m4 0h0m44 5.5h0m-10.5-5.1h0m-14.9-3.9h0m10.2 2.8h0m-50.6-0.9h0m68.6 4.2h0m-60.5-10.2h0m41.6 7.6h0m-17 1.7h0m25 1.1h0m10.9-0.1h0m-53.8-1.8h0m20.6 1h0m16.2-31.2h0m16.2 30.6h0m-60.6-0.2h0m2.3-0.5h0m58.5 5.6h0m-0.7-3.7h0m-3.1-1.6h0m-4.7-0.3h0m-14.7-2.1h0m2.7 4.8h0m-15.7-5.2h0m32.8 4.8h0m-52-0.7h0m33.5-24.3h0m10.9 20.9h0m-28.6-0.7h0m6.7 1h0m-20 1.6h0m7.4 4.1h0m6.3-6.8h0m-25-1.6h0m56.1 7.8h0m0.8-3.3h0m0.8-6.7h0m-7.1-11.3h0m-44.1 2.7h0m45.7-5.9h0m6.4 24h0m-7-10.2h0m-38.1 7.6h0m41.6 0.9h0m-20.3-0.8h0m29.1 1.4h0m-6.6-0.9h0m-46.1 0.3h0m33.5-28.8h0m17 27.2h0m2.4-1.6h0m1.4 0.1h0m-5.3 3.3h0m-61.2-28.1h0m46.5 25.7h0m18.6 1.2h0m1.1-23.1h0"/>
<path stroke="#1b95f3" d="M835.2 525.5h0m10.6 0.6h0m20.6-1.2h0m-24-1.6h0m28.8 4.9h0m2.8-25.7h0m1.6 24.9h0m-35.5-3.4h0m4.9 0.1h0m-12.5 2.3h0m35.8 1h0m-8.5-0.8h0m-24.2-3.2h0m-0.8 4.1h0m33.6 1.4h0m-13.3-3.8h0m-46.3-3.5h0m63.1 4.8h0m-3.8 2h0m-12.7-21.2h0m-25 13.2h0m28.4 4.4h0m-13.8 0.5h0m-28.3-2.7h0m50.5 5.3h0m-27.7-18.7h0m27.9 18.9h0m7.9 0.6h0m-17.3-1.9h0m-41.8 0.5h0m10-2.7h0m-12.6-8.3h0m57.1 12h0m-12.8-5.2h0m-26.1 0.2h0m38.2 1.6h0m5.6 3.1h0m-45 1.4h0m40.5-1.3h0m-62.5-13.8h0m60 13.6h0m-16.5-6h0m-6 5.4h0m24.6-0.6h0m-4.7 2.3h0m-25.4-7.6h0m-11.5-18.1h0m45.3 23h0m-0.5 0.2h0m-64-5.4h0m48.7-3.9h0m-44.9 9.9h0m21.7-2.5h0m2.9-3.8h0m-12.8 5.7h0m50.6-0.8h0m-62.1 3.9h0m58.6-0.5h0m-22.8-7h0m18.4 10.3h0m-14.6-7.4h0m-39.8 0.1h0m37.3-1.7h0m18.7 4.5h0m-48.3-4.1h0m46.8 2.3h0m-32.2 2h0m39.5-18.3h0m-67.9 12.4h0m36.9 2.8h0m-23.3-2.7h0m-18.9-11.3h0m38 2.1h0m28.4 9.2h0m-50.2-8.7h0m56.6 14h0m-49-5.5h0m11.5-0.6h0m37.7 5h0m-2.6-1.4h0m-31 2.3h0m-5.2-10.9h0m-4.4 8.5h0m40.6-0.2h0m-63.4-8.3h0m22.4 8.5h0m28.2-1h0m-50.2-3.1h0m60.3 10.1h0m-20.9-6.6h0m-30.3-0.9h0m41.2 2.8h0m-16 1.2h0m7.3-1.8h0m3.6 4.2h0m-41.6-2.8h0m61.1-0.4h0m-34 3.3h0m18.2-1.7h0m-12.4 0.7h0m-15.7-6.3h0m42.2 4.7h0m-22.8-3.9h0m-10-2.4h0m-6.4 3.9h0m-1.9-0.4h0m-13.9 2h0m-3.1 0.1h0m39.6-1.3h0m15.7-1h0m0.2 3.6h0m-15.4-4.5h0m-9.2 4.7h0m-26.9-5.6h0m37.4 7.4h0m3.6-24.4h0m1.3 22.5h0m11.5 0.5h0m-3.4 2.4h0m3.5-30h0m-3.8 26.8h0m-8.9-31.8h0m8.7 31h0m4.4 2.1h0m2.4-3.1h0m-5.9-1.3h0m-41.6-22.7h0m20.8 26.6h0m-27.4-5.7h0m48.1 3.4h0m1.1-2.4h0m-58.6-10.3h0m50.9 13.4h0m1.8 0.9h0m-41.6-3.8h0m38.3 2.7h0m-28.4 2.4h0m26.3-3.7h0m-21.6 3.8h0m36.2-12.5h0m-17.6 7.6h0m12.4 2.5h0m-34.1-12.7h0m27.2 11.9h0m-25.3-3.7h0m-6.8 2.8h0m35-3h0m-4.5 2.3h0m-4.2-1.6h0m18.8 4.4h0m-21.9 0h0m16.2 2.2h0m-17.1-4.1h0m21.1-1.4h0m-53.8 0.6h0m56.6 5.2h0m-14.4-6h0m13.6 2.1h0m-38.1 1.6h0m27.8-2.3h0m-21.4-3.1h0m27.6 3.4h0m0.3 3.7h0m-0.2 2h0m-35.9-14.8h0m-14.6 10.7h0m53.8 1.1h0"/>
<path stroke="#10a2f0" d="M814 526.6h0m12.9-0.5h0m40.2-2.1h0m6.3 2.5h0m-20.9-2.4h0m14.8 4.9h0m-51.3-4.3h0m6.8 0.6h0m11.2-18.9h0m-19 0.3h0m9.4 22.1h0m50.7-0.1h0m-61.8-6.6h0m15.7-26.4h0m45.2 32.3h0m0.4-1.8h0m-30.2 3.1h0m11.3-7h0m-20.3 3.9h0m40.2-3.2h0m-2.1 4.9h0m-31.6-4.9h0m-18.2-14.6h0m-7.9 18.3h0m59.1 4h0m-6.5-6.5h0m-37.4 5.5h0m24.4-6.8h0m-31.2 2.6h0m-9.5 0.9h0m31.9-5.1h0m1.8 6.5h0m26.1-21.5h0m-2.6 19.5h0m3.1 1.3h0m-33.7-1.3h0m32.5 4.4h0m-4.2-4.3h0m-13.9 2.7h0m13.2-0.8h0m-47.7 2.1h0m52.3-3.7h0m-17.1-2.2h0m10.5 4.7h0m4.1-0.2h0m-60.1-31.2h0m20 1.4h0m-15 28.8h0m12.2-0.1h0m15.4-0.4h0m31.7-0.4h0m-41.5-3.3h0m-17.1-9.7h0m-2.2 12.9h0m55.1-1.9h0m2.8 3.2h0m-35.4-4.7h0m-22-0.3h0m52.1 2.4h0m-55.6-71.6h0m50.6 74.6h0m-2.6-1.4h0m-41-1.2h0m57.5 1.5h0m-19.2 1.7h0m-9.2-1.5h0m-23.3 1.7h0m49-2h0m-51.2 2.9h0m20.2-7h0m-27.5 5.3h0m11.8-6.3h0m16.4 4.3h0m-33.7-19.6h0m47.4 8.5h0m14.6 13.7h0m-30.5-7.9h0m8.1 6.1h0m27.4 3.9h0m-55.6-1.5h0m31.4 0.5h0m23.2-1.2h0m-32.6-28h0m24.2 23.5h0m-32.6 4.1h0m-20.7-12.4h0m29.2 9.4h0m-30.8-5.5h0m61.8 9.5h0m0.6-3.1h0m-5.2-3.4h0m-14.8-0.2h0m20.9 3.4h0m-22.5-3.7h0m14.9 4.6h0m-37.1-2.3h0m15.2 2.2h0m-25.6-2.9h0m52.2 2.8h0m-8.4-1.2h0m-47.1-26.1h0m46.5 2.6h0m-10.4 22.2h0m-29.7-17.3h0m46.8 20h0m-42.4 2h0m17.1-3h0m-4.1-24.6h0m-3.5 13.7h0m20.1 12.6h0m5.5-11.1h0m-22.9 8.2h0m-13.4 0.3h0m45.7-2h0m-12.6 3.5h0m16 3.9h0m-4.1-5.5h0m-53-1.8h0m39 0.5h0m-32.7 2.1h0m33.6-2.1h0m-3.5-16h0m11.9 6.8h0m-13.4-0.6h0m15.6 10.5h0m3-29.2h0m-26.4 32.8h0m3.9-3.5h0m26.6 4.3h0m-0.7-2.1h0m-26.2-15.1h0m19.8 13.9h0m4.5 1h0m-0.8 1.9h0m3.1 0.2h0m-27.2-8.5h0m19.3 5.9h0m-1 4.1h0m0.5-6.6h0m4.9 1.9h0m-43.5 0.3h0m44.5 2.8h0m-41.7-17.3h0m-2.2 13h0m43.8 3.3h0m2.3 0.2h0"/>
<path stroke="#05aeed" d="M838.8 525.7h0m-25.4-2.2h0m61.3 1.3h0m-10.2 1h0m7.8 4h0m0.6-3.1h0m-3.2-2.2h0m-11.5-15h0m17 18.2h0m-0.2-0.5h0m-7.4-5.3h0m7.5 0.6h0m-1 9h0m-59.7-4.5h0m58.1-1.1h0m-51.4-4.3h0m-3.7 4.8h0m51.1-2.8h0m-25.8 0.5h0m-21.7 4.7h0m51.3-6h0m-46.5-21.3h0m47.1 25.2h0m0.1 0h0m-1.1 3.4h0m-12.2-5.6h0m-3.7 1.8h0m-11.2 2.9h0m-25-3.1h0m31.8 2.2h0m21.1-3.8h0m-6.1 1.7h0m-28 0.9h0m35.7 2.2h0m-2.3-3.9h0m-5.5 4.2h0m-60-16.7h0m65.7 14h0m-12.3-2.2h0m6.8-0.9h0m-47.1 1h0m51.1 1.2h0m5.2 3.1h0m-14.1-3.4h0m11.1 2.7h0m-37.5-3.8h0m-13.8-4.9h0m43.9 5.7h0m3.2 2.3h0m-0.9-3.9h0m-23.3-1.8h0m27.1 2.3h0m1.6-2.1h0m0.3 9.3h0m-14-28.7h0m-20.6 8.4h0m30 15.6h0m-11.9-18.4h0m15.9 18.8h0m-0.5-0.5h0m-42.8 1.1h0m17.3-0.6h0m25.5-0.5h0m-53.6-11.7h0m53.7 14.1h0m-1-4.4h0m-4.7 1.8h0m-10.8-13h0m-16.9-9h0m27.3 20.8h0m0.6 1.7h0m-2-2.7h0m8.1 0.2h0m-19.5 2.2h0m-53.3-31.2h0m21.5 18.7h0m30 12.8h0m-35.3-2.9h0m55.2 4.8h0m1.9 0.8h0m-50.6-4.7h0m48-21.8h0m0.2 26h0m-4.5-5.4h0m0.6 3.8h0m8.3 0.9h0m-62.5-4.2h0m44.2 0h0m-31.5-1h0m18.7 2.9h0m29.7 5.2h0m-7.9-3h0m-7.9-7.4h0m-12.9 2.7h0m2.4 4.5h0m9.5-3.7h0m-8.5 0.9h0m-24.9-24.3h0m11.5 20.1h0m0.3-9.6h0m-7.4 12.5h0m-11.3-0.2h0m51.1 0h0m-37.5 3.9h0m28.9-8.3h0m12 3.6h0m-23-23.2h0m21.1 24.5h0m-47.4-1h0m50.2-5.2h0m-4 3.9h0m-47.8 7.5h0m-5.8-3h0m1.3-2h0m-0.9 3.8h0m52.5 0.2h0m-49.7-2h0m56.7-1.5h0m-3.8-8.2h0m-2.3 8h0m-48 0.8h0m43.4-6h0m5.1 10.2h0m-3.2-7.8h0m3 2.7h0m-5.1-3.5h0m-21.7-5.3h0m25.5 3h0m-44.8 6.5h0m46.2-13.5h0m-40.2 17.4h0m43.6-0.8h0m-37-14.9h0m30.5 11.2h0m-18.4 0.6h0m6.6 1.4h0m-15.7-1.3h0m5.6-29.6h0m22.1 30h0m4.9-3.7h0m-54.6 6.1h0m40.8-5.3h0m11.6 5.4h0m-1.1-7.4h0m-16.9 7.1h0m-14.4-0.4h0m-19.6-1.6h0m52.7-4.9h0m-53.6-12.6h0m59.7 18.7h0m-56 3.8h0m49.7-8.2h0m-47.1-0.5h0m0.9 2.8h0m3.3 3.7h0m14.4-19.7h0m28.4 11.8h0m-7.5 5.4h0m6.1 0h0m-13.6-1.8h0m18.7-1.2h0m-11.7-0.8h0m10.4 3h0m-5.2-6.2h0m3.3 9h0m-4-2.6h0m0.4 0.2h0m1.5-3.7h0m0.8-1.6h0m-12.5 5.4h0m12.9-2.2h0m7-3.6h0m-60.7 8.1h0m55.2-3.8h0m-0.9-1.7h0m2.7-3.3h0m-32.5 3.6h0m26.7 0.8h0m-0.3-2.1h0m-9.8-5.3h0m-34 4.2h0m9.6 3.1h0m26.6 2.6h0m-18.6-4.6h0m29.8 6.6h0m-54.2-10.8h0m54.8-8h0m-10.9 12.7h0m-6 4.2h0m15.2 3.2h0m-49.2-8.8h0m40.2 4.3h0m-3.1-6.8h0m-4.4-1.7h0m8.8 5.6h0m14.5 3.7h0m-2.5 2.5h0m-60.6-5.2h0m59.7-1.5h0m-51.6-21.7h0m33.8 25h0m17.8-0.8h0m-54.2-7h0m39.3 5.3h0m-35.5-0.5h0m12-1h0m36.6 0.6h0m3.7 2.2h0m-7.3-5.4h0m-4.6 8h0m-19-4.1h0m32.5 3.7h0m-46.3-2.7h0m46.1-1h0m0 0.6h0"/>
<path stroke="#05baea" d="M829.2 519.8h0m46.7 4.8h0m0.1-2.4h0m-42.8-7.2h0m39.6 7.1h0m-1.9 0.2h0m-2.9 3.5h0m-58.5-9.8h0m-0.6 1h0m59.9 7.2h0m-58.9-7.4h0m59.3 3.4h0m-32 1.2h0m-20.4-3.3h0m0.5-1.3h0m25.4-2.8h0m-32.5 5.3h0m-2.2-2.4h0m59.5 7.9h0m-31.5-1.6h0m39.9-0.5h0m-42.1 1.1h0m33.2 2.2h0m-2.1-12.3h0m6.4 11.2h0m3.7-2.1h0m-9-2.7h0m1.7 7.7h0m-13.7-5.9h0m15.6 1.2h0m4.8-3.7h0m-4.2 3.3h0m-2.6-2.4h0m-22.3 0h0m20.8 1h0m7.4 0.9h0m-3.6-0.8h0m-55.5-5.5h0m2.7-0.7h0m58.3 3.4h0m-5.6 9h0m1.7-8.7h0m-53.8-0.8h0m55.8 5.2h0m-48.8-0.5h0m51.4 1.1h0m-0.6-4h0m-53.1 2h0m49.9 2.9h0m2.5-1h0m-5.7-0.3h0m5.1-5.4h0m-1.2 4h0m-60.8-5.5h0m-2.3 3.3h0m57 2.9h0m-23.8-3h0m24.1 3.9h0m3.4 0.8h0m-19.7-9.4h0m17 8.4h0m8.1-2.9h0m-0.8 2.1h0m-1.1 3.4h0m-1.2 1.8h0m-44.2-3.6h0m43.2-5.5h0m-27 3.6h0m25.5 1h0m5.1-1.3h0m-7.8-0.4h0m-35.6 1.6h0m-13.3-1.8h0m49.5-3.2h0m-1.4 5.3h0m8.6-2.9h0m-0.2 4.6h0m0.5-3.5h0m-2.6-2.2h0m-3.2 6.3h0m-48.7-1.8h0m46.1-1.2h0m1.2-6.1h0m7-1h0m-6.3 6.5h0m5.5 3h0m-0.6-1.6h0m-7.9 1.4h0m1.1-3.9h0m0.5-2.5h0m-9-1.1h0m-4.7-0.5h0m-9.2 4.2h0m25.5-1.1h0m-37.2 3.6h0m33.7 1.2h0m6.8-2.9h0m-5.3-3h0m-40.1 2.2h0m37.6 0.1h0m-44.4-0.3h0m22.1-43.2h0m-36.3 38.2h0m5.3-36.7h0m43.3 41.1h0m14.2 3h0m-23.4-5.1h0m7.7-0.5h0m16.2 7.2h0m-4-2.8h0m1.7 0.2h0m7.7 3.1h0m-33-27.2h0m-37.3-1.2h0m63.7 24.7h0m5.2 2.6h0m-8.1-5.6h0"/>
<path stroke="#10c5e7" d="M829.6 522.9h0m-1.2-2.9h0m-8.8-4.7h0m49.7 10.1h0m1.4 1.1h0m-48.4-11.5h0m-30.5-32.7h0m25.6 8.2h0m53.6 29.7h0m0.7 5.5h0m-58.8-5.3h0m60-1.4h0m-55.3-14.4h0m1.1 10.4h0m47.5 6.9h0m-22.4-33.2h0m-14.9-7.9h0m-7.8 27.6h0m31.1 12.3h0m14.7-7h0m3 10.3h0m-0.7-1.8h0m-25.6-5.3h0m21.7 4.9h0m-33.8 0.2h0m35.5 3.1h0m-22.1-6.7h0m-26.6-35.2h0m57 43.5h0m-5.6-4.5h0m6.4 0.6h0m-3.7 0.6h0m-37.7-37.3h0m34.3 34.1h0m6.5 2.7h0m-2.5 1.7h0m-40.6-5.2h0m8.3 0.9h0m32.9 0.6h0m-26.4 0.8h0m5.8 2.1h0m-19.9-5.8h0m12.3-18h0m-6.3 21.5h0m-5.6-6.7h0m33.7 1.7h0m-8.2 1.4h0m4.4 3.3h0m11.5-3.2h0m-21.8 1.4h0m-46.6-31.3h0m68.4 30.5h0m-64.7-22.3h0m41.3 25.3h0m-10.2 1.6h0m12.9-2.7h0m-26.9-15.4h0m41.6 18.4h0m-53.7-4h0m17.1-0.2h0m-13.9-27.3h0m53.6 28.7h0m-59.5 0.4h0m55.5 0.6h0m-45.9-35h0m50.5 41.5h0m2.8-7.1h0m-34.9-4.2h0m-8.9-16.1h0m39.3 20.9h0m1.9 2.2h0m-2.9 3.9h0m-35-26.1h0m-37.6-16.8h0m36.6 11.7h0m-35.3-0.4h0m44 17.9h0m25.2 6.3h0m-17.6-0.7h0m-43.1-38.1h0m62.1 40.8h0m-42.4-2.8h0m43.8-1.4h0m-56.7-27.2h0m52.4 39h0m-56.6-32h0m13.5-3.4h0m47.4 29.8h0m0.6 2.3h0m-0.3-5.2h0m-14.1 0.3h0m12.8-2.7h0m-0.1 1.7h0m-1.2 1.7h0m-41.4-46.1h0m41.3 43h0m-54.5-1.7h0m61.1 7.8h0m-0.5-2.6h0m-62.6-6.2h0m64.3 4.7h0m-16.1-0.8h0m15.3 2.8h0m-8.2-0.5h0m-25-18.8h0m13.7 11.6h0m-17 5.8h0m34.9-3.3h0m-60-18.7h0m4.9 21.8h0m54.3-3.2h0m-9.5 1.1h0m1.7-3.8h0m3.3 7.1h0m-29.1-32.9h0m35.1 29.4h0m1 9.1h0m-42.4-8.5h0m-22.6-25.7h0m20.3 25.1h0m14.2 3.7h0m31-1.5h0m-0.1 4.8h0m-5.3-6.7h0m-43.1-4.6h0m44.3 8.1h0m-4.6-0.4h0m-0.6-1.2h0m-41.1-4.1h0m-20-35.8h0m64.2 40.3h0m-50.8 1.2h0m4.1-35.4h0m-18.1 8h0m67.7 27.1h0m1.9 0.9h0m-78.9-35.8h0m44.7 33.1h0m-27 0.7h0m58.4-4.7h0m-21.4 8.3h0m-14.6-8.5h0m21.6 7.1h0m11 1.2h0m-71-34.4h0m40.5-4.8h0m17.6 34.5h0m19.1 6h0m-6.7-3.1h0m-38.9-29.7h0m13.7 30.5h0"/>
<path stroke="#1bcfe3" d="M867.4 521.6h0m-8.4-6.6h0m-49.4 3.3h0m17.4-14.9h0m36.3 18.6h0m6.5-0.3h0m-58.6-7.1h0m18.3-0.2h0m-8.2 0.4h0m25.1 4.5h0m-3.8-29h0m-32.9 30.8h0m61.3-1.1h0m-28.3-28.6h0m31 29.5h0m-39.1-3.2h0m3.7-0.3h0m-27.7 0.8h0m-6.4-15.1h0m69.9 18.4h0m-54.7-2.8h0m48.6 1.8h0m-1.8 5.3h0m-14-4.5h0m7.7-2.9h0m-15.2-1.2h0m30.3 3.8h0m-2.2 4.8h0m-28.1-8.2h0m27.7 8.9h0m-0.1-12.1h0m-51.6-23h0m52.2 33.5h0m-0.7-1.7h0m-73.8-29.5h0m1.8-12.5h0m12.6 37.9h0m56.8 0.2h0m-1.5 1.7h0m4.5-2.6h0m-5.8 5.8h0m0.5-3.6h0m0.9 1.1h0m-55.3-31.7h0m32.5-2.2h0m23.7 32.6h0m-15.2 2.5h0m19.6-5h0m-52.1-31.7h0m50.7 40.6h0m-3.8-5.6h0m4-1.4h0m-10.6-4.7h0m6 5.1h0m-28.4-1.9h0m30.3-0.9h0m4.8-4.5h0m-0.8 12.2h0m-70-43.3h0m11 39.4h0m26.7-7.6h0m25.2 8.2h0m-23.6-22.9h0m29.8 20.6h0m-3-1h0m-3.4 7.7h0m-55.6-11.2h0m35.8 0.9h0m28.7 11.8h0m-64.6-8.2h0m10.3-24.3h0m55.1 24.7h0m-1.6-1.8h0m-8.4-5.1h0m4.7 7.6h0m2.5 4.1h0m-6.6-6.6h0m4.5-3.6h0m-29.7-16.8h0m-3.3 18.1h0m-21.2-0.3h0m-1 1.9h0m18.2-33.2h0m37.3 42.7h0m2-6.4h0m-54.6-0.1h0m5.9-39.6h0m41.2 39.8h0m2.7 0.6h0m-8.7 1.5h0m15.4 0.6h0m-21.2-3.7h0m-44.3 1.9h0m44.1-0.5h0m18.3-3.7h0m-62.8 4.5h0m10.9-37.7h0m55.5 32.2h0m-17.9 4h0m-3.6-5.4h0m-35.5 6.8h0m5.5-31.1h0m50.6 35.3h0m-5.8-4.8h0m-48.2-27.8h0m49.8 30h0m-56-16.3h0m-1.5 11.3h0m54.8-5.2h0m-38.4-6.7h0m13.2 12.9h0m-32 1.6h0m-10.8-28.8h0m-5.2-4.1h0m75.8 34h0m-34.7-33.5h0m-2.3 28.9h0m10.9-30.6h0m7.7 35.8h0m4.3-5.8h0m14.4-0.9h0m-13.5 2.7h0m-17.1-24.6h0m-17.4 23.7h0m4.4-29h0m25.2 32.9h0m-31.1-4.8h0m54.6 2.9h0m-62.4-19h0m40.3 14.8h0m-13.7-11.9h0m-16.1 17.2h0m49-5.8h0m-20 3.9h0m-29.3-23.2h0m32.3 27.1h0m19.2-2.8h0m-59.7 0.7h0"/>
<path stroke="#25d9df" d="M875 524.9h0m-24.6-6.7h0m17.2 5.3h0m-28.8-5.6h0m36.8 3h0m0.2 2.4h0m-37.8-37.6h0m-22.7 32.6h0m60.5 0.5h0m-32.3-8.3h0m-7.2 6.2h0m-13-1.2h0m6.6 1.1h0m36.8 0.6h0m-6.1 6.6h0m-37-4.9h0m-15-1.7h0m57.6 4.9h0m-39.8-4.5h0m16.1-37.3h0m-19.1 40.6h0m51.9 3.3h0m-31.2-8h0m26.9 1.1h0m-52.8-30.8h0m-9.1 15h0m43.2 12.1h0m20.8 9.6h0m-45.5-8h0m4.4 6.4h0m9.5-0.1h0m20-3.1h0m14-2h0m-0.4 11.9h0m-5.6-8.9h0m-39.4-0.9h0m-0.4-0.9h0m40.6 2.5h0m3.7-4.6h0m-57.8-11.5h0m57.3 20.8h0m-16.6-7.2h0m18.7 2.8h0m-64.8-1h0m16.5 0.6h0m41.2-3.8h0m-1.9 10h0m-39.3-11h0m25.4 2.7h0m-48.4-23.7h0m63.5 27.5h0m-2.3-1.1h0m5.2-0.5h0m-60.3-13.7h0m21-17.8h0m-7.8-12.7h0m47.9 41.6h0m3.8-0.4h0m-5.2 3.3h0m-41.7-19.8h0m45.1 18.1h0m-45.9-16.1h0m14.9 3.6h0m15.3 13.6h0m9.4 5.4h0m-66-36h0m14.1 28.8h0m52.3 1.1h0m-43.5-4.1h0m23.2 0.2h0m-18.9-10.2h0m40.6 22h0m-2.4-6h0m3.5-1.7h0m-49-2.6h0m52.8 4h0m-29.7-4.2h0m14 3.1h0m-44.6-0.7h0m62.4 3.7h0m-21.9-4.4h0m12.9 6.4h0m6.2-9.1h0m-0.5 4h0m-55.3-2.3h0m0.1-1.5h0m54.7 8.4h0m-58.1-38.9h0m55.5 30.8h0m-62.9-25.6h0m25.4 30.8h0m-21.7-29.9h0m56.1 26.8h0m-1.3 3.3h0m5.3 1.7h0m-67.1-37.1h0m18.7 16.5h0m3.9-17.8h0m12.3 34h0m-33.3-15.3h0m14.1 17h0m52.3-3.4h0m0.8-3.2h0m-52.4 6.5h0m39.6-0.5h0m-14.7-6.8h0m9.6 5h0m7.2 1h0m8.8 2.3h0m-18.7-4.4h0m-21.5 6.6h0m-12.6-6.5h0m29.3-3.1h0m26.5 11.1h0m-49.8-1.7h0m-11.1-2.4h0m57.6 3.2h0m5.5-4.3h0m-5.3 3h0m-54.5-21.6h0m50.7 19.5h0m8.5 2.9h0m-17.5-3.7h0m13.2-4.9h0m-18 1.3h0m-27 2.1h0m-8.6-28.8h0m15.1 29.2h0m-23.1 0.8h0m28.8-3.3h0m28.8 2.3h0m-13.3 3h0m-41.7-1.9h0m53.4-0.5h0m8.4 3.6h0m-9.8-5.9h0m-32.4-1.9h0m28.9 0.5h0m-46.7-23.1h0m24.8-14.9h0m-1.1 28.4h0m16.4 8.1h0m13.7 10.2h0m-15.4-7.2h0m16.7 7.6h0m-24-35.4h0m-19.1 21.7h0m50.5 10.8h0m-31.4-6.6h0m-14-10.7h0m9.2 20.1h0m-2.2-5.2h0m0.2-4.1h0"/>
<path stroke="#30e1db" d="M807 513.2h0m-3.6-72.4h0m14.8 46.2h0m51.6 32.8h0m-15.4-0.9h0m12.7 2.1h0m-49.3-3.4h0m-0.6-15.8h0m0.5 18.2h0m31.7 0.7h0m-16.5-33.5h0m-14.3 32.8h0m-13.8-14.3h0m55.7 17.3h0m-40.4 1.2h0m47.6-9.6h0m-34.9-12.2h0m-27.6-23.1h0m63.7 44.2h0m-12-8.6h0m-1.9-2.3h0m-34.5-21h0m4.9 26.1h0m21.3 2.3h0m-26.9 1.1h0m-6.7-3.2h0m20.1 0.9h0m39.1 2.5h0m-8-2.5h0m-52.9 3h0m31.5-21.8h0m27.7 21.8h0m-2.8-5.7h0m-66.5-19h0m69.6 22.4h0m-2.5-0.7h0m5.1 4.7h0m-21.9-4.3h0m18.3-1.7h0m-72.7-24.3h0m-1.6-13.3h0m7.6 4.3h0m49 33.8h0m16.8 4.6h0m-24.4-40.4h0m24.3 44.6h0m2.4-5.7h0m-5.1 4.6h0m-17.9-5.9h0m-10-24.7h0m37.1 24.8h0m-14.5-2.5h0m7.8 1.4h0m-66.4-31.4h0m72.1 39.1h0m-4.8-10.9h0m-53.3-39.2h0m-4.8 3h0m60.3 42.6h0m4.3-7.1h0m-65.4 7.5h0m59.7 0.4h0m0.4-2.4h0m-37.6 1.5h0m34.6-3h0m2.8 6.2h0m-29.5-0.9h0m-5-6.1h0m-9.6 3.9h0m8.5-36.5h0m33.4 35.5h0m-49.9-4.8h0m47.3 7h0m-40.8-11h0m-20.3-13.3h0m19.5 18.7h0m30.3 1h0m13 6h0m-45.3-6.7h0m-26.7-41h0m75 42.2h0m-29-15.4h0m-13.6 13h0m41.3 6.1h0m-82.8-40.3h0m81.8 42.4h0m-40.8-8.5h0m46.3 8h0m-7.1-5.2h0m-54.6 3.5h0m-16.3-33h0m21.4 30.7h0m51.9 4.4h0m-42.9-8.3h0m47.3 5.2h0m-40.1-4.5h0m-39.1-34.4h0m10.2-4.2h0m11.9 11.6h0m56.4 30.4h0m2.5 3.2h0m-18.4-2.5h0m-0.4-0.6h0m-5.1-0.9h0m-15.9-3.7h0m39.4 4.8h0m0 3.4h0m-64.8-5.6h0m27.3-27.4h0m-16.3 24.8h0m49.9 3.1h0m-0.9 1.1h0m-1.7-3h0m-35 0.4h0m39.2 6.3h0m-37.8-7.7h0m39.2-5.5h0m-79.4-23.4h0m53 32.8h0m-11.2-1.6h0m-43.2-36.9h0m64.4 32.4h0m-47.8 3.9h0m53.8 4.5h0m3.3 0.9h0m-71.2-42.4h0m75.1 39.1h0m-23.2-1.4h0m2.5 5.9h0m19.2-8.3h0m-57.7-37.2h0m28.5 11.3h0m-28.6 1.6h0m55 27.4h0m-5.3-0.4h0m-16.4-42.6h0m-34.8 45.3h0m-23.3-40.4h0m3.6-3.6h0m32.8 5.3h0m45.6 40.5h0m-29.8-8.4h0m8.3 5.9h0m-26.1-20.6h0m46.2 18.4h0m-65.1-45h0m13.6 45.5h0m-4.8 0.8h0m37.1-1h0m20 3.5h0m-0.5-3h0m6.3-6.4h0m-6.3 4.5h0m3.7-0.8h0m-57-30.7h0m22.5 35.1h0m-26.3-44.1h0m17.2 39.8h0m-22.5-32.3h0m63.3 32.2h0m-27.6 6.1h0m-43.7-43.8h0m78.7 41.1h0m-6.4 3.1h0m-34-2.7h0m-14.3-43.2h0"/>
<path stroke="#3ae8d6" d="M864.3 520.8h0m-25.5 1.4h0m26.2-1.4h0m9.3-1.2h0m-19.5 1.6h0m9.1 1.7h0m8.2-1.6h0m-53.3-6.4h0m23 6.4h0m2.4-24.9h0m9.2 21.6h0m-43.4-39.8h0m63.8 37.8h0m1.9 2.3h0m-63-0.8h0m31.3 7.2h0m-34.4-12.4h0m33.5 9.8h0m30.3 0.8h0m-18.2-8.5h0m18.1 7h0m-30.3-1.2h0m-15-8.6h0m9.4 6.3h0m-22.8 2.5h0m2.2 0.9h0m26.3-20.5h0m14.1 22.2h0m-16.5-3.1h0m33.4 1.6h0m-4.9-1.2h0m-23.6-1.8h0m15.6 0.3h0m-15.9 0.9h0m-54-39.7h0m82.8 34.5h0m-7.1 5h0m4.1 6.5h0m-22.6-6.1h0m11.9 2.2h0m-0.4-0.3h0m-46.7-1.8h0m12.4-5.4h0m2.8 2.2h0m-1 1.9h0m-31.9-39.1h0m38.8 34.8h0m-17.9 3.3h0m56-1.2h0m-41.6-2.3h0m-11.9 4h0m54.8-1.1h0m-39.2 3.1h0m8.7-27.3h0m-11.9 25.7h0m40 3.8h0m-26.4-4.3h0m-30.4-0.9h0m57.3 7.2h0m-4.3-4.8h0m-21.5 1.6h0m11-5.8h0m-40.1-35.2h0m7.1 41.7h0m32.8-1.5h0m-52.2-38.2h0m3.7 34.7h0m9.2 6.2h0m56.7-1h0m-77.2-36.9h0m21.4 26.7h0m47.9 8.4h0m-58.8-15.5h0m10.3-30h0m-0.1 22.8h0m-6.6 24.4h0m32.9-3.1h0m-21.6-3.3h0m-5.6-29.7h0m-7.7 33.5h0m31.5-1.2h0m-12.7 4.8h0m3.4-5.8h0m10.9 4.7h0m30.4 5.2h0m-58.2-9.6h0m51.9 6.4h0m-60.8-44.1h0m21.1 42.7h0m47.4-8h0m-33-9.9h0m21.5 15.8h0m7.5-5.1h0m-29.7-6.1h0m35.2 6.5h0m-0.6 0.1h0m-3.5-0.3h0m-19.3-0.3h0m8.1-2.1h0m5.8-3.3h0m5.8 8.2h0m-0.9 0.4h0m-24.1-2h0m3.4 5.4h0m-33.6-2.2h0m50.2-1.5h0m0.1-0.6h0m-6.1 2.1h0m0.5-3.1h0m6.3 5.5h0m-17-6.6h0m-33.9 2.4h0m12.1-4.9h0m43.8 6.2h0m-36.4 0.7h0m32.3-0.7h0m-53.4 4h0m55.4-1.6h0m-44.3-1.5h0m-11.2-10.5h0m19.2-27.2h0m-6 26.5h0m34.7 4.8h0m-44.4 4.9h0m-1.5-28.7h0m23.2 27.2h0m-4.2-0.6h0m22 4.8h0m2.8-6.8h0m5.9 1.8h0m0.8 3.8h0m3.9 1h0m-78.5-44.3h0m39.8 47h0m41.3-17.9h0m-60.4 12h0m5.3-23.5h0m1.2 28h0m38.5-10.4h0m-30.3 1.9h0m21.3-3.5h0m-25.3-7.8h0m13.2 19.5h0m35.3-2.2h0m-35.3-25.7h0m33.8 26.4h0m-61.7-31.8h0m53.9 14.9h0m6.1 16.9h0m4 3.1h0m-57.6-5.2h0m-1-13.6h0m36.4 6.6h0m22.3 10.6h0m-26.9-9.4h0m4.9 11.5h0m-2.7-4.9h0m-9.9-13.7h0m-5.9 8.9h0m38.4 9.2h0m-38.6-24.8h0m-39.1-13.2h0m20.9 12h0m56.2 22.8h0m-27.8-6.3h0m-13-4.8h0m42.1 12h0m-53.5-0.9h0m12.6-3h0m-3.5-4.3h0m41.1 3.7h0m-2.5 1.8h0m-8.4-2.8h0m-10.9-0.1h0m-17-19.2h0m40.1 23.7h0m-67.4-20.6h0m20.3-0.5h0m12.3 17.5h0m4.8 6.5h0m29.4-0.6h0m-9.4-8h0"/>
<path stroke="#45efd2" d="M875.2 517.2h0m-45.3-1.6h0m-14.1-20.9h0m30.8 16.8h0m-6.3 7.3h0m29.2-1.7h0m-5.5 1.4h0m7.1 5.7h0m-17.4-10.4h0m-20.3 6.2h0m18.8-4.1h0m18.4-1.9h0m-48.9-0.8h0m-19.6-9.7h0m66.3 10.8h0m-5.6 6.5h0m-6.9-6.1h0m12 8.7h0m-59.1-25.8h0m53 25.1h0m8.4-16.2h0m-61.2 10.2h0m18.4 3h0m-16.9-5.5h0m-4.9-3.9h0m25 7.5h0m42.8-2.8h0m-70.7-21.7h0m60.3 22.6h0m12.8 4.5h0m-15.9-8.6h0m12.5 1.9h0m-47.4-14.8h0m4.8 16.9h0m39.7 5.4h0m-37.6-4.7h0m17.4-0.5h0m5.7-3h0m-32.4 5.2h0m-3.8-5h0m52 7.3h0m1.6-4.7h0m-11.8-3.8h0m6.8 10.5h0m0-8.8h0m-49.5-36.5h0m34.9 35.1h0m4.8 6.4h0m10.7-12.2h0m-57.5 11.3h0m58.3 3.9h0m-28 0.2h0m-36-38.9h0m37.1 25.1h0m29.6 15.8h0m-4.7-1.5h0m1.3-3.2h0m-6.6-7.5h0m-50.2 13.5h0m31-4.8h0m-2 0.4h0m-32.1-38.7h0m-15 1.6h0m77.2 30.5h0m-41.5-18.4h0m19.9 23.3h0m21.9-4.9h0m-0.7-1h0m-45.4-2.6h0m9 5.9h0m38.9 5.1h0m-25.9-6.1h0m-26.3-8.5h0m49.9 15.4h0m-4.4 1.1h0m-40-15h0m37.6 7.1h0m-51.3-1.1h0m32.5 2.9h0m31.1 2.3h0m-7.7-8.8h0m-19.1 7.5h0m19.6 4.6h0m-27-3.3h0m-27.7-1.1h0m61.3-2.6h0m-58.6-1.1h0m44.1-4.9h0m-52.8 3.6h0m56.2-2.5h0m-43.9 1.2h0m1.2 8.8h0m48-5.1h0m-52.5-5.6h0m34.9 6.3h0m-16.1-16.1h0m37.3 15.2h0m-29.2-7.7h0m-8.4 10.6h0m34.6-3.5h0m-17.6-5.6h0m19.6 12.9h0m-54-6.9h0m-0.4-31.2h0m28.8 30.6h0m-31.5 1.1h0m57.8 2.6h0m-51-9.5h0m-19.3-16h0m65.3 21.9h0m-9.4-2.7h0m9.3-1.7h0m0.2 1.8h0m-44.8-3.7h0m52.8 14.5h0m0.2-9.4h0m-1 13.1h0m-77.1-35.2h0m76.2 21h0m-2.1-5.4h0m-53.8 11.2h0m50.1-7.7h0m-23-8h0m-31.9 16.3h0m61.2-2.5h0m-65-5.3h0m5 1.1h0m10.1-10.5h0m8.9-8.9h0m34.8 18.5h0m5.8 8.9h0m-43.8-8.1h0m39.5-0.5h0m5.1 11h0m-26.7-9.4h0m-24.4-19.8h0m-10-4.1h0m-1.1-14.9h0m62.2 40.3h0m-0.3 10.3h0m-55.3-8.5h0m19.1-7.1h0m-30 3.3h0m23.2 3.5h0m-15.6-16.1h0m23.4-18h0m27 33.5h0m-33-22h0m-22.7 21.6h0m48.5-2.4h0m-45.6 1.7h0m4.8-14.9h0m12.3 13.9h0m23.6 7.2h0m-51.3-40.3h0m68.4 37.1h0m-10.8 0.9h0m-33.2-12.1h0m-9 12.9h0m48.6-10.5h0m-28.5 3.8h0m-9.4-17.1h0m1 16.1h0m29.6 2.5h0m12.5-5.2h0m-28.7 5h0m-9 1h0m37.3 0.3h0m-29.3-35.6h0m-8.9 30.9h0m4.4 0.7h0m-30.8 6h0m63.3 3.4h0m-28.5-17.1h0m25.4 12.9h0m2.2 4h0m-2.5-0.4h0m2.4-0.9h0m1.7 0.2h0m-71.9-32.5h0m66.7 22.6h0m-10.2 1.4h0m10.6 7.3h0m-19.9-5.4h0m-14.7-9.5h0m42.3 11h0"/>
<path stroke="#50f4cd" d="M872.3 518.8h0m3.3-5h0m-4.7 3.2h0m-51-11.3h0m20.4 10.1h0m-25.9-7h0m51.9 10h0m-0.1 0h0m-50.3-7.8h0m-1.8-12.2h0m55.6 20.3h0m-51.8-1.1h0m53.2-7.7h0m-25.7-3.5h0m29.7 11.3h0m-40.6-9.9h0m23 2.1h0m-13.2-2.1h0m-54.9-30.1h0m83.2 38.6h0m-36.2-1.5h0m33.1 0.1h0m3.5-4h0m0.4 2.1h0m-0.6-4.2h0m-0.8-0.1h0m-17.6 0h0m-1.4 1.5h0m22.5 9.1h0m-4.8-2.2h0m-22.8-10.1h0m20.7 12.5h0m-65.7-30h0m27.8 7.4h0m36.1 20.7h0m-25.6-17.4h0m-37.3-18.1h0m-0.3 13.7h0m44 17.7h0m28 12.4h0m-56.8-37.7h0m49.5 29.5h0m-39-23h0m40.6 17.4h0m-54.6-17.4h0m53.2 18.6h0m-62.7-15.9h0m54.7 15.5h0m-48.9-6h0m-12.4-30.8h0m5 1h0m37 44.5h0m-38.8-18.6h0m21.5-25h0m-9.1-3.9h0m53.9 46.1h0m6.6-1.5h0m-8.2-0.5h0m4.5-3h0m-74.1-24.5h0m54.3 15.2h0m-15.9 12h0m-11.7-15.9h0m1.2-4.4h0m-2.8 11.4h0m43.4 3h0m-7.9 2.8h0m-44.7-21.1h0m-26.2-16.5h0m82.9 34.2h0m-77.4-35h0m22.6 7.3h0m-15.9-0.9h0m3.1 3h0m56.2 25.5h0m0.3 2h0m-3-2.9h0m-24.2 2.6h0m42.5 5.5h0m-51.4-12.8h0m51.1 13.9h0m-71.7-29h0m36 18.4h0m-10.5-18h0m1.4 16.6h0m35-2.2h0m-62.6-1.1h0m68.1 12.5h0m-55.9-22h0m4.4 11.8h0m-5.5 3.2h0m-0.9 1.1h0m32.1 3.4h0m12.5-0.5h0m-42.7-3.8h0m-5.7-11.4h0m18.4 6.2h0m2.1-9.7h0m-24.3 3.1h0m12.7-4h0m6-2.5h0m37.5 25.7h0m-39.8-9.8h0m54 15.6h0m-4.9-5h0m-53.5-12.4h0m-9.5-11.1h0m-14.8-16.5h0m78.9 34.5h0m-38.6-32.2h0m-1.6 31.2h0m-0.5-18.8h0m-2 14.2h0m-13.5 4.2h0m51.4 4.8h0m6 3.4h0m-55.3-21.8h0m-6.2-19.3h0m61.7 41.3h0m-13.3-8.6h0m15.8 2h0m-42.1-8.3h0m33.9 8.5h0m-50.3-15.4h0m17.8 3.4h0m-1.1-10.2h0m29.4 19h0m-16.1 0.9h0m22.1 7.6h0m2.4-5.1h0m0.4 2.3h0m-36.7-33.7h0m7.5 31.4h0m-34.2-31.6h0m32.5 28.2h0m-34.9-21.5h0m68.5 26.9h0m-0.6-2.1h0m-14 2h0m7.6 2.3h0m-69.9-29.6h0m70.5 27.5h0m-36.1 0.6h0m41.5 3.5h0m1.2-11.9h0m-36.2 5.2h0m-0.6-0.9h0m1.8 6.8h0m-16.5-16.5h0m-1.1-16.3h0m-33.8-2.9h0m46.4 0.9h0m41.5 27.5h0m-12.5-0.3h0m11.9 8.9h0m-60.2-35.3h0m-1.3 0h0m27.7 4.9h0m-38.8-14h0m15 8.6h0m18.8-7.4h0m22.1 43h0m-57.8-34.7h0m43.6 11.6h0m-48.8-13.8h0m26.7 29.8h0m45.7 5.8h0m-22.4-5.9h0m-17.7-20.8h0m-10.8 18.5h0m57.9-7.2h0m-6.7 8.2h0m-26.9-26.1h0m-3 28.6h0"/>
<path stroke="#5af8c8" d="M852.2 510.2h0m-27.9 4.2h0m21.9 1.9h0m27.7-7h0m-6.3 1.8h0m-46-10h0m47 14.8h0m-39.5-4.8h0m-10.8 0.7h0m54.8 14.6h0m-44-44.7h0m22.4 28.8h0m-23 2.6h0m17 0.2h0m-35.8-19.8h0m55.3 18.9h0m-19.5 6.1h0m29.8-2.7h0m-6.7-3.9h0m6.6 2.8h0m-73.8-21.3h0m-11.2-16.6h0m62.4 29.2h0m-43.1 1h0m34.5-13.2h0m-39.4-6.9h0m36.3 15h0m29.1 18.7h0m-63.8-28.5h0m65.8 23.5h0m-0.2-0.7h0m-25.9-1.9h0m28.4 8.3h0m-35.2-15.6h0m-15.3-25.8h0m44.7 30.3h0m-44.5-1.6h0m2.6-20.7h0m-33.3-8.2h0m74 35.7h0m-61.8-0.5h0m-6.9-27.9h0m37.8 5.9h0m3.4-11.8h0m11.5 34.5h0m16.9-4.2h0m-12.5 4.9h0m-16.5-25.2h0m34.8 24.5h0m-3.2-2h0m-19.6-0.6h0m-40.6-5.1h0m-6-17.2h0m69.4 24.8h0m-36.5-13.6h0m-5-13.9h0m33.9 34.6h0m-51-15.4h0m56.8 14h0m-36-8h0m-4.6 6.3h0m-10.8-10.5h0m15.1 3.4h0m37.6 1.6h0m-40.1 6h0m-8-19.8h0m-24.7-4.4h0m38.8 21.7h0m-10.6-5.2h0m40.7 1.1h0m-73.8-32.4h0m8.3 21.1h0m10.8 8.7h0m-12.2-18.3h0m4.7-13.6h0m35.3 8.3h0m29.5 37.4h0m-4.2-11.9h0m-68.5-32.4h0m21 28.4h0m20.2-11.4h0m-39.3-21.1h0m49.2 43h0m-26.4-39.8h0m-6.9 24.1h0m54.7 18.4h0m-59.2-32.6h0m-15.1 0.9h0m7.8 12.4h0m17.8 19.5h0m47.9-4.4h0m3.5-3.5h0m-41.9-3.4h0m-6.3-32.9h0m46.9 36.7h0m-55-4.7h0m52 7.9h0m-58.8-8.7h0m24.6-23.8h0m-48.4-3.6h0m87 32.3h0m-46.6-23.1h0m-22.2 8.3h0m-0.2-8.4h0m4.7 22.6h0m60.8 1.4h0m-37.6-5.9h0m33 6.4h0m-68.6-41.9h0m77.9 39.9h0m-48.4-29h0m41.4 33.5h0m-19.5-2.8h0m-48.8-35.1h0m41.9-8h0m29.6 51.8h0m-48.8-48.1h0m43.3 32.5h0m-41.4-26.3h0m38.6 21.4h0m-63.2-11.3h0m14.8-3.9h0m34.4 27.3h0m-50.8-27.5h0m76 30.8h0m-0.2-5.1h0m1 4h0m-13.3-4h0m-14.6-2.6h0m24.5-1.8h0m-33.3 3.7h0m-5.9 0.9h0m-17.8-9.1h0m-19.8-22.5h0m7.9 17.4h0m39.3 8h0m14.2 9.4h0m1.8 3.2h0m-30.7-11.9h0m6.7-8.8h0m17 16.8h0m-6.8-13.7h0m-41.8-11.4h0m20.7 22.2h0m10-23h0m-24.8 1.3h0m61 15.7h0m-52 13.9h0m50.9-9.8h0m-27.6-36h0m34.5 46h0m-42.7-7.7h0m-23.6-31.7h0m10.6 14h0m-1.1 9.6h0m13.1 10.7h0m38.2-4.4h0m-44.3 4.8h0m-22.1-28h0m71.5 32.2h0m-87.6-43.3h0m32.2 10.1h0m55.7 32.3h0m-49.6-5.4h0m39.9 1.3h0m6.9-5.3h0m-58.3-17.8h0m0.7-2.3h0m-16-11.7h0m71.2 36.9h0m-36.9-0.9h0m-11.5-24.4h0m50.9 28.4h0m0.5-4.9h0m-27.7 4.5h0m11.8 1.5h0m-27.1-34.9h0m-26.7-7.5h0m67.4 32.7h0m-62-15.9h0"/>
<path stroke="#65fcc2" d="M805.8 482.6h0m5.9 26h0m48.6-0.5h0m6.9 0.9h0m-55.4-6.3h0m6.4-5.5h0m55.8 15.6h0m-77.5-19h0m70.2 27.9h0m-23.2-3.5h0m5.4-3.3h0m13.7-4.7h0m5.7-0.6h0m7 8h0m-37.6-26.1h0m33.8 31.9h0m-1.5-7.8h0m-3.7 0.8h0m1.9 8.9h0m-77.7-47h0m59.2 27.3h0m-48-18.8h0m71.1 30.8h0m-75.9-32.4h0m6.8 0.7h0m39.2-0.8h0m-23.2 9.3h0m10.5 18.8h0m-1.3-22.7h0m25.1 28.2h0m-28.6-36.8h0m6 24.4h0m25.2 5.5h0m-43.2 0.4h0m44.1-10h0m-29.4-11h0m-26.2-8.9h0m72.3 33.2h0m-5.2 5.6h0m-31.6-37.7h0m-28.2 25.3h0m64.1 9.2h0m-53.3-34.9h0m-7.2 28.4h0m6.6 2.7h0m-0.2-19.7h0m8.8 16.2h0m9.6-3.8h0m-5.3-21.8h0m-26.1 27.9h0m68.2-5.2h0m-15.7 7.3h0m-10-0.3h0m-20.2-19.8h0m-26.3-7.8h0m38.4 22.6h0m-22.5-18.5h0m-20.9-4.1h0m71.2 29.2h0m-45.6-32.3h0m50.8 23.9h0m-42.5 0.5h0m-34.4-33.4h0m40.2 39.4h0m-7.3-33.7h0m6.4 7.6h0m-21.5-4.8h0m55.2 33.3h0m-34.7-19.9h0m-0.9-12.5h0m6.1 38.3h0m30.1-10.4h0m-58.4 2.1h0m-11-25.8h0m29.5 21.6h0m12-17.1h0m14.1 22.7h0m-37.1-34.9h0m-23-5.9h0m79.7 45.8h0m-0.3 0.1h0m-7.3-11h0m-62.7-24.2h0m56.1 24.6h0m-40.1 3.7h0m-35.3-34.9h0m29.8-0.7h0m-15.7 8.1h0m38.5 1.6h0m35.1 27.5h0m-37.3-35.5h0m37.8 29.8h0m-4 3.1h0m-45.1-30.9h0m15.4 2.9h0m-27 29.2h0m20.4 3.3h0m-20.1-19.5h0m54.9 19.9h0m-69.4-29.6h0m51.3 27.8h0m20.6 1h0m-63.4-38.6h0m64.4 44.2h0m-52.9-7.7h0m34.4-7.5h0m-15.3 2.5h0m5.9-1.4h0m7.7 9.9h0m-33.8-45.8h0m31.6 39.9h0m-16.2-26.5h0m-18.9-6.7h0m9.2 25.6h0m4.8 5.9h0m44.3 4.5h0m2.4 3.5h0m-1-7.2h0m-67.7 5.5h0m59.4-11.4h0m2.4 7.7h0m-72.1-34.2h0m29.7 35.4h0m-14.6-32.7h0m22.7 38h0m20.4-8.8h0m-10.9-1.7h0m31.3 1.9h0m-32.6-1.1h0m32.2 4h0m-13.7 4.7h0m6.6-10.1h0m-37.6 8h0m2.1-10.1h0m39.3 9h0m-62.8-4.5h0m22.5-8.2h0m-11.3-18.6h0m-7 20.4h0m28.3 7.3h0m-22 5.2h0m46.5-0.9h0m2.8-3.1h0m-55.7-6.4h0m-19.9-29.7h0m13.6 17h0m59.7 15.9h0m-22.6-12.4h0m-9.1-10.6h0m27 29h0m-23.8 0.3h0m29.5-0.5h0m-14.9-6h0m-48.4-5.7h0m5.1 11.5h0m12.1-25.5h0m45.5 25.9h0m-52.6-16h0m-19.6-28h0m62.4 40.2h0m-46.5 0.7h0m62.9 1.5h0m-59.9-22.2h0"/>
<path stroke="#70febd" d="M811.3 521.6h0m-2.7-11.8h0m19.8 2.5h0m18.5-5.9h0m-9.1 8.3h0m6.9-4.9h0m-10.7 8.2h0m31.2-12.7h0m-32.7-28.4h0m0.7 43.7h0m37.3-8.3h0m1.9 1.8h0m-37.4 3.3h0m37.1-4.4h0m-2.2-0.5h0m0.8-3.6h0m-28.9 8.5h0m20.2-3.7h0m10.4 6h0m2.4-0.2h0m-76.1-31.3h0m15.3 25.7h0m54.5 6.3h0m-50.2-36.9h0m42.8 30.5h0m6.6 8.5h0m-69.3-27.6h0m-6.2-17.9h0m38.4 41.2h0m-12.2-28.4h0m32.8 15.5h0m6 1.2h0m-38.8-21.5h0m14.7 31.4h0m32.3-9.3h0m-22.9-26.6h0m3.9 31.3h0m13.5 1.4h0m5.2 4.6h0m-8-8h0m-55.3-19.5h0m72 26h0m-7.5 2.2h0m-68.1-24.6h0m75.7 15.6h0m-48.7-7.8h0m13 9.5h0m35.6 8.1h0m-0.8-7h0m-4.6 0.7h0m-0.3 4.2h0m3.4 1.8h0m-18.8-2.7h0m-23.2-20.8h0m46 20.9h0m-23.7-14.4h0m-41.7-19h0m-4.8 22h0m-1.1-27.6h0m39.9 34.8h0m-27.4-0.8h0m0-0.2h0m33.2 1.9h0m-52.2-21.8h0m44.8 20.2h0m31.2 11.3h0m-55.4-7h0m14.5-19.1h0m23 8.8h0m8.2 6.9h0m-20.3 1.8h0m-32.6-12.1h0m-22.3-25.6h0m21.9 35h0m61.8-4.7h0m-14.3 7.3h0m3.5-7h0m-4.9 6.2h0m16.2-5.6h0m-31.9-19.3h0m-34.8 27.5h0m-12.6-39.1h0m81.2 47.1h0m-5.3-14.2h0m0.3 7.7h0m-51.3-27.2h0m24.7 21.5h0m26.8-4h0m5.1 3.2h0m-31 9.4h0m2.6 2.9h0m-37-38.2h0m15-9.4h0m42.3 45.5h0m1.4-8.6h0m-54.8 4.5h0m0.2-8.4h0m48.4-2.5h0m-64.9-16.5h0m9.6 15.8h0m11.6 8.1h0m37.4-1.7h0m13.7 5.5h0m-25.9-37.8h0m-15.1 5.9h0m38.2 32.8h0m-0.8 2.8h0m-30-9h0m-4.9 0.9h0m37.9 8.8h0m-58.7-40.6h0m19.7 2h0m5.8 35.8h0m5.2-33.8h0m18.8 27.6h0m-54.7-4h0m28.4-2.3h0m-13.9-18.6h0m9.3 26.8h0m-2.1-29.2h0m15.6-5h0m-41.6-5.6h0m65.4 42.2h0m-17.8-7.3h0m20.8 7.8h0m-0.7-1h0m-43.7-37.8h0m-22.3 23.3h0m62.9 7.5h0m-50.3 0.8h0m47.5 1.1h0m-2.3-8.1h0m6.2 19.8h0m-77.8-41.8h0m43.8 11.1h0m0.6 26.4h0m-18.9-12.9h0m6.8 0.7h0m45.6 12.2h0m-61.4-5.4h0m29.8-25.7h0m-18.6-12.2h0m9.3 16.7h0m35.8 20.7h0m-14.9-3.7h0m-31.3 4.2h0m48.1 2.5h0m-48.3 3.8h0m57.9-5.3h0m-49.5-7.8h0m-17.8-27.2h0m41.3 27.1h0"/>
<path stroke="#7affb7" d="M839.7 509.5h0m-18.5 10.2h0m9.4-28.8h0m-8.6 24.5h0m41-10.1h0m-53.3 13.1h0m4-42.8h0m-7.5 7.9h0m58.5 25.4h0m-32.4-0.2h0m25.3 7.4h0m-27-30.7h0m34.1 30.8h0m3.2-1h0m-71.1-42h0m61.3 32h0m4.6 8.3h0m-62-15.7h0m7.1 13.8h0m46.4 4.2h0m-28-21.8h0m20.3 24.3h0m-28.7-26.1h0m16.8-1.1h0m-34.2-91.5h0m59.4 43.7h0m12.8 67.4h0m-40.7-19.4h0m-6.3 19.5h0m13-3.7h0m5.9 3.8h0m-30.8 6.9h0m49.2 0.9h0m-46.6-21.4h0m10.4-13.6h0m12.5 6.8h0m-9.9 20.9h0m-24.6-5.7h0m31.7-9.2h0m29.1 10h0m8.1 3.1h0m-47.3 0.2h0m25.7 4.3h0m-49.1-5.6h0m70.1 0.8h0m-55.1-3.1h0m-9.7 12.4h0m30.6-9.8h0m30.2 11.6h0m0.2-13.3h0m-3 8.6h0m-46.3-20.4h0m-25.2-10.2h0m79 30.6h0m-57.3-23.6h0m40 16.9h0m-27.1-11.8h0m34.1 13.7h0m-39.7-6.1h0m-15.8 2.4h0m38.1 13.7h0m-0.3-4.2h0m22.3 7h0m-55.8-38.8h0m12.3 22.5h0m43.2 8.1h0m6.1-0.3h0m-27.3-4.9h0m-12.2-20h0m-11.4 6.7h0m11.3 15.7h0m21.6 3.8h0m-17.9-38h0m-13.6 9.9h0m3.7 18.4h0m-10.3 8.2h0m-25.2-24.6h0m27.4-10.5h0m-15.7 9.1h0m8.4 15.7h0m33.6 2.8h0m-41-13.7h0m22.8-10.4h0m-5.3 2.9h0m-19.1 17.1h0m23.1-13.9h0m8.2 20.3h0m40-3.1h0m-79.7-24.2h0m45.8 7.3h0m-26.9-5.8h0m-3.1 30.7h0m48.5-1.3h0m-57.7-27.3h0m14.5-4.2h0m57.6 32.4h0m-43.3-24.2h0m-20.9 1.5h0m1.4 22.5h0m48.6 6.1h0m7.6-3.7h0m-34.8-2h0m-34.4-29.9h0m75.3 29.3h0m-3.8-0.8h0m-58.9-3h0m13.7-26.1h0m14.3-12.8h0m-21.4 34.5h0m27 4.6h0m8.3-3.8h0m22.7 5.7h0m-72.8-31.3h0m71 36.4h0m-38.3-5.3h0m35.6-2.3h0m-40.5-1.9h0m3.6-23h0m2.2 19.6h0m4.5-8.5h0m-15.4-9.2h0m44.9 27h0m-19.5-9.5h0m-15.8 3.4h0m-39.5-18.5h0m23.6 27.9h0m50.5-6.2h0m5.3 2.3h0m-64.1-5.1h0m51.2-5h0m-37.7 6.4h0m7.6-0.3h0m24.9 0.3h0m-51.3-36.2h0m70 42.4h0m-32.6-13.5h0m-1.9-12h0m-42.1 6.2h0m39.1 0.4h0m-33.9-4.8h0m17.4 18.5h0m3.4 3.8h0m47-1h0m-35.4-9.3h0m6.6 15.1h0m2.8-7.9h0m-23.7-2.2h0m48.3 3.9h0m-49.4-11.4h0m-2.6 8.8h0m46.9 1.3h0m-51.2 1.9h0m-5-6.9h0"/>
<path stroke="#85ffb1" d="M816.8 470.6h0m43.2 47.1h0m-64.3-31.1h0m77.1 24.4h0m-45.8-0.8h0m6.3-35.2h0m37.3 41.2h0m-18.2-1.3h0m-44.2 6.6h0m51.5-9.7h0m-52-1.3h0m-13.1-35.6h0m75.8 44.8h0m-1.4-6h0m-46.8-6.4h0m-0.9 4.4h0m12.8-5.7h0m-20.1 7.5h0m-8.3-9.2h0m68.2 7.4h0m-26 3.2h0m-17.6-5.8h0m-27.1-24.2h0m4.3 4.9h0m63 20.1h0m-60.1-24.8h0m56.7 21.2h0m-40.4 9.1h0m-10-12h0m14.5-11.3h0m32.2 22.9h0m-31.7-2h0m8.4-21.5h0m22.7 20.5h0m5.1-1h0m1.1 3.7h0m-75.1-32.6h0m52.9 23.5h0m-6.7-8.1h0m-21.6 12.6h0m10.2 1.3h0m38.7 6h0m4.7-6.5h0m-5 2.7h0m-34.2-7.5h0m-15.1 7.3h0m-13.4-29h0m29.2 25.1h0m5.3-21.4h0m-4.1 19.5h0m26.2 5.6h0m6.7-3.4h0m-42.4 6.6h0m-29.9-29.8h0m74.2 24.3h0m-52.3 2.4h0m31.3-2.8h0m14.2-4h0m-36.5 6.1h0m1.9-0.9h0m29.5-6.7h0m11.9 6.1h0m-48.1-18.4h0m5 24.3h0m13.2-34.6h0m-17 36h0m48.8-2.2h0m-40.6-6.3h0m41.2 4.8h0m-56.2-25.8h0m47.3 26.1h0m-48.3-25.3h0m4.9 12.4h0m10.3 4.7h0m-17.5 7.1h0m10.4-0.9h0m-9.1-26h0m-8.5 24.6h0m12.1 1.8h0m33.3-7.1h0m-35.4-28h0m44.3 28.8h0m11.7 5.7h0m-34.6-31.2h0m-28.2 24.2h0m33.5-21.5h0m-30.4 1.6h0m58.5 25.5h0m5 2.7h0m-7.8-2.7h0m-0.9 0h0m-6.2 7h0m6.2-13.3h0m-50.3 4.4h0m22.9-9.3h0m-16.7 14.2h0m26.2 4.8h0m-26-6.9h0m42.2-1h0m-17.2-2.8h0m-8.8 4.4h0m2.1-31.1h0m3.1 31.4h0m-14.7-12.1h0m-15.7 5.6h0m30.5 6.9h0m-0.6-3.6h0m12.7 0.6h0m-8.7 3.2h0m22.7 3.6h0m-35.3 0h0m-3.7-3.9h0m-28.4-28.5h0m28.9 22.9h0m-8.7 3.2h0m34.3 0.8h0m17.4 9.8h0m-42.6-5h0m41.7-1.1h0m-30.3-9.8h0m31.9 2h0m-54.2 6.9h0m-2.1-4.6h0m-23.6-24.6h0m51.9 19.7h0m24.1 9.9h0m-56.7-13.4h0m54.7 21.6h0m-23.9-13.5h0m26.4 0.3h0m-46.4 4.4h0m39.6-6.7h0m-7.7 3.5h0m-29.9 3h0m24.6-2.9h0m-7.5 4.4h0m-8.1-3.9h0m19-4.1h0m-35.4 0.9h0m52.9-2.3h0m-40.1 7.3h0m0.3-8.4h0m26.6 3.7h0m-0.3 4.4h0m-16.2-8.3h0m-50.3-20.6h0m60.8 29h0m-17.4 2.1h0m-18.9-7.2h0m-6.9 11h0m45.7-1.7h0m19.4-3.9h0m-86.1-38.9h0m71 37.6h0m-0.6-8.2h0m-45.2-1.3h0"/>
<path stroke="#8ffeab" d="M859.1 512h0m-31.6-27.9h0m3.2 39.4h0m-16.9-7.6h0m54.6-5.6h0m-20.1 0.5h0m-50.7-25.2h0m21.8 29.5h0m54.5-2.1h0m-61-26.6h0m11.3 23.7h0m-19.9-7.8h0m37.5-16.7h0m5.3 21.2h0m-38.2 5.2h0m18 8h0m33-12.6h0m-46.9-14h0m41.2 6.2h0m-39.8-21.1h0m32.7 28.8h0m26.3 8.1h0m-28-11h0m-50.7-20.8h0m71.5 35.4h0m4.1-8.6h0m-55.3-1.8h0m23.7 1.2h0m-3.1-13.6h0m32.9 21.6h0m-60.8-22.8h0m17.4 21.1h0m-16.8-19.6h0m-4.7 4.2h0m69.5 16.6h0m-79.5-26h0m47.4 27.7h0m-0.5-11.1h0m-17.8 12.8h0m-27.3-36.2h0m45.6 1.2h0m28.7 25.4h0m-58.3-9.9h0m26.4-11.2h0m-25.2-5.3h0m19.5 5.1h0m-6.5 15.7h0m-7.9-20.1h0m9.9 20.2h0m-2.9 4.5h0m-17.1 0.2h0m48.9 7h0m-51.3-2.4h0m15.6-24h0m8.2 24.8h0m-14.6-21.2h0m24.4 8.9h0m25.2 8.8h0m-45.4 2.9h0m7.4 3h0m-18.1-5.9h0m47.8-9.6h0m3.9 7.6h0m-61-27.1h0m11.5 28.4h0m56.2-5.4h0m-61.4-16.9h0m-2.5-7.9h0m27 22.5h0m-5.1 5.4h0m15 6.2h0m-2.4-1.6h0m24.8 2h0m11.5-15.3h0m-45.5-18.3h0m16.3 16.3h0m23.2 17.4h0m0.5-0.5h0m7.2 4.8h0m-84.8-43.9h0m46 14h0m0.5 24.7h0m9.3 2.9h0m-31.6-33.3h0m-10.6 25.9h0m64.9 6.5h0m-36.8-1.8h0m-33.5-31.9h0m72.6 34.2h0m3.3-0.4h0m-41.2 1.4h0m34.3-5.9h0m-21.3-3.3h0m-43-20.3h0m9.6 19.2h0m36.2 0.6h0m5.2 3.7h0m16.9-3.3h0m-1.1-3h0m-40.3 3.1h0m-32.7-29.8h0m55.3 30.6h0m-1.4 4.2h0m-23.2-30.8h0m47.9 30.7h0m-48.1-25.6h0m27.9 30.6h0m15.1-4.6h0m-67.8-28.2h0m68.4 29h0m4.4-1.4h0m-8.3 3.8h0m-52.7-31.6h0m-7.9 26.7h0m-17.9-26.3h0m62.2 23h0m19.7 5.8h0m-57.4-38.8h0m6.6 1.3h0m10.8 30.3h0m-10.7-13.1h0m49.6 18.3h0m-27.7-19.9h0m-24.4-14h0m6.8 11.6h0m-21.2 13.8h0m20.5-23.8h0m20.6 30.5h0m8.9 3.3h0m-43-7.1h0m13.6 10.2h0m-1.6-10.8h0m22.5 11.4h0m-45-23.6h0m24 8.2h0m20-6.2h0m-5.6 23.9h0m-10.8-12h0m-12.4-4.7h0m11.9 2.4h0m42.2 7.6h0m-8.4 7.8h0m-44.4-26h0m13 4h0m44.9 18.7h0m-37.4-13.2h0m38.1 13.3h0m0.8-3.5h0m-81.5-32.5h0m57.8 23.9h0m-33.2-34.4h0m28.4 39.7h0m-17.6-26h0m-30.6-1.3h0m5.5 1.9h0m40 22.8h0m4.9 1.6h0m-50-30.4h0m43.9 4.6h0m27.7 26.2h0m-1.5-8.2h0m-78.2-26.3h0m84.1 40.1h0m-27.6-6.4h0m23 10.7h0m-30.6-30.5h0m5.2 22.9h0m-7.2-4h0m-26.8-4.8h0m3.7 11.7h0m3.7-2.6h0m56-0.6h0m-2.7 0.3h0m-40.5-12.3h0m-12.1-16.7h0m-18.9-1h0m73.9 28.3h0m-47.9-1.4h0m0.7-0.1h0m15.1-3.9h0"/>
<path stroke="#9afca5" d="M872 504.8h0m-3 13.5h0m-71.4-27.6h0m8-16.6h0m3.5 37.4h0m50.2 5.2h0m-34.1-7.8h0m-14-17.1h0m-18.8-14.3h0m18.5 40.7h0m43.2-15.7h0m-18 12.8h0m-43.6-32.5h0m40.9 23.5h0m-13.3 2.5h0m49.3 1.4h0m-54.7 5h0m5.8-22.5h0m5.4-3.6h0m2.8 20.9h0m31.7-1.2h0m-37.9-18.5h0m-9.4 24.5h0m51.6-6.2h0m-27.3-12.6h0m-25.8 23.3h0m14.6-35h0m9.5 16.9h0m4.6 8.3h0m33.1 1.9h0m-51.4-0.9h0m41.2-2.5h0m-51.6 5.2h0m56.6-2.8h0m-62.8 1.4h0m3.9-12.7h0m20.3 14.8h0m46.5 4.5h0m-3.8-1.6h0m-13.7-1.5h0m14.9-0.6h0m-30.4-40.8h0m7 41.3h0m15.2-5.6h0m-22.4 1.7h0m-30.7-23.6h0m17.5-3.7h0m-27.2 17.7h0m25.1 16h0m10.1-36.5h0m8 34h0m-40.9-0.8h0m25.1-27.4h0m-22.9 104.4h0m20.2-74.7h0m-29.2-29.1h0m19.9 19.4h0m46.8 0.2h0m-26-20.3h0m-27.8 22.2h0m23.3-5.7h0m-26.4 1.1h0m21.1-17.5h0m-22.3-1.4h0m21.4 0.3h0m-11.5 27.7h0m-12.9-26.6h0m32.4-1h0m19.4 27.8h0m-35.6-13.1h0m13.9-21.4h0m-2.2 14.8h0m-7.3-10.1h0m1.5-5.3h0m-18.1 6.4h0m14 2.5h0m29 22.2h0m-39.6-24.8h0m-3.3 24.2h0m23.8-17.8h0m31.8 20.1h0m-46.2-4.1h0m-22.9-20.6h0m59.2 19.8h0m6.1 8.8h0m-69.1-25.9h0m20.7 5.8h0m-5.2-10.2h0m35.6 3.7h0m-35.5 19.3h0m6.8-1.4h0m26.9-7.9h0m22.8 4.8h0m-69.3-25.9h0m29.8 36h0m-20.9-26.7h0m13.4 2.2h0m-2.8 15.7h0m45.6 5.5h0m-48.5-18.7h0m25.2 1.4h0m-21.4 21.4h0m-1.2-9.8h0m-3-25.6h0m7.6 29.8h0m21.2 1.3h0m17.8 2.7h0m-7.7 2.3h0m-21-40.3h0"/>
<path stroke="#a5f89f" d="M843.1 493.6h0m4.9 14.2h0m-48.8-19.9h0m31.7 22h0m-20.7-11.3h0m56.2 12.6h0m-73.6-26.4h0m5.6 13.1h0m69.8 13.4h0m-28.5-0.6h0m24.5 2.1h0m-16.9-5.1h0m-40-10.2h0m21.9 17.1h0m-9-36.4h0m-25.6-14.9h0m27 52.9h0m19.4-2.9h0m-6.5-27.3h0m-28.9 23.4h0m15.5-21.6h0m-14.1-9.6h0m39.4 30.4h0m-16-18h0m-29.7 2.7h0m36.7-4.1h0m-41.5-0.4h0m21.8 3.4h0m16.5 10.2h0m8.4 8.9h0m24.1 5.2h0m-56.2-28.2h0m-8.1 2.5h0m0.4 5.5h0m-4 1.8h0m35.2-1.6h0m-31.1 8.2h0m1.3-9.5h0m9.4-3.4h0m-11-0.8h0m44.5 16.7h0m-38.2-14.6h0m9.2-10.4h0m-13.5 30.5h0m26.3-16.5h0m23.1 7.3h0m-33.8 4.2h0m2.7-21.2h0m39.2 22.4h0m-47.2-21.1h0m-6.3-9.8h0m37 31.4h0m-26.8-12.9h0m30.7 14.4h0m-19.3-11.9h0m4.9 2.2h0m-36.6-24.1h0m34.4 8.4h0m-4.4 20.3h0m3.7-9.9h0m30.5 5h0m-28.2 5.5h0m-9.7 1.2h0m5.3-14.7h0m4.9 0.1h0m-20.7-5.5h0m14.1-4.3h0m20.2 19.5h0m-3.6 2.8h0m5.8 7.2h0m-44-6.3h0m15.6-19.5h0m7.7 2.5h0m2.7 4.3h0"/>
<path stroke="#aff498" d="M787 463.9h0m9.8 4.9h0m58.1 44.3h0m-6.2-3.9h0m-17.2 4.6h0m-24.1-3.3h0m49.2-1.8h0m-34.2-6.3h0m-17.8-16.8h0m52.9 22.7h0m-20.2 2.1h0m-4.6-7.8h0m-7.1 6.6h0m23.2 4.3h0m2.6-2.9h0m-34.3 2.1h0m4.9-4.2h0m-13.9 0.6h0m8.6 4.7h0m-22.8-27.8h0m16.9 23.7h0m-15.1-15.8h0m44.4 11.4h0m-5.4 5.9h0m1.8 4.8h0m-4.1-9.4h0m10.8-0.7h0m15.6 4.6h0m-42.9 2.3h0m6.3-3.9h0m-14 0.5h0m52 2.3h0m-36.6-7.5h0m17 0.5h0m-38-18.3h0m28.7 24.5h0m33.5-5.5h0m-22.1 6.1h0m-32.2-3.8h0m23.6 5h0m5.2-7.6h0m-35.5-38.6h0m10.3 39.2h0m8.1-16.7h0m6.9 4.1h0m-35.7-1.9h0m30.5-8h0m-4.9 30.5h0m10.6-29.2h0m15.9 31h0m-18-28.1h0m30.4 14.4h0m-18.5-15.5h0m-3.2-0.8h0"/>
<path stroke="#baef91" d="M832.3 505h0m1.6-16h0m28.6 9.9h0m-4.7 12.1h0m-33.7-24.1h0m8.8 3.1h0m14.7 13.6h0m-7.9-12h0m0-3h0m-1.6 22.4h0m-6.3-25.1h0m-23 16.3h0m41.2 8.3h0m1.3 4.5h0m-24.1-27.8h0m23.6 21.1h0m-43-20.6h0m51.7 25h0m-43.8-4.5h0m37.9 0.3h0m-30.5 9.1h0m7.9-16h0m3.2 4.4h0m-7.5-20.6h0m2.2 24.2h0m37.4-2.5h0m-37.6 0.6h0m-13.2-20.7h0m9.1-4.7h0m36.4 17.8h0m-36-12.8h0m24.4 19.5h0m-23.2-22.4h0m27.9 25.5h0m-27.9-25.4h0m23.5 29.1h0m12-0.6h0m-60.7-11h0m50.1 9.7h0m-24.9 5.6h0m14.5-36.1h0m-15.1 6.6h0m15.2 21.4h0m-6.5-23.4h0m9.9 14.4h0m-37.9-1.2h0m32.1-11.7h0m-28.5 25.3h0m29.6-30.1h0m-4.9 5.9h0m-0.2 0.4h0m19.9 16.4h0m-8.8 1.6h0m-1.3 1.5h0m-51.3-20.6h0m35.1 17.3h0m13.5 10.9h0m-16.8-7.5h0m-0.1-0.8h0m31.1 5.5h0m-25.6-1.9h0m-26.6-5.3h0m10 12.1h0m29.9-7.3h0m-25.7-4h0m-14.8 1.1h0m15.2 3.5h0m13.1-23.2h0m6.5-3.5h0m-11.7 7.3h0m3.1 14.6h0m0.1-18.3h0m-15.8 7.1h0"/>
<path stroke="#c5e88a" d="M826.3 510.1h0m34.2-1.4h0m-37-13.3h0m44.4 14.9h0m-38.2-23.9h0m8.7-0.3h0m-14.9-1.1h0m4.7-1.6h0m0.1-2.7h0m-1.6 9.9h0m8.2-4h0m-14.4 4.6h0m10.6-8.2h0m26.1 28.9h0m0.4-5.5h0m-43.7 1.7h0m13.3-19.9h0m-26.1-3.4h0m45.5 28h0m-15.1-4.1h0m9.6-10.7h0m-27.7 9.7h0m20.6 3.7h0m6.1-23.5h0m-3.7-4.1h0m-17.3 27.2h0m25.2-1.1h0m0.9 3.6h0m-17.3-27.2h0m-21.6 2.9h0m26.8-2.4h0m16.7 15.7h0m-41.5 11.1h0m31.9 5.1h0m-1-32.6h0m14.5 31h0m-5.6-7.8h0m-12.4-24.9h0m26.3 21.4h0m-21.1-17.9h0m-5.9 21.9h0m21 2.5h0m-38.7-4.1h0m17.5-18h0m-17 19.6h0m27.6 1.2h0m-8.1-26.8h0m20.1 34.4h0"/>
<path stroke="#cfe183" d="M831.5 508.9h0m7.3-23.1h0m-12.4-0.9h0m10.4-0.2h0m20 27.6h0m10.5 3.8h0m-33.4-4.5h0m11.4-6.2h0m-4.1-14.2h0m25.1 16.4h0m-28.5-1.2h0m-11.7-19.7h0m-23.3 2.3h0m54.1 18.4h0m-0.3 0.6h0m-28.3-19.2h0m-26 18.3h0m28-14.1h0m-26.8-5.3h0m51.5 16.6h0m-15.2-17.5h0m-27.7-0.3h0m14.8 1.4h0m8.8 3.4h0m-10.8-4.3h0m-12.6 7.4h0m36.9 7h0m-16.5-12.9h0m-2.7 3.1h0m-26.9-3.6h0m33.2-2.9h0m-4.1-1.1h0m-3.5-0.4h0m-0.6 4.3h0m16.6 20.3h0m-32 3.1h0m23.1-22.7h0m4.1 1h0m-11-1.8h0m-0.6 19.3h0m4.7-26.6h0m3.7 1.6h0m-27.4 23.8h0m18.1-19.8h0m-25.9 5.7h0m15.7 8.3h0m34.5 11.3h0m-44.9 4.2h0m9.5-12h0m24.7-17.9h0m26.8 21.6h0m-48.7-25.3h0m19.6 3.1h0m-18.9 20.7h0m8.6-22.3h0m2.8 31.9h0m-2.7-14.7h0m13.4 3.2h0m-0.8-18.8h0m-8.7-4.1h0m-2.7 3.5h0m-20.2 24.8h0m28.3 4.6h0m-11.7-32.9h0m-8.6 21.5h0m18-8.5h0m-8.8 19.2h0m42-4.6h0m-49.2-1.4h0m17.4-20h0m-3.5-0.9h0m-22.7 26.5h0m14.4-27.4h0"/>
<path stroke="#dad97c" d="M804.4 485.2h0m34.2-0.4h0m-12.5 0.7h0m-1.1-6.7h0m-21.1 8h0m21 3.6h0m9.5-6.3h0m9.3 5.1h0m-7.8-5.8h0m4.9 10h0m-15.5-9h0m0.2-2.1h0m-7.7 23.3h0m11.9-17h0m6.6 0.5h0m-4.6 0.4h0m1.7-0.4h0m0.2-2.2h0m23.5 8h0m-20.5-7.3h0m11.8 1.2h0m-17.9-7.9h0m6.6 7.4h0m-24.3-12.5h0m13.2 8.8h0m18.6 3.7h0m-17.4 2.2h0m4.9-9.6h0m-3.5 6.3h0"/>
<path stroke="#e4cf75" d="M839.6 485.6h0m-9.9 0.9h0m2.6 6.9h0m-7.2-3h0m3.4-5.3h0m-0.1-3.7h0m9.7 2.9h0m-13.4 5.8h0m7.7 2.9h0m-21.1 10.1h0m19.5-17.5h0m-33.3 5.7h0m15.9 14.5h0m16.1-18.7h0m2.8 3.5h0m-9.7-6.2h0m18.4 3h0m-1.3-7.3h0m-7 6.4h0m-1.7-1h0m7.3-1.8h0m-23.9-6.3h0m19.8 5.4h0m23.6 9.6h0m-19.5-8.2h0m-8.1 39h0m-21.7-13.5h0m29.8-18.9h0m-7.9 27.8h0m-21.7-3.5h0m46.9-40.1h0m-30.7 35.7h0m-21.5 4.3h0m0.5-6.2h0m7.6-2.6h0m-1.1 12.4h0m-1.9-9.8h0"/>
<path stroke="#efc56d" d="M814.9 485h0m-5.6 23.1h0m-12.4-9.1h0m7.4 16.1h0m-1.6-4.4h0m16.6-10.3h0m19.7 17h0m-33.8-38.8h0m26 12.1h0m-5.7 17.3h0m-9.1-5.8h0m1.5 5.2h0m16 8.8h0m-30.6-5.3h0m5.4-2.7h0m20.1 3.1h0m-23.6-4.4h0m9.4 4.9h0m3.8-2.3h0m-9 2h0m-3.9 2.4h0m1-17h0m-1.4 17.6h0m22.6 1.2h0m33.6-20.1h0m-31.3 20.3h0m-1.7-7.4h0m-15.6-1.3h0m-10.2 0.8h0m11.9-1.3h0m-14.3-16.7h0m8.8 21.1h0m26.8 13.6h0m0.7-24.5h0m-21.8 17.8h0m19.9-15h0m-23.4 17.5h0"/>
<path stroke="#faba65" d="M828.2 511.4h0m7.6 6.8h0m-23.2-16.2h0m25.8 16.2h0m-12.6-0.1h0m-23-7.4h0m29.3 7.2h0m-18.8-12.1h0m21-0.1h0m11.9-22.3h0m7.1 6.3h0m-32.3 22.2h0m0.6-9.8h0m30.9-23.1h0m-0.9-0.5h0m11.9 2.9h0m-11.9-1.9h0m-2.5 2.6h0m-27.4 32.1h0m12.4-0.3h0m-6.1-5.7h0m9.8-18.8h0m-28 16.7h0m42.2-25.4h0m7.5 12.7h0m-26.7 18.7h0m-28.2-6.3h0m44.3-21.7h0m-15.8 28.5h0m-27.2-25.2h0m39.4-9.3h0m-19.2 36h0m38-26.7h0m-60.2 23.8h0m-2.4-3.9h0m27.2 2.2h0m-24.9 9.1h0m55.3-38.8h0m-37.8 41.6h0m-15.6-8.3h0m53.8-32.2h0m-26.6 5.2h0m22.8-5.2h0"/>
<path stroke="#ffae5e" d="M817.9 493.4h0m29.1-95.4h0m-2.1 24.4h0m-22.6 10h0m-16-9.8h0m13.1 9.4h0m30.6 30.5h0m-18.2-5.9h0m-5.3 38.9h0m-15.7-12.6h0m-4.5 29.5h0m10.9-0.2h0m-6.3-1.8h0m26.2 3.5h0m-25.9-4.2h0m5.6 8.2h0m20.9 5.2h0m-22.2-34.1h0m-4.4 6.1h0m23.7-6h0m-29.3 23.7h0m19.8-20.1h0m-2.9 4.3h0m-14 25.9h0m27.5-12.4h0m-9.5-4.6h0m11.7 12h0m-24.7-5.1h0m23.3-0.9h0m-6.7-2.9h0m28-30.3h0m-5.9 17.9h0m-42.5 16.8h0m14-3.2h0m-18.7-3.9h0m-0.7 0h0m51.8-27.8h0m-56.9 24.3h0m60.5-22.2h0m1.8-3.8h0m-11.6 21.1h0m11.1-14.8h0m1.6-6.6h0m-0.7 29.2h0m-14.8-27.7h0m7.3 4h0m-25.5 0.6h0m2.7 10.9h0m-26.7 22.9h0m7.9-7h0m-9.7 0.8h0m15.4-7h0m-6.8 0.6h0m27.3 9.3h0m-13.7-22.2h0m-21-3.7h0m-12.1 6.4h0m40 16h0m-6.8-7.3h0m41.2-19.5h0m-59.4 36.9h0m-6.4-13.7h0m0.9 1.1h0m8.9-1.3h0m-1 0.8h0m11-1.9h0m3.1-14.3h0"/>
<path stroke="#ffa256" d="M824.8 515.5h0m-20-6.2h0m24-2.4h0m21.1-16.6h0m-41 24.8h0m-3.6-17h0m8.7 6.4h0m9.3-0.6h0m-3.4-12.7h0m-15.1 15.5h0m26.6-24h0m-27.7 7.7h0m52.1-4.8h0m-30.5 16.3h0m20.8-26.4h0m-27 38.5h0m15.3-25.6h0m-16.5 24h0m45.9-33.6h0m-63.5 31.9h0m25.5-22.8h0m29.7 7.4h0m8.9-13.4h0m-55.4 10.4h0m-6.1-1h0m0 17.8h0m22.7-5.6h0m1.5-14.2h0m-0.8-2.4h0m-20.6 33.5h0m-8.4-19.1h0m47.7-11h0m-22 30h0m25.6-40.4h0m-16.5 23.8h0m-7.4 8.4h0m-1.6 2.6h0m-18.6-5.6h0m48-7.8h0m-34.3 18.4h0m-20.4-17.4h0m4.8 4.7h0m7.2 3.6h0m-5.8-8.7h0m-4.3-8h0m4.7-3.9h0m40.9-10.7h0m-44.2 18.5h0m13.5 7.3h0m-9.8 5.2h0m24.2 7.2h0m-28.2-9.5h0m13.8-33.7h0m12.3 11.3h0m-31.5-13h0m10 6.2h0m18.2 27.5h0m13.8 5.6h0m-30.6 1.7h0m3.4-6.2h0m-6.6 4.7h0m49-32h0m-33.4 27.7h0m-11 4.3h0m20.8-3.1h0m-19.5-31.5h0m-17.6-0.9h0m33.9-1.8h0m-30 5.6h0m26.6 25.9h0m-21.3-1.5h0m29.2-13.3h0m-35.5-9.9h0m8.6 27.9h0m23.5-31.6h0m-14 34.6h0m-1.8-30.3h0m-8.3-4.7h0m-10.7 16.7h0m29.2 17.4h0m-13.2-31.6h0m57.4 14.1h0m-67.3 11.4h0m8-5.9h0m4.5-20.7h0m8.8 39h0m31.9-38.4h0m-39.7-0.2h0m-8.4 0.1h0m-3.6 1.9h0m9.2 19.8h0m21.1 4h0m-10.3 8.7h0m-1.5 6.2h0m-26.1-35.7h0m55.6-3.6h0m-41.7 29.3h0m32.8 3.4h0m-26-0.4h0m4.6-37.4h0m-19.2 7.7h0m34.1 25.7h0m-31.4-1.1h0m18.8 2.2h0m20.7-19.9h0m-20.7 104.3h0m-1.8-81.4h0m-4.2 1.2h0m-13.9-29.6h0m4.7 5.3h0m15.6 32.2h0m-22.6-15.2h0m33.6-3.5h0m-14.5-21.5h0m-19.1-0.5h0"/>
<path stroke="#ff954e" d="M819.9 479.8h0m1.2 23.6h0m-0.7-28.5h0m-10.8 7h0m-0.2-0.1h0m10-3.6h0m7.5-2.5h0m-21.1 0.7h0m28.8 28.4h0m-16.8-25.7h0m7.8 36.8h0m-1.2-43h0m2.3 37h0m-19.7 6.9h0m29.9-1.2h0m-30.3-31.1h0m-3.6 19.6h0m-11.5-32.3h0m25.4 21.7h0m22.3 104.3h0m-38.2-88h0m22.6-1.6h0m25.4-28.6h0m-22.7 26.5h0m-26.5-30.1h0m15.3 14.6h0m35.4 1.8h0m-29.8-18.7h0m-22.8 1.8h0m25.3 3.7h0m29.1 6.8h0m-19.7 36.9h0m-33.9-48.5h0m4.2 0.4h0m18.7 31.6h0m-18.3-16.6h0m-11.7-7.3h0m7-3.4h0m24 11.7h0m-15.7-15.4h0m15.9 21.9h0m-20.7-17.1h0m13.8 5.2h0m-24.2 4.2h0m23.4-13.9h0m10.3 10.5h0m-0.4 0.4h0m-27.8 18.6h0m-3.8-27.9h0m14.5 3.2h0m12.3-4.9h0m0.9 27.7h0m-17.5 1.3h0m8.4 0.7h0m3.7 11.7h0m-9.1-41h0m-3.9-4.1h0m19 125.9h0m5-105.3h0m-37.4-15.4h0m4.7-2.9h0m31.1 38.4h0m-14.9-3h0m-4.3-33h0m-3.4-0.9h0m9.7 38.9h0m5.3 2h0m-19.2-37.7h0m2 4.1h0m20.6 8.4h0m1.1-8.8h0m-5-3.2h0m7.3-2.5h0m-29.3 4.2h0m28.1 26.2h0m-0.6 2.1h0m-24.1-35.7h0m37.6 32.4h0m-36.1-28.7h0m65.8 1h0m-43.5 2.2h0m-30.3-3.7h0m33 38.1h0m-16.8 2.4h0m-16.2-38.2h0m-0.2 13.3h0m73.4-11h0m-55.6 34.5h0m-8.1-26.3h0m8.3-10.5h0m13-0.3h0m-18.8 7.9h0m-9.2-11.3h0m-4.3 14.9h0m-0.5-11.4h0m31.6 16.6h0m-18.3 17.4h0m-6.6-17.8h0m25.6-18.9h0m-7.1 33.3h0m-4.7-30.5h0m8.3 24.3h0m-10.4 8.3h0m39.7-28.3h0m-46.5 20.1h0m-0.9-23h0m0.1-5h0m-7.5 6.9h0m-2.9 6.5h0m-3.1-3.2h0m30 12.7h0m-21.2 4.5h0m10.1-21.6h0m43.2-1.3h0m-22.7 23h0m-37.5-23.7h0m36.3 35.6h0m-8.1-35.9h0m-2.6 37.3h0m-15.9-35.8h0m26.1-2.1h0m-24.8 28.2h0"/>
<path stroke="#ff8746" d="M813.3 504.8h0m-1.7 7.1h0m2.4-24.4h0m-17.7 3.3h0m17.5-10.7h0m12 29.1h0m-9-21.1h0m-0.6-4.9h0m8.6 3.6h0m-11.3-10.5h0m13.3 5.1h0m-23.8-1.9h0m-3-2.2h0m12.1 42.5h0m-7.3-38.3h0m15.4 25.9h0m12.1-6.1h0m-20.7 11h0m-1.3-33.7h0m-3.6 26.4h0m14-2.8h0m-15.5-12.7h0m49.7 101.1h0m-57.4-90h0m-0.9-24.7h0m34.4 25.8h0m-26.2 7.6h0m23.3 0.4h0m-27.3-28.5h0m4.8 35.9h0m3.3-29.6h0m18.3 108.8h0m-17.1-106.2h0m23.5 20.4h0m-6.7-2.8h0m-14.6 1.4h0m-13-29.2h0m8.6-2.5h0m3.1 14.5h0m-4.5 1.7h0m14.5-19.6h0m-29.5 4.1h0m30.4 36.2h0m14.8-6.4h0m-24.6-32.2h0m11 32.2h0m11.1 12.2h0m3.2-13.4h0m19.2 88.2h0m-57.3-88.3h0m10.6-26.7h0m20.2 35h0m7.7 76.3h0m-24.7-112.2h0m15.1 25h0m-15.8-23h0m-4.8 3.3h0m-12.1-9.3h0m-2.6 2.9h0m15.4-6.1h0m-15.6 8.7h0m12.4 24.5h0m2.7 9h0m23.5-5.2h0m-14.8-10.6h0m-25.9-10.1h0m60.7-6h0m-32.5 35h0m0.7-15.4h0m-3.9 15.4h0m-5.2-39h0m51.6-0.7h0m-57.4 2.1h0m16.7 32.1h0m-11.3 4.1h0m5.3-33.6h0m-4.2-3.9h0m9.2 32.6h0m3.5-25.3h0m-21.3 24.8h0m13.2-32.6h0m-23.8 0.9h0m1.7 11.5h0m9.9-14.2h0m47.8 6.3h0m-36 32.5h0m9.9 80.4h0m-2.6-120h0m-17.2 33.1h0m17-32.5h0m-20.9 1.5h0m15.3 6h0m-0.9 31.1h0m23.4-0.5h0m-39.2-10.7h0m-4.2-26.6h0"/>
<path stroke="#ff783e" d="M803.4 511.3h0m27.7-25.5h0m11.5-17.9h0m-48.8 14.5h0m40.4 116.2h0m-7-120h0m-10.9 27.3h0m-0.4 0.4h0m9-13.9h0m-17.8-10.8h0m52.2 0.6h0m-31.2 10.2h0m-21-19.8h0m3.2 11h0m10.9-6.4h0m-24.8 1.7h0m59.8-1.5h0m-33.5 28h0m-4.1-23.7h0m38.8-2.6h0m-66.7 10.2h0m21.8-8.4h0m9.9-2.1h0m-28.7 3.2h0m-4-5.2h0m32.7 4.7h0m-9.2 12h0m3.9-2.9h0m35.8-9.5h0m-51.7 25.3h0m5.2-15.5h0m-5-5.6h0m8.4 0.4h0m-7.1-4.6h0m11.8 113.2h0m-5-113.6h0m-19.5 0.8h0m-0.6-2.6h0m66.2 1.4h0m2.5 0.7h0m-48.1 31.2h0m19.3 2h0m-8.9-32.1h0m-17.5 6.4h0m25.2 16h0m-26.5-24.4h0m13.8 0.2h0m-20.9 0.6h0m31.4-15.9h0m-1.3 12.3h0m34.6 2.7h0m-66.4 8h0m-1 1.4h0m29 19.2h0m-8.1 1.8h0m-21.5-32.5h0m56.7 1.7h0m-33.9 28.7h0m12.9-33.4h0m-12.2 8.1h0m35-2.6h0m-36.9-1.9h0m19.3 24.2h0m-10.1-21.5h0m3.7-2h0m31-16.6h0m-23.7 14.9h0m-39.9 4.3h0m62.2 113.2h0m-46.2-104.6h0m-14.3 3.9h0m10.1-15.5h0m1.5 2.5h0m-10-7.8h0m12.1 30.9h0m19-26.5h0m-0.5 0.3h0m-28.9-1.7h0m-8 16.7h0m31.9-16.2h0m-19.6 34.1h0m44.6-26.8h0m-32.2 9h0m-19.3-15.5h0m24.5 117h0m3.6-118.5h0m5.9 33.6h0m-21.6-2.1h0m16.5-33.5h0m-26.3 9.4h0m7.5 2.1h0m-14.6-10.2h0m19.9 30.6h0m-22.1-29h0m0 0.6h0"/>
<path stroke="#ff6936" d="M802.6 480.4h0m5-1.3h0m-4.7 5.6h0m-13-4.8h0m9.8 26.5h0m63-22.2h0m-42.1 5.1h0m41.1-7.7h0m-58.9-3h0m3.6-3h0m19.8 4.9h0m-37.1 9.5h0m65.6-9.4h0m-54.3 23.5h0m-10.4-22.7h0m32.9 25.2h0m-19.6-28.7h0m7.4 6.4h0m3-3.6h0m-1.6 28.5h0m13-23.5h0m-19.5-7.5h0m19.1-4.8h0m2.9 4.4h0m-14.7-1.8h0m-6.3 2.2h0m20.9 1.2h0m-35.1 0.9h0m48.5 116.7h0m-42.2-88.2h0m13.8-30.3h0m-7 2.5h0m3.7-2h0m37.3 115.9h0m-28-103.5h0m39-12.1h0m-48.2-0.4h0m18.5 2.9h0m-31.1-8.3h0m4.5 37.6h0m17.6-28.3h0m12.6 31.1h0m-31.2-32.2h0m-10.7 1.2h0m25.2 6h0m-19.7-10.4h0m65.8 1.5h0m-47.1 26.6h0m-19.1-29.1h0m57.9 5.2h0m-54.7 16.3h0m20.6 3.2h0m2.6-25.1h0m-11.1 4.3h0m-15.9-5.7h0m8.8 29.9h0m13.8-14.3h0m-8 10.7h0m-3-27.1h0m1.3 9.4h0m-13.2 0.8h0m13.1-9.9h0m1.3 4.4h0m17 1.6h0m0.1-3.6h0m-20.8 23.5h0m-10.8-6.1h0m45.3 99.4h0m-52.1-109.5h0m12.2-8.5h0m54.4-4.2h0m-49.5 32.6h0m0.3-15.8h0m-0.8 15.7h0m10-22.7h0m16.7 31.6h0m-9.3-30.5h0m-8.4 2.4h0m6.2-3.8h0m19.1 112.9h0m-18.3-111.9h0m-12.9-5.3h0m-2-1.2h0"/>
<path stroke="#ff5a2e" d="M793.3 481.5h0m13.1 17.4h0m-7.4-2.5h0m25.6 15.4h0m-1.5-35.5h0m-7.5 12.5h0m4.4 7.9h0m-8 0.8h0m16 3h0m-25.5-19.6h0m-2.7 8.4h0m15.1-14.4h0m-1.3 18.2h0m2.7 4.7h0m10.9 4.1h0m-22.3-4.3h0m11.8 3.4h0m7.2 99.7h0m-14-100.6h0m-12.2 3.8h0m31.5-9.1h0m-25.1-1.3h0m1.3-10.2h0m19.9 13.3h0m5.5 3.6h0m-29.5-20.2h0m3.4-4.9h0m1.1 25.2h0m35.8 92.3h0m-15.8-114.6h0m-19.5 1.2h0m-3.7 25.3h0m2.7-8h0m34 4.1h0m-19-15.8h0m-19.3-6.9h0m30.8 17h0m-40.4-17.8h0m9.8 30.6h0m9.9-12h0m-6.8 9.2h0m-7.2-25.2h0m6.6 30.8h0m11.1-11h0m-17-1.1h0m31.6-1.7h0m-27.5-19.5h0m-10.6 11.3h0m13 13.1h0m-12.9-17.3h0m7.2-3.1h0m20.1 14.2h0m-23.8 3.1h0m15.1-21h0m19.3 18.9h0m-34.9 0.5h0m42.2 0h0m-21.9-2h0m6.2-13.5h0m18.1 16.9h0m-32.4-5.5h0m-7.4 1.7h0m31.5 0.1h0m-8.8 0.9h0m-16.5-2.4h0m-1.1-10.9h0m-7.1 19.7h0m30.7-4.7h0m-3.2 3.1h0m-11.2-16.9h0m17.9 113h0m-16.8-116.9h0m-3 15.3h0m-12.4-13.6h0m29.2 20.4h0m-7.2-29.9h0m13.8 24.2h0m-38-13.1h0m39.7 12.2h0m-21.2 12h0m-1.4-29.6h0m-22.5 4.1h0m16.9 19.7h0m-9.3 1.7h0m28.1-6.1h0m-24.6-0.1h0m-6.1-0.6h0m26.2 1.9h0m-5.3 1.7h0m-1.5-5.3h0m18.1 3.6h0m-37.7 5.3h0m23.2-10.5h0m4 107.5h0m3.3-93.3h0m-32.7-27.6h0m10.8 14h0m19.3 7.2h0m-25.2-21.2h0m31.5 34.4h0m5.9-10.9h0m-34.4 10.6h0m1.4-17.9h0m7.1 5.3h0m10.8-2.5h0m-19.5-6.7h0m13.4-15.3h0m-14.9 30.3h0m34.8-7.8h0m-41.7-24.2h0m39.2 26.3h0m-24.6-3.3h0m22.9 2.1h0m-33.3 2.6h0m1 4.6h0m22.9-28.5h0m-14.4 13.6h0m16.7-17.7h0m-32.1 21.7h0m29.2 5.6h0m-18.9-21.6h0m-15 6.2h0m43.3 13h0m-0.7 10.5h0m6-15.5h0m-31.7-9.4h0m32 13.9h0m-37-0.2h0m5.1-19.1h0m15-5.1h0m-3.8 20.4h0m-6 4.1h0m-20.2-20.1h0m17.4 2.7h0m12.6 15h0m2.9 7h0m-15.6-1.3h0m-11.2-2.5h0m20.3 0.5h0m-2-20.1h0m25.3 19h0m-11.1 98.8h0m-7.9-101.9h0m17.6 6.1h0m-5.9-4.5h0m-6.8-4.3h0m1 3.4h0m-16.8-16.2h0m21.6 2.2h0m-13.3-6.6h0m-7.3 37.6h0m-1.6-19.2h0m-18.1-10.7h0m25.4 12.9h0m11.4 2.8h0m-21.1-2.2h0m26.3 5.9h0m-29.5-10.7h0m9.2 3.7h0m16.8 0.4h0m-18.3 13.7h0m12.4-32.5h0m-1.5-1.3h0m-23 20.6h0m-0.1 3.9h0m-0.5 2.1h0m36.3-4.2h0m-27.6-19.2h0m-9-3.6h0m-2.4 22.1h0m11.8-3.4h0m2 14.7h0m2.9-1.7h0m12.9-29.2h0m6.3 116.2h0m-9.6-110.7h0m-29.2-7h0m17.4 18.8h0m-1.6 7.3h0m30.5-3.5h0m-11.3-25.6h0m4.4 31h0m-30.8 0.9h0m27.2-3.1h0m1.4-1.8h0m-34.5-1.2h0m12.9-23.5h0m24.4 32.5h0m-0.2-36.3h0m-5.3 28.1h0m-8.8-19.5h0m-15.7 19.1h0m27.7-2.3h0m-9 0.9h0m-8.7-2.6h0m19.9 3.4h0m-38.5-17.4h0m7.2 21h0m5-19.2h0m0.5 16.2h0m23.5-1.4h0m-32.1-18.7h0m1.4 18.3h0m25.6-6.8h0m3.3-13.8h0m-9.5 29.5h0m13.2-10.9h0m-4.1 5.2h0m-9.6-4h0m1.9-23.1h0m16.4 21.8h0m-34 16.1h0m-12.6-36.7h0m33.9 20.8h0m-26.7-17.7h0m-0.8 19.1h0m36.1 11.4h0m-24.7-30.7h0m23.8 19.8h0m-28-1.7h0m4.4 17.3h0m-0.9-3.4h0m-13.7-33h0m-0.2 21.9h0m25.9 9h0m-6.1-34.6h0m36.2 122.7h0m-41-115.7h0m31.7 111h0m-27-97.2h0m-11.7-13.8h0m12.1 15h0m-16.4-19.7h0m15.4 21.9h0m18.6 0.7h0m-24.5-20.3h0m-8.4 8.5h0m0.3 11.5h0m9.4-21.7h0m-10.5 23.1h0m-3.3-3.3h0m14.2 4.8h0m-10.4-21.5h0m26.3 0.8h0m8.5 30.2h0m-38.2-11.7h0m-4.6-10.8h0m8.5-7.7h0"/>
<path stroke="#ff4a25" d="M806.7 480.7h0m16.5 18.4h0m-8.6-22.4h0m16.9 13h0m-19.7 24.8h0m3.4-13h0m8.2 1.9h0m-7.2-5.3h0m-20.9 3.2h0m7.2-1.9h0m2.6 1h0m-10.1-9.8h0m9.2 6.2h0m21.1-13.8h0m-34.7-8h0m20 25.3h0m3-4h0m-2.1 4h0m22.6-2.2h0m-18.7-2.1h0m-2.8-19.2h0m-8.5 23.8h0m2.2-3.1h0m-14.2-17.4h0m43.9 14.5h0m-46-20.1h0m12.1 25.4h0m5.8-0.3h0m24.7-4.1h0m-22.5 1.6h0m-15.4-16.5h0m32.4 19.2h0m-3.6-4.5h0m14.7 5.5h0m-39.5 1.3h0m14.7-1.8h0m-15.5-4.8h0m-11.2-11.8h0m44.5 16h0m-19.2-2h0m14.7 2.8h0m3-4.3h0m-23.2-7.4h0m-10.2 4.4h0m-7.4-16.3h0m6.8 23.8h0m18.8-5.8h0m-21 5.8h0m2.3 3.5h0m9.8-24.1h0m3.3 17.9h0m-8.5-0.2h0m33.2 2.3h0m-29 8.2h0m22.3-28.8h0m-24.8 23.5h0m13.3-2.8h0m34.3-1h0m-45.2 6.9h0m13.9-25h0m-21.5 2.5h0m1.5 18.2h0m22.3-2.6h0m10.2 7h0m11.4-4.3h0m11.8 0.4h0m1.4-2.6h0m-40.2-4.2h0m-13.6-19.3h0m-7 21.8h0m28.1-15.9h0m-25.5 20.7h0m67.9 0.3h0m-71-3.3h0m55.4-3.4h0m-41.4 7.6h0m-12.9-22.2h0m48.5 16.9h0m-51.4-1.2h0m46.4-2.5h0m-4 0.2h0m-5.5 7.7h0m9-1.4h0m-36.7 0.7h0m59.2-4.2h0m-63.2 1.3h0m63.6 1.6h0m-12.6-1.1h0m-43.5 9.2h0m-8.1-10.7h0m2.5 2.5h0m3 12.4h0m20.7-29.5h0m7.2 14.4h0m-27.2-23h0m-5.5 25.2h0m57.7 95.8h0m2.2-94.2h0m-60.7-4.5h0m11.6 11.2h0m9.8-5.9h0m6.1-7.6h0m-9.6 16.3h0m12.6-9.8h0m-21.4-8.7h0m55.3 2.8h0m-28.1 6h0m-21.3 3.1h0m-10.4-4.7h0m-5.2 0.3h0m7.5-1h0m9.6-25.4h0m50.2 23.9h0m-33.5 0.8h0m-34.1 0.7h0m19.4-23.7h0m-4.5 2.7h0m-7 17.2h0m-11.3-16.8h0m32.5 18.6h0m-9.5-0.7h0m-17.3 5.9h0m-2.5-0.2h0m22.7-15.7h0m9.6 13h0m39.2-2.7h0m-30.4 0.2h0m-23.7 10h0m11.6 89.4h0m-32.5-105.5h0m74.6 2.3h0m-20 12.1h0m-8.3-33.2h0m-25.5 9.5h0m51.5 19.2h0m-13.1 98.8h0m-20.7-100h0m-10.5-20.6h0m24 24.4h0m-49.6-2.3h0m12.8-3.9h0m43.4 1.3h0m-35.3-3.9h0m36.9 7.6h0m-62.9-25.6h0m53.6 4.7h0m-32 21.3h0m-9.3-24.7h0m6.7 35.8h0m-7.5-38.1h0m42.7 25.3h0m-44.2-19.1h0m1 7.3h0m8.5-9.2h0m13.1 16.3h0m-30.3-1.3h0m38.2-0.8h0m-9.9 6.5h0m27.6 5.4h0m-37.9-2.8h0m-19.2-26.5h0m11.3 4.1h0m28.9 21.3h0m28.9-10.1h0m-67.3 4.2h0m5.4 5.4h0m63.8 1.6h0m-29.3-16.4h0m2.9 105.7h0m-20.4-117.6h0m12.3 21.9h0m-26.6 3.6h0m31.7-6.7h0m-12.5-12.2h0m19.9 17.8h0m-42.8-0.7h0m37.1 0.1h0m-8.1-3h0m0.7-22.4h0m-22.2 24.8h0m19.8-3h0m14.6 10.7h0m-2.7-4.4h0m-47.1-18.7h0m26.8 19h0m-5.9-4.5h0m11.2-0.7h0m13.2 0.8h0m-5.4 2.4h0m-19.3-23.8h0m-18.6 4.8h0m47.8 18.9h0m-46.1-27.8h0m19.9 7.9h0m-5.2 19.1h0m36.6 1.1h0m-8.6-2.6h0m-3.8 2.4h0m-12.7-1h0m-5.9-1.2h0m15 0.1h0m-4.2 0.4h0m-4.3-21.2h0m-19.5 26.8h0m47.9 88.4h0m-50.1-95.2h0m24.1 1.4h0m-12.3 6.4h0m-8.3-27.3h0m27 25.5h0m-22.8-10.8h0m2.4 2.1h0m21.4 6.2h0m-40.5-24.3h0m56.1 7.8h0m-26.2 16.9h0m14.9-6.1h0m-22.5 13.3h0m-22.2-26.4h0m2.9 14.3h0m43.5-3.6h0m2.2-0.1h0m-41.1 9.5h0m39.8-4.1h0m-42.3 0.5h0m0.4 1.1h0m39 2.4h0m25.3-4.6h0m-51.7 7.6h0m-16-26.9h0m36.2 23.2h0m8.8-2.6h0m-31.9-5h0m12.6-12.3h0m-15.2 15.3h0m18.7 9.3h0m35.6-7.7h0m-25.5-2.5h0m-27.7-20.1h0m21.8 23.2h0m-19.2 3.4h0m28.2-3.8h0m-4.8 3.8h0m-36.5-5h0m4.2-16.8h0m40.6 19.4h0m-9.1-25.7h0m-16.7 22.3h0m12.1-0.5h0m2.2-14.4h0m22.2 17.7h0m-50.3-5.9h0m56.7 3.5h0m-12.2-0.7h0m5.6 5.6h0m-27.7-2.1h0m15.9-0.6h0m3.9-0.5h0m-18.1-21.5h0m-21.9-1.9h0m10.3 23.1h0m4.1-7.8h0m2 16.4h0m20.5-8h0m-22.2 96.5h0m8.2-100.7h0m25.6 4.8h0m-25.1-24.9h0m4.5 14.6h0m-16.9 9.1h0m52.7-1h0m-63.5-2.9h0"/>
<path stroke="#ff3a1d" d="M800.7 476.6h0m5.4 22.3h0m0.2-0.4h0m24.2-1.6h0m9.1 0.2h0m-13.8-9.2h0m-15.4 8.8h0m27.5 4h0m-16-21.6h0m-5.3 15h0m25.5 5h0m-20.6-2.1h0m9 3.1h0m14.8-0.7h0m-4.3-6.1h0m-3.6 7.2h0m-25.2-24.1h0m56 17.9h0m-41.6-13.1h0m-1.5 29.9h0m38.1-9.1h0m-62.9-23.2h0m29.8 15.2h0m-12.4 5.2h0m-10.6-3.1h0m-8.4 7.1h0m19.5 0.4h0m-12.8-3.9h0m-4.1-19.4h0m10.1-6.7h0m52.8 25.6h0m-57.5-17.6h0m18.1 19.1h0m-24.4 0.6h0m31.8-2.2h0m-25.8 2.4h0m4.5-4.8h0m-1-17.5h0m2.3 21.6h0m-1.4-3.9h0m3.8-8h0m-9.5 13.1h0m31.9-6.2h0m-8.9-5.5h0m-14.5-14.1h0m18 19.6h0m4.3-3.4h0m0.1 8.8h0m-43.3-14h0m-3.5-3.3h0m26.5 19.7h0m-16.4-23.9h0m35.4 19h0m-16.2-1.1h0m14.4-3.6h0m-9.3 4.2h0m-16.9-3.8h0m54.3-0.4h0m-68.7-21.4h0m34.8 23.7h0m12.8-4.1h0m-8.4 7.1h0m-17-26.1h0m-19.2 28.2h0m14.8 4.3h0m-3.3-4.6h0m59.5-1.7h0m-34.4-3.6h0m-18.6 1.1h0m13 3.2h0m-5.3-4.8h0m-16.9-10.9h0m18 12.5h0m-16.2-6.3h0m38.5-7.8h0m-35.8 13.9h0m14.6-17h0m4 0.3h0m-19-2.8h0m58.9 22.2h0m-62.7 3.2h0m2.9-0.6h0m8.1-4.2h0m-7-1h0m6.6-1.4h0m3.4-13.9h0m7 15.6h0m-16.1 2.8h0m45.4-0.1h0m-28.2-18.6h0m-12.4-1.7h0m3.6 20.3h0m-17.8-9.1h0m0.5 11.1h0m24.3-0.8h0m-10.3-2.8h0m-12.4-3.1h0m-4.1 3.1h0m35.5 2.1h0m14.3-0.2h0m-4.6-17.5h0m-27.5 8.3h0m-5.8 9.2h0m-2.6-1.8h0m-4.4-13.3h0m-7.1 10.7h0m-2.1-18.1h0m55.2 21h0m-41.7-0.4h0m1.8 2.8h0m13.2-5.2h0m31.3 0.4h0m10.2 2.6h0m-60.7 2.3h0m18.8-1.7h0m-9.3 1h0m37-0.7h0m-33-0.1h0m-7.9-2.2h0m22.8 3.6h0m-2.2-13h0m-11.2 7.8h0m-2.5 4.1h0m45.6 0.3h0m-35.8-20.1h0m3.1 18.3h0m8.1 1.6h0m-45.5-7.6h0m5.8-12.8h0m35.7 20.9h0m-42.3-18.1h0m22.8 1.1h0m-4.3 14.7h0m17.8 3.3h0m-33.5 1.1h0m33-6.1h0m-13.4-16.8h0m11.1 17.7h0m-19.3-1.5h0m15-14.8h0m20.8 19.9h0m3-20.9h0m-33.4 16.1h0m26.8 2.8h0m-42-18.9h0m44.7 22.7h0m-39 2.8h0m39.7-7.4h0m-25-6.2h0m21.1 3.7h0m-45.9-19.8h0m13.2 2.3h0m-11.5 14.8h0m19.6-12.2h0m16.7 12.8h0m7.7 7.1h0m2.1-4.2h0m-36.9 6.9h0m2.8-7.7h0m16.5 3.3h0m-24.9 4.9h0m12.4-3.1h0m31.2-4.1h0m-35.7-6.2h0m22.3 6.6h0m-2.1 1.2h0m8.7 0.3h0m5.1-0.1h0m-40.4 1h0m33.3-16.3h0m5.8 20.2h0m-29.6-7.3h0m-8.5 1.4h0m2.8 4.2h0m36.2-4.4h0m-34.2-14.5h0m11.7 15.9h0m6.4-19.6h0m16.7 17.8h0m-34.4 2.8h0m-5.2-18.5h0m31.7 20.9h0m-30.4-0.2h0m8.9-20.3h0m-15.2-5.8h0m42.7 20.5h0m-39 4h0m26 0.6h0m1.2-8.9h0m-3.2 16.7h0m-10.5-10h0m-6.8 1h0m-12-22.7h0m52.8 22.1h0m-8.1-3.9h0m2.8 5.8h0m-11.7-1.3h0m-18.5-1.2h0m-15.3 4.2h0m71-3.8h0m-28.1 0.5h0m-27.6 2h0m-14.8-20.7h0m52.5 19.6h0m-37.2-24.8h0m-14.5 24.9h0m3.3-9.9h0m3.7 5.4h0m37.6 1.6h0m-9.7 2h0m14-0.4h0m-30.3 5.8h0m19-15h0m-16.3 6.3h0m-10.6-17.1h0m11.1 21.2h0m19.7-2.1h0m-10.8-1.5h0m-27.1 1.4h0m8.1 5.9h0m14.8-5.6h0m-12.7 0.6h0m-9 1.2h0m-5.2-0.8h0m37.6-2.3h0m-31.1-2.8h0m39.3 6.3h0m-5-3.3h0m-34.8 5.2h0m42.3-1.4h0m-44.5-0.5h0m52.6-3.2h0m-44 4.3h0m27.1-0.7h0m-46.6-14.8h0m33.8 12.9h0m-10.7-4.1h0m-17.4 1.6h0m-2.7-6.9h0m26.9 9.9h0m39.7-6.3h0m-49.6 2.1h0m36 1h0m-45.5-12.5h0m-0.4-2.6h0m60.1 16.5h0m-48.4-10.8h0m30 6.5h0m-8.3 8.7h0m-11.2-22.8h0m-23.9 18.3h0m13.8-16h0m-16.9 17.6h0m21.6-25.6h0m20.4 22.4h0m-28.8-12.8h0m12.6 15.5h0m0.5 3.8h0m-21.4 1.6h0m62-5h0m-42.4 4.6h0"/>
<path stroke="#ff2a15" d="M819.5 477.2h0m-28.4 2.1h0m63.8 21.9h0m-33.2-23.8h0m10.6 20.7h0m-1.2-1.7h0m-36.8-0.1h0m18.1-20.2h0m-12.6 23.1h0m-5.1 1.6h0m39.1-3.1h0m8.5-1.2h0m-16.3-2.3h0m-22.5-14.8h0m19.6 24.9h0m-5.1-8.1h0m-1.8-13.4h0m-21.3-5.3h0m24 17h0m13.4 5.7h0m-6-11.1h0m-2.4-9.8h0m-12.7-1.6h0m21 20.5h0m22.9 2h0m-65.9-23.5h0m17.1 35.3h0m9.4-15h0m-17.6 9.1h0m6.4-5.4h0m-2.7-1.5h0m-6.9 1.2h0m53.5 1.1h0m-0.9-19.5h0m12 15.3h0m-44.2-1.6h0m14.5 1.2h0m-40.2-17h0m15.3 15.2h0m-1.1-13.9h0m12.5 11.3h0m1.2 8.3h0m20 4.2h0m-24.7-5.2h0m-3.7-1h0m-12.2-7.1h0m30.3-16.9h0m-19 7.2h0m-9.5-2.8h0m2.1 16.3h0m-2.1-10.6h0m-6.7 16.7h0m21.5-6.9h0m-3.3 0.5h0m20.6 2h0m-22.3 3.3h0m-13.5-4.3h0m41.1 2.8h0m-40.3-1.7h0m65.5 3.1h0m-29.7-13.6h0m-20.8 3.1h0m46.5 9.5h0m-45.7 0.5h0m15.2-8.6h0m8.2 9.7h0m26.9-0.9h0m-25.6-3.8h0m-37.9 3.8h0m19.4 0.3h0m0.1-21.4h0m4.8 11.6h0m-20.6 8.7h0m-8.2-20.5h0m18.7 0.5h0m-15.3 16.6h0m18.9 2.8h0m10.3 0.7h0m-16.9-0.5h0m-0.6 4h0m19.6-16h0m-28.9-1.7h0m35.5 13.9h0m-12.4-0.2h0m-13.2 0.2h0m12.7-18.9h0m-31 10.3h0m30.7 8h0m-24-3.2h0m9.1 2.9h0m-3.6 0.8h0m14.3 0h0m23.7 0.2h0m-40.9-8h0m23.2-3.6h0m13.9 11.3h0m-28.7-10h0m-14.8 7.6h0m8.7 0.9h0m1.2-3.4h0m21.1 3.3h0m1.3-14.1h0m-17.7-4.8h0m-0.9-2.2h0m4.1 21.7h0m-13.2 5.4h0m25.2-4.3h0m5.1-2.7h0m-26-17h0m16.7 13.4h0m-23 6.5h0m3.5-22.5h0m-3.4 23.9h0m43.6-1.4h0m-19.3-21.5h0m-18.5 14.8h0m-12.3-9.4h0m55 12.8h0m-29.9 1.2h0m3-17.7h0m-16.5-2.3h0m-0.9 20.3h0m16.6 4.9h0m12.9-8.2h0m-2.3 0.4h0m0.4 5.6h0m17.2-3h0m-2.8 2.8h0m-17-24.1h0m-20.8 23.2h0m9.8 1.9h0m-11.6-3.2h0m16.2-1.6h0m-4 1.9h0m31.1-0.7h0m-36.3-15.2h0m-1.9 15.2h0m2.8-20.8h0m1.5 22.7h0m9.1-8h0m19.2 6.2h0m-50.9-15.5h0m51.8 19.1h0m-45.5 1h0m13.5-24.3h0m13.3 15.7h0m-13.3 7.3h0m-5.2-0.3h0m29.1-7.2h0m-29.6-11.2h0m22.3 18.4h0m-26 4.4h0m50.6-1.8h0m-47.8-23h0m35.1 17.5h0m-16.2 4.2h0m4.3-2.4h0m27.9-0.8h0m-10.7-0.8h0m-1.8-6.1h0m-12.6 4.6h0m6.4 3.3h0m-7.1 1.5h0m-34.9-13.8h0m74.3 13.5h0m-46.2-3.8h0m-8.5 2.7h0m46.8 1.5h0m-12.7-3.5h0m-15.3-5.2h0m-8.5 9.7h0m20.7-38.8h0m-41.7 30.2h0m55.9 9.2h0m-19.9-2.7h0m-10.5 0.8h0m-35.9 1.2h0m8.1-2.3h0m13.7-5.3h0m-20 2.2h0m44.7 3.5h0m-4.6-6.7h0m-34.5-2.7h0m17.8 8.7h0m26 4.9h0m-23.9-6.8h0m-5.9-2.8h0m-12.7 4.1h0m35.4-2.3h0m-36.7 1.8h0m-6.8-3.2h0m44.1 4.4h0m-22.4-3h0m14.9 0.6h0m-17.4 5.5h0m19.7-1.5h0m-10.2 1.9h0m16.6-3.9h0m0.4-0.9h0m-16.9-15.6h0m11.4 16.6h0m2.9-1.1h0m-24.4-0.9h0m35.2-1.5h0m-12.2 1.2h0m-33.8 2.5h0m25.2 0.4h0m-6.3 5.2h0m7.2-10h0m-5.1 6.3h0m9.2-6.9h0m-28 6.1h0m23.2-4h0m-31.1 6.1h0m18.3 0.6h0m22.7-8h0m-15.6 3.2h0m-15.7-0.4h0m24.2 2.6h0m-23.4-4.7h0m-10.3-5.9h0m20.4 10.5h0m-12.6 6.3h0m33.9-13.5h0m10.5 6.9h0m-10-1.3h0m15.6-3.1h0m-50 5.5h0m3.5-11.4h0m24.7 8.5h0m23.4-1.4h0m-42.6 0.8h0m19.8-2.9h0m-11.1 2.8h0m-16.2-2.7h0m-0.9 0.7h0m0.9 2.6h0m7.7-7.9h0m14.4 5.1h0m9.3 5.5h0m-1-1.3h0m-15.1-0.2h0m-14.6-2.6h0m29.6 2.8h0m-3.9-3.3h0m-27.9 7.6h0m7.4-9h0m26.8 2.8h0m-30.1-1.8h0m8.9 4.5h0m-7.7-7.3h0m19 2h0"/>
<path stroke="#ff190d" d="M832.9 500.9h0m-34.6 5.2h0m41-11.3h0m-45.7 2.6h0m46.4-1.6h0m-6.5 5.1h0m31-1.5h0m-69.2 1.5h0m13.2-2.3h0m-2.1 2.1h0m30.1-3.9h0m-2.6 3.4h0m-19.2-2.4h0m-6.5-0.5h0m17 3.2h0m-29.2-4.2h0m34.4 3.6h0m-2.7-0.8h0m39.3-2.4h0m-3.5-1.8h0m-61.2-1.9h0m19.4 5.7h0m-26.1-2.7h0m9.5-2.2h0m26.4 3.9h0m-32.6 1.3h0m12.6-4.9h0m-0.8 8.3h0m-7.4-9.3h0m20.6 9.3h0m-13.7-1.4h0m-8.4-5.4h0m14.7 6.6h0m-7.9 0h0m27.5-4.2h0m-3.5 1.5h0m-25.9-5.5h0m6 3.6h0m4.1-1.1h0m-5.7 4.6h0m6.8-9.6h0m50.1 6.3h0m-76.1-0.1h0m34.4 1.8h0m-4.6 2.7h0m-9.2-1.7h0m18.8-3.3h0m-18.4 8.1h0m30.4-3.6h0m-7-4.1h0m8-0.5h0m-5.4 3.4h0m-18.4-4.6h0m26 10.2h0m-51.2-8.6h0m60.5 6.4h0m-44.7-9.3h0m-12.9 9.9h0m45.6-35.1h0m-4.8 28.2h0m-11.3 1.6h0m39.2 4.5h0m-46.1-7.3h0m20 2.1h0m5.6 1.3h0m-18.1-1.8h0m-22.5-2.3h0m4.8 8.6h0m10.3-3.5h0m-2.5-0.8h0m-7.8-1.6h0m43.3 1.3h0m-51.8-0.3h0m29.2-5.2h0m-1.5 3.6h0m-29.9 4.5h0m3.9-3.4h0m19.8-18.4h0m0.6 17.4h0m-29.6-1.9h0m31.6-1.6h0m5.4 2.1h0m-26.5-4h0m10.8 6h0m-17.8 0.2h0m47.7 5.5h0m-24-6.4h0m-0.2 1.4h0m-15.8-0.3h0m-3.7-2.6h0m24.6 1.9h0m38 3.3h0m-31.3-1.5h0m-6.4 0.7h0m6.4-4.1h0m-8.7 3.2h0m-24.4-1h0m22.9-0.1h0m-6.9-0.4h0m-22.5 4h0m39.5-3.4h0m-23.9 2.4h0m-13.9-3h0m34.8 3.9h0m-36.7-4.3h0m41.1-2.9h0m-34.2 4h0m57.3 4.1h0m-44-6.6h0m-14.2 7.9h0m41.2 0.4h0m-7.6-6.2h0m-37.5-3.7h0m5 0.8h0m59.8 6.9h0m-39.3-5.9h0m16.8-2.6h0m-37.6 1.1h0m2.9 4.8h0m22-1.6h0m-2.9 2.5h0m-27.4-4.1h0m26.3 3.9h0m-3.1 0.7h0m-6.5-6.8h0m-18.3 1.4h0m43.5 3.3h0m-28.2-1.2h0m37.9 0.3h0m-51.9-1.3h0m23-0.9h0m6.9 1.4h0m-6.4 6.6h0m27-4.9h0m-8.2 2.8h0m-36-1.4h0m29.2 7.9h0m-32.9-10.5h0m43.4-0.8h0m-14.6-27.6h0m-2.3 29.5h0m9.2 0.7h0m4.8 1.6h0m-36.2-5.5h0m50.1-0.2h0m-27.1 4h0m32.6-4.7h0m-43.7-11.3h0m22.9 18.3h0m-38.7-0.1h0m-3-1.8h0m42 3.9h0m1.6-5.1h0m-18.4-2.3h0m19 1.3h0m-22.1-0.1h0m19.1 4.7h0m-25.9-5.5h0m4.5-2.2h0m23.3 3.7h0m-36.2 1.9h0m26.3 0.3h0m4.7-0.9h0m-8.2-2h0m-3.5-1.1h0m2.9 0h0m20.6 2.5h0m-8-5.7h0m-6.6 14.2h0m-4.9-10.8h0m-8.2 2.5h0m-22.8-2.4h0m32.2 3h0m18-4.9h0m-14.4 2.8h0m7-2.1h0m-27.3 6.7h0m18.8-9.3h0m10.3 5.8h0m-4.3-9.8h0m24 7.9h0m-24 2.6h0m-17 2h0m-18.3-4.6h0m20.8 1.3h0m43 3.1h0m-35.1 0.3h0m-19-5.2h0m-12.9 2.3h0m26.3 2.2h0m-4.2-16.2h0m44.3 10.2h0m-7.7 6.6h0m-40.1-7.3h0m19.3 3.8h0m3.8-0.3h0m-28 2.9h0m-10.7-12.6h0m30 10.8h0m8.6-6.3h0m-40 5.4h0m4.7 10.5h0m-0.5-7.3h0m37.9-2.8h0m15.8 2.5h0m-2.3-1.9h0m-2.4-1.2h0m-25.4-2.9h0m-3.5 9.5h0m7.3-6.8h0m-24-5.7h0m-6.6 9.2h0m3.8-1.5h0m28.4 5.9h0m16.6-7h0m-10.3 0.1h0m-17 2.6h0m30.7 0.1h0m11.3-4.1h0m-42 2.3h0"/>
<path stroke="#ff0804" d="M847.4 502.9h0m-21.1 3.6h0m-24.7-4.9h0m35.6-3.5h0m-9-2h0m-12.1-0.8h0m-4.5 7.9h0m2.2-6.9h0m-14.1 2.5h0m14.3 3.1h0m23.2-3.1h0m2.1-2.6h0m-9.4 0h0m-11.2-0.7h0m43.6 6.2h0m-28.3 1.2h0m-2.6-8.8h0m-8.2 9.7h0m3.6-7.4h0m13.6 2.3h0m-7.5-3.6h0m-32.6 4.3h0m-2.3 3.2h0m34.7-6.8h0m-20.9 2.4h0m7.2-2.8h0m41 4.9h0m-48-4.9h0m49.7 8.7h0m-26.3-7.4h0m-1.8 0.9h0m-36.3-2.2h0m2.1-35.4h0m-0.4 5h0m0 4.6h0m44.4 5.4h0m-31.7-88h0m-53.5 85.9h0m54.6 21.5h0m9.3 5.1h0m-27.7-2.3h0m17-1.6h0m2.3 1h0m10.4 1.9h0m-29.5 4.2h0m35.1-6.7h0m-21.4 5h0m45.2-2.8h0m-52.2 0h0m-3.4-2h0m41.1-0.6h0m-0.8 1.2h0m-0.9 5.9h0m-14.7-2.7h0m42.7-0.1h0m-24.7-2.1h0m-4.3-1.4h0m-38.3 2.1h0m-5.6 1h0m28.5 1.9h0m-27.8-3.8h0m3-1h0m69.9 5.7h0m-60.3-2.2h0m22.4 0.4h0m-22.3 1.6h0m2.1-1.4h0m28.1-3.5h0m-18.7 2.9h0m-2.9-2.9h0m-2-0.1h0m18.7 2.9h0m-19.7 2.2h0m30.3-22.3h0m-16.7 15.4h0m-24.7 4.7h0m22.7-5.1h0m3.2 9.8h0m32.9-8.3h0m-58.1-3.5h0m16 11.7h0m12.3-6h0m36.3 1.7h0m-30.1-4.8h0m-29.2 5.3h0m33.4-19.1h0m9.2 20.1h0m-35.4-2.4h0m20.2-1.5h0m-1.2-3.9h0m-25.4 4.3h0m-1.6-3h0m44.6 4.6h0m-11.7-2.7h0m-28.8-1.3h0m28.5-0.3h0m15 4.5h0m-5.1-2.6h0m-36.3-0.7h0m-13.1 2.1h0m26.8 0.8h0m-8.3-2.7h0m-20.9 2.7h0m1.4-2.1h0m57.1 5.6h0m-21.8-6h0m-36.4 3.9h0m39.9-9.3h0m-12.2 2.8h0m-24.5 0.5h0m2 5h0m28 8.2h0m-37.5-14.9h0m46.6 1.8h0m7.5 0.5h0m-44.9 7.6h0m-8.2-2.5h0m14.2-1.8h0m53.7-0.3h0m-36.9 2.7h0m15.6-7h0m16.3 2h0m-44.6-2.1h0m-10.2 3.6h0m29.7 0h0m6.3-4.5h0m-15.5-12.1h0m16.9 18.8h0m-12.6-4.5h0m-4.3 2.3h0m-2 0h0m28.4-18.5h0m-26.8 19.7h0m-27.9-4.5h0m42.7 1.9h0m1.2 0.1h0m-32.2 4.1h0m31.6-1.5h0m-11.8-0.3h0m20.9 2.8h0m-32.5-1.4h0m-21.6-7.5h0m46 6.2h0m9.5-15.4h0m-23.9 16.7h0m36.8-5.3h0m-21.9 6.1h0m4.5-5.2h0m-27.6 4h0m-9.7-0.1h0m-11.9-1.1h0m41.2-0.7h0m-15.1-2.1h0m46.1 5.6h0m-27.7-3.8h0m-14.4 0.2h0m35.5-3.6h0m-27 8.4h0m-9.8-1.6h0m-12-1.8h0m-10.3-0.3h0m21.6 2.9h0m9.1-5.4h0m-19.2 4.9h0m-2-3.1h0m-13.8-1.3h0m73 0.7h0m-41.7-2.6h0m-15.8 0h0m2.6 0.8h0m-6 0.8h0m17 3.8h0m13.1 1.5h0m14.3-3.3h0m-27.2-0.6h0m-12-2h0m24.5 2.3h0m-41.3 0.1h0m7-2.6h0m28.2 1.2h0m2.6 2h0m34.7 3.3h0m-11.9-8.3h0m-24 2.2h0m17.2 4.4h0m-16.7 1.4h0m-35-2.8h0m40.8-4.2h0m-31.9 1h0m-3.5-1.8h0m61.6 0.6h0m2.8 4.9h0m-43.3 0.7h0m17.3-2.2h0m-41-5h0m-0.4 3.2h0"/>
</g></g>
<g fill="none" stroke="#000" stroke-width="2">
<rect x="242" y="54" width="510" height="103"/>
<rect x="753" y="54" width="109.3" height="103"/>
<rect x="753" y="158" width="109.3" height="495"/>
<path d="M241 157.5H863.3" stroke-width="3"/>
<path d="M752.5 53V654" stroke-width="3"/>
</g>
<rect x="158.5" y="690.5" width="786.5" height="38" fill="url(#rb)" stroke="#000" stroke-width="1"/>
<g stroke="#000" stroke-width="1">
<path d="M158.5 728.5V732.5"/>
<path d="M289.58 728.5V732.5"/>
<path d="M420.66 728.5V732.5"/>
<path d="M551.74 728.5V732.5"/>
<path d="M682.82 728.5V732.5"/>
<path d="M813.9 728.5V732.5"/>
<path d="M944.98 728.5V732.5"/>
</g>
<text x="307.6" y="46.3" font-size="24" text-anchor="start" fill="#000" textLength="487.5" lengthAdjust="spacingAndGlyphs">SAETTA Lightning Mapping Array - 161001</text>
<text x="218.6" y="51.8" font-size="11.3" text-anchor="start" fill="#000">15</text>
<text x="218.6" y="86.8" font-size="11.3" text-anchor="start" fill="#000">10</text>
<text x="219.9" y="121.7" font-size="11.3" text-anchor="start" fill="#000">5</text>
<text x="219.9" y="156.7" font-size="11.3" text-anchor="start" fill="#000">0</text>
<text x="186.4" y="104.8" font-size="12" text-anchor="start" fill="#000">Km</text>
<text x="233.8" y="211.4" font-size="11.3" text-anchor="end" fill="#000">44.5°N</text>
<text x="233.8" y="262.4" font-size="11.3" text-anchor="end" fill="#000">44°N</text>
<text x="233.8" y="312" font-size="11.3" text-anchor="end" fill="#000">43.5°N</text>
<text x="233.8" y="362.4" font-size="11.3" text-anchor="end" fill="#000">43°N</text>
<text x="233.8" y="412.4" font-size="11.3" text-anchor="end" fill="#000">42.5°N</text>
<text x="233.8" y="461.6" font-size="11.3" text-anchor="end" fill="#000">42°N</text>
<text x="233.8" y="510.6" font-size="11.3" text-anchor="end" fill="#000">41.5°N</text>
<text x="233.8" y="559.4" font-size="11.3" text-anchor="end" fill="#000">41°N</text>
<text x="233.8" y="607.4" font-size="11.3" text-anchor="end" fill="#000">40.5°N</text>
<text x="233.8" y="655.6" font-size="11.3" text-anchor="end" fill="#000">40°N</text>
<text x="241.4" y="666.9" font-size="11.3" text-anchor="middle" fill="#000">5°E</text>
<text x="277.9" y="666.9" font-size="11.3" text-anchor="middle" fill="#000">5.5°E</text>
<text x="314.4" y="666.9" font-size="11.3" text-anchor="middle" fill="#000">6°E</text>
<text x="350.9" y="666.9" font-size="11.3" text-anchor="middle" fill="#000">6.5°E</text>
<text x="387.4" y="666.9" font-size="11.3" text-anchor="middle" fill="#000">7°E</text>
<text x="423.9" y="666.9" font-size="11.3" text-anchor="middle" fill="#000">7.5°E</text>
<text x="460.4" y="666.9" font-size="11.3" text-anchor="middle" fill="#000">8°E</text>
<text x="496.9" y="666.9" font-size="11.3" text-anchor="middle" fill="#000">8.5°E</text>
<text x="533.4" y="666.9" font-size="11.3" text-anchor="middle" fill="#000">9°E</text>
<text x="569.9" y="666.9" font-size="11.3" text-anchor="middle" fill="#000">9.5°E</text>
<text x="606.4" y="666.9" font-size="11.3" text-anchor="middle" fill="#000">10°E</text>
<text x="642.9" y="666.9" font-size="11.3" text-anchor="middle" fill="#000">10.5°E</text>
<text x="679.4" y="666.9" font-size="11.3" text-anchor="middle" fill="#000">11°E</text>
<text x="715.9" y="666.9" font-size="11.3" text-anchor="middle" fill="#000">11.5°E</text>
<text x="753" y="666.9" font-size="11.3" text-anchor="start" fill="#000">0</text>
<text x="789.6" y="666.9" font-size="11.3" text-anchor="start" fill="#000">5</text>
<text x="824.5" y="666.9" font-size="11.3" text-anchor="start" fill="#000">10</text>
<text x="861.6" y="666.9" font-size="11.3" text-anchor="start" fill="#000">15</text>
<text x="807.6" y="676.2" font-size="12" text-anchor="start" fill="#000">Km</text>
<text x="158.2" y="742.9" font-size="11.3" text-anchor="middle" fill="#000">0</text>
<text x="288.18" y="742.9" font-size="11.3" text-anchor="middle" fill="#000">10</text>
<text x="419.26" y="742.9" font-size="11.3" text-anchor="middle" fill="#000">20</text>
<text x="550.34" y="742.9" font-size="11.3" text-anchor="middle" fill="#000">30</text>
<text x="681.42" y="742.9" font-size="11.3" text-anchor="middle" fill="#000">40</text>
<text x="812.5" y="742.9" font-size="11.3" text-anchor="middle" fill="#000">50</text>
<text x="943.58" y="742.9" font-size="11.3" text-anchor="middle" fill="#000">60</text>
<text x="557.2" y="719.2" font-size="21.6" text-anchor="middle" fill="#000">from 06:00:00 to 06:59:59</text>
<text x="772.6" y="83.8" font-size="11.3" text-anchor="middle" fill="#000">6</text>
<text x="784.2" y="83.8" font-size="11.3" text-anchor="middle" fill="#000">:</text>
<text x="815.8" y="83.8" font-size="11.3" text-anchor="middle" fill="#000">29397</text>
<text x="772.6" y="93.9" font-size="11.3" text-anchor="middle" fill="#f00">7</text>
<text x="784.2" y="93.9" font-size="11.3" text-anchor="middle" fill="#f00">:</text>
<text x="815.8" y="93.9" font-size="11.3" text-anchor="middle" fill="#f00">8069</text>
<text x="772.6" y="104.6" font-size="11.3" text-anchor="middle" fill="#000">8</text>
<text x="784.2" y="104.6" font-size="11.3" text-anchor="middle" fill="#000">:</text>
<text x="815.8" y="104.6" font-size="11.3" text-anchor="middle" fill="#000">3238</text>
<text x="772.6" y="114.6" font-size="11.3" text-anchor="middle" fill="#000">9</text>
<text x="784.2" y="114.6" font-size="11.3" text-anchor="middle" fill="#000">:</text>
<text x="815.8" y="114.6" font-size="11.3" text-anchor="middle" fill="#000">1175</text>
<text x="772.6" y="125.6" font-size="11.3" text-anchor="middle" fill="#000">10</text>
<text x="787.6" y="125.6" font-size="11.3" text-anchor="middle" fill="#000">:</text>
<text x="819" y="125.6" font-size="11.3" text-anchor="middle" fill="#000">17</text>
<text x="772.6" y="135.6" font-size="11.3" text-anchor="middle" fill="#000">11</text>
<text x="787.6" y="135.6" font-size="11.3" text-anchor="middle" fill="#000">:</text>
<text x="819" y="135.6" font-size="11.3" text-anchor="middle" fill="#000">0</text>
<text x="772.6" y="145.7" font-size="11.3" text-anchor="middle" fill="#000">12</text>
<text x="787.6" y="145.7" font-size="11.3" text-anchor="middle" fill="#000">:</text>
<text x="819" y="145.7" font-size="11.3" text-anchor="middle" fill="#000">0</text>
</svg>
</body></html>
